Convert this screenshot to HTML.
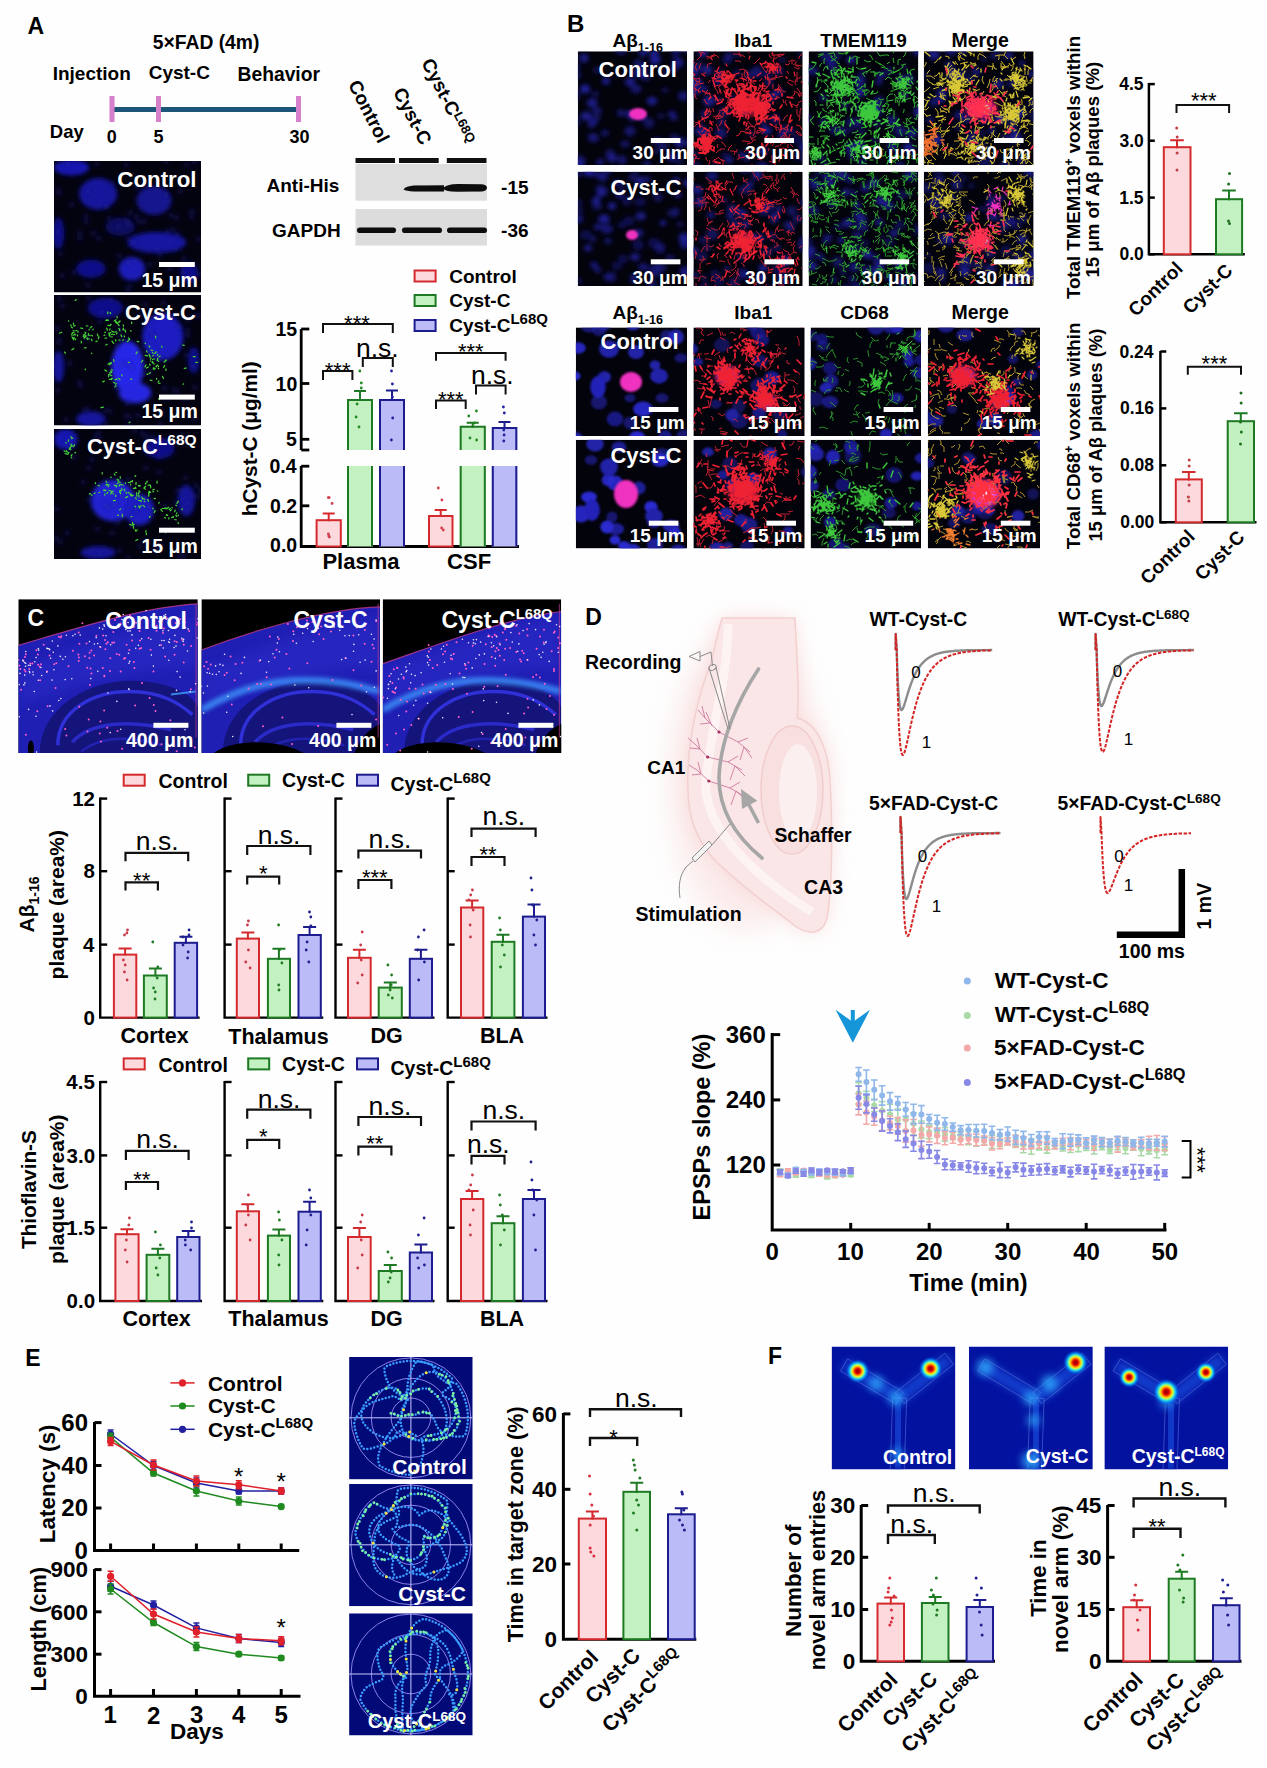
<!DOCTYPE html>
<html><head><meta charset="utf-8"><title>Figure</title>
<style>html,body{margin:0;padding:0;background:#fefefe;}svg{display:block;}text{font-family:"Liberation Sans",sans-serif;}</style>
</head><body>
<svg width="1267" height="1768" viewBox="0 0 1267 1768">
<defs>
<filter id="blurh" x="-20%" y="-50%" width="140%" height="200%"><feGaussianBlur stdDeviation="0.6"/></filter>
<filter id="blur1" x="-20%" y="-50%" width="140%" height="200%"><feGaussianBlur stdDeviation="0.8"/></filter>
<filter id="blur2" x="-50%" y="-50%" width="200%" height="200%"><feGaussianBlur stdDeviation="2"/></filter>
<filter id="blur3" x="-50%" y="-50%" width="200%" height="200%"><feGaussianBlur stdDeviation="4"/></filter>
<filter id="blur6" x="-50%" y="-50%" width="200%" height="200%"><feGaussianBlur stdDeviation="6"/></filter>
<filter id="blur10" x="-50%" y="-50%" width="200%" height="200%"><feGaussianBlur stdDeviation="10"/></filter>
<filter id="blur15" x="-80%" y="-80%" width="260%" height="260%"><feGaussianBlur stdDeviation="15"/></filter>
</defs>
<rect width="1267" height="1768" fill="#fefefe"/>
<text x="27.4" y="33.8" font-size="23" font-weight="bold" fill="#000" >A</text><text x="152.8" y="49.0" font-size="19.3" font-weight="bold" fill="#000" >5×FAD (4m)</text><text x="52.7" y="79.8" font-size="19" font-weight="bold" fill="#000" >Injection</text><text x="148.7" y="79.3" font-size="19" font-weight="bold" fill="#000" >Cyst-C</text><text x="237.5" y="80.5" font-size="19.3" font-weight="bold" fill="#000" >Behavior</text><line x1="110.0" y1="109.5" x2="299.0" y2="109.5" stroke="#1d5679" stroke-width="5" /><line x1="112.0" y1="96.0" x2="112.0" y2="122.0" stroke="#d67fcb" stroke-width="5" /><line x1="158.5" y1="96.0" x2="158.5" y2="122.0" stroke="#d67fcb" stroke-width="5" /><line x1="298.5" y1="96.0" x2="298.5" y2="122.0" stroke="#d67fcb" stroke-width="5" /><text x="49.8" y="137.7" font-size="18.5" font-weight="bold" fill="#000" >Day</text><text x="106.8" y="143.1" font-size="18" font-weight="bold" fill="#000" >0</text><text x="153.4" y="142.9" font-size="18" font-weight="bold" fill="#000" >5</text><text x="289.6" y="143.1" font-size="18" font-weight="bold" fill="#000" >30</text><text x="335.5" y="117.8" font-size="19" font-weight="bold" fill="#000" transform="rotate(63 369.0 111.0)">Control</text><text x="380.2" y="121.7" font-size="19" font-weight="bold" fill="#000" transform="rotate(63 411.0 117.0)">Cyst-C</text><text x="400.0" y="107.1" font-size="19" font-weight="bold" fill="#000" transform="rotate(63 447.0 102.0)">Cyst-C<tspan font-size="13" dy="-5">L68Q</tspan></text><rect x="355.5" y="158.0" width="39.5" height="5.0" fill="#111" /><rect x="399.0" y="158.0" width="39.7" height="5.0" fill="#111" /><rect x="446.8" y="158.0" width="39.7" height="5.0" fill="#111" /><rect x="355.5" y="164.0" width="131.5" height="36.7" fill="#dedede" /><rect x="355.5" y="209.0" width="131.5" height="36.6" fill="#dcdcdc" /><g fill="#0c0c0c" filter="url(#blurh)"><path d="M403.5 189.5 Q406 186 414 185.6 L444 185.2 L444 191.6 L414 191.4 Q406 191 403.5 189.5Z"/><path d="M443 188.5 Q446 184.2 458 184 L482 184.2 Q487 185 487 187.5 Q487 190.8 482 191.5 L458 191.8 Q446 192 443 188.5Z"/><rect x="357" y="227.5" width="39" height="5.6" rx="2.8"/><rect x="402" y="227.5" width="40" height="5.6" rx="2.8"/><rect x="447" y="227.5" width="40" height="5.6" rx="2.8"/></g><text x="266.5" y="192.3" font-size="19" font-weight="bold" fill="#000" >Anti-His</text><text x="272.0" y="237.3" font-size="19" font-weight="bold" fill="#000">GAPDH</text><text x="501.1" y="193.6" font-size="19" font-weight="bold" fill="#000" >-15</text><text x="501.1" y="237.3" font-size="19" font-weight="bold" fill="#000" >-36</text><clipPath id="ca1"><rect x="54" y="161" width="147" height="131.5"/></clipPath><g clip-path="url(#ca1)"><rect x="54.0" y="161.0" width="147.0" height="131.5" fill="#03030f" /><g filter="url(#blur2)"><ellipse cx="98.1" cy="193.9" rx="19.1" ry="15.8" fill="#14149c"/><ellipse cx="154.0" cy="200.4" rx="17.6" ry="14.5" fill="#12128e"/><ellipse cx="156.9" cy="242.5" rx="29.4" ry="10.5" fill="#1414a0"/><ellipse cx="131.9" cy="268.8" rx="13.2" ry="11.8" fill="#1a1ab8"/><ellipse cx="90.8" cy="268.8" rx="14.7" ry="9.2" fill="#10108a"/><ellipse cx="58.4" cy="233.3" rx="5.9" ry="15.8" fill="#10108a"/><ellipse cx="71.6" cy="167.6" rx="17.6" ry="7.9" fill="#1818b0"/><ellipse cx="120.2" cy="226.8" rx="14.7" ry="9.2" fill="#0c0c60"/><ellipse cx="189.2" cy="272.8" rx="8.8" ry="10.5" fill="#10108a"/></g><g filter="url(#blur2)"><path d="M73.8 272.4h0M166.3 194.5h0M126.8 220.1h0M149.8 264.7h0M67.8 164.7h0M176.9 217.9h0M166.1 161.3h0M119.5 255.9h0M87.6 285.3h0M186.5 165.0h0M57.7 232.2h0M192.1 211.1h0M85.8 216.5h0M58.3 190.2h0M118.4 226.2h0M88.3 191.4h0M86.2 221.4h0M96.6 163.8h0M177.1 234.2h0M148.4 185.4h0M199.9 274.1h0M71.8 204.7h0M160.1 254.5h0M191.7 216.5h0M176.0 249.1h0M98.6 238.3h0M183.7 272.3h0M128.3 238.5h0M59.1 192.9h0M171.2 215.5h0M79.4 233.2h0M157.3 249.7h0M109.1 218.7h0M128.7 263.4h0M130.6 212.7h0M126.0 164.9h0M60.4 253.5h0M198.5 239.0h0M111.9 183.4h0M127.8 290.1h0M167.3 232.0h0M180.5 191.5h0M129.5 286.2h0M138.9 221.4h0M93.6 233.1h0M194.7 161.8h0M169.2 268.9h0M184.3 258.4h0M172.9 229.2h0M136.5 217.0h0M62.3 275.4h0M137.8 187.3h0M128.2 224.8h0M106.4 206.5h0M133.2 243.0h0M144.0 221.2h0M58.1 191.2h0M80.1 237.9h0M180.6 266.0h0M171.2 268.4h0" stroke="#1a1a90" stroke-width="6.0" stroke-linecap="round" fill="none" opacity="0.35"/></g></g><clipPath id="ca2"><rect x="54" y="295" width="147" height="130.5"/></clipPath><g clip-path="url(#ca2)"><rect x="54.0" y="295.0" width="147.0" height="130.5" fill="#03030f" /><g filter="url(#blur2)"><ellipse cx="127.5" cy="366.8" rx="16.2" ry="26.1" fill="#2828e8"/><ellipse cx="134.9" cy="392.9" rx="16.2" ry="10.4" fill="#2626e0"/><ellipse cx="162.8" cy="336.8" rx="20.6" ry="23.5" fill="#1a1ac0"/><ellipse cx="105.4" cy="308.1" rx="17.6" ry="10.4" fill="#10108a"/><ellipse cx="90.8" cy="419.0" rx="14.7" ry="7.8" fill="#14149c"/><ellipse cx="58.4" cy="366.8" rx="5.9" ry="15.7" fill="#12129a"/><ellipse cx="193.7" cy="360.2" rx="5.9" ry="13.1" fill="#10108a"/></g><g filter="url(#blur2)"><path d="M194.5 418.7h0M62.3 306.1h0M176.8 391.0h0M152.5 335.2h0M143.1 374.2h0M139.4 315.7h0M117.3 346.4h0M160.3 424.8h0M193.6 366.0h0M119.4 330.0h0M59.3 298.6h0M122.3 336.6h0M109.9 411.4h0M131.3 368.1h0M88.7 298.1h0M101.8 312.8h0M129.0 425.3h0M153.1 318.7h0M185.4 399.0h0M162.0 413.3h0M166.1 398.1h0M106.0 423.0h0M195.4 316.0h0M164.8 388.3h0M121.8 364.2h0M126.0 415.7h0M127.6 403.5h0M106.0 410.2h0M186.3 355.2h0M137.5 415.1h0M160.4 358.5h0M86.6 337.4h0M156.8 316.7h0M187.5 330.0h0M188.0 335.4h0M194.7 387.2h0M128.1 362.6h0M149.8 371.7h0M99.8 322.1h0M129.2 416.9h0M145.6 304.8h0M174.6 389.7h0M187.4 320.0h0M163.5 302.7h0M150.0 330.6h0M87.3 409.3h0M69.6 363.2h0M179.5 327.0h0M84.9 409.9h0M116.2 388.6h0M58.7 342.3h0M79.3 382.8h0M66.2 419.6h0M57.7 390.2h0M57.1 328.4h0M173.6 315.5h0M81.0 385.2h0M110.7 300.6h0M199.5 314.8h0M59.3 339.9h0" stroke="#1a1a90" stroke-width="6.0" stroke-linecap="round" fill="none" opacity="0.35"/></g><path d="M71.4 327.0l0.9 0.8M88.3 335.5l0.2 -2.0M90.5 327.8l1.3 -1.4M75.3 334.9l-0.6 -1.0M86.9 338.4l0.5 -0.5M74.1 330.8l-0.8 -0.1M86.0 332.9l-1.0 -0.8M89.8 335.1l0.4 0.5M84.7 335.0l1.5 1.0M59.4 333.2l2.3 -1.0M81.3 341.2l-0.0 1.7M71.1 325.9l-0.2 -1.0M72.5 337.9l0.6 0.0M77.5 335.9l-0.1 -1.0M84.2 336.6l0.1 0.9M72.3 333.2l-0.7 1.7M84.2 348.0l1.9 -0.4M72.4 337.3l-0.5 -0.3M72.7 338.1l0.3 0.6M82.7 328.3l-2.3 -0.3M75.8 330.7l1.2 -0.1M91.6 335.3l0.9 0.7M86.4 325.9l1.4 0.1M73.3 338.2l0.4 1.6M85.8 336.5l-1.7 1.7M91.4 339.2l0.6 1.5M74.1 338.7l0.0 -1.3M83.2 336.5l1.9 1.1M68.7 321.3l-0.2 -0.5M73.6 324.6l-0.2 -1.5M75.4 339.8l0.3 -1.0M72.2 332.9l2.0 -0.6M93.2 329.0l-0.3 0.9M74.8 334.5l-1.7 0.8M89.0 329.9l0.3 -0.6M64.6 352.1l0.8 1.1M83.3 335.3l2.0 -1.5M78.2 331.4l-0.3 0.9M75.2 325.5l-1.4 0.6M87.4 339.4l1.9 -0.6M124.5 336.9l-0.2 -1.0M123.5 326.2l-0.4 -1.3M131.1 331.1l-0.7 -0.4M113.7 332.2l-1.9 -1.3M120.2 340.0l-1.3 0.1M110.6 313.7l-0.4 -1.4M123.4 329.9l-0.0 -1.8M117.0 316.3l0.3 1.7M105.0 338.2l1.8 -0.2M125.6 332.2l-0.5 -2.2M106.2 319.9l2.4 0.3M114.2 320.9l1.9 -1.2M128.8 340.0l0.1 -0.9M115.3 321.1l0.8 2.0M123.6 339.8l-0.9 0.4M106.7 328.0l0.7 2.3M116.4 331.8l-2.2 0.2M107.7 320.5l-1.8 0.2M112.2 336.9l-0.6 -0.0M128.7 337.8l0.9 1.8M117.7 323.8l-0.9 -1.9M118.9 328.4l0.7 1.1M108.5 333.0l1.6 0.1M124.0 330.0l-1.2 -0.3M99.0 337.1l-0.7 1.7M104.8 332.5l0.6 -0.3M119.1 325.6l-1.3 -1.7M110.7 325.1l0.4 -0.6M109.9 325.7l-2.2 -0.4M119.4 321.0l-0.3 0.9M109.6 333.0l-0.4 2.4M128.2 340.9l-0.9 0.8M114.3 334.4l-0.8 0.2M108.9 333.9l1.9 -1.4M104.0 335.5l1.0 -0.5M121.0 334.9l0.7 1.7M109.9 336.8l0.3 -0.9M120.2 321.2l-1.7 1.2M105.8 345.0l1.4 -0.7M107.8 313.8l-0.1 -2.0M129.8 318.1l0.1 -2.5M112.6 342.1l-0.6 -1.1M111.4 334.5l1.2 -0.3M97.3 334.0l0.9 2.2M117.2 332.9l-0.7 1.0M131.6 323.5l0.1 -1.4M109.5 330.0l0.7 -1.1M113.0 342.4l0.7 0.9M119.3 330.0l0.6 0.7M115.7 339.7l-0.0 1.2M154.1 369.6l-0.9 -0.8M147.0 374.1l0.7 0.3M157.6 355.1l0.1 -0.8M142.7 360.3l-1.1 1.7M149.4 357.0l1.3 0.0M145.9 364.9l-0.9 2.0M147.6 355.9l-2.4 -0.6M165.2 361.6l-1.3 0.4M152.2 362.4l1.9 1.6M163.5 378.4l-1.0 -2.1M158.4 366.5l0.2 -0.5M158.3 368.1l0.4 0.7M152.7 359.3l1.8 -0.3M165.9 368.9l0.1 1.5M151.0 361.1l-0.6 -0.0M158.1 382.3l0.7 -1.4M149.0 345.9l0.9 1.1M155.9 366.2l0.7 0.6M157.8 364.9l-1.3 1.2M162.0 347.5l-0.3 -1.5M157.0 360.1l1.7 1.3M151.1 358.4l-0.8 0.8M148.3 366.9l-1.7 1.2M156.8 352.0l-1.1 0.2M155.6 336.1l0.2 1.9M151.2 350.2l1.6 0.3M155.1 368.6l-1.6 -0.9M147.1 352.2l-0.4 -1.4M163.6 367.5l1.0 -1.9M152.6 361.4l0.2 0.7M149.1 354.2l0.9 2.2M166.4 360.2l-1.1 0.2M156.8 379.3l-0.3 -1.0M160.2 356.0l-1.1 0.7M152.8 353.0l-0.4 -0.6M152.6 355.9l0.8 -0.5M150.3 372.7l-1.2 1.0M157.5 360.0l0.3 -1.9M155.4 353.2l-1.1 0.3M149.5 364.0l0.5 1.4M114.6 382.9l-1.0 -0.5M115.7 384.2l0.6 -0.7M108.0 364.4l1.4 -1.2M111.7 379.1l0.6 -0.9M121.7 374.8l0.4 1.1M111.4 379.7l-0.2 -1.2M108.5 376.8l0.3 -0.5M110.7 371.0l1.0 1.4M111.7 375.7l-2.0 -1.2M109.6 364.9l0.8 -2.2M115.0 379.6l2.3 -0.5M114.8 386.9l1.2 -1.2M111.2 362.7l0.1 0.9M118.8 378.4l1.1 1.3M109.1 379.5l1.3 -0.2M108.5 374.7l0.2 0.9M104.8 369.9l2.0 1.3M112.1 370.6l-0.3 -1.3M110.8 372.9l-1.5 -0.1M114.0 361.5l-0.5 -1.9M129.3 362.3l-0.8 0.1M151.9 380.5l-1.7 -0.4M63.6 279.3l1.3 1.0M183.7 383.9l-0.7 0.3M103.4 407.2l-2.4 0.4M102.8 381.9l1.5 -0.8M187.9 396.4l-1.6 1.8M75.1 300.4l1.2 -0.9M137.3 351.9l-1.2 1.8M193.3 356.7l1.9 0.0M138.9 341.8l-1.7 -0.4M85.2 369.8l0.2 -0.8M184.3 368.4l2.1 -0.4M110.4 324.7l0.5 -0.3M129.1 422.7l1.0 -0.8M145.5 343.5l-0.5 -0.4M130.5 379.0l1.3 0.1M91.7 353.7l-0.3 -0.5M73.8 348.5l-1.9 1.3M160.1 383.2l-1.2 0.3M184.2 345.3l-1.4 -0.2M27.4 390.5l0.6 -1.7M158.5 398.6l0.8 0.9M195.7 362.5l1.8 -0.2M97.2 341.1l-1.3 0.5" stroke="#48d838" stroke-width="1.2" fill="none" stroke-linecap="round"/></g><clipPath id="ca3"><rect x="54" y="429" width="147" height="130"/></clipPath><g clip-path="url(#ca3)"><rect x="54.0" y="429.0" width="147.0" height="130.0" fill="#03030f" /><g filter="url(#blur2)"><ellipse cx="112.8" cy="500.5" rx="22.1" ry="20.8" fill="#2020d0"/><ellipse cx="139.3" cy="509.6" rx="14.7" ry="15.6" fill="#1c1cc0"/><ellipse cx="65.8" cy="439.4" rx="11.8" ry="10.4" fill="#1818b0"/><ellipse cx="186.3" cy="500.5" rx="8.8" ry="15.6" fill="#12129a"/><ellipse cx="98.1" cy="552.5" rx="17.6" ry="6.5" fill="#12129a"/><ellipse cx="159.8" cy="448.5" rx="14.7" ry="10.4" fill="#10108a"/></g><g filter="url(#blur2)"><path d="M89.0 499.7h0M108.4 507.5h0M146.0 437.5h0M55.9 537.9h0M92.1 459.5h0M200.4 490.1h0M177.0 490.9h0M147.9 448.6h0M147.3 541.8h0M130.9 525.4h0M152.7 437.3h0M165.5 505.8h0M98.3 433.0h0M181.2 490.5h0M159.7 543.2h0M159.0 548.7h0M112.1 533.1h0M119.4 550.6h0M183.2 441.7h0M74.0 457.2h0M195.9 485.7h0M146.1 468.1h0M128.6 479.2h0M105.6 505.1h0M139.9 546.5h0M154.3 549.8h0M179.9 557.8h0M152.7 450.2h0M180.5 554.4h0M187.0 503.0h0M158.9 456.4h0M176.2 503.6h0M95.9 437.2h0M179.5 557.7h0M67.0 533.1h0M114.3 448.6h0M97.2 528.9h0M182.3 434.7h0M144.3 434.8h0M159.6 472.0h0M183.5 556.5h0M128.3 558.8h0M99.5 439.0h0M142.2 433.1h0M83.0 482.0h0M143.7 449.3h0M60.2 541.8h0M100.1 553.6h0M185.8 478.1h0M121.7 496.6h0M148.7 506.4h0M136.2 509.6h0M192.3 494.9h0M117.4 522.6h0M88.9 468.1h0M197.7 496.7h0M134.6 430.5h0M115.0 504.4h0M56.9 509.1h0M146.9 436.8h0" stroke="#1a1a90" stroke-width="6.0" stroke-linecap="round" fill="none" opacity="0.35"/></g><path d="M106.6 482.3l-0.5 -1.1M110.6 477.2l0.6 0.1M102.2 472.6l-0.0 1.4M107.1 484.4l-0.7 0.8M105.0 493.9l-0.4 1.2M116.1 486.0l-1.8 -0.8M112.7 491.8l0.3 -0.9M120.6 493.9l-0.2 -0.7M111.1 492.8l0.7 -1.2M120.1 484.4l-0.9 1.5M125.4 482.8l0.1 0.7M108.2 486.7l0.8 -2.0M119.6 492.3l0.7 -1.7M119.5 481.9l0.7 0.8M118.3 482.5l-0.8 1.1M105.2 490.7l0.7 -0.4M143.9 488.0l1.8 -1.7M89.4 493.9l0.9 -0.4M115.1 475.1l-0.8 -1.3M113.1 493.3l0.1 0.6M107.5 484.7l0.2 -0.5M130.6 481.8l2.1 -1.0M128.2 482.5l2.0 0.2M120.4 492.3l-0.8 -1.3M91.9 495.4l-0.9 -0.8M115.4 500.4l-2.0 0.3M111.1 491.0l-2.1 -0.5M125.6 497.6l1.9 -1.0M116.4 486.8l-1.5 -1.6M124.6 489.1l-0.2 1.5M104.0 490.9l0.1 -0.5M121.5 488.6l0.5 0.5M138.5 485.5l1.3 0.8M111.6 492.7l-1.1 1.4M106.2 484.3l0.4 1.1M126.4 493.3l-0.3 -1.2M122.2 489.5l-1.2 1.2M118.1 481.3l0.6 -1.6M105.4 490.1l-1.9 0.0M99.8 492.3l-1.0 0.2M98.1 485.3l1.2 0.6M94.1 493.5l1.2 -0.5M132.4 480.6l-0.1 1.4M131.1 495.8l-1.2 -2.0M120.3 478.2l-0.1 -1.6M128.2 492.7l0.8 0.0M116.3 485.6l0.6 0.4M121.1 484.7l2.2 0.3M132.1 496.1l-1.0 -1.9M130.5 485.0l0.2 -0.5M117.3 479.8l-0.1 -0.7M115.6 472.3l1.1 0.4M95.4 482.7l0.0 0.9M115.7 496.5l0.0 -1.3M107.8 492.3l-0.8 1.1M154.1 498.6l1.3 -0.2M145.1 489.4l-0.7 -1.9M140.2 485.6l-1.8 0.2M149.1 491.3l1.6 1.1M154.4 489.3l-1.8 0.7M147.9 499.7l0.5 1.6M142.6 499.2l-0.8 -2.3M141.2 505.7l-1.9 1.1M139.1 490.9l0.1 0.5M136.5 495.0l0.6 1.1M138.5 506.1l1.5 2.0M133.3 495.3l-2.1 0.4M150.0 485.0l-1.9 0.2M150.7 487.8l-0.2 -2.4M138.9 495.1l0.2 1.9M135.1 476.4l0.6 -0.8M147.7 499.6l0.7 1.8M157.1 481.0l-0.1 2.2M141.5 501.5l-0.1 -0.7M159.1 502.1l-0.3 1.2M133.6 488.3l1.2 0.1M135.8 497.5l0.4 1.6M153.6 491.8l-0.7 -0.2M143.1 505.4l1.7 1.5M148.5 492.1l1.2 -0.4M147.2 481.0l-0.5 1.8M136.1 482.4l-0.2 2.0M157.9 491.2l-0.7 -0.2M136.9 494.3l-0.3 -1.8M140.0 492.0l-1.1 -1.4M153.1 508.8l-0.4 -0.6M149.6 492.2l-1.0 1.7M136.0 488.3l-0.8 -1.1M143.0 498.5l1.8 0.8M145.5 484.2l-0.1 -1.2M144.3 501.6l0.4 -0.4M138.5 493.8l0.2 -1.2M140.7 500.9l-2.0 -0.5M134.8 506.1l0.8 0.7M148.6 496.2l0.4 -1.9M173.5 516.6l-1.7 1.0M176.5 505.6l-0.7 -0.4M167.7 515.5l-1.6 -0.3M173.3 517.3l0.1 -0.5M176.7 503.2l1.2 -0.4M162.4 511.3l-1.6 -1.8M169.2 509.5l1.0 -1.1M162.1 508.5l2.0 0.0M167.1 508.4l-1.4 -0.2M174.7 519.5l1.5 0.3M166.8 509.0l-2.2 -1.0M174.7 511.7l0.5 -1.7M178.2 515.0l0.1 0.7M155.2 510.6l-1.0 2.0M170.3 510.9l1.1 -1.3M182.1 509.8l-0.1 -1.2M177.5 502.2l0.9 -1.0M172.0 507.5l0.5 0.4M175.9 515.1l0.8 1.3M168.7 507.4l-1.6 0.8M168.8 519.0l0.1 -1.3M178.3 523.6l-0.2 -1.2M165.4 518.1l-0.8 -0.5M176.6 513.6l0.2 -0.8M166.9 514.4l0.2 0.8M66.5 451.6l0.7 0.1M71.2 457.7l0.5 0.2M64.4 451.5l-0.2 -0.6M65.1 453.7l2.4 0.4M69.1 452.5l-0.8 0.1M65.8 442.7l0.4 0.4M68.2 441.3l0.4 -1.4M72.1 445.4l-0.0 1.0M71.2 436.7l-0.4 0.6M63.9 426.6l-0.4 -0.3M70.6 449.3l0.3 0.5M74.8 452.9l0.7 -0.5M73.7 446.8l0.8 -2.2M69.8 447.6l-0.6 1.6M70.5 447.2l-0.6 2.1M72.0 454.5l-0.9 1.6M71.2 446.1l-0.1 -2.0M71.6 438.6l1.1 -0.5M66.0 451.9l0.3 -1.4M68.4 454.0l-0.3 -1.7M132.0 516.5l-0.8 0.1M134.2 524.3l-2.0 0.4M132.5 522.3l0.2 2.2M119.7 509.8l1.0 -1.0M150.1 516.3l-0.6 1.1M145.5 531.1l0.7 -0.2M129.7 524.4l1.6 0.9M135.1 529.8l1.0 1.5M133.3 525.7l0.3 2.4M137.7 539.6l-1.8 1.0M118.4 515.3l-0.9 -0.2M136.9 530.3l0.3 -0.6M165.1 530.6l0.7 2.2M146.1 532.5l0.4 2.1M122.2 516.6l0.2 -2.2" stroke="#48d838" stroke-width="1.2" fill="none" stroke-linecap="round"/></g><text x="117.3" y="187.2" font-size="22.3" font-weight="bold" fill="#fff">Control</text><text x="124.9" y="319.8" font-size="22" font-weight="bold" fill="#fff">Cyst-C</text><text x="86.9" y="454.0" font-size="22" font-weight="bold" fill="#fff">Cyst-C<tspan font-size="15.5" dy="-9">L68Q</tspan></text><rect x="159.0" y="262.0" width="35.8" height="5.0" fill="#fff" /><text x="141.5" y="286.9" font-size="19.5" font-weight="bold" fill="#fff">15 μm</text><rect x="159.0" y="394.6" width="35.8" height="5.0" fill="#fff" /><text x="141.5" y="418.4" font-size="19.5" font-weight="bold" fill="#fff">15 μm</text><rect x="159.0" y="527.7" width="35.8" height="5.0" fill="#fff" /><text x="141.5" y="552.9" font-size="19.5" font-weight="bold" fill="#fff">15 μm</text><path d="M301.2 329V450M301.2 466V546.5H519" stroke="#000" stroke-width="2.8" fill="none"/><line x1="301.2" y1="329.0" x2="309.3" y2="329.0" stroke="#000" stroke-width="2.8" /><line x1="301.2" y1="383.5" x2="309.3" y2="383.5" stroke="#000" stroke-width="2.8" /><line x1="301.2" y1="439.3" x2="309.3" y2="439.3" stroke="#000" stroke-width="2.8" /><line x1="301.2" y1="450.0" x2="309.3" y2="450.0" stroke="#000" stroke-width="2.8" /><line x1="301.2" y1="466.2" x2="309.3" y2="466.2" stroke="#000" stroke-width="2.8" /><line x1="301.2" y1="505.8" x2="309.3" y2="505.8" stroke="#000" stroke-width="2.8" /><text x="275.4" y="336.0" font-size="19.5" font-weight="bold" fill="#000">15</text><text x="275.6" y="390.7" font-size="19.5" font-weight="bold" fill="#000">10</text><text x="286.1" y="446.0" font-size="19.5" font-weight="bold" fill="#000">5</text><text x="269.4" y="472.9" font-size="19.5" font-weight="bold" fill="#000">0.4</text><text x="270.1" y="512.7" font-size="19.5" font-weight="bold" fill="#000">0.2</text><text x="270.1" y="552.2" font-size="19.5" font-weight="bold" fill="#000">0.0</text><text x="174.4" y="444.0" font-size="20.8" font-weight="bold" fill="#000" transform="rotate(-90 252.0 438.6)">hCyst-C (μg/ml)</text><rect x="316.6" y="520.2" width="24.2" height="26.3" fill="#fcd9dc" stroke="#d42a2e" stroke-width="2"/><path d="M328.7 521.2V513.5M322.7 513.5H334.7" stroke="#d42a2e" stroke-width="2" fill="none"/><g fill="#d04050"><circle cx="328.3" cy="497.6" r="1.4"/><circle cx="329.2" cy="497.6" r="1.4"/><circle cx="332.1" cy="503.5" r="1.4"/><circle cx="328.4" cy="534.0" r="1.4"/><circle cx="328.8" cy="536.0" r="1.4"/><circle cx="329.4" cy="537.0" r="1.4"/></g><rect x="347.0" y="399.0" width="26.0" height="51.0" fill="#c4f1c2" /><rect x="347.0" y="466.0" width="26.0" height="80.5" fill="#c4f1c2" /><path d="M348 450V400H372V450M348 466V546.5M372 466V546.5" stroke="#1d7a22" stroke-width="2" fill="none"/><path d="M360.0 401.0V391.0M354.0 391.0H366.0" stroke="#1d7a22" stroke-width="2" fill="none"/><g fill="#208a20"><circle cx="359.8" cy="371.0" r="1.4"/><circle cx="361.3" cy="383.0" r="1.4"/><circle cx="361.3" cy="388.0" r="1.4"/><circle cx="357.1" cy="404.0" r="1.4"/><circle cx="356.1" cy="417.0" r="1.4"/><circle cx="359.0" cy="427.0" r="1.4"/></g><rect x="379.0" y="399.0" width="26.0" height="51.0" fill="#bbbbf7" /><rect x="379.0" y="466.0" width="26.0" height="80.5" fill="#bbbbf7" /><path d="M380 450V400H404V450M380 466V546.5M404 466V546.5" stroke="#1c1c8e" stroke-width="2" fill="none"/><path d="M392.0 401.0V390.5M386.0 390.5H398.0" stroke="#1c1c8e" stroke-width="2" fill="none"/><g fill="#2020a0"><circle cx="391.5" cy="371.0" r="1.4"/><circle cx="392.4" cy="384.0" r="1.4"/><circle cx="392.4" cy="397.0" r="1.4"/><circle cx="392.7" cy="418.0" r="1.4"/><circle cx="391.4" cy="440.0" r="1.4"/></g><rect x="429.0" y="516.0" width="23.5" height="30.5" fill="#fcd9dc" stroke="#d42a2e" stroke-width="2"/><path d="M440.7 517.0V510.0M434.7 510.0H446.7" stroke="#d42a2e" stroke-width="2" fill="none"/><g fill="#d04050"><circle cx="438.3" cy="488.0" r="1.4"/><circle cx="441.9" cy="500.0" r="1.4"/><circle cx="441.6" cy="528.0" r="1.4"/><circle cx="443.3" cy="530.0" r="1.4"/></g><rect x="459.7" y="425.8" width="26.1" height="24.2" fill="#c4f1c2" /><rect x="459.7" y="466.0" width="26.1" height="80.5" fill="#c4f1c2" /><path d="M460.7 450V426.8H484.8V450M460.7 466V546.5M484.8 466V546.5" stroke="#1d7a22" stroke-width="2" fill="none"/><path d="M472.7 427.8V422.8M466.7 422.8H478.7" stroke="#1d7a22" stroke-width="2" fill="none"/><g fill="#208a20"><circle cx="476.4" cy="411.0" r="1.4"/><circle cx="468.8" cy="416.0" r="1.4"/><circle cx="474.6" cy="423.0" r="1.4"/><circle cx="470.0" cy="438.0" r="1.4"/><circle cx="476.6" cy="440.0" r="1.4"/></g><rect x="491.8" y="427.0" width="25.5" height="23.0" fill="#bbbbf7" /><rect x="491.8" y="466.0" width="25.5" height="80.5" fill="#bbbbf7" /><path d="M492.8 450V428H516.3V450M492.8 466V546.5M516.3 466V546.5" stroke="#1c1c8e" stroke-width="2" fill="none"/><path d="M504.5 429.0V422.0M498.5 422.0H510.5" stroke="#1c1c8e" stroke-width="2" fill="none"/><g fill="#2020a0"><circle cx="503.4" cy="407.0" r="1.4"/><circle cx="504.3" cy="413.0" r="1.4"/><circle cx="503.8" cy="430.0" r="1.4"/><circle cx="504.1" cy="435.0" r="1.4"/><circle cx="503.8" cy="441.0" r="1.4"/></g><path d="M323.0 333.0V324.0H392.8V333.0" stroke="#111" stroke-width="2" fill="none"/><text x="344.1" y="330.9" font-size="22" font-weight="normal" fill="#000">***</text><path d="M362.8 367.0V358.0H392.8V367.0" stroke="#111" stroke-width="2" fill="none"/><text x="355.9" y="356.6" font-size="26.5" font-weight="normal" fill="#000">n.s.</text><path d="M323.0 380.0V371.0H352.4V380.0" stroke="#111" stroke-width="2" fill="none"/><text x="324.8" y="377.8" font-size="22" font-weight="normal" fill="#000">***</text><path d="M436.0 360.7V353.0H505.6V360.7" stroke="#111" stroke-width="2" fill="none"/><text x="457.9" y="358.9" font-size="22" font-weight="normal" fill="#000">***</text><path d="M476.0 394.6V385.5H505.6V394.6" stroke="#111" stroke-width="2" fill="none"/><text x="470.9" y="384.0" font-size="26.5" font-weight="normal" fill="#000">n.s.</text><path d="M436.0 409.0V400.5H465.7V409.0" stroke="#111" stroke-width="2" fill="none"/><text x="437.9" y="407.2" font-size="22" font-weight="normal" fill="#000">***</text><text x="322.4" y="569.1" font-size="22" font-weight="bold" fill="#000">Plasma</text><text x="447.1" y="568.8" font-size="22" font-weight="bold" fill="#000">CSF</text><rect x="414.6" y="270.5" width="21" height="11" fill="#fcd9dc" stroke="#d42a2e" stroke-width="2"/><rect x="414.6" y="295" width="21" height="11" fill="#c4f1c2" stroke="#1d7a22" stroke-width="2"/><rect x="414.6" y="320" width="21" height="11" fill="#bbbbf7" stroke="#1c1c8e" stroke-width="2"/><text x="449.2" y="283.3" font-size="19" font-weight="bold" fill="#000" >Control</text><text x="449.2" y="307.3" font-size="19" font-weight="bold" fill="#000" >Cyst-C</text><text x="449.2" y="332.3" font-size="19" font-weight="bold" fill="#000">Cyst-C<tspan font-size="15" dy="-8">L68Q</tspan></text><text x="567.1" y="32.3" font-size="24" font-weight="bold" fill="#000" >B</text><text x="612.5" y="46.6" font-size="19" font-weight="bold">Aβ<tspan font-size="12.5" dy="5">1-16</tspan></text><text x="734.3" y="47.3" font-size="19" font-weight="bold" fill="#000" >Iba1</text><text x="820.3" y="46.8" font-size="19" font-weight="bold" fill="#000" >TMEM119</text><text x="951.4" y="46.9" font-size="19.5" font-weight="bold" fill="#000" >Merge</text><text x="612.5" y="318.7" font-size="19" font-weight="bold">Aβ<tspan font-size="12.5" dy="5">1-16</tspan></text><text x="734.3" y="319.4" font-size="19" font-weight="bold" fill="#000" >Iba1</text><text x="840.2" y="318.9" font-size="19" font-weight="bold" fill="#000" >CD68</text><text x="951.4" y="319.0" font-size="19.5" font-weight="bold" fill="#000" >Merge</text><clipPath id="m1"><rect x="577.8" y="51.3" width="109.2" height="113.7"/></clipPath><g clip-path="url(#m1)"><rect x="577.8" y="51.3" width="109.2" height="113.7" fill="#03030c" /><g fill="#1c1c90" filter="url(#blur2)"><ellipse cx="592" cy="103" rx="5.3" ry="4.8" opacity="0.9"/><ellipse cx="625" cy="144" rx="4.6" ry="3.3" opacity="0.7"/><ellipse cx="580" cy="160" rx="5.8" ry="4.7" opacity="0.6"/><ellipse cx="663" cy="73" rx="3.5" ry="2.7" opacity="0.6"/><ellipse cx="647" cy="164" rx="3.6" ry="3.6" opacity="0.8"/><ellipse cx="679" cy="146" rx="3.5" ry="3.1" opacity="0.5"/><ellipse cx="575" cy="96" rx="5.3" ry="4.6" opacity="0.6"/><ellipse cx="672" cy="158" rx="3.7" ry="3.1" opacity="0.8"/><ellipse cx="679" cy="63" rx="4.7" ry="4.6" opacity="0.8"/><ellipse cx="657" cy="141" rx="4.5" ry="3.6" opacity="0.8"/><ellipse cx="636" cy="89" rx="5.6" ry="4.5" opacity="0.7"/><ellipse cx="663" cy="146" rx="5.7" ry="5.1" opacity="0.6"/><ellipse cx="672" cy="157" rx="5.1" ry="4.8" opacity="0.7"/><ellipse cx="632" cy="118" rx="3.4" ry="3.1" opacity="0.9"/><ellipse cx="594" cy="139" rx="5.1" ry="3.8" opacity="0.5"/><ellipse cx="643" cy="75" rx="3.9" ry="3.5" opacity="0.8"/><ellipse cx="661" cy="116" rx="4.0" ry="2.8" opacity="0.5"/><ellipse cx="597" cy="111" rx="5.2" ry="3.9" opacity="0.7"/><ellipse cx="683" cy="96" rx="5.1" ry="4.6" opacity="0.8"/><ellipse cx="630" cy="114" rx="5.1" ry="3.8" opacity="0.9"/><ellipse cx="675" cy="54" rx="3.6" ry="2.8" opacity="0.5"/><ellipse cx="591" cy="125" rx="3.4" ry="2.4" opacity="1.0"/><ellipse cx="621" cy="113" rx="4.4" ry="3.6" opacity="0.7"/><ellipse cx="597" cy="118" rx="3.8" ry="2.8" opacity="0.6"/><ellipse cx="622" cy="160" rx="4.8" ry="4.8" opacity="0.7"/><ellipse cx="605" cy="133" rx="3.6" ry="3.6" opacity="0.7"/><ellipse cx="606" cy="81" rx="3.9" ry="3.8" opacity="1.0"/><ellipse cx="639" cy="76" rx="3.0" ry="2.2" opacity="0.6"/><ellipse cx="649" cy="123" rx="5.6" ry="5.3" opacity="0.6"/><ellipse cx="652" cy="101" rx="5.2" ry="3.9" opacity="1.0"/><ellipse cx="577" cy="122" rx="4.1" ry="3.8" opacity="0.5"/><ellipse cx="677" cy="49" rx="5.2" ry="4.7" opacity="0.7"/><ellipse cx="595" cy="94" rx="4.3" ry="3.3" opacity="0.5"/><ellipse cx="672" cy="114" rx="3.8" ry="3.4" opacity="0.8"/><ellipse cx="590" cy="118" rx="4.8" ry="3.5" opacity="0.6"/><ellipse cx="674" cy="118" rx="3.7" ry="3.0" opacity="0.7"/><ellipse cx="656" cy="151" rx="3.3" ry="2.3" opacity="0.7"/><ellipse cx="577" cy="67" rx="3.3" ry="2.4" opacity="0.8"/><ellipse cx="586" cy="116" rx="5.9" ry="4.4" opacity="0.9"/><ellipse cx="642" cy="69" rx="5.8" ry="5.4" opacity="0.7"/><ellipse cx="677" cy="61" rx="5.5" ry="5.2" opacity="0.5"/><ellipse cx="680" cy="142" rx="5.7" ry="4.5" opacity="0.9"/><ellipse cx="665" cy="90" rx="3.1" ry="2.2" opacity="0.7"/><ellipse cx="638" cy="63" rx="4.9" ry="3.5" opacity="0.7"/><ellipse cx="634" cy="73" rx="3.1" ry="3.1" opacity="0.9"/><ellipse cx="643" cy="52" rx="4.6" ry="4.5" opacity="0.9"/><ellipse cx="654" cy="53" rx="4.7" ry="3.6" opacity="1.0"/><ellipse cx="576" cy="75" rx="5.6" ry="4.2" opacity="0.6"/><ellipse cx="610" cy="154" rx="5.1" ry="5.0" opacity="0.6"/><ellipse cx="585" cy="89" rx="5.3" ry="4.7" opacity="1.0"/><ellipse cx="657" cy="58" rx="3.9" ry="3.0" opacity="0.6"/><ellipse cx="652" cy="101" rx="5.3" ry="3.7" opacity="0.9"/><ellipse cx="593" cy="137" rx="5.5" ry="3.9" opacity="0.7"/><ellipse cx="687" cy="49" rx="4.5" ry="3.7" opacity="0.7"/><ellipse cx="597" cy="70" rx="3.8" ry="2.9" opacity="0.6"/><ellipse cx="679" cy="162" rx="3.8" ry="2.7" opacity="0.6"/><ellipse cx="673" cy="69" rx="5.0" ry="3.6" opacity="0.6"/><ellipse cx="594" cy="122" rx="4.1" ry="3.8" opacity="0.7"/><ellipse cx="621" cy="51" rx="5.5" ry="3.9" opacity="0.7"/><ellipse cx="689" cy="143" rx="4.1" ry="4.0" opacity="0.6"/><ellipse cx="642" cy="117" rx="5.2" ry="4.1" opacity="0.7"/><ellipse cx="612" cy="158" rx="5.2" ry="4.2" opacity="0.9"/><ellipse cx="646" cy="78" rx="4.5" ry="3.3" opacity="0.6"/><ellipse cx="584" cy="58" rx="4.8" ry="4.6" opacity="0.9"/><ellipse cx="600" cy="162" rx="4.0" ry="3.6" opacity="0.8"/><ellipse cx="630" cy="131" rx="5.7" ry="5.2" opacity="0.7"/><ellipse cx="674" cy="138" rx="4.1" ry="4.1" opacity="0.7"/><ellipse cx="579" cy="164" rx="5.8" ry="5.0" opacity="0.9"/><ellipse cx="655" cy="60" rx="5.4" ry="4.8" opacity="1.0"/><ellipse cx="630" cy="82" rx="5.3" ry="4.6" opacity="0.9"/></g><ellipse cx="638" cy="114" rx="9" ry="6" fill="#f030c0" opacity="1" filter="url(#blur1)"/></g><clipPath id="m2"><rect x="693.4" y="51.3" width="109.3" height="113.7"/></clipPath><g clip-path="url(#m2)"><rect x="693.4" y="51.3" width="109.3" height="113.7" fill="#03030c" /><g fill="#1c1c90" filter="url(#blur2)"><ellipse cx="757" cy="72" rx="5.9" ry="5.8" opacity="0.7"/><ellipse cx="767" cy="74" rx="3.7" ry="2.9" opacity="0.8"/><ellipse cx="715" cy="165" rx="3.2" ry="2.4" opacity="0.5"/><ellipse cx="779" cy="92" rx="4.4" ry="3.5" opacity="0.8"/><ellipse cx="737" cy="73" rx="4.3" ry="3.4" opacity="0.5"/><ellipse cx="785" cy="130" rx="5.0" ry="4.8" opacity="0.7"/><ellipse cx="734" cy="99" rx="4.2" ry="3.8" opacity="0.5"/><ellipse cx="744" cy="112" rx="4.0" ry="2.9" opacity="0.8"/><ellipse cx="691" cy="116" rx="3.5" ry="2.5" opacity="0.5"/><ellipse cx="698" cy="66" rx="5.1" ry="4.6" opacity="0.6"/><ellipse cx="766" cy="105" rx="4.5" ry="4.3" opacity="0.6"/><ellipse cx="791" cy="131" rx="5.1" ry="3.5" opacity="0.5"/><ellipse cx="694" cy="90" rx="5.8" ry="5.6" opacity="0.9"/><ellipse cx="704" cy="133" rx="5.3" ry="5.0" opacity="0.9"/><ellipse cx="707" cy="70" rx="5.4" ry="5.0" opacity="0.9"/><ellipse cx="742" cy="155" rx="3.4" ry="3.4" opacity="0.9"/><ellipse cx="729" cy="56" rx="4.6" ry="4.2" opacity="0.6"/><ellipse cx="697" cy="82" rx="5.5" ry="4.0" opacity="1.0"/><ellipse cx="719" cy="73" rx="3.3" ry="3.3" opacity="0.9"/><ellipse cx="727" cy="60" rx="5.0" ry="4.8" opacity="0.5"/><ellipse cx="763" cy="151" rx="4.4" ry="3.8" opacity="0.9"/><ellipse cx="718" cy="81" rx="5.0" ry="4.3" opacity="0.7"/><ellipse cx="729" cy="160" rx="3.9" ry="3.5" opacity="0.9"/><ellipse cx="737" cy="55" rx="3.7" ry="2.6" opacity="0.5"/><ellipse cx="704" cy="89" rx="4.1" ry="3.4" opacity="0.8"/><ellipse cx="768" cy="131" rx="4.1" ry="3.7" opacity="0.8"/><ellipse cx="705" cy="114" rx="4.0" ry="3.6" opacity="0.9"/><ellipse cx="718" cy="100" rx="4.4" ry="3.4" opacity="0.5"/><ellipse cx="696" cy="167" rx="5.2" ry="4.3" opacity="0.8"/><ellipse cx="721" cy="133" rx="5.9" ry="5.5" opacity="0.7"/><ellipse cx="804" cy="159" rx="3.2" ry="2.6" opacity="0.7"/><ellipse cx="722" cy="122" rx="3.4" ry="3.2" opacity="0.9"/><ellipse cx="698" cy="131" rx="3.8" ry="3.4" opacity="0.8"/><ellipse cx="803" cy="144" rx="4.0" ry="3.7" opacity="0.5"/><ellipse cx="773" cy="98" rx="3.8" ry="2.9" opacity="0.6"/><ellipse cx="782" cy="60" rx="3.7" ry="2.8" opacity="0.5"/><ellipse cx="775" cy="119" rx="5.0" ry="4.8" opacity="0.7"/><ellipse cx="695" cy="71" rx="4.5" ry="4.2" opacity="1.0"/><ellipse cx="749" cy="75" rx="4.8" ry="4.7" opacity="0.6"/><ellipse cx="798" cy="156" rx="4.7" ry="4.0" opacity="0.5"/><ellipse cx="703" cy="53" rx="4.8" ry="4.4" opacity="1.0"/><ellipse cx="760" cy="167" rx="4.2" ry="3.1" opacity="0.5"/><ellipse cx="724" cy="112" rx="6.0" ry="4.7" opacity="0.6"/><ellipse cx="774" cy="95" rx="4.7" ry="3.5" opacity="0.9"/><ellipse cx="796" cy="139" rx="5.8" ry="4.6" opacity="0.5"/><ellipse cx="726" cy="156" rx="4.4" ry="3.4" opacity="0.5"/><ellipse cx="709" cy="101" rx="5.8" ry="5.6" opacity="0.9"/><ellipse cx="778" cy="71" rx="5.3" ry="4.1" opacity="0.7"/><ellipse cx="694" cy="155" rx="3.4" ry="3.0" opacity="0.8"/><ellipse cx="765" cy="130" rx="4.1" ry="3.9" opacity="1.0"/><ellipse cx="762" cy="166" rx="5.5" ry="4.0" opacity="0.8"/><ellipse cx="701" cy="127" rx="4.1" ry="3.9" opacity="0.5"/><ellipse cx="800" cy="54" rx="3.2" ry="2.2" opacity="0.5"/><ellipse cx="804" cy="148" rx="5.8" ry="4.3" opacity="0.8"/><ellipse cx="782" cy="135" rx="3.8" ry="3.8" opacity="0.9"/><ellipse cx="769" cy="82" rx="4.2" ry="3.9" opacity="0.7"/><ellipse cx="747" cy="158" rx="4.3" ry="4.1" opacity="0.5"/><ellipse cx="752" cy="134" rx="3.0" ry="2.8" opacity="0.6"/><ellipse cx="763" cy="123" rx="3.4" ry="3.4" opacity="0.6"/><ellipse cx="706" cy="101" rx="3.2" ry="2.3" opacity="0.9"/></g><ellipse cx="748" cy="106" rx="16" ry="10" fill="#ff2244" opacity="0.7" filter="url(#blur2)"/><path d="M704 113l3 -2 4 0M711 60l1 -4 3 -2M749 160l-0 -4 1 -1M774 118l3 0 3 2M755 84l-4 -2 0 -3M773 61l2 3 -0 1M710 108l-1 2 1 2M780 71l1 -2 -1 -4M694 88l2 2 -1 2M772 155l0 5 2 4M757 91l3 -3 1 -3M726 84l5 -2 2 -4M771 53l3 2 -0 4M721 102l2 -1 0 -3M768 151l1 -1 0 -2M759 97l3 -2 4 -1M716 153l3 -3 2 -0M699 93l-1 -3 3 -3M770 106l3 4 3 0M776 124l0 5 1 2M741 131l4 1 4 1M733 116l2 -0 3 1M726 83l1 4 4 3M750 84l1 -4 1 -1M769 54l1 3 2 1M756 136l-3 2 -2 -0M802 54l-3 3 -0 2M712 162l2 -2 1 -1M695 76l-1 -3 -2 -2M702 90l4 3 4 1M730 99l-2 -1 -3 -2M701 74l3 0 2 -2M711 111l-1 4 -4 3M744 152l2 -2 5 1M711 137l-1 -4 0 -2M785 133l2 4 -0 1M697 71l-2 -4 2 -4M716 73l3 2 2 1M783 121l2 -4 3 -2M738 112l-4 1 -3 -2M721 115l-2 1 -1 3M796 131l4 2 2 3M694 87l-2 3 1 3M760 124l-4 0 -2 4M788 148l0 -3 -0 -1M779 149l4 -1 4 1M707 59l4 -3 3 -1M737 149l-0 2 -1 1M772 125l3 2 4 1M778 89l2 2 2 3M797 88l2 3 3 3M766 114l1 -2 2 -1M746 114l-2 -1 -2 -0M724 99l-2 1 -5 0M797 72l0 3 -0 4M758 107l5 -0 2 1M777 55l4 -1 2 2M771 80l2 -1 -0 -2M766 112l1 -4 4 -2M701 63l-1 2 -1 4M713 108l0 2 1 2M769 161l3 1 3 1M710 160l-1 4 0 3M790 122l-3 4 1 5M767 79l5 -0 4 -0M704 83l-5 1 -4 2M757 133l0 -2 3 -1M707 68l1 -4 4 -1M753 99l0 -5 -1 -3M706 56l3 1 4 3M775 161l-0 5 1 2M753 165l-2 0 -3 2M768 69l-1 2 -1 2M728 109l0 -4 1 -2M795 65l2 1 2 1M715 52l1 -2 3 -4M721 118l2 -2 1 0M756 140l-4 0 -2 -4M746 130l3 -3 -1 -2M760 64l3 4 3 4M785 140l-2 1 -0 2M748 121l2 3 4 3M726 147l-3 -4 -2 -1M747 81l-4 -3 -1 -1M699 123l-2 1 -3 3M762 89l5 -1 0 -2M760 90l1 4 -2 2M799 117l-2 -3 -0 -5M748 106l1 -4 1 -1M707 93l3 1 1 -0M709 124l2 -2 3 -0M695 157l3 2 2 -1M732 94l-5 -1 -3 -1M784 103l-1 -3 0 -1M712 131l-0 -3 -3 -1M705 95l2 -4 1 -1M773 55l4 -0 4 2M783 138l2 -1 0 -4M706 143l-4 2 -0 3M772 135l1 2 -2 4M749 53l-1 -4 1 -5M763 144l0 3 -5 2M705 122l-2 -4 -2 -2M794 67l4 2 2 -1M755 128l-0 4 -2 4M745 157l-5 1 -3 2M725 123l0 -2 1 -1M780 68l0 3 2 3M732 145l-3 3 -1 3M758 91l1 -4 1 -3M718 88l3 -3 3 -4M796 132l2 2 3 2M726 104l2 -2 -0 -3M695 93l0 4 2 2M788 128l-2 2 -4 -2M769 80l0 5 -3 3M727 133l2 -4 1 -1M699 83l1 -3 -2 -2M711 98l-1 -3 -1 -3M799 157l-2 -0 -1 -1M694 62l-4 2 -4 2M751 134l-4 -1 -2 0M780 141l1 -4 3 -2M766 130l-2 1 -4 -1M729 100l4 3 3 -1M696 149l-1 -4 -1 -4M792 61l-0 2 -0 1M763 120l-1 -4 -1 -0M742 110l-1 -3 2 -2M747 128l4 -2 2 1M705 54l-3 -2 -3 0M716 119l5 -1 1 -1M720 112l-2 3 -3 4M732 98l-2 3 1 3M750 142l-5 -1 -3 0M732 52l-1 -4 1 -1M787 139l2 -1 1 -4M767 63l5 1 2 2M745 70l-1 5 3 4M778 93l0 -4 1 -3M739 159l0 -3 0 -2M708 83l2 -2 0 -1M801 81l2 4 4 1M772 56l1 -3 -3 -3M795 92l-1 3 -4 3M768 95l-5 1 -2 2M714 163l1 -3 4 -3M727 89l-1 4 -0 4M736 136l3 -1 2 -4M799 97l4 -3 4 2M743 88l0 3 1 1M694 87l3 3 4 2M768 79l-1 -4 3 -3M723 71l-3 1 -2 4M726 110l-3 3 0 2M723 117l-4 -2 -1 -1M775 147l2 -1 2 -0M762 134l2 -3 2 -1M704 99l2 4 2 1M695 86l1 -2 2 -3M796 125l4 1 2 4M780 133l0 -3 -2 -1M745 109l3 -0 4 -1M725 94l2 3 3 1M742 73l-0 4 2 5M799 96l-1 -3 -4 -2M796 79l-1 4 1 2M747 101l-0 3 1 2M779 118l-3 1 -4 -3M789 137l-3 2 -1 5M713 60l-2 -2 -0 -2M774 114l2 3 0 1M708 94l-3 -2 -3 -1M720 85l-5 1 -1 1M719 111l4 -1 2 -0M730 151l3 -0 4 1M773 84l0 3 0 2M697 156l-2 3 -1 5M765 149l1 4 1 2M764 63l2 -1 2 1M709 139l4 2 2 -0M697 60l3 -3 2 -4M724 100l-3 2 -2 2M772 138l-2 2 -1 1M701 56l0 -2 -3 -3M767 101l3 4 1 0M774 78l5 -1 4 -1M710 128l-1 2 -4 3M753 141l-2 2 -4 1M695 75l-2 -3 -2 -1M795 65l2 0 5 1M799 115l1 2 -1 4M762 160l-4 -1 -1 -0M792 104l4 2 2 -1M783 129l4 -2 2 -2M711 142l2 -3 5 -1M764 107l-2 -3 -2 -2M787 82l4 3 2 -0M725 161l-4 -1 -3 -3M695 63l-3 -3 0 -3M734 155l1 -3 1 -1M778 84l2 3 2 3M718 148l-1 -2 1 -2M703 127l-2 -1 -2 0M787 71l1 2 1 1M743 103l1 3 0 4M793 65l3 -2 0 -2M720 149l3 0 2 0M788 62l4 -2 3 1M699 144l-3 2 -2 0M719 88l2 4 0 2M775 138l-2 4 -3 2M782 54l-3 2 -4 3M758 153l-3 2 -2 3M783 133l3 0 1 -2M716 76l2 2 -0 1M780 146l1 -2 5 -2M781 157l-2 4 -0 1M754 64l3 -3 3 -3M794 82l-4 -2 -2 1M798 103l3 -2 4 2M772 146l2 -3 1 -4M793 147l-2 -2 -1 -1M709 133l-0 4 -1 2M801 77l-4 2 -0 3M755 155l2 -1 1 -2M719 58l-3 -3 -4 2M763 130l-4 3 -3 -0M754 153l-2 -1 -4 2M770 105l-3 -1 -3 2M700 78l-3 1 -4 -1M742 110l-4 -2 -2 0M786 92l-4 -1 -4 -2M745 86l-3 0 -5 -1M786 100l-1 2 2 4M745 129l4 -0 2 2M716 136l-2 1 -4 -1M719 131l-1 -3 -2 -4M699 82l-3 -1 -3 -4M738 105l4 -1 3 0M763 99l0 -2 3 -2M797 108l0 -3 2 -1M722 159l1 2 -0 4M770 79l0 4 -1 1M740 55l2 -0 3 2M715 101l1 -3 -3 -3M735 61l4 0 2 1M781 126l-2 -2 1 -4M748 83l1 -4 -2 -3M703 119l-4 3 -4 1M780 98l-2 -1 -2 -1M773 65l4 2 1 0M702 135l3 -1 5 0M705 116l3 -3 1 -3M722 120l-2 5 -1 1M757 123l-1 -3 1 -2M733 54l4 0 3 1M790 63l-2 2 -3 -1M703 129l0 2 -2 1M707 147l-2 3 -4 1M796 157l2 -2 1 -0M718 94l0 -2 -3 -4M698 131l3 4 2 4M713 117l3 -1 5 0M708 161l-2 -2 0 -2M801 108l-1 3 -0 4M800 92l0 3 -1 1M741 57l-2 -4 0 -2M739 70l4 -1 4 2M695 143l-1 2 -4 3M705 153l2 -1 1 -3M762 78l-1 2 -2 1" stroke="#c82030" stroke-width="1" fill="none"/><path d="M738 106l1 1M732 112l-2 2M742 104l1 -3M742 102l1 -1M743 100l-0 2M741 116l2 0M737 105l-3 0M744 103l0 3M746 108l1 2M741 113l2 -0M741 104l0 2M733 113l0 -3M754 93l3 0M749 99l0 2M746 105l3 -1M745 105l-1 3M741 101l1 1M737 112l1 -1M729 96l2 0M742 109l-1 1M741 108l-2 3M737 105l-0 -2M735 89l-3 -0M741 104l-3 -1M734 115l-0 -2M746 97l-2 -0M738 90l-0 2M756 110l-2 -1M739 112l-2 -2M741 100l-2 -1M736 105l1 -1M742 108l-1 -1M738 87l-1 -3M748 106l-1 -2M742 103l1 -1M737 100l-1 2M729 102l1 2M756 90l-0 -3M741 103l-1 2M743 102l-1 -3M739 115l0 -2M753 101l-1 3M739 97l-2 -0M743 100l-3 1M741 101l-1 -1M741 91l1 -1M745 111l3 -1M742 97l-2 3M742 102l2 2M743 93l-3 -2M740 107l-2 2M737 105l-0 -2M742 103l-0 -3M742 102l-1 -2M746 104l3 -2M739 104l-2 3M739 103l1 2M740 98l-0 -2M753 98l3 2M748 109l-0 -2M754 116l2 0M743 102l1 -3M744 101l1 2M743 99l-2 0M742 102l2 -2M744 95l3 0M744 122l-0 2M742 100l2 2M734 100l3 -0M749 96l2 -2M741 109l1 -1M739 107l1 2M741 100l-1 -3M742 102l1 -1M739 108l-0 3M748 101l1 -2M742 108l-1 3M741 102l-2 -1M739 96l-2 0M744 106l-3 -1M745 99l-2 1M747 95l-2 1M739 105l-2 0M738 98l-2 2M738 102l-2 2M731 91l1 -3M748 95l-2 -1M741 92l-2 -3M746 107l-1 2M739 101l2 2M728 91l-0 -2M747 105l-1 -1M743 102l3 1M753 98l-3 0M740 97l1 1M742 101l-1 2M739 113l-3 1M743 103l1 3M754 102l0 -2M743 101l-2 2M745 102l1 -2M741 102l3 0M740 100l2 2M743 103l2 -1M742 93l1 -1M743 102l1 2M738 105l0 3M740 94l-1 3M740 98l-3 2M744 93l2 2M736 97l2 1M741 102l1 -1M740 108l2 -2M745 86l0 2M738 101l0 -2M747 101l2 2M734 106l1 -1M751 109l-1 -2M738 100l2 0M741 98l1 1M743 91l1 1M742 101l-3 -0M745 109l1 -1M737 101l2 0M748 106l-2 -0M742 94l-3 1M743 103l-3 2M742 115l-2 -1M740 102l-1 0M739 116l0 -3M754 99l-1 -3M754 94l-0 2M755 100l0 2M735 102l-3 0M747 109l0 3M740 111l3 -0M736 100l-3 0M750 101l0 -3M731 78l3 -1M743 95l-0 -2M754 110l-2 -2M747 102l-0 -2M748 108l2 1M747 86l-0 -3M741 92l-1 3M757 108l1 -2M743 102l1 -2M742 103l-2 -0M744 101l-1 -3M743 99l-2 -2M744 101l1 3M742 104l-2 1M743 103l-1 -2M741 103l-2 2M741 104l0 -2M741 106l1 1M742 102l-1 2M742 103l1 2M725 109l1 -2M747 94l-2 1M787 97l6 1M710 121l2 4M708 117l-6 2M741 94l1 2M742 102l1 1M740 97l-5 3M743 109l4 2M717 104l5 -2M741 112l1 -2M733 106l3 -6M699 121l1 6M743 103l-3 -3M736 108l-3 4M717 137l1 -1M731 92l-2 4M743 103l-3 -2M751 107l-1 6M755 90l-1 -3M758 97l-3 5M751 102l2 -3M744 104l-1 3M742 85l2 -1M736 109l2 -3M753 78l1 -1M727 91l-1 6M745 110l-4 -0M753 109l4 2M744 98l5 3M755 116l0 -2M750 83l2 3M742 102l2 2M745 105l-2 0M735 108l-2 -5M744 103l4 -1M743 84l-4 -0M722 75l1 5M731 108l-1 -2M748 77l3 4M742 87l5 -2M736 104l-0 -7M766 92l3 -1M742 99l2 2M744 104l-1 2M750 109l-1 -1M737 98l1 3M748 108l-6 2M746 126l1 -3M711 97l-2 2M738 88l2 0M726 90l3 6M763 111l1 1M761 86l4 -0M705 115l2 -6M723 72l1 3M731 113l-4 1M742 99l-3 4M733 104l-5 1M723 109l4 4M743 97l-3 2M748 75l-1 -3M742 95l2 3M728 128l-3 -4M737 117l3 -1M746 108l-1 -3M759 111l2 1M744 98l-4 0M715 87l-2 -7M730 100l1 1M751 96l4 -5M750 96l-6 -4M752 92l-2 -2M750 132l1 1M744 89l0 -2M718 101l-3 -6M736 98l-6 2M743 102l1 6M727 107l0 4M741 96l1 1M739 97l-4 -6M741 103l1 3" stroke="#ee2233" stroke-width="1.6" fill="none" stroke-linecap="round"/><path d="M762 109l-1 -1M769 108l1 -2M761 115l2 2M765 109l-1 -1M757 113l-2 -2M771 99l-1 2M761 110l1 -3M768 109l1 -3M759 106l-1 -2M762 110l3 1M761 116l-0 2M760 106l-1 2M763 106l2 -1M770 101l-2 -1M765 109l1 2M765 115l-0 -2M762 109l-2 1M761 108l3 -0M766 109l-2 1M757 109l-3 -1M758 104l-3 -1M764 113l-0 2M762 114l0 -2M749 117l-1 2M761 114l2 1M756 104l2 -1M761 112l1 -2M761 109l-1 2M762 109l1 -3M764 107l3 -1M765 106l-2 2M762 107l-1 -3M767 101l-3 1M770 105l-1 3M765 96l-1 2M766 107l-1 -2M752 100l-1 -1M755 114l1 2M763 104l-0 2M768 116l-3 2M760 117l1 3M757 106l1 -2M752 97l1 -2M766 107l3 1M758 107l-3 2M750 101l-2 -1M754 104l1 1M762 100l3 -2M768 97l2 -2M753 108l-0 2M758 107l-2 -0M771 98l-1 1M744 102l2 1M764 107l1 -3M761 108l-0 -2M760 107l-2 1M757 124l3 -1M760 110l2 -1M762 108l-2 -0M749 117l-1 -2M756 117l-0 3M756 107l2 -0M754 105l2 -1M759 98l-1 2M760 107l1 -3M762 108l-1 1M746 103l2 0M774 95l-1 -1M760 106l-1 2M758 108l3 -1M758 111l1 -3M761 108l-2 -2M773 109l-3 1M761 107l-2 -2M751 103l-0 3M767 116l-0 2M758 98l-1 3M762 115l2 0M759 108l-2 3M754 100l-1 2M766 105l-1 2M757 105l-2 2M762 117l-2 2M775 99l2 -1M760 108l-3 -0M762 96l2 -1M757 106l3 0M762 108l-1 -2M756 119l2 1M765 122l-1 -3M762 107l3 2M760 108l2 1M764 109l3 -0M772 125l-2 -1M763 105l2 1M764 110l-0 2M758 108l1 -3M760 111l3 -2M758 106l-2 -0M768 103l2 2M761 119l-3 -1M749 108l-1 2M747 102l1 3M765 103l-3 0M751 106l1 -2M759 111l1 3M758 106l1 -3M760 111l-2 0M763 106l-2 2M765 118l2 1M761 108l2 2M767 136l-2 2M758 108l1 -2M754 108l-1 -1M761 104l1 -2M751 111l3 -1M761 110l2 1M761 108l3 0M762 108l-2 2M761 109l2 2M773 111l2 -1M758 105l-1 1M761 108l2 1M757 108l-3 -1M764 91l1 -1M766 112l3 -0M773 102l-0 2M757 115l-0 1M757 107l2 1M759 111l-1 2M764 116l-3 -2M776 118l-1 3M765 110l-2 1M765 109l2 1M755 102l-0 -2M759 104l2 -2M764 109l3 1M760 110l1 -1M753 97l1 1M759 99l-2 1M746 100l4 5M791 115l-2 7M749 104l0 -2M762 108l3 1M756 81l-3 0M762 147l0 -4M770 105l-5 -4M748 90l3 -5M755 114l-0 -3M756 100l1 -2M790 122l2 -2M755 111l1 4M783 155l4 2M781 125l0 5M782 96l0 -2M786 77l1 1M765 104l3 -0M757 119l-0 -7M775 118l4 0M756 87l-4 -1M762 90l1 -7M762 108l-2 1M762 121l0 -6M741 103l-1 -6M779 89l-4 1M762 121l-3 3M777 119l-4 -2M765 130l-3 -1M755 115l2 4M764 130l-5 -2M758 105l-1 -3M761 106l-6 -3M758 112l-1 -2M746 107l1 -1M753 104l0 2M757 107l-1 -2M764 104l4 1M763 112l3 1M746 114l0 4M762 112l3 0M759 110l2 3M759 106l4 4M738 99l-2 3M774 117l-5 2M790 102l2 5M776 115l2 5M765 115l2 -3M769 142l-3 4M748 99l-6 1M751 90l0 -3M772 99l-4 -6M758 93l-4 2M748 108l-4 1M760 105l-2 -6M739 121l2 -6M756 107l1 -1M780 108l2 -3M766 101l1 -7M760 110l-3 6M767 110l-3 -2M763 109l-1 -5M791 131l1 -4M764 109l-5 -0M762 105l2 -2M760 92l-3 6M766 117l-5 4M764 108l-4 6M744 107l3 -4M745 122l-1 2M742 91l6 -3" stroke="#ee2233" stroke-width="1.6" fill="none" stroke-linecap="round"/><path d="M696 146l2 1M711 137l-1 -2M700 146l-1 -1M706 148l-1 -3M706 145l-0 -2M712 141l-3 2M703 147l-1 2M710 146l2 0M706 146l3 0M704 148l-2 -1M702 140l-1 3M707 145l2 1M708 150l-0 2M705 145l-2 -2M708 140l2 -2M705 147l2 -2M698 140l0 3M703 140l-3 -0M704 140l3 -0M700 149l1 -3M706 145l1 -2M707 139l-2 0M705 141l-0 2M708 137l-1 2M706 145l2 1M709 146l-2 1M708 142l3 1M707 150l2 -1M712 146l-2 2M702 138l3 -2M707 145l2 -0M704 148l2 1M706 146l1 -2M708 149l-3 -0M701 141l-1 -3M703 152l1 -2M702 148l-3 -0M706 144l2 2M710 147l1 -1M703 144l-2 -2M707 145l-2 2M707 147l1 -2M707 145l-2 1M703 143l-0 2M710 141l-2 -2M705 145l-1 -1M706 147l-1 2M713 138l-2 2M704 142l-1 2M706 153l1 -2M708 138l1 2M714 138l1 1M710 145l-0 -1M714 149l-0 -2M709 147l2 2M707 144l-1 -2M701 148l3 -0M707 144l1 3M700 148l-0 2M709 140l-1 -1M706 147l1 -5M688 157l7 -2M691 163l1 3M707 147l-6 1M706 144l2 4M707 149l-2 5M710 141l-1 3M711 136l-2 -1M720 163l-5 -1M698 145l-3 -2M710 146l-1 1M704 145l-1 -1M703 139l6 0M708 137l-4 3M714 151l-2 -1M717 136l4 2M699 153l6 0M705 173l3 2M693 145l5 -3M706 145l3 -4M707 145l3 -2M707 145l-3 5M705 141l-0 -6M702 140l1 1M709 131l-5 -3M705 150l4 1M706 144l-4 -4M704 143l1 -1M703 135l0 2M703 140l-5 -1" stroke="#ee2233" stroke-width="1.8" fill="none" stroke-linecap="round"/><path d="M727 77l-1 -2M725 80l2 1M723 80l2 2M721 77l1 2M727 66l-1 -2M726 80l-0 2M728 76l-3 -1M724 80l-2 2M726 79l-1 2M724 76l-2 -2M733 75l2 1M725 79l0 2M725 81l-0 -3M726 76l-1 -1M722 80l-1 3M726 79l-3 -1M725 88l2 -1M736 82l2 -2M724 91l2 3M730 80l3 -1M730 75l-3 1M723 83l0 2M721 82l-2 -1M725 79l-1 3M728 80l2 2M726 80l-3 -1M726 78l-3 1M727 77l-2 3M727 78l3 -1M724 80l-2 1M726 85l-1 2M720 77l-2 -0M737 80l-2 -0M730 76l-1 3M726 81l3 -0M728 78l-2 1M729 79l-1 -1M726 80l-2 0M726 80l1 3M725 84l2 -1M720 92l0 -2M732 88l3 3M724 71l2 4M719 73l-4 -2M705 76l-2 -1M733 75l6 -2M716 79l-4 -1M726 77l0 -2M740 78l6 2M719 67l-2 4M715 74l-1 5M716 81l7 0M723 75l-2 -2M727 79l5 -2M725 78l6 -3M724 81l-1 2M728 71l5 5M728 81l-4 5M727 73l-0 -2M726 75l6 1" stroke="#ee2233" stroke-width="1.3" fill="none" stroke-linecap="round"/><path d="M771 67l1 3M770 68l-1 -2M775 73l-2 0M770 68l2 1M766 79l-1 -3M772 67l3 2M762 65l-2 -2M769 67l1 -2M770 68l-2 -2M771 70l3 -2M770 69l1 -3M765 63l-3 1M772 68l2 -0M767 68l1 -3M772 66l0 -2M769 66l1 -2M777 63l-1 2M768 77l0 3M767 64l3 -1M766 61l-1 3M767 68l-1 -2M779 64l-3 0M775 69l1 2M770 68l1 -1M767 67l-3 0M772 70l1 2M773 72l2 -3M770 68l3 1M766 67l2 1M769 71l1 2M795 76l-1 -4M749 59l1 -3M776 71l-2 -5M775 69l-4 -5M770 69l0 4M770 64l-2 1M784 54l-2 1M774 59l-1 2M775 67l5 0M770 69l6 1M776 75l-0 2M777 68l1 5M757 76l4 -3M773 64l-0 6M775 69l4 -5" stroke="#ee2233" stroke-width="1.2" fill="none" stroke-linecap="round"/></g><clipPath id="m3"><rect x="808.6" y="51.3" width="109.7" height="113.7"/></clipPath><g clip-path="url(#m3)"><rect x="808.6" y="51.3" width="109.7" height="113.7" fill="#03030c" /><g fill="#1c1c90" filter="url(#blur2)"><ellipse cx="823" cy="122" rx="3.5" ry="3.2" opacity="0.8"/><ellipse cx="850" cy="122" rx="4.7" ry="3.4" opacity="0.7"/><ellipse cx="877" cy="110" rx="5.6" ry="5.2" opacity="0.7"/><ellipse cx="832" cy="64" rx="5.4" ry="4.9" opacity="0.8"/><ellipse cx="857" cy="108" rx="3.7" ry="3.1" opacity="0.5"/><ellipse cx="877" cy="124" rx="5.0" ry="3.9" opacity="0.5"/><ellipse cx="844" cy="131" rx="4.5" ry="4.2" opacity="0.7"/><ellipse cx="852" cy="157" rx="3.5" ry="2.7" opacity="0.8"/><ellipse cx="879" cy="100" rx="4.7" ry="3.9" opacity="0.8"/><ellipse cx="908" cy="147" rx="4.9" ry="4.1" opacity="1.0"/><ellipse cx="857" cy="123" rx="5.6" ry="5.1" opacity="0.7"/><ellipse cx="892" cy="120" rx="5.7" ry="5.1" opacity="0.7"/><ellipse cx="918" cy="111" rx="4.2" ry="4.1" opacity="1.0"/><ellipse cx="826" cy="57" rx="5.6" ry="5.4" opacity="0.7"/><ellipse cx="835" cy="130" rx="5.8" ry="4.4" opacity="0.7"/><ellipse cx="882" cy="75" rx="4.2" ry="3.2" opacity="0.7"/><ellipse cx="832" cy="58" rx="4.2" ry="3.1" opacity="0.5"/><ellipse cx="823" cy="98" rx="4.0" ry="3.6" opacity="0.7"/><ellipse cx="834" cy="71" rx="3.9" ry="3.6" opacity="0.6"/><ellipse cx="859" cy="145" rx="5.5" ry="4.6" opacity="0.9"/><ellipse cx="880" cy="75" rx="3.3" ry="2.5" opacity="0.9"/><ellipse cx="851" cy="149" rx="5.9" ry="5.8" opacity="0.7"/><ellipse cx="806" cy="81" rx="3.7" ry="3.3" opacity="0.8"/><ellipse cx="912" cy="133" rx="5.9" ry="5.2" opacity="0.7"/><ellipse cx="902" cy="81" rx="5.3" ry="4.9" opacity="0.9"/><ellipse cx="813" cy="71" rx="5.8" ry="4.3" opacity="0.7"/><ellipse cx="875" cy="106" rx="5.6" ry="5.6" opacity="0.6"/><ellipse cx="821" cy="158" rx="4.4" ry="3.4" opacity="0.5"/><ellipse cx="807" cy="118" rx="3.8" ry="3.3" opacity="1.0"/><ellipse cx="862" cy="162" rx="3.2" ry="3.0" opacity="0.9"/><ellipse cx="917" cy="52" rx="4.5" ry="3.9" opacity="0.8"/><ellipse cx="860" cy="81" rx="5.7" ry="5.5" opacity="0.8"/><ellipse cx="917" cy="115" rx="3.2" ry="2.9" opacity="0.5"/><ellipse cx="892" cy="126" rx="3.6" ry="2.7" opacity="0.5"/><ellipse cx="826" cy="165" rx="3.7" ry="3.6" opacity="0.5"/><ellipse cx="845" cy="105" rx="4.1" ry="4.0" opacity="0.6"/><ellipse cx="862" cy="73" rx="3.3" ry="3.0" opacity="0.6"/><ellipse cx="862" cy="131" rx="3.3" ry="2.3" opacity="0.8"/><ellipse cx="921" cy="51" rx="4.4" ry="4.3" opacity="0.9"/><ellipse cx="920" cy="112" rx="5.9" ry="4.2" opacity="0.7"/><ellipse cx="904" cy="95" rx="4.3" ry="3.6" opacity="0.7"/><ellipse cx="900" cy="165" rx="3.7" ry="2.9" opacity="0.9"/><ellipse cx="892" cy="146" rx="5.0" ry="4.9" opacity="0.9"/><ellipse cx="879" cy="82" rx="3.3" ry="3.1" opacity="0.9"/><ellipse cx="909" cy="80" rx="5.2" ry="5.1" opacity="0.6"/><ellipse cx="808" cy="69" rx="3.7" ry="3.3" opacity="0.9"/><ellipse cx="900" cy="131" rx="5.9" ry="5.9" opacity="0.7"/><ellipse cx="912" cy="134" rx="3.7" ry="3.3" opacity="0.5"/><ellipse cx="852" cy="146" rx="3.0" ry="2.6" opacity="0.7"/><ellipse cx="838" cy="56" rx="4.6" ry="3.7" opacity="0.5"/><ellipse cx="852" cy="130" rx="3.2" ry="3.0" opacity="0.5"/><ellipse cx="860" cy="92" rx="5.6" ry="5.4" opacity="0.9"/><ellipse cx="840" cy="87" rx="5.5" ry="4.7" opacity="0.8"/><ellipse cx="889" cy="71" rx="4.2" ry="4.1" opacity="0.6"/><ellipse cx="904" cy="67" rx="3.0" ry="2.6" opacity="0.6"/><ellipse cx="875" cy="140" rx="3.1" ry="2.6" opacity="0.7"/><ellipse cx="910" cy="149" rx="5.7" ry="5.2" opacity="0.6"/><ellipse cx="877" cy="113" rx="4.1" ry="3.2" opacity="0.8"/><ellipse cx="909" cy="77" rx="4.1" ry="3.0" opacity="0.7"/><ellipse cx="851" cy="60" rx="4.9" ry="4.0" opacity="0.9"/></g><ellipse cx="869" cy="110" rx="8" ry="6" fill="#20e060" opacity="0.6" filter="url(#blur1)"/><path d="M835 135l2 -0 4 -2M853 89l3 4 4 2M870 72l5 -0 3 2M891 159l1 3 -1 3M917 146l-2 -0 -3 -1M872 140l-5 1 -2 -0M899 70l4 -3 0 -2M886 103l-3 3 -1 1M869 151l2 -1 2 1M915 96l2 2 1 1M893 89l-0 -3 -0 -4M831 84l2 -3 1 -3M884 150l-4 -2 -1 -5M909 130l-1 -3 -4 -1M854 90l-4 -1 -1 -1M895 158l5 -1 5 0M873 148l3 -0 2 -3M911 154l-3 1 -2 4M838 65l4 3 4 2M816 106l-0 -4 -2 -2M898 155l3 2 0 3M895 85l-2 0 -3 -2M828 158l1 2 -0 1M881 67l4 1 3 1M886 133l1 3 1 4M879 107l2 -4 -0 -2M809 150l1 4 1 4M912 126l2 3 2 1M890 125l-3 -3 1 -2M886 125l5 1 4 -0M834 99l4 3 1 -0M888 117l-2 4 -2 2M887 158l2 -2 2 -0M851 164l-0 -3 0 -3M886 111l-3 1 -3 -2M835 97l3 -2 3 -1M831 116l-0 -3 -1 -3M874 76l1 -2 3 -1M836 80l-0 2 -2 1M818 126l3 -0 2 -2M844 104l-4 -2 -2 -0M886 116l2 -2 3 -1M875 107l1 2 4 3M864 108l-4 1 -2 2M845 116l-4 0 -1 -2M877 164l-0 -5 1 -1M878 91l-1 2 -5 1M903 101l4 -2 4 -1M894 53l-3 -3 -4 -2M890 62l-2 1 -1 1M809 85l-1 -2 1 -1M900 82l3 -2 3 0M839 152l2 0 2 -2M892 79l-4 -2 -3 3M824 54l-3 0 -3 1M810 120l3 4 1 1M866 98l4 2 4 1M892 145l3 -1 3 -0M876 136l0 -4 1 -3M824 82l3 3 1 2M850 150l2 3 2 2M840 160l-3 -1 -1 1M860 81l-2 -4 -3 -0M843 125l-4 -2 -2 2M888 70l3 1 1 -0M902 136l-2 -4 0 -3M892 157l4 -2 5 2M912 123l-4 2 -1 -1M856 67l3 2 1 -0M872 114l-2 0 -2 2M816 64l-3 4 -4 2M894 63l-1 -4 1 -1M828 66l-3 1 -2 4M911 158l2 1 4 1M892 147l3 3 4 -1M900 87l-2 2 -2 -0M839 95l3 4 -1 3M852 107l2 -1 2 -3M843 108l3 2 -0 4M874 148l2 4 -1 2M810 120l2 -1 2 -3M867 164l-3 -1 -3 0M894 138l-3 1 -2 0M862 91l4 0 1 -2M875 150l-3 -4 -4 1M890 132l2 -1 2 -5M906 64l-4 1 -1 0M832 146l2 2 -0 2M873 71l2 3 -0 3M835 132l-0 -2 1 -3M917 120l-2 -1 -1 -1M827 109l3 -4 3 -0M858 130l-1 2 -5 1M906 124l1 -2 -1 -4M865 77l-2 -3 0 -1M842 110l3 -4 -1 -2M854 157l-2 -2 -1 -2M903 99l-4 -2 -1 -1M847 52l-4 2 -5 -1M825 129l1 -3 1 -1M908 160l1 2 -2 3M917 114l0 3 -1 2M916 140l-4 -2 -1 -2M875 100l2 1 1 -0M904 109l0 2 -1 2M903 122l4 3 0 2M896 123l2 2 3 1M864 116l3 1 2 -2M918 63l3 0 1 -0M903 142l2 -3 2 -3M828 54l5 -1 2 -2M821 145l4 -3 -0 -5M820 137l2 -1 4 0M896 145l-2 -3 -2 -4M891 127l2 -2 1 -2M837 132l5 0 3 -2M890 83l5 1 1 3M834 107l-2 -2 -2 -3M832 91l-2 2 -1 1M845 150l-2 -3 -2 -0M887 105l0 -4 0 -4M864 90l4 -0 1 -0M860 89l3 -3 1 -0M883 74l-4 -2 -4 3M900 99l-3 -1 -3 -4M860 141l2 1 -0 2M889 134l4 2 3 2M887 97l3 -3 3 -0M855 90l2 4 1 5M878 138l-3 -2 -0 -1M877 52l3 4 4 -1M918 131l2 -0 3 1M864 60l4 2 3 -1M824 124l5 2 1 1M915 69l-4 1 -2 3M838 143l5 -1 1 -3M884 55l4 0 1 1M890 143l-1 4 -1 1M887 161l5 -1 4 3M851 85l1 -3 -1 -3M853 157l2 2 -1 2M888 110l2 -1 2 -1M887 159l-2 -5 1 -3M837 57l-2 2 -4 2M866 74l2 -3 3 -2M879 63l3 2 3 2M907 89l-3 3 -0 3M818 138l-0 3 -0 4M878 98l3 2 3 -1M820 128l2 -2 3 1M858 114l1 -4 5 -1M830 153l3 -2 3 -1M847 103l3 -0 1 -4M834 53l1 3 0 1M906 132l5 -1 4 3M845 148l-4 3 1 3M862 149l1 4 3 4M865 96l2 -3 3 -2M871 135l-0 -4 -3 -1M918 132l-2 -1 -2 -1M828 86l-0 2 -1 4M876 157l3 -2 0 -1M873 60l-2 -4 -2 -1M831 163l-3 1 -4 1M856 120l2 2 3 1M862 86l-1 2 -4 2M888 137l-0 3 0 2M815 144l-5 -0 -2 -2M827 81l-4 -0 -2 1M836 90l-2 3 2 4M894 119l0 -4 0 -5M911 156l3 -0 4 -2M848 101l-3 3 -0 1M909 119l2 -1 -0 -1M862 89l3 4 -1 2M899 161l-2 -2 -2 1M814 155l-2 -3 1 -2M827 135l0 3 -4 3M848 93l-3 0 -0 1M857 103l2 -1 0 -1M840 64l-3 -1 -0 -2M859 101l-0 -3 -4 -2M833 127l-1 -3 0 -2M904 80l3 -1 3 -0M840 74l-5 -0 -4 0M907 83l-2 -1 -1 -4M830 154l-0 -4 0 -3M897 97l-2 2 1 4M837 67l-2 1 -2 -0M893 123l3 1 2 3M861 128l5 -1 2 -1M887 113l4 -3 1 0M842 151l2 -1 -1 -5M819 132l2 -3 1 -3M830 56l2 0 0 1M906 84l-2 -3 -1 -0M830 136l-3 1 -2 2M917 107l-0 -2 2 -2M844 151l1 2 -1 4M837 86l-1 -3 -1 -2M906 79l-5 -0 -2 -3M836 61l-3 -2 -2 -2M873 120l3 -3 -1 -4M848 68l3 1 3 1M874 147l2 -2 -1 -4M888 133l-1 3 -3 1M850 117l1 -3 1 -4M881 65l-3 -2 -3 -2M820 131l3 0 2 0M860 58l-5 -2 -4 3M883 136l2 2 3 3M818 57l4 -2 1 0M821 119l2 -2 4 -1M874 118l-4 1 -2 -0M877 151l1 2 -1 4M834 76l2 -1 -0 -2M828 164l3 -1 5 -1M821 87l-3 4 -4 1M901 59l-3 1 0 5M838 70l-2 -0 -3 -0M907 92l3 1 2 3M889 104l-1 3 -2 3M841 133l-5 1 -2 -2M843 115l-3 3 -1 2M817 74l3 1 1 1M914 108l1 -5 3 -2M827 112l-4 -2 -0 -2M857 157l-0 -2 -2 -3M915 123l-5 -1 -3 -4M872 126l-3 -1 -1 -0M894 136l-1 2 -1 2M825 58l-1 2 -0 4M897 148l1 -3 1 -5M856 120l4 1 3 -3M872 111l-3 -1 -1 -0M874 156l-4 2 -3 1M901 98l-2 5 0 3M851 97l-1 4 -4 2M917 163l-0 -3 1 -3M868 71l-3 1 -3 2M851 87l-3 3 1 2M894 71l-3 2 -3 2M860 105l-1 3 1 1M828 52l3 -3 3 -1M809 70l-2 -4 -2 -4M817 111l2 4 1 3M822 63l-2 2 -0 2M905 134l4 -2 0 -2M834 90l1 -3 4 -0M892 139l2 4 -2 2M893 162l3 -2 3 -2M817 77l1 3 4 0M906 52l-1 3 -2 2M844 94l0 -2 -1 -2M886 154l-2 2 -4 0" stroke="#2eae2e" stroke-width="1" fill="none"/><path d="M846 88l-2 -1M848 81l2 -0M842 85l-0 -2M841 85l-2 -1M832 88l1 1M828 92l-2 -2M838 92l-1 3M854 93l-1 3M841 88l0 2M821 94l2 2M843 85l1 2M849 72l-1 2M842 85l-2 1M832 86l2 1M841 86l1 1M843 86l1 2M841 87l-2 2M847 84l1 -0M848 82l3 -0M849 94l1 1M835 78l-2 -0M854 94l-2 -1M842 85l3 0M838 89l-2 -3M841 82l-2 1M839 70l3 1M845 77l-1 3M834 83l1 2M841 86l1 -1M839 84l3 2M844 91l-3 -2M835 84l0 2M845 92l-1 1M841 86l-2 2M841 84l2 0M841 85l-1 -1M836 82l2 2M833 100l0 -3M845 85l0 -2M836 94l1 2M840 86l1 3M844 102l2 2M841 87l2 -3M843 83l3 -2M848 88l-1 3M842 97l-1 1M823 99l1 -1M847 87l2 1M838 77l2 0M838 88l1 -1M833 82l-2 1M842 86l-0 -2M844 79l1 3M836 87l-3 1M855 77l-3 0M865 84l-0 3M836 79l-0 3M841 83l1 3M836 95l-1 -2M836 93l-2 3M840 90l3 -0M843 80l-3 2M846 89l-1 1M846 81l-2 -3M842 94l2 -3M844 90l2 -1M834 72l2 1M838 76l-2 -2M841 86l1 1M834 85l2 -2M834 95l-3 0M827 80l-2 0M846 85l-2 0M841 92l0 -2M850 73l3 -2M855 82l1 2M858 84l-1 2M839 84l-2 -1M832 70l-1 1M844 75l-0 3M831 82l0 3M842 92l-1 3M844 79l-1 3M847 72l-2 -1M837 82l-2 1M843 86l-2 2M841 87l-3 -1M844 74l-3 -2M840 89l3 -1M828 69l-1 -2M834 102l-3 1M840 82l-2 3M849 80l1 -1M845 83l-0 -2M845 84l3 2M841 84l-3 1M848 96l2 -2M854 90l-2 -2M837 88l-2 -1M841 86l1 -3M844 77l2 1M833 83l-1 -2M849 79l-2 1M831 90l-1 -1M832 85l-1 -3M847 88l2 2M846 81l-1 -3M842 87l-0 3M828 78l2 -1M834 85l0 2M839 85l-2 -0M842 84l0 -2M856 110l0 -3M841 84l-1 1M837 97l-1 -3M850 88l3 1M837 95l2 -1M840 91l2 -3M834 90l-3 1M845 86l-1 -1M845 68l-3 4M841 95l5 0M857 58l0 6M866 68l-5 1M838 84l-0 -4M843 93l-4 3M840 88l6 -1M849 62l1 -5M853 72l-0 -5M871 121l-3 2M841 91l2 2M823 74l6 3M831 72l2 6M819 75l-3 -2M843 83l-1 7M841 86l2 2M825 90l1 2M837 100l0 3M851 87l-0 2M853 91l-4 2M838 95l-1 -6M842 93l1 3M843 85l7 1M818 80l-2 7M849 89l5 0M850 81l-5 -0M842 85l-1 -6M839 86l-3 2M841 88l4 2M852 75l-1 2M812 62l4 1M809 104l-4 2M829 96l-2 -1M848 87l-3 5M849 91l-4 -5M819 76l0 -3M851 90l-4 4M840 90l-0 -2M851 72l-4 -1M837 89l2 -2M856 82l-7 1M828 101l5 -1M842 86l4 -1M806 87l2 -3M839 95l-3 0M835 93l-1 3M856 81l1 -2M852 82l1 5M840 66l2 5M838 113l-0 2M848 80l-1 -4M841 72l1 5M849 51l-3 3M843 87l-6 1M839 69l-4 5M817 86l-1 -1M842 88l-1 -2M846 108l-3 2M845 86l3 5M837 87l-5 1" stroke="#3ec83e" stroke-width="1.3" fill="none" stroke-linecap="round"/><path d="M870 116l-0 3M859 112l-1 -1M870 108l2 -2M871 123l-3 -2M870 106l-2 0M866 118l1 2M864 116l-1 1M866 114l-2 -2M863 111l2 2M872 117l3 -2M871 114l-2 -0M878 120l2 1M852 109l-0 3M863 115l-2 -0M874 106l-1 3M865 117l3 -1M872 110l-2 -1M865 110l-1 -1M875 103l-2 0M878 113l-1 1M872 111l-1 2M871 102l-2 -0M877 113l0 -2M866 110l-0 2M874 105l2 -1M868 116l-1 2M869 113l1 2M869 116l1 -2M870 113l-1 -1M875 113l-0 -3M869 114l3 2M871 112l-1 -1M869 113l-2 -2M869 116l2 -0M877 114l-2 1M870 109l-2 -1M873 105l-3 1M867 113l1 -3M870 121l-0 -2M868 114l-1 3M866 105l2 -2M871 117l3 1M870 115l2 1M865 119l-0 -3M871 113l-0 -3M871 114l-2 -2M872 118l-2 2M870 125l-0 2M867 119l2 -3M866 114l2 0M871 115l-1 3M862 102l-1 2M866 112l-2 1M866 107l-1 -1M869 104l0 -2M868 113l1 -1M870 120l2 2M866 114l2 -2M879 121l-2 -0M870 108l-0 2M860 114l3 -1M870 114l-3 -1M869 111l-3 1M858 114l0 2M867 113l0 -2M889 111l3 -1M870 110l-3 0M866 120l1 -1M869 115l3 -1M859 107l2 -2M869 115l0 -2M876 118l-2 1M855 98l-2 2M870 103l-2 -1M869 113l-2 -1M870 111l2 -2M866 112l0 2M869 114l-0 -2M868 118l3 0M870 113l-2 -2M873 116l2 -2M870 113l-0 -3M870 106l3 2M867 107l1 1M869 114l3 1M868 114l2 -2M872 113l-1 2M868 113l-1 1M868 109l3 -1M866 112l-1 2M867 112l-3 0M876 113l-1 -1M864 112l2 -1M871 112l1 2M861 112l1 -2M868 115l1 2M868 114l-2 -2M875 115l2 2M868 117l-0 2M865 105l-1 3M875 115l2 3M876 114l1 -3M868 116l3 1M868 109l2 0M871 114l-0 -2M866 117l-2 -1M878 115l1 -3M866 103l-3 -0M871 124l-1 -2M865 120l0 2M871 94l2 -3M862 108l3 -3M874 112l4 4M875 138l-1 -2M883 73l-3 2M870 115l1 -2M866 133l-5 5M856 107l-3 -5M864 123l2 4M855 97l1 1M899 119l-3 4M875 131l-1 3M867 119l-4 5M839 102l1 5M866 113l-5 -2M883 112l0 -3M865 116l-6 -0M869 112l1 -7M864 120l-3 -1M867 119l-5 -5M868 108l2 -0M865 118l-2 -1M869 114l-4 -4M851 109l1 -1M869 109l-3 -5M880 128l-3 4M887 121l-6 3M853 103l-2 -2M867 112l-3 0M860 108l5 2M883 119l5 2M883 106l2 -0M898 142l-1 -1M844 121l-1 5M867 115l-6 -2M887 134l4 5M854 124l-3 -5M894 123l6 2M872 87l1 -6M868 115l-6 2M875 105l0 3M877 124l-3 1M874 104l4 1M874 109l-1 5M868 114l3 4M850 126l1 -3M870 110l-2 1M867 114l2 -4M867 145l-3 1M878 131l-3 1M870 111l-1 -5M839 103l-3 -6M875 119l-5 1M867 118l-1 2M876 102l-5 -1" stroke="#3ec83e" stroke-width="1.5" fill="none" stroke-linecap="round"/><path d="M901 84l-2 2M908 80l2 -1M904 99l-0 2M906 86l-1 2M896 85l1 2M905 86l2 -3M902 88l2 1M898 80l-2 -2M903 86l-2 0M900 89l0 -2M899 92l-0 3M902 85l3 1M897 89l-3 1M903 81l-2 1M900 88l-1 -1M904 87l-2 -3M912 77l-0 2M901 97l-0 -3M898 82l-2 2M918 81l-1 1M905 82l-1 1M907 88l-0 2M899 95l2 3M905 88l-2 1M902 86l-2 -0M899 82l0 2M913 84l-2 -3M894 69l0 -2M906 93l-1 2M900 75l0 -2M901 85l-2 -1M905 99l0 3M901 86l2 -2M908 84l3 2M901 85l-1 -2M897 84l-0 3M914 93l-2 2M907 80l-1 2M903 87l-2 -1M902 78l1 2M901 92l-1 2M923 76l-0 -3M906 88l3 0M905 84l1 0M905 84l-1 -2M908 92l-2 0M897 100l1 2M896 98l2 0M902 84l-0 -2M900 88l-1 -3M900 88l-1 0M902 86l3 1M901 88l-2 0M903 86l-1 -2M906 84l-1 -2M913 100l1 -1M904 91l-3 -1M902 85l-1 3M902 85l-0 2M903 79l-1 2M893 100l-5 1M905 83l-4 5M905 96l-5 -0M892 81l5 3M904 87l1 1M903 82l1 5M893 73l6 -3M911 91l-2 2M906 84l-4 -5M908 93l3 -0M911 88l-2 0M903 85l1 -7M900 81l-4 3M901 98l3 -2M914 96l0 7M891 91l2 0M906 77l3 5M905 97l-3 5M902 79l2 4M903 84l1 -6M898 78l4 -2M908 77l1 2M894 86l2 1M901 86l-3 -1M907 69l1 5M906 84l3 1M905 85l-1 4M910 72l1 3M919 87l4 -6M918 90l-2 -3" stroke="#3ec83e" stroke-width="1.2" fill="none" stroke-linecap="round"/><path d="M863 140l-1 2M857 148l-1 3M857 148l1 -1M864 152l2 2M859 148l-1 -2M863 146l1 2M858 148l1 -3M864 153l-1 -1M854 151l-1 -3M859 148l-1 2M861 140l-3 1M854 150l-0 -2M858 149l2 -2M856 149l1 -2M855 148l3 2M860 150l0 3M869 147l-2 -2M859 151l-2 2M857 153l0 2M858 148l-0 3M859 148l-1 2M863 148l3 -0M855 150l2 -1M858 142l-2 1M858 149l-2 0M859 147l-0 3M858 150l-2 1M845 146l0 -3M855 143l2 1M860 157l-3 -1M852 143l0 2M851 149l0 -1M859 141l-1 2M858 146l-1 -1M858 160l0 3M847 143l-0 -2M859 147l-2 1M858 155l-1 2M855 149l2 -1M861 144l-0 -3M871 152l2 -1M864 150l1 3M858 148l-1 1M857 148l3 -2M864 150l-1 1M864 147l-2 -0M870 160l3 0M848 146l2 -1M867 147l0 2M860 153l3 1M860 147l-1 1M854 149l-1 -2M855 137l2 1M852 149l2 1M850 147l-2 -1M865 158l1 2M856 142l-2 -2M858 148l-2 -1M863 153l1 -3M853 149l-1 3M856 148l-1 1M851 144l-5 2M871 147l6 -3M861 134l-5 1M856 152l0 -3M857 156l-2 1M879 134l-1 4M860 136l-1 2M852 144l-3 -5M836 144l1 1M867 172l-1 -3M864 142l6 -1M856 152l5 1M859 155l-3 6M887 164l2 -4M857 148l3 4M855 148l2 -0M840 153l5 0M845 136l-3 -5M866 153l-2 -5M873 154l-3 -3M888 131l1 4M885 129l6 -2M849 171l3 2M858 148l-5 2M863 163l-1 -2M851 154l0 2M858 145l-1 2M862 147l-0 2M841 151l0 5" stroke="#3ec83e" stroke-width="1.2" fill="none" stroke-linecap="round"/><path d="M815 148l-2 -2M818 154l-2 -2M818 152l3 1M818 152l0 2M821 155l0 -3M822 146l2 2M811 151l2 2M812 154l-2 -1M820 159l1 -3M819 157l-3 1M814 154l-1 -2M809 147l-0 -2M816 154l-2 -1M820 155l1 2M820 156l-0 -2M821 148l-3 -0M817 148l-2 -0M817 160l-1 -1M815 163l-0 2M818 153l-1 -3M816 153l-2 1M827 151l-2 2M813 155l-1 3M829 147l-2 -2M815 148l-2 1M817 154l2 -1M819 153l2 0M817 150l-1 -2M814 152l-2 -1M816 155l2 2M817 155l-0 -2M827 156l-0 -3M820 152l-0 -2M815 160l-3 -1M815 155l-3 1M814 158l-0 2M813 157l3 1M819 154l-1 -1M823 155l2 -2M817 154l-1 -2M818 158l1 -2M803 162l3 4M821 163l5 -3M814 155l-0 -3M819 153l-3 -4M821 155l-5 1M813 166l-2 -6M801 160l4 -5M814 152l4 -3M785 165l-2 7M815 155l-3 -6M840 148l-3 1M823 141l1 3M815 158l0 -2M813 137l-5 -0M830 153l0 -3M817 151l-2 1M827 158l3 4M816 150l-0 -1M816 147l-3 6" stroke="#3ec83e" stroke-width="1.2" fill="none" stroke-linecap="round"/><path d="M829 118l-1 -2M830 119l-0 -2M836 115l-1 2M823 105l-3 -0M830 120l-1 -1M831 119l-0 2M832 122l1 2M843 122l-3 0M830 113l-2 -0M835 119l-0 2M833 126l2 -3M824 127l1 1M825 117l-2 -0M828 127l2 3M829 125l-2 2M836 122l1 2M831 119l2 -1M822 122l2 -0M840 127l-2 0M834 117l2 2M831 121l2 1M831 122l-2 1M832 110l2 1M837 118l1 2M827 124l-0 -2M837 121l-2 3M833 123l-0 -3M835 122l-1 -2M839 120l-2 2M833 112l-3 -1M831 119l1 2M829 119l1 1M829 116l-3 0M829 119l3 1M830 121l1 -2M825 121l2 2M830 119l3 0M833 119l-1 -3M840 129l-0 3M830 120l-0 3M840 110l6 -0M831 120l-5 -2M830 120l-4 -5M827 99l-0 7M840 112l-1 -5M821 125l4 -4M831 119l1 1M830 121l3 -1M806 121l-0 -3M838 102l-4 -0M831 120l-6 4M841 132l-4 2M860 122l0 -3M831 122l2 -5M836 92l-3 -5M829 140l-3 -2M824 128l-1 -1M821 112l-3 5M835 117l1 -4M836 104l3 0" stroke="#3ec83e" stroke-width="1.1" fill="none" stroke-linecap="round"/></g><clipPath id="m4"><rect x="923.8" y="51.3" width="109.8" height="113.7"/></clipPath><g clip-path="url(#m4)"><rect x="923.8" y="51.3" width="109.8" height="113.7" fill="#03030c" /><g fill="#1c1c90" filter="url(#blur2)"><ellipse cx="1034" cy="103" rx="5.2" ry="4.7" opacity="0.6"/><ellipse cx="930" cy="120" rx="3.4" ry="2.7" opacity="0.9"/><ellipse cx="1022" cy="63" rx="3.2" ry="2.5" opacity="0.9"/><ellipse cx="924" cy="75" rx="3.3" ry="2.5" opacity="0.7"/><ellipse cx="942" cy="97" rx="5.2" ry="4.8" opacity="0.7"/><ellipse cx="1012" cy="117" rx="5.5" ry="4.2" opacity="0.7"/><ellipse cx="988" cy="162" rx="4.9" ry="4.1" opacity="0.6"/><ellipse cx="953" cy="74" rx="6.0" ry="5.8" opacity="0.9"/><ellipse cx="982" cy="133" rx="3.9" ry="3.3" opacity="0.5"/><ellipse cx="969" cy="79" rx="3.3" ry="3.2" opacity="0.5"/><ellipse cx="1015" cy="132" rx="3.3" ry="2.8" opacity="1.0"/><ellipse cx="1035" cy="116" rx="5.3" ry="4.9" opacity="0.6"/><ellipse cx="984" cy="120" rx="4.2" ry="4.0" opacity="0.7"/><ellipse cx="1008" cy="56" rx="4.3" ry="3.1" opacity="0.8"/><ellipse cx="1022" cy="113" rx="4.7" ry="4.2" opacity="0.6"/><ellipse cx="966" cy="118" rx="4.9" ry="4.0" opacity="0.7"/><ellipse cx="959" cy="115" rx="5.0" ry="4.0" opacity="0.8"/><ellipse cx="1019" cy="113" rx="5.9" ry="4.7" opacity="1.0"/><ellipse cx="942" cy="92" rx="5.5" ry="3.9" opacity="0.8"/><ellipse cx="1022" cy="161" rx="5.0" ry="4.1" opacity="0.6"/><ellipse cx="994" cy="56" rx="3.1" ry="3.0" opacity="0.8"/><ellipse cx="940" cy="100" rx="3.9" ry="3.7" opacity="0.6"/><ellipse cx="1005" cy="137" rx="4.0" ry="3.1" opacity="0.7"/><ellipse cx="967" cy="119" rx="4.0" ry="3.7" opacity="0.7"/><ellipse cx="937" cy="141" rx="5.7" ry="5.1" opacity="0.8"/><ellipse cx="1022" cy="160" rx="3.0" ry="2.6" opacity="0.5"/><ellipse cx="959" cy="77" rx="4.4" ry="4.0" opacity="0.9"/><ellipse cx="951" cy="50" rx="6.0" ry="5.6" opacity="0.8"/><ellipse cx="934" cy="55" rx="5.8" ry="5.0" opacity="0.9"/><ellipse cx="1012" cy="138" rx="5.4" ry="4.2" opacity="0.6"/><ellipse cx="971" cy="140" rx="5.4" ry="5.0" opacity="0.8"/><ellipse cx="976" cy="72" rx="5.0" ry="4.5" opacity="0.7"/><ellipse cx="1005" cy="166" rx="5.8" ry="4.3" opacity="0.6"/><ellipse cx="992" cy="131" rx="3.9" ry="3.8" opacity="0.7"/><ellipse cx="1009" cy="55" rx="3.8" ry="2.7" opacity="0.9"/><ellipse cx="981" cy="162" rx="4.8" ry="3.8" opacity="0.6"/><ellipse cx="964" cy="72" rx="3.3" ry="3.0" opacity="0.6"/><ellipse cx="973" cy="133" rx="3.8" ry="3.2" opacity="0.6"/><ellipse cx="958" cy="128" rx="3.3" ry="2.7" opacity="0.5"/><ellipse cx="998" cy="84" rx="5.9" ry="5.0" opacity="0.8"/><ellipse cx="981" cy="146" rx="5.1" ry="4.6" opacity="0.5"/><ellipse cx="937" cy="138" rx="4.2" ry="4.2" opacity="0.8"/><ellipse cx="1016" cy="138" rx="5.9" ry="5.3" opacity="1.0"/><ellipse cx="970" cy="80" rx="3.3" ry="2.6" opacity="0.9"/><ellipse cx="997" cy="53" rx="3.1" ry="2.6" opacity="0.7"/><ellipse cx="963" cy="51" rx="3.8" ry="3.6" opacity="0.8"/><ellipse cx="1016" cy="81" rx="5.0" ry="3.8" opacity="0.6"/><ellipse cx="1032" cy="74" rx="3.9" ry="3.0" opacity="0.9"/><ellipse cx="1000" cy="119" rx="5.6" ry="4.7" opacity="1.0"/><ellipse cx="1011" cy="84" rx="3.7" ry="3.2" opacity="0.7"/><ellipse cx="1012" cy="126" rx="5.2" ry="4.6" opacity="0.6"/><ellipse cx="1007" cy="166" rx="4.9" ry="4.5" opacity="0.6"/><ellipse cx="934" cy="102" rx="4.8" ry="4.4" opacity="0.7"/><ellipse cx="984" cy="59" rx="3.1" ry="2.3" opacity="0.6"/><ellipse cx="949" cy="65" rx="4.0" ry="3.2" opacity="0.9"/></g><ellipse cx="981" cy="108" rx="16" ry="10" fill="#ff2090" opacity="0.8" filter="url(#blur2)"/><ellipse cx="984" cy="108" rx="5" ry="4" fill="#ffffff" opacity="0.9" filter="url(#blur1)"/><path d="M1026 164l-0 -2 -3 -4M1000 149l1 3 3 1M964 105l1 2 4 3M995 116l3 1 4 0M968 142l-1 4 1 1M1011 148l-1 2 -3 0M934 164l-3 -1 -2 -1M987 98l-3 3 -1 4M1006 159l3 4 0 2M1024 108l1 2 -3 3M949 153l4 1 4 2M1024 134l2 -3 3 0M1004 137l-4 3 -2 0M988 107l-2 -1 -1 -2M1005 79l3 0 4 2M983 151l1 2 3 3M1008 59l-2 -2 -1 -1M941 124l-3 4 -1 2M944 111l-3 -0 -1 -3M1009 129l1 -2 3 0M942 119l3 1 1 -1M973 147l0 -5 2 -3M990 160l2 3 1 1M1020 129l-2 4 -2 3M984 149l-2 -0 -2 -1M987 157l-0 -2 3 -4M975 80l-4 1 -1 4M994 97l1 -2 4 -1M976 64l-2 1 -2 0M981 98l-2 3 -2 4M973 117l-0 -2 -0 -2M978 109l4 -3 2 -4M965 80l-2 -2 0 -5M927 163l2 -2 3 -1M941 131l3 0 4 0M968 84l-4 1 -1 1M1016 75l1 2 -1 1M992 116l1 4 1 1M927 126l4 1 1 1M1030 67l-2 4 0 4M1000 138l-2 2 -2 3M926 62l-0 2 -3 4M980 89l-4 2 -3 -0M994 155l-2 -2 0 -1M939 73l-3 3 -2 -0M1020 164l3 -3 2 -2M941 95l0 3 5 2M970 62l2 2 4 -1M957 124l-2 3 -3 0M1024 128l-0 -4 0 -2M999 55l0 4 -1 1M1010 102l1 5 0 2M1025 59l-1 -4 1 -3M957 76l0 -3 -3 -2M1004 141l-4 1 -4 -0M953 76l1 -2 -2 -3M1010 150l2 -0 1 2M939 83l2 1 3 -1M931 138l3 0 1 -1M924 109l2 1 3 -3M941 98l0 -2 -1 -4M993 67l-4 -1 -2 -0M947 154l-2 2 -1 3M1018 126l-2 -2 -4 -0M963 85l-0 -5 1 -1M1007 113l4 2 3 1M931 115l-4 1 -1 -1M1024 96l4 0 3 3M941 135l4 -2 3 -3M936 152l-3 -2 -1 -2M949 59l-0 -2 -4 -1M978 164l2 3 4 1M1029 161l3 3 1 1M972 134l-1 -3 -2 -1M959 91l4 -1 1 0M961 139l1 2 1 1M987 88l2 -4 1 -5M1020 158l5 -1 2 2M1032 82l-1 -2 2 -3M929 161l-2 -2 -3 -4M1025 66l0 3 1 1M988 125l1 -4 3 -4M926 162l-4 2 -4 1M997 69l-2 -0 -2 -4M957 88l-1 2 -2 3M962 100l3 -3 -0 -2M1023 124l2 3 3 2M1018 142l-1 3 1 2M995 127l-4 -0 -1 1M942 132l-2 -3 1 -2M1025 154l2 4 0 2M952 65l-3 3 -2 4M964 129l-2 3 -2 2M955 61l2 3 1 1M1001 61l3 4 2 2M995 107l-2 4 -2 2M972 117l1 -3 -0 -1M1022 164l1 -4 2 -3M930 87l-2 2 -4 3M1008 91l-4 2 -2 0M992 70l1 -3 0 -4M941 106l2 2 4 2M1007 75l2 2 3 2M1024 107l1 2 1 3M1015 68l2 1 4 2M962 78l2 3 3 1M975 124l2 3 2 3M954 68l1 4 -2 3M983 109l3 -1 0 -2M956 74l-2 3 -1 -0M940 78l-0 -3 -1 -3M944 109l3 0 2 3M994 83l3 4 1 2M988 140l-0 -3 2 -2M960 64l3 -1 5 -1M932 84l3 1 4 -3M980 145l3 -4 1 -3M995 158l-1 4 -3 2M931 142l3 1 3 -1M1021 160l4 -3 -1 -3M983 127l-4 2 -0 4M1021 105l-2 -1 -2 -4M935 108l3 4 0 4M982 142l1 3 -0 4M962 53l-3 0 -1 1M1019 100l-1 3 -2 2M996 140l2 -3 2 -4M1006 67l-3 -0 -2 -1M993 114l-3 -3 -2 -1M933 126l2 -2 1 -1M1019 129l3 -1 2 -2M960 93l0 -4 -2 -2M1013 120l3 -3 -1 -2M1000 94l-4 1 -1 1M946 96l-2 -1 -3 2M1006 120l-1 -3 1 -1M1011 132l0 -5 -1 -2M976 75l-3 1 -3 3M948 132l-1 -3 3 -3M933 84l-4 -2 -2 -3M1002 109l2 -1 3 -1M980 54l4 2 2 2M983 52l-5 -1 -4 -3M924 155l-4 0 -1 -1M995 140l3 -1 1 -1M926 76l5 0 4 3M996 78l1 4 -1 1M999 90l2 2 1 1M1020 145l-2 -1 -2 -3M1007 158l1 -4 3 -3M944 119l-2 1 -4 1M1001 63l-0 5 2 2M950 71l1 -2 2 -1M993 82l-0 -3 2 -3M1021 99l1 2 0 4M989 52l-1 -5 -1 -2M929 161l-1 2 -0 2M1028 146l2 -2 -0 -2M998 78l-3 3 -1 1M956 79l-2 -0 -1 1M951 92l2 2 2 2M1018 156l-1 3 -1 2M934 152l2 0 2 3M1002 106l-4 -2 -4 -2M1014 82l3 -2 2 -3M1032 135l-3 1 -3 3M960 145l-3 4 -2 0M957 101l-4 1 -4 0M971 65l-0 -2 -0 -1M1029 122l-2 3 0 1M938 59l-2 3 -2 1M1026 76l1 4 -0 2M945 149l1 3 -1 5M984 126l-2 2 -4 -1M980 162l-3 -1 -2 1M1009 158l2 2 -0 1M990 161l2 1 1 2M969 147l-2 0 -2 -3M924 160l0 3 -3 2M1029 124l2 -0 3 1M979 146l2 -1 2 -1M950 101l0 5 -3 4M951 105l-2 4 -0 4M992 98l4 -2 3 2M1020 76l3 -0 2 1M990 93l3 -4 -0 -5M1028 159l0 3 -2 2M991 143l-0 4 -1 3M933 124l3 -1 1 1M973 158l-3 0 -4 0M975 160l-1 2 -5 -0M976 70l2 -2 1 0M954 152l2 2 5 0M979 134l-1 4 -2 1M990 152l-4 -0 -2 3M1012 79l2 -2 -0 -2M928 143l-4 -1 -1 -1M970 84l-3 1 -0 2M942 145l2 2 2 2M933 89l3 -1 3 -1M965 60l-4 -2 -1 -2M978 77l-4 -1 -1 -1M960 54l-2 2 1 4M984 91l-1 2 -2 3M968 80l-3 -1 -1 -1M1025 154l2 -0 2 0M963 122l3 -3 4 -0M961 55l-2 3 1 3M981 109l4 3 1 -1M1019 156l2 -4 -3 -4M1021 123l1 -3 1 -3M989 99l3 -1 2 -2M1009 67l-5 -0 -3 2M1029 142l-3 -2 -1 1M1033 101l-0 3 -2 1M1004 56l1 -3 2 -3M936 126l-3 2 -3 3M924 99l3 2 3 -1M1027 149l2 3 2 -0M1008 113l1 3 -1 1M980 107l5 0 1 -1M941 133l-2 -2 -3 1M945 131l2 0 3 -1M1021 151l-3 -1 -1 -0M996 106l-3 2 -1 -0M999 117l1 -2 2 -4M969 109l4 -1 1 -5M1030 113l0 -2 3 -3M1009 65l-4 3 -3 0M975 114l-2 4 -0 4M974 139l-2 2 0 4M940 112l4 -1 3 2M939 97l2 -1 2 -3M979 132l-4 -2 1 -5M949 82l2 3 -1 4M1012 66l-2 -1 -1 -2M1006 97l-3 -2 -3 -4M962 121l-2 1 -3 2M955 101l1 2 1 -0M969 159l-0 4 0 1M950 151l1 -3 0 -1M962 157l-5 1 -0 1M995 56l4 -1 5 0M994 130l-1 4 3 3M944 146l-3 3 -1 2M984 84l-2 -4 1 -4M941 83l0 2 2 2M985 137l-2 3 -3 0M998 142l-4 -2 -2 1M992 132l0 5 -2 1M958 133l1 4 -1 2M961 138l-2 3 -5 -0M939 165l4 2 0 2M947 148l-2 2 -2 4M930 152l-2 -1 -4 -0M1013 64l0 4 -2 3M1006 149l5 0 2 -3M972 98l-0 -3 -1 -4M980 161l3 -2 3 0M1022 86l2 4 0 1M948 143l-1 4 -1 0M956 89l1 2 5 0M935 124l-1 4 1 2M978 121l3 0 1 -1M971 52l-1 2 1 2M1004 112l-2 -3 1 -4M1016 57l-3 2 -1 1M947 81l-2 2 -4 0M936 160l-2 -2 -2 -2M1030 102l-0 3 -2 1M955 90l1 -4 -0 -1M945 133l-2 4 -2 -0M930 70l-2 2 -1 2M946 117l-4 2 -0 4M924 113l2 2 1 2M1017 135l-2 4 -1 0M978 60l-0 -4 2 -3M961 122l0 -4 -1 -5M1022 150l-3 0 -2 -0M1002 162l4 -1 0 -2M1005 122l2 -3 0 -3M1025 160l2 -1 3 -3M1033 76l2 -3 3 -0M1024 68l1 3 -0 4M959 127l1 -4 4 -2M936 150l2 -2 -0 -4M937 149l0 4 -1 1M987 109l-4 -2 1 -5M949 156l-0 -2 0 -5" stroke="#c8b030" stroke-width="1" fill="none"/><path d="M955 75l-0 2M958 89l-1 2M967 90l1 2M947 76l0 -2M963 74l0 2M942 81l-2 -1M939 85l-2 -0M958 90l-2 -1M953 89l-1 -2M936 96l-2 1M943 79l2 -0M976 90l-3 -1M954 89l0 -3M962 90l2 3M956 88l2 1M960 86l-2 1M954 87l-1 -2M960 94l-1 -2M957 85l-2 1M956 85l1 -1M968 81l-1 -2M952 76l2 -3M952 79l3 -2M952 87l-3 -0M955 64l-2 -2M959 91l-0 -2M965 83l1 -2M957 88l-1 2M962 89l-0 3M959 89l-2 -1M960 83l-1 3M954 103l2 -2M952 86l-1 3M959 83l-0 3M941 57l-2 2M957 87l3 -0M958 90l-2 -2M959 88l-2 1M953 84l-0 2M958 89l0 -2M948 74l1 -3M946 78l-1 1M957 86l2 1M956 85l-3 -2M959 94l-1 1M959 81l-2 0M957 85l1 3M956 86l-3 1M940 82l-0 3M958 88l-2 -0M952 82l-2 0M944 99l-1 -2M952 79l3 1M959 87l-1 3M947 80l1 3M958 86l-3 -2M957 90l-0 3M964 63l1 3M963 90l-3 -0M954 72l1 -1M960 80l3 0M958 85l2 -2M957 74l3 -1M957 85l1 3M958 85l2 -2M954 73l-3 1M953 87l1 -2M954 74l-2 -1M956 94l-3 -2M981 72l0 -3M957 84l2 1M964 90l-0 2M959 85l2 1M956 91l2 3M952 84l-1 -3M957 85l1 3M949 82l-1 -2M959 96l-2 -0M953 83l1 3M955 85l-2 0M956 75l-1 -1M959 100l-1 1M954 86l-0 -2M959 88l-1 0M958 82l-3 -1M962 99l-2 1M950 77l0 -3M969 82l1 2M955 82l3 0M958 89l-2 1M964 78l-3 -1M959 69l-1 3M954 71l1 -1M956 76l-2 3M949 89l1 -2M960 83l1 3M956 87l-3 1M960 93l2 -0M943 80l-2 -3M952 90l1 -1M958 89l2 -1M949 85l-2 -0M963 77l1 3M960 98l1 3M957 86l-3 1M954 87l-2 2M953 97l2 3M958 81l3 1M930 94l3 2M964 73l1 -2M957 86l2 -6M960 76l-2 1M958 87l-1 3M928 101l-3 6M974 56l0 -2M953 85l2 5M952 91l6 -1M925 52l5 4M958 76l-2 3M962 70l4 -5M966 56l-3 -2M928 97l2 1M949 63l-3 6M942 73l-0 3M957 84l1 -0M943 90l3 0M943 85l-6 -2M936 117l7 -1M957 84l5 -4M948 70l-3 -4M951 77l2 3M967 51l5 3M952 82l2 -3M962 80l-1 -4M947 88l-5 3M974 66l2 -1M950 83l5 0M960 100l-3 -4M959 87l-2 2M979 80l-3 5M954 81l1 -2M974 120l3 -1M951 92l2 -0M935 124l-1 2M954 93l3 -5M949 90l1 6M949 84l3 6M960 86l-3 -1M958 98l-2 1M955 91l4 4M967 86l-3 1M956 97l1 -2M955 70l5 5M957 82l-2 -3M958 85l-0 7M963 87l-3 -4M953 86l-2 -0M964 83l-1 2M957 85l-3 4M969 65l-3 3M970 88l-1 6M959 85l4 1M989 108l-4 6M957 84l-1 -5M952 105l-3 -4" stroke="#d8c838" stroke-width="1.3" fill="none" stroke-linecap="round"/><path d="M1005 110l2 0M1005 111l2 2M995 113l3 -1M1015 120l-2 1M1013 115l1 1M1012 114l-1 1M1019 108l-0 -2M1016 130l-2 1M1006 116l-2 1M1015 107l-2 2M1017 106l-2 -1M1010 114l-2 -2M1014 109l3 -2M1024 127l1 -1M1019 113l-2 -1M1014 113l2 1M1012 114l-1 2M1017 115l-2 2M1015 110l2 -0M1008 110l-0 2M1023 113l3 -1M1013 120l-2 -1M1013 115l-2 2M1008 103l1 1M1037 107l-0 -3M1018 116l-3 -2M1011 123l2 2M1011 112l1 -2M1005 106l-1 -2M1012 114l-2 2M1007 106l2 -0M1016 114l3 1M1025 107l-1 -1M1011 114l2 2M1008 126l-1 2M1015 117l-1 -3M1019 118l-0 3M1009 118l-0 -2M1014 114l-1 2M1013 114l1 2M1017 111l2 -0M1004 113l-0 2M1011 115l-1 -3M1009 119l-2 -1M1013 110l1 3M1010 119l-2 1M1012 114l1 -3M1005 110l1 -2M1012 98l2 -1M1012 114l-2 -3M1019 109l-1 -3M1011 113l1 -3M1015 110l-2 1M1012 107l-2 -2M1011 114l3 2M1018 115l1 3M1006 119l-3 -1M1010 118l-2 -2M1016 106l-1 -2M998 121l0 2M1017 111l-3 -0M1009 113l2 2M1020 110l-2 -1M1011 117l-2 -2M1010 110l-2 -2M1027 114l-2 1M1008 111l0 -2M999 124l-1 -3M998 122l-2 1M1014 118l-1 -3M1011 115l2 1M1016 106l-1 -2M1003 121l2 -1M1023 114l1 3M1012 112l-2 -2M1008 109l-2 1M1011 114l2 -0M1008 104l2 2M1013 111l2 1M1015 116l-2 -2M1002 123l-2 -2M1010 117l-2 1M1013 105l-1 2M1012 117l-2 2M1008 108l2 0M1005 110l3 0M1012 114l-0 -3M1006 101l1 -3M1013 118l1 3M1021 127l1 -1M1010 109l1 6M1011 114l4 2M1012 113l-1 4M1017 113l-3 1M1012 114l-1 6M1015 122l4 -4M1014 118l-2 -1M992 120l-4 4M1023 98l6 -1M1012 114l2 1M1011 111l-1 -2M997 98l-5 -2M1014 111l4 -1M1016 118l-3 -1M1024 110l0 -2M1013 113l2 -1M992 115l-7 -2M1015 112l-5 1M1005 110l0 -7M1023 86l-6 3M998 121l7 -2M1012 113l2 3M1005 134l4 -4M1012 116l-0 -5M1012 112l-5 1M1001 113l-1 -2M1030 121l-5 0M1012 117l1 3M1006 93l-2 -1M1028 120l-6 1M1005 111l3 0M1007 118l-2 -6M1019 121l-2 2M1011 114l3 1M1006 132l-3 -1M1017 120l0 -4M1015 109l1 3M988 100l1 3M1005 123l0 5M1011 126l-2 6M1013 109l4 -4M1014 120l-3 -3M1005 128l1 -7M1013 109l-0 -3M1004 115l-4 0" stroke="#d8c838" stroke-width="1.3" fill="none" stroke-linecap="round"/><path d="M1017 80l-1 -1M1014 95l-2 2M1017 79l-0 2M1014 79l2 -3M1019 77l-2 0M1018 79l-2 -1M1017 75l1 -1M1015 73l2 2M1016 74l-1 -1M1012 79l2 -1M1025 80l0 3M1018 79l1 1M1017 79l-1 -1M1016 77l3 -1M1019 82l0 3M1023 80l2 2M1016 80l-2 0M1024 84l-1 3M1016 79l-1 -3M1009 95l3 -0M1021 80l-2 0M1016 85l-3 1M1016 77l-2 -2M1018 82l1 3M1019 90l-2 -3M1014 79l1 3M1014 72l-2 1M1002 81l-2 -2M1023 89l-2 1M1017 80l-0 -3M1011 80l-1 -3M1021 84l-1 -2M1030 81l2 -1M1003 86l0 3M1016 83l-0 -2M1012 78l2 2M1024 65l2 1M1017 76l-3 -1M1023 86l-3 -0M1014 89l3 -1M1016 76l-3 1M1016 82l-1 2M1017 80l1 -3M1020 81l2 -2M1016 80l2 1M1017 79l-1 -2M1020 85l3 -1M1016 83l-2 -2M1017 80l1 2M1017 80l2 -0M1007 80l-3 0M1020 80l-2 -1M1004 67l-2 3M1022 81l1 -2M1022 79l2 -2M1012 75l1 -1M1020 80l2 -2M1021 79l-2 1M1018 77l-2 3M1017 80l-1 2M1015 74l-3 2M1015 86l4 -1M1012 84l5 5M1013 95l1 -2M1015 78l-6 -2M1023 109l-5 4M1005 104l-4 -5M1016 72l-0 4M1011 98l-1 -4M1022 71l-2 -3M1018 97l-2 -6M1017 80l3 -5M1018 75l-2 1M1023 83l2 0M1027 66l4 3M1014 64l-3 -6M1016 79l-4 -1M1032 98l-3 3M1037 78l-1 3M1021 81l6 4M1017 67l-1 4M1002 74l-1 -1M1015 48l4 3M1017 75l1 2M1017 83l-3 2M1026 86l-3 0M1019 77l-6 -2M1031 83l-3 -0M1015 84l0 3M1018 74l2 -4" stroke="#d8c838" stroke-width="1.2" fill="none" stroke-linecap="round"/><path d="M962 145l-0 2M973 148l1 -2M968 146l-2 0M972 148l-3 1M972 145l-0 -2M973 148l3 -1M975 133l0 -2M967 153l1 -2M986 143l2 -0M980 139l2 -0M974 146l-1 -3M975 146l-3 0M975 149l-2 -2M972 151l-2 1M975 151l-1 -2M974 149l2 2M966 139l1 -2M979 145l2 0M964 151l-2 2M974 148l-3 0M973 148l2 -2M981 150l-0 2M974 150l-3 -1M969 146l-1 -3M984 137l3 1M973 149l2 1M974 157l-2 -0M974 144l1 -2M971 161l1 -1M984 140l2 -2M962 151l-1 2M975 147l-1 -3M976 146l1 3M971 147l-2 1M961 128l2 2M968 143l3 -2M962 144l-2 -0M978 150l2 -1M968 149l-3 -1M965 149l1 3M972 141l-2 -1M960 131l2 1M974 150l0 -3M972 147l-1 -1M964 154l1 -1M974 148l2 2M977 149l-3 1M974 149l-1 -1M972 149l-1 2M970 146l2 2M973 148l1 2M963 146l0 -2M976 156l2 0M962 143l2 -2M978 141l2 -3M975 147l3 -1M974 152l-2 -1M962 133l3 0M970 153l1 1M984 152l-3 -1M966 139l2 -4M989 156l3 2M982 156l1 -2M974 136l-2 1M976 138l3 -4M987 147l-1 2M959 154l-1 -2M972 119l3 -1M965 139l-5 -0M974 148l-2 -5M975 146l-6 -0M968 151l2 -3M972 148l4 3M972 151l-4 3M976 137l2 4M951 148l2 1M971 156l-3 -2M963 159l-2 -2M976 171l2 2M963 143l-3 -4M973 149l-3 -4M969 154l5 -3M968 162l1 -1M978 143l-3 -2M965 160l1 -2M972 146l4 1M988 156l-1 -4M977 146l2 0M965 139l-5 -2M972 146l-1 -2" stroke="#d8c838" stroke-width="1.2" fill="none" stroke-linecap="round"/><path d="M934 132l1 -1M933 144l2 1M930 142l1 -2M930 150l2 0M936 144l-2 -2M925 149l1 2M927 144l-2 2M934 145l-1 -0M928 143l-2 0M929 142l-3 1M929 142l-2 -1M926 142l1 1M942 142l2 3M934 152l2 -2M927 139l1 3M927 145l-2 1M931 146l1 2M927 143l-2 -2M923 143l1 -1M923 147l0 -2M926 149l-2 -1M918 139l2 3M935 146l2 0M937 137l-2 -3M924 141l0 3M932 146l-0 -3M930 142l2 1M926 144l0 -2M944 140l-3 0M930 141l2 1M928 139l-2 3M926 142l1 2M928 143l0 -3M929 142l-1 2M925 154l-2 -1M927 145l-2 2M929 142l2 3M930 147l1 3M934 137l2 0M928 142l1 -1M928 142l-2 1M929 139l3 -1M928 142l-2 -0M929 147l-0 2M931 136l-1 3M926 143l-2 0M935 151l-3 1M930 143l-2 -1M924 132l-1 3M930 153l2 2M928 145l1 5M959 138l3 3M945 171l2 -0M923 137l-0 -4M924 152l6 2M931 134l5 -1M927 147l2 1M929 142l-1 -1M926 143l-1 -6M934 142l2 3M911 138l1 1M949 152l3 -2M933 131l5 -3M926 144l3 -4M925 135l6 -1M933 125l-3 -4M936 128l-7 3M916 137l2 1M928 154l-5 2M916 130l3 -1M927 146l0 5M932 137l4 -4M914 152l-1 -1M914 168l3 -1M934 140l-2 -2" stroke="#f07030" stroke-width="1.5" fill="none" stroke-linecap="round"/><path d="M979 112l-3 -1M968 112l1 2M975 101l-3 0M979 108l1 3M985 109l1 2M979 108l-2 0M978 112l-0 -2M977 109l2 -2M979 105l-1 -1M980 110l3 0M976 87l-2 -0M978 105l2 -0M981 105l3 1M988 104l2 -1M978 104l-3 -1M980 110l-3 -2M974 114l-2 -1M979 108l-3 -1M978 108l-2 3M968 93l-3 -1M976 108l-0 -2M972 108l-3 -1M980 113l2 0M991 103l-0 3M976 110l3 1M962 113l-1 -1M973 93l2 -1M982 98l1 2M996 113l-3 -0M978 109l-3 1M978 111l2 1M982 122l0 -2M970 112l-1 -2M970 114l-0 -2M983 108l2 -0M974 111l2 -1M985 104l3 -1M978 101l1 -1M979 106l3 -2M979 108l2 -0M969 115l1 -3M978 109l0 3M972 104l3 2M992 112l-2 0M980 102l-0 -2M976 93l0 2M995 110l-2 0M978 110l-3 -0M983 123l-1 -2M979 111l-2 3M983 109l-2 -2M991 126l-0 2M979 108l3 -1M980 109l-0 3M978 102l2 1M978 108l0 -3M980 109l-1 -3M978 109l-1 -2M974 106l0 -3M994 110l2 -1M978 106l1 2M982 110l1 3M974 112l-2 -2M975 112l1 2M991 122l-2 -1M975 101l1 1M994 87l2 -1M981 108l-0 2M982 101l-1 3M987 95l2 1M975 107l2 -1M965 127l-3 -2M978 106l-1 3M977 119l-3 2M986 119l1 -2M972 114l-2 -1M979 102l-3 1M982 111l-2 -1M994 99l2 -0M973 116l-1 -1M984 104l-2 -1M984 114l3 -2M978 108l-1 -1M978 101l2 1M998 97l3 1M962 101l-0 3M971 106l2 2M983 121l-1 1M963 111l-0 -2M997 93l1 -2M968 104l2 -1M983 110l2 -2M990 102l2 -2M988 110l-3 -0M971 104l-1 2M967 107l1 -3M979 117l-1 -1M981 108l3 0M979 108l1 2M978 100l-0 -3M981 114l-1 1M981 106l3 0M972 111l-1 -2M972 98l-1 2M1000 123l-0 -2M975 107l1 1M976 108l-1 -2M980 106l3 1M990 103l-2 0M993 108l2 1M962 104l-0 3M995 114l3 -1M971 109l1 1M984 100l-1 3M973 95l-3 -1M986 96l-1 2M978 110l0 -3M983 112l1 -2M979 117l-1 -3M977 111l-2 0M986 113l2 -1M979 110l-0 2M980 100l-3 -0M974 112l-1 -2M979 107l-2 -2M980 108l-0 2M979 100l0 3M981 96l2 2M975 118l-0 2M987 118l-2 -1M982 104l-2 3M977 110l-1 2M974 116l2 0M973 106l1 1M981 111l0 -2M979 107l2 -1M962 109l-1 2M971 128l0 -2M978 108l2 -1M979 108l-0 -2M985 111l-2 -2M969 106l1 3M966 116l-1 1M978 110l-1 2M981 109l-0 -2M985 105l1 -1M972 120l-2 3M989 117l0 2M981 117l-3 -2M984 114l-1 1M985 114l2 1M983 104l-1 -0M983 110l-1 1M979 108l2 2M976 124l2 -1M978 110l-2 1M994 108l1 -2M978 108l-2 -2M981 103l-1 -1M952 103l-0 3M979 99l-6 -0M985 102l-1 -5M1014 129l-4 -2M981 100l-0 3M996 157l2 -6M974 115l-3 -0M986 120l-1 3M976 110l1 -5M990 106l-5 2M978 100l-6 0M985 108l-2 3M985 72l1 -4M997 96l-3 -3M972 95l-6 3M969 99l-2 1M989 117l3 5M977 109l-4 3M969 131l-3 2M979 108l3 -0M992 98l-2 -1M969 91l1 -2M975 107l-3 -5M1020 102l-3 4M971 93l3 -0M986 111l4 -0M939 101l-0 3M978 108l-0 -4M976 105l-2 4M949 124l4 -6M973 68l-2 -2M981 104l2 -0M986 109l-5 -5M988 109l-2 2M977 157l-5 -5M979 108l-3 -3M980 94l2 -1M976 105l1 -2M959 95l-1 6M978 130l-1 4M975 119l0 6M972 84l0 -3M991 87l0 -3M962 92l-4 1M978 98l-3 3M982 117l-2 -5M985 122l-4 -1M995 112l4 3M1008 129l2 3M1031 149l2 -3M999 114l-6 -1M975 133l2 -2M994 123l6 -3M975 121l-2 -2M991 96l-2 0M988 100l4 -3M983 102l2 -2M976 107l2 -4M979 108l-3 2M977 143l-6 -1M977 109l1 -3M1003 96l3 -4M946 90l-0 -2M953 95l7 2M967 102l-3 4M944 106l2 -0M1005 131l4 2M977 116l3 -4M980 110l5 -0M971 96l3 1M971 116l4 -2M946 68l1 5M968 102l-3 4M947 147l-4 3M977 117l5 -4M953 104l4 -1M986 114l3 1M965 142l2 3M969 102l2 -4M990 92l1 -6M1003 101l-5 -5" stroke="#ff3050" stroke-width="1.6" fill="none" stroke-linecap="round"/></g><clipPath id="m5"><rect x="577.8" y="171.7" width="109.2" height="114.3"/></clipPath><g clip-path="url(#m5)"><rect x="577.8" y="171.7" width="109.2" height="114.3" fill="#03030c" /><g fill="#1c1c90" filter="url(#blur2)"><ellipse cx="685" cy="274" rx="5.2" ry="4.0" opacity="0.6"/><ellipse cx="657" cy="266" rx="3.1" ry="2.3" opacity="0.9"/><ellipse cx="588" cy="248" rx="4.0" ry="3.6" opacity="0.9"/><ellipse cx="642" cy="216" rx="4.0" ry="3.5" opacity="0.8"/><ellipse cx="622" cy="225" rx="4.6" ry="3.6" opacity="0.5"/><ellipse cx="640" cy="181" rx="4.8" ry="4.5" opacity="0.9"/><ellipse cx="604" cy="219" rx="5.8" ry="4.6" opacity="1.0"/><ellipse cx="598" cy="270" rx="3.1" ry="2.8" opacity="0.9"/><ellipse cx="638" cy="245" rx="5.7" ry="5.7" opacity="0.5"/><ellipse cx="635" cy="173" rx="4.1" ry="3.1" opacity="0.5"/><ellipse cx="647" cy="179" rx="3.5" ry="2.4" opacity="0.9"/><ellipse cx="603" cy="177" rx="4.9" ry="4.5" opacity="0.8"/><ellipse cx="638" cy="233" rx="5.2" ry="4.1" opacity="0.9"/><ellipse cx="655" cy="272" rx="5.7" ry="5.4" opacity="0.7"/><ellipse cx="635" cy="257" rx="4.7" ry="3.4" opacity="1.0"/><ellipse cx="598" cy="227" rx="4.4" ry="3.2" opacity="0.8"/><ellipse cx="643" cy="267" rx="4.8" ry="3.8" opacity="0.8"/><ellipse cx="685" cy="245" rx="5.5" ry="3.9" opacity="0.8"/><ellipse cx="599" cy="188" rx="4.0" ry="3.0" opacity="0.5"/><ellipse cx="599" cy="196" rx="3.7" ry="3.5" opacity="0.5"/><ellipse cx="598" cy="175" rx="4.5" ry="3.5" opacity="0.7"/><ellipse cx="602" cy="192" rx="4.5" ry="3.2" opacity="0.9"/><ellipse cx="640" cy="216" rx="4.6" ry="4.6" opacity="0.7"/><ellipse cx="620" cy="195" rx="4.1" ry="3.9" opacity="0.8"/><ellipse cx="607" cy="277" rx="3.4" ry="2.7" opacity="0.9"/><ellipse cx="680" cy="224" rx="3.0" ry="2.6" opacity="0.7"/><ellipse cx="578" cy="211" rx="5.6" ry="4.0" opacity="0.5"/><ellipse cx="594" cy="265" rx="3.9" ry="3.6" opacity="0.8"/><ellipse cx="576" cy="221" rx="3.4" ry="3.2" opacity="0.7"/><ellipse cx="617" cy="266" rx="5.5" ry="3.9" opacity="0.5"/><ellipse cx="612" cy="206" rx="4.3" ry="3.6" opacity="1.0"/><ellipse cx="652" cy="284" rx="4.9" ry="3.7" opacity="0.8"/><ellipse cx="593" cy="239" rx="3.4" ry="3.4" opacity="0.6"/><ellipse cx="678" cy="195" rx="3.6" ry="2.8" opacity="0.9"/><ellipse cx="670" cy="258" rx="4.7" ry="3.5" opacity="0.6"/><ellipse cx="579" cy="281" rx="3.4" ry="3.1" opacity="0.5"/><ellipse cx="608" cy="241" rx="3.5" ry="2.6" opacity="0.9"/><ellipse cx="608" cy="169" rx="5.1" ry="5.1" opacity="0.7"/><ellipse cx="579" cy="219" rx="4.8" ry="3.7" opacity="0.7"/><ellipse cx="660" cy="248" rx="5.5" ry="5.4" opacity="0.7"/><ellipse cx="688" cy="183" rx="4.6" ry="4.1" opacity="1.0"/><ellipse cx="629" cy="221" rx="5.7" ry="4.8" opacity="0.5"/><ellipse cx="627" cy="201" rx="5.0" ry="4.7" opacity="0.5"/><ellipse cx="611" cy="277" rx="5.4" ry="5.1" opacity="0.7"/><ellipse cx="685" cy="271" rx="5.5" ry="4.7" opacity="0.8"/><ellipse cx="590" cy="173" rx="3.0" ry="2.2" opacity="0.7"/><ellipse cx="684" cy="238" rx="5.4" ry="5.0" opacity="1.0"/><ellipse cx="607" cy="229" rx="5.8" ry="4.6" opacity="0.8"/><ellipse cx="622" cy="187" rx="3.6" ry="2.9" opacity="0.5"/><ellipse cx="676" cy="211" rx="3.7" ry="3.5" opacity="0.5"/><ellipse cx="663" cy="223" rx="3.3" ry="2.7" opacity="1.0"/><ellipse cx="579" cy="203" rx="3.5" ry="3.1" opacity="0.6"/><ellipse cx="673" cy="213" rx="5.9" ry="4.3" opacity="0.6"/><ellipse cx="578" cy="174" rx="3.6" ry="3.1" opacity="0.8"/><ellipse cx="658" cy="197" rx="4.8" ry="4.8" opacity="0.6"/><ellipse cx="602" cy="191" rx="5.9" ry="5.3" opacity="0.7"/><ellipse cx="632" cy="178" rx="3.7" ry="3.3" opacity="0.6"/><ellipse cx="634" cy="277" rx="3.5" ry="3.0" opacity="0.9"/><ellipse cx="661" cy="268" rx="5.7" ry="5.0" opacity="0.6"/><ellipse cx="633" cy="280" rx="3.6" ry="2.8" opacity="0.6"/><ellipse cx="676" cy="180" rx="3.5" ry="3.0" opacity="0.9"/><ellipse cx="623" cy="259" rx="5.1" ry="4.2" opacity="0.5"/><ellipse cx="654" cy="243" rx="5.9" ry="5.4" opacity="0.5"/><ellipse cx="597" cy="206" rx="5.2" ry="4.1" opacity="0.6"/><ellipse cx="596" cy="201" rx="4.5" ry="4.1" opacity="0.9"/><ellipse cx="586" cy="235" rx="5.9" ry="4.8" opacity="0.5"/><ellipse cx="650" cy="268" rx="3.1" ry="2.3" opacity="0.6"/><ellipse cx="617" cy="183" rx="3.3" ry="2.7" opacity="1.0"/><ellipse cx="640" cy="202" rx="5.9" ry="4.6" opacity="0.5"/><ellipse cx="589" cy="172" rx="5.7" ry="4.9" opacity="1.0"/></g><ellipse cx="632" cy="235" rx="6" ry="5" fill="#f030c0" opacity="1" filter="url(#blur1)"/></g><clipPath id="m6"><rect x="693.4" y="171.7" width="109.3" height="114.3"/></clipPath><g clip-path="url(#m6)"><rect x="693.4" y="171.7" width="109.3" height="114.3" fill="#03030c" /><g fill="#1c1c90" filter="url(#blur2)"><ellipse cx="792" cy="211" rx="5.4" ry="5.3" opacity="0.6"/><ellipse cx="779" cy="209" rx="3.5" ry="2.8" opacity="0.9"/><ellipse cx="707" cy="248" rx="4.1" ry="3.0" opacity="0.7"/><ellipse cx="735" cy="224" rx="5.6" ry="5.5" opacity="0.6"/><ellipse cx="804" cy="242" rx="5.9" ry="5.6" opacity="0.7"/><ellipse cx="719" cy="281" rx="6.0" ry="5.3" opacity="0.5"/><ellipse cx="785" cy="261" rx="5.6" ry="5.6" opacity="1.0"/><ellipse cx="775" cy="216" rx="4.6" ry="3.9" opacity="0.9"/><ellipse cx="763" cy="268" rx="4.5" ry="4.0" opacity="1.0"/><ellipse cx="782" cy="281" rx="5.1" ry="3.8" opacity="0.7"/><ellipse cx="724" cy="200" rx="3.4" ry="2.5" opacity="0.7"/><ellipse cx="781" cy="273" rx="5.9" ry="5.2" opacity="0.5"/><ellipse cx="712" cy="176" rx="5.6" ry="4.5" opacity="0.8"/><ellipse cx="742" cy="239" rx="5.6" ry="5.0" opacity="0.5"/><ellipse cx="764" cy="211" rx="5.9" ry="4.6" opacity="0.6"/><ellipse cx="797" cy="219" rx="3.2" ry="3.0" opacity="1.0"/><ellipse cx="747" cy="189" rx="5.6" ry="4.5" opacity="0.6"/><ellipse cx="695" cy="275" rx="3.7" ry="2.7" opacity="0.7"/><ellipse cx="771" cy="289" rx="3.6" ry="3.2" opacity="0.6"/><ellipse cx="790" cy="227" rx="5.1" ry="4.8" opacity="0.7"/><ellipse cx="745" cy="170" rx="3.5" ry="3.2" opacity="0.9"/><ellipse cx="757" cy="175" rx="5.2" ry="5.0" opacity="0.9"/><ellipse cx="777" cy="248" rx="4.0" ry="3.3" opacity="0.6"/><ellipse cx="765" cy="209" rx="5.4" ry="4.2" opacity="0.6"/><ellipse cx="700" cy="202" rx="5.3" ry="5.1" opacity="1.0"/><ellipse cx="694" cy="251" rx="4.7" ry="3.8" opacity="1.0"/><ellipse cx="769" cy="206" rx="5.5" ry="4.6" opacity="0.7"/><ellipse cx="745" cy="226" rx="3.1" ry="2.9" opacity="0.6"/><ellipse cx="742" cy="190" rx="4.7" ry="3.4" opacity="0.5"/><ellipse cx="715" cy="274" rx="5.0" ry="4.6" opacity="0.5"/><ellipse cx="742" cy="257" rx="5.2" ry="4.4" opacity="0.5"/><ellipse cx="734" cy="283" rx="5.7" ry="5.0" opacity="0.6"/><ellipse cx="760" cy="238" rx="4.4" ry="4.2" opacity="0.8"/><ellipse cx="702" cy="257" rx="5.1" ry="3.7" opacity="0.7"/><ellipse cx="803" cy="247" rx="5.0" ry="4.2" opacity="0.7"/><ellipse cx="804" cy="202" rx="4.4" ry="3.2" opacity="0.7"/><ellipse cx="767" cy="252" rx="5.9" ry="4.6" opacity="0.6"/><ellipse cx="732" cy="209" rx="5.7" ry="4.4" opacity="0.7"/><ellipse cx="806" cy="218" rx="4.4" ry="3.6" opacity="0.6"/><ellipse cx="727" cy="269" rx="3.0" ry="2.2" opacity="0.9"/><ellipse cx="774" cy="220" rx="4.4" ry="3.7" opacity="0.6"/><ellipse cx="740" cy="212" rx="4.8" ry="3.8" opacity="0.8"/><ellipse cx="695" cy="288" rx="3.0" ry="2.6" opacity="0.7"/><ellipse cx="705" cy="286" rx="4.3" ry="3.3" opacity="0.6"/><ellipse cx="712" cy="234" rx="6.0" ry="5.9" opacity="0.6"/><ellipse cx="772" cy="236" rx="5.3" ry="4.0" opacity="0.5"/><ellipse cx="704" cy="278" rx="3.2" ry="2.3" opacity="0.7"/><ellipse cx="697" cy="190" rx="5.9" ry="4.4" opacity="0.9"/><ellipse cx="788" cy="224" rx="4.3" ry="3.3" opacity="0.6"/><ellipse cx="752" cy="237" rx="4.6" ry="3.7" opacity="0.9"/><ellipse cx="743" cy="214" rx="4.4" ry="4.2" opacity="0.8"/><ellipse cx="776" cy="268" rx="4.1" ry="3.7" opacity="0.5"/><ellipse cx="746" cy="224" rx="4.2" ry="3.1" opacity="0.9"/><ellipse cx="730" cy="216" rx="3.4" ry="3.2" opacity="0.9"/><ellipse cx="711" cy="215" rx="3.9" ry="2.9" opacity="0.9"/><ellipse cx="761" cy="278" rx="5.1" ry="4.1" opacity="0.9"/><ellipse cx="703" cy="240" rx="4.5" ry="3.3" opacity="0.6"/><ellipse cx="750" cy="184" rx="3.2" ry="2.9" opacity="1.0"/><ellipse cx="758" cy="289" rx="4.5" ry="3.3" opacity="0.5"/><ellipse cx="743" cy="274" rx="5.4" ry="5.4" opacity="0.8"/></g><ellipse cx="743" cy="240" rx="12" ry="8" fill="#ff2244" opacity="0.6" filter="url(#blur2)"/><path d="M776 235l2 3 4 2M783 197l2 2 2 -1M798 277l-4 2 -2 5M756 242l-0 2 -1 3M770 260l2 -1 1 -0M786 232l3 0 3 3M794 230l-2 -4 -2 -4M711 198l-3 -3 0 -1M802 207l-3 3 -2 -1M736 275l2 -3 0 -4M715 214l3 0 3 -0M777 242l0 3 1 1M711 281l1 -4 2 -1M775 233l1 -4 1 -1M788 252l-3 -1 -2 -2M718 259l-1 -4 2 -2M759 181l-2 -4 -1 -1M771 216l2 4 2 2M759 223l-1 -3 -3 -1M782 209l1 3 1 1M745 238l2 -0 1 -1M735 270l2 3 3 3M754 286l3 -4 1 -0M705 283l1 2 0 3M712 221l-3 2 -1 1M765 210l3 -4 -2 -4M774 205l-3 -1 -1 -2M764 201l2 -2 2 0M738 252l-3 3 -1 5M750 273l2 3 2 4M802 217l-2 2 0 2M777 184l2 -3 -1 -2M707 244l-0 4 0 3M703 256l1 3 -3 4M753 225l-4 -1 -1 -2M694 236l-2 3 -1 1M731 273l-4 -2 -2 -1M706 235l2 3 -1 1M786 240l3 -0 2 -1M776 180l1 2 -2 4M762 244l-1 4 -2 0M709 196l-3 2 -2 3M795 245l-2 3 1 4M697 236l1 -4 -3 -2M741 263l3 2 -0 2M790 230l-2 1 -1 1M706 177l2 3 4 2M716 201l-0 -4 -3 -2M721 279l-2 -3 -4 -2M779 245l-4 2 -1 1M734 210l-2 -2 -0 -2M751 212l4 -0 2 -1M727 243l-2 4 -2 1M695 179l-3 1 -2 2M793 194l4 -0 2 2M744 229l2 -3 -1 -2M800 172l-4 -3 -3 -1M748 179l-4 2 -1 1M788 264l-3 -2 -3 -0M774 182l-2 2 -1 3M701 187l-3 0 -2 -0M730 271l-2 1 -3 -3M767 255l-1 -4 -1 -0M698 271l2 1 0 2M763 184l3 1 1 1M785 239l-3 -1 -3 1M777 215l-2 3 0 1M742 240l-2 -1 -4 -1M706 278l-4 -2 -2 1M719 230l1 -3 3 -4M763 224l2 4 -1 1M725 276l-2 2 -3 3M704 237l4 2 3 -1M739 231l1 -1 2 -0M763 202l-0 3 -0 1M770 255l-0 -2 1 -4M777 189l-3 -1 -1 -5M719 200l-1 4 -3 4M712 188l1 3 1 3M789 231l-1 3 1 2M705 199l-2 1 -4 2M762 174l4 3 5 -1M738 217l4 1 1 -0M703 200l-1 4 -1 0M742 258l4 0 1 2M737 185l-1 2 -1 3M740 285l-5 -2 -1 -3M727 220l2 4 -2 3M754 218l-3 3 -1 3M709 246l2 1 3 -2M754 246l-0 5 0 1M767 284l-2 3 -2 3M779 226l-2 1 1 4M784 230l-4 0 -2 2M719 203l3 -2 3 1M748 196l2 -2 2 0M788 280l0 3 1 1M790 192l4 0 1 2M707 243l-0 -2 0 -3M764 251l-1 4 -3 3M768 207l2 -1 4 1M758 255l1 2 1 2M725 236l-1 -4 1 -4M777 282l2 3 5 -0M782 199l-4 2 -4 -1M742 253l2 4 2 1M763 204l3 -2 1 -3M770 238l-3 -2 0 -5M716 278l2 0 2 -2M734 179l-1 -3 -1 -3M790 245l3 -0 2 -4M772 284l3 3 1 1M755 177l-1 -3 -3 -4M770 202l-3 -1 -1 -0M730 231l-4 3 1 4M758 198l-0 5 -1 1M749 184l-3 3 -3 3M735 268l-2 2 -2 0M710 257l3 -1 0 -2M695 259l1 -4 -1 -3M727 182l5 0 1 1M753 234l-0 2 -2 1M788 255l1 -2 -1 -1M776 234l-3 1 -1 -0M721 234l1 -2 1 -2M740 238l-2 1 -1 -0M711 228l5 2 2 0M789 254l2 4 1 3M711 263l-4 1 -1 0M752 215l-4 2 -4 -1M755 191l-5 0 -3 1M699 260l2 0 5 -1M719 243l1 3 2 0M740 227l2 -2 -1 -3M797 198l1 4 2 2M723 281l-0 -3 -1 -2M724 213l-4 -0 -1 0M764 192l2 -3 2 -2M702 198l3 -1 1 -5M782 258l2 3 0 1M732 249l-3 0 -1 3M754 200l3 3 4 3M704 210l2 -4 -0 -4M707 226l2 -3 4 -2M726 283l4 2 2 -1M747 242l-1 2 0 2M725 262l-3 -1 -3 -0M728 183l-3 3 1 3M740 211l-2 -2 -2 0M779 200l-3 3 -3 -1M743 177l1 4 4 2M756 193l-1 3 1 3M763 172l4 -1 2 -4M792 243l-2 -1 -3 1M727 258l-1 -2 -2 -1M733 192l2 -4 1 -2M699 203l-4 0 -2 -0M782 251l1 4 -1 2M738 229l-3 -1 -2 2M790 275l-0 2 -1 1M709 203l-2 -1 -4 1M772 189l-2 -2 1 -2M799 248l4 -3 1 -3M720 203l-4 1 -3 2M745 224l-3 1 -3 -2M707 218l1 4 3 1M785 276l-3 2 -1 3M733 215l2 -2 1 -1M735 272l-3 3 -3 2M698 198l2 3 1 2M753 220l-4 1 -2 -2M791 174l-1 -4 -1 -0M780 187l-3 3 1 2M701 252l1 -2 3 -4M702 271l-3 -1 -2 1M770 240l2 0 1 2M772 176l-0 4 0 1M698 211l3 -1 1 -4M700 269l-0 -2 -0 -4M765 266l-3 -4 -1 -2M706 228l4 2 1 1M736 263l0 4 -1 1M801 268l4 2 1 1M766 177l-3 -0 -3 2M768 262l-2 3 -1 2M756 231l3 3 1 2M798 221l-1 -3 2 -3M714 285l3 2 4 3M791 187l2 4 1 -0M768 267l1 4 0 2M750 246l4 3 1 0M699 278l-4 0 -3 -2M775 181l2 -3 0 -4M724 210l-4 1 -1 1M752 217l-4 -1 -3 -1M785 213l-1 -5 -1 -2M755 249l-1 -2 -3 0M744 190l-3 4 2 4M753 283l2 1 2 1M795 234l-2 -2 -2 1M776 204l3 0 3 -1M771 176l-2 3 -4 -1M735 201l-2 1 -1 -0M781 179l2 -4 2 -1M741 216l-4 2 -2 1M771 240l3 0 1 3M709 207l1 4 -0 1M797 253l-3 -1 -4 3M792 193l2 2 -1 3M739 236l-3 2 -2 2M697 255l-1 -3 -1 -2M800 260l-2 -1 -1 -2M785 180l-1 -3 -0 -1M735 281l2 -4 2 -4M785 268l0 3 1 2M700 277l-1 4 -1 0M752 250l-1 4 -1 3M696 283l-0 4 1 1M770 264l2 -4 3 -1M716 282l-2 -2 -3 1M730 265l-2 -4 0 -2" stroke="#b82030" stroke-width="1" fill="none"/><path d="M744 249l-2 0M725 247l-1 2M744 250l2 1M742 241l-2 2M745 241l-2 -2M743 253l-2 1M744 246l-3 -1M738 244l-2 -1M751 238l-3 -0M743 243l3 0M733 251l-1 3M743 246l2 -2M740 242l2 0M730 235l-1 -3M752 237l1 -2M746 256l-1 3M745 242l-2 1M747 236l2 -1M734 237l0 -2M742 246l0 2M745 244l-2 2M754 252l-0 -2M743 242l-2 -0M742 244l-2 -3M747 246l-1 2M768 237l3 -1M741 233l2 2M749 243l3 -2M744 246l1 -3M744 243l-2 -2M746 245l2 -1M743 239l2 3M748 250l1 2M752 235l-1 2M743 242l0 3M741 236l-1 1M742 238l-2 1M745 246l0 2M741 243l1 -3M749 221l2 -0M743 244l0 -2M752 234l-1 -1M739 232l-1 3M754 242l-1 3M744 241l0 -2M748 248l2 2M732 230l-3 0M730 250l2 -0M745 237l-2 2M746 251l-1 2M742 237l-2 -1M747 247l-1 2M741 242l-3 1M746 240l3 0M734 247l0 3M746 243l-0 3M739 253l1 -0M752 233l-1 -2M749 244l-0 -2M729 245l1 1M746 241l2 -2M752 240l3 1M743 240l1 -1M742 242l3 -1M742 241l1 -3M757 247l2 0M743 243l-1 -1M750 243l-3 -2M734 238l3 -0M733 243l-2 -3M735 238l0 -2M743 242l-0 3M746 247l3 1M734 237l2 -3M744 242l-2 -3M740 242l1 2M741 242l-1 -2M744 242l-2 -1M726 248l1 -2M740 240l-1 1M738 246l1 1M743 242l0 2M747 245l-2 0M735 247l-1 1M741 240l-1 3M749 241l-1 -1M734 245l-1 2M746 244l-2 -0M740 240l-2 -2M748 245l1 2M749 242l-3 -0M738 247l-2 -0M741 245l2 0M728 248l0 -2M728 242l2 2M746 238l-0 2M750 240l2 -1M743 241l-2 0M752 244l1 -1M742 244l-1 -2M748 241l2 -0M745 240l1 -2M745 255l2 0M743 243l1 1M741 244l-1 -3M749 234l1 -3M736 240l1 2M730 256l1 2M742 242l-1 -2M737 230l1 -1M744 242l1 2M743 243l1 -2M744 246l-0 2M752 246l-1 3M749 248l2 -1M743 244l0 3M751 255l-2 3M738 223l2 1M764 230l-1 2M749 254l1 -3M738 242l2 -2M741 255l-1 3M740 235l0 3M743 243l1 1M736 236l2 0M743 233l1 -2M740 240l0 2M736 239l-1 -3M745 240l1 1M743 240l2 -1M735 238l3 -1M754 256l-1 3M744 252l-2 1M741 234l1 -2M743 251l1 -3M746 241l-1 -2M747 241l3 1M741 241l3 0M743 243l0 3M764 226l-0 -3M743 241l2 1M743 242l2 1M745 250l3 1M740 253l1 2M731 238l2 -0M747 244l0 -2M737 241l2 1M730 236l1 2M747 246l2 -0M743 243l-0 3M736 253l1 1M737 247l-4 -3M760 250l1 5M774 202l-5 1M727 271l-2 6M749 232l1 5M763 239l-5 3M739 241l-1 1M750 248l-3 1M732 212l-2 -3M738 245l2 0M756 240l-4 1M735 241l1 7M763 255l1 3M734 210l5 -5M746 233l-5 2M740 247l3 1M735 227l-2 -4M696 238l-0 2M736 244l5 -2M718 238l5 -5M765 231l1 -3M749 245l-1 4M747 243l-3 2M754 238l5 0M743 243l3 5M744 243l2 1M768 231l1 6M735 243l3 0M712 257l2 -3M734 224l-4 3M739 245l6 0M745 240l1 6M767 234l-1 -1M742 243l5 1M751 246l-4 1M750 255l-2 4M761 236l-5 3M734 244l-7 1M750 240l1 2M749 281l1 -3M764 259l-0 -5M751 255l4 -4M739 226l-2 1M717 247l3 2M742 238l1 2M766 246l1 2M760 246l-2 -3M734 230l-1 -2M745 238l-0 2M738 242l4 -0M749 243l3 -0M745 244l0 3M739 244l2 -2M745 244l-3 -0M742 242l-1 3M764 246l3 6M757 251l-4 3M732 240l-2 5M744 219l1 -1M742 237l2 -5M728 252l-2 2M745 238l-2 -0M747 259l-3 3M724 228l-1 2M743 231l-3 0M734 248l-3 -1M739 259l-5 4M745 241l2 2M743 244l-1 3M727 242l-2 2M743 253l-1 -2M737 244l-2 -3M747 249l-4 3M761 248l-0 -7" stroke="#ee2233" stroke-width="1.6" fill="none" stroke-linecap="round"/><path d="M759 212l-2 0M758 207l3 -0M759 206l-3 -0M759 206l-0 3M759 207l-2 1M757 201l-2 -1M759 206l-3 0M751 201l-2 -0M757 208l1 1M753 205l-2 1M758 208l-2 2M759 205l-1 -1M757 204l3 -2M757 203l0 2M759 206l1 -1M757 207l-1 -2M757 213l-3 -1M756 206l2 -1M757 202l-2 -2M758 205l-2 2M758 203l1 2M759 210l1 -2M756 202l-1 1M764 207l-3 1M759 206l1 2M760 211l3 0M767 208l2 0M760 206l-2 -1M759 204l-1 2M754 194l2 -1M769 204l-1 -3M762 208l-0 3M759 206l2 -1M760 203l-1 -2M760 206l2 1M759 208l2 -1M763 200l2 -0M759 207l-0 2M759 205l2 2M757 200l3 0M760 205l-1 -2M762 202l-1 3M759 209l-2 -0M763 208l1 -1M760 205l2 2M759 206l2 -1M759 199l-2 -1M757 205l3 1M758 205l2 -1M758 209l1 -2M775 217l0 2M751 205l-2 -6M765 197l-4 3M759 198l-1 1M754 213l0 -2M762 198l1 -5M753 212l-1 -1M755 201l5 -1M735 211l4 3M755 203l1 -4M759 206l2 -1M769 216l0 2M765 205l-3 -3M744 205l4 -3M761 212l-1 -1M759 206l4 -4M766 210l2 -1M752 205l6 -0M767 212l-4 -2M751 209l-2 -1M767 204l2 -1M778 212l2 6M766 193l3 -4M748 215l-6 -1M762 206l-1 -2" stroke="#ee2233" stroke-width="1.3" fill="none" stroke-linecap="round"/><path d="M774 263l3 0M784 264l-0 2M781 263l-1 -1M780 273l-0 -3M782 257l3 -1M781 253l-3 0M781 265l-2 -2M780 264l-2 1M780 263l-1 -2M772 263l2 0M781 261l-2 -0M779 274l1 2M781 264l-0 3M781 263l1 -2M778 259l-1 -3M782 262l-1 1M784 256l0 3M777 262l-1 1M781 265l0 -2M789 260l2 -0M784 261l1 2M783 259l-3 2M777 266l1 2M782 267l-0 -2M786 269l3 -1M781 262l-3 -1M782 260l-2 2M780 264l2 -1M773 269l-3 1M787 260l2 -3M783 260l2 0M783 261l1 1M782 271l2 -2M785 272l-0 -3M784 260l-1 3M776 262l-1 -2M798 259l-0 -2M781 271l2 0M781 264l1 2M782 260l2 1M779 268l-0 2M776 261l4 -0M781 267l-5 0M779 258l1 2M796 259l2 6M782 256l1 5M792 268l-4 4M772 272l-4 1M774 263l-1 -1M783 263l-3 1M796 266l-2 -4M794 275l1 -6M778 258l-3 1M777 252l4 1M793 269l-3 0M781 263l1 -1M782 258l-1 4M784 272l-3 0M771 260l-2 -4M790 258l-1 5" stroke="#ee2233" stroke-width="1.2" fill="none" stroke-linecap="round"/><path d="M716 191l1 3M715 189l3 0M712 190l0 -2M719 190l3 0M709 199l-2 -2M716 189l-1 -2M708 189l-2 -0M716 188l-2 2M718 189l3 1M716 195l-2 -1M717 188l-2 2M712 185l2 1M711 183l-2 -0M715 189l-2 -3M722 190l1 -1M717 189l2 1M716 197l-2 -1M719 194l-0 3M715 190l1 -2M713 192l-1 -1M718 187l1 -2M716 186l2 0M703 189l-2 0M710 186l2 1M716 184l1 3M715 189l-2 3M709 190l-0 -2M717 188l-1 1M718 188l2 -3M721 196l-1 2M730 189l3 6M726 190l-5 -3M728 167l1 3M727 181l-2 3M709 188l2 -3M710 198l4 4M717 199l-2 4M719 184l-3 -3M720 184l2 -1M716 183l2 -2M715 189l5 -0M719 194l-4 1M727 170l-3 -5M717 187l1 2M722 201l1 -5" stroke="#ee2233" stroke-width="1.2" fill="none" stroke-linecap="round"/></g><clipPath id="m7"><rect x="808.6" y="171.7" width="109.7" height="114.3"/></clipPath><g clip-path="url(#m7)"><rect x="808.6" y="171.7" width="109.7" height="114.3" fill="#03030c" /><g fill="#1c1c90" filter="url(#blur2)"><ellipse cx="888" cy="277" rx="3.1" ry="3.0" opacity="0.9"/><ellipse cx="812" cy="266" rx="5.4" ry="4.1" opacity="1.0"/><ellipse cx="848" cy="223" rx="5.0" ry="4.5" opacity="0.9"/><ellipse cx="838" cy="227" rx="3.4" ry="2.7" opacity="0.7"/><ellipse cx="814" cy="211" rx="5.4" ry="4.1" opacity="0.7"/><ellipse cx="810" cy="257" rx="3.3" ry="2.5" opacity="0.9"/><ellipse cx="857" cy="235" rx="4.8" ry="4.1" opacity="0.7"/><ellipse cx="823" cy="186" rx="3.6" ry="2.8" opacity="0.6"/><ellipse cx="909" cy="194" rx="3.4" ry="2.6" opacity="0.5"/><ellipse cx="902" cy="283" rx="5.3" ry="5.2" opacity="0.8"/><ellipse cx="858" cy="215" rx="5.0" ry="3.8" opacity="0.7"/><ellipse cx="851" cy="249" rx="5.6" ry="5.0" opacity="0.5"/><ellipse cx="874" cy="257" rx="4.6" ry="3.3" opacity="0.5"/><ellipse cx="868" cy="255" rx="4.5" ry="4.1" opacity="0.8"/><ellipse cx="901" cy="195" rx="5.5" ry="5.1" opacity="0.5"/><ellipse cx="832" cy="204" rx="5.4" ry="4.8" opacity="0.5"/><ellipse cx="891" cy="206" rx="5.6" ry="4.4" opacity="0.5"/><ellipse cx="844" cy="224" rx="4.3" ry="3.7" opacity="0.5"/><ellipse cx="837" cy="174" rx="6.0" ry="5.0" opacity="0.6"/><ellipse cx="825" cy="241" rx="3.0" ry="2.3" opacity="0.8"/><ellipse cx="867" cy="254" rx="5.5" ry="4.4" opacity="0.9"/><ellipse cx="899" cy="268" rx="4.6" ry="4.3" opacity="0.5"/><ellipse cx="828" cy="238" rx="4.7" ry="4.1" opacity="0.7"/><ellipse cx="811" cy="207" rx="3.6" ry="3.2" opacity="0.6"/><ellipse cx="894" cy="233" rx="4.2" ry="3.7" opacity="0.9"/><ellipse cx="844" cy="176" rx="5.6" ry="4.4" opacity="0.9"/><ellipse cx="861" cy="218" rx="5.5" ry="4.1" opacity="0.9"/><ellipse cx="838" cy="262" rx="5.9" ry="5.6" opacity="0.6"/><ellipse cx="918" cy="232" rx="3.9" ry="3.2" opacity="0.5"/><ellipse cx="879" cy="222" rx="4.7" ry="4.5" opacity="0.7"/><ellipse cx="809" cy="241" rx="3.3" ry="2.9" opacity="0.7"/><ellipse cx="857" cy="248" rx="3.3" ry="2.6" opacity="0.6"/><ellipse cx="831" cy="183" rx="3.7" ry="3.5" opacity="1.0"/><ellipse cx="877" cy="262" rx="3.0" ry="2.4" opacity="0.8"/><ellipse cx="911" cy="175" rx="6.0" ry="5.9" opacity="0.5"/><ellipse cx="852" cy="279" rx="4.0" ry="3.0" opacity="0.8"/><ellipse cx="878" cy="261" rx="3.7" ry="3.1" opacity="0.6"/><ellipse cx="914" cy="278" rx="5.9" ry="4.3" opacity="0.5"/><ellipse cx="900" cy="225" rx="5.5" ry="5.0" opacity="0.5"/><ellipse cx="819" cy="256" rx="3.8" ry="3.1" opacity="0.8"/><ellipse cx="812" cy="181" rx="4.5" ry="3.2" opacity="0.6"/><ellipse cx="851" cy="181" rx="3.3" ry="3.0" opacity="0.8"/><ellipse cx="862" cy="223" rx="5.7" ry="4.8" opacity="0.5"/><ellipse cx="864" cy="228" rx="4.7" ry="3.7" opacity="0.7"/><ellipse cx="810" cy="250" rx="5.7" ry="5.2" opacity="0.9"/><ellipse cx="919" cy="228" rx="4.3" ry="3.9" opacity="0.6"/><ellipse cx="841" cy="240" rx="3.1" ry="3.1" opacity="1.0"/><ellipse cx="865" cy="243" rx="4.0" ry="3.4" opacity="0.5"/><ellipse cx="846" cy="192" rx="4.2" ry="3.8" opacity="0.9"/><ellipse cx="815" cy="185" rx="4.9" ry="4.8" opacity="0.8"/><ellipse cx="866" cy="272" rx="3.6" ry="2.5" opacity="0.7"/><ellipse cx="874" cy="183" rx="5.1" ry="4.5" opacity="0.9"/><ellipse cx="844" cy="177" rx="3.7" ry="2.8" opacity="0.6"/><ellipse cx="881" cy="201" rx="6.0" ry="4.5" opacity="0.9"/><ellipse cx="834" cy="280" rx="3.7" ry="3.2" opacity="0.6"/><ellipse cx="889" cy="242" rx="5.2" ry="4.3" opacity="0.5"/><ellipse cx="843" cy="272" rx="4.5" ry="3.4" opacity="0.5"/><ellipse cx="866" cy="269" rx="5.0" ry="4.7" opacity="0.5"/><ellipse cx="857" cy="205" rx="3.7" ry="3.6" opacity="0.9"/><ellipse cx="846" cy="288" rx="3.6" ry="3.4" opacity="0.7"/><ellipse cx="856" cy="288" rx="5.4" ry="4.9" opacity="0.8"/><ellipse cx="880" cy="267" rx="5.1" ry="4.1" opacity="0.8"/><ellipse cx="854" cy="193" rx="3.3" ry="3.2" opacity="0.7"/><ellipse cx="865" cy="188" rx="4.6" ry="4.5" opacity="0.8"/><ellipse cx="882" cy="237" rx="3.0" ry="2.1" opacity="0.5"/><ellipse cx="876" cy="270" rx="5.9" ry="5.4" opacity="0.8"/><ellipse cx="827" cy="177" rx="5.3" ry="4.1" opacity="0.8"/><ellipse cx="909" cy="176" rx="5.4" ry="4.3" opacity="0.8"/><ellipse cx="854" cy="267" rx="5.1" ry="4.9" opacity="0.8"/><ellipse cx="899" cy="264" rx="4.5" ry="3.9" opacity="0.7"/><ellipse cx="818" cy="173" rx="3.9" ry="3.2" opacity="0.5"/><ellipse cx="887" cy="205" rx="4.5" ry="4.3" opacity="0.9"/><ellipse cx="857" cy="226" rx="3.1" ry="2.2" opacity="0.8"/><ellipse cx="811" cy="252" rx="3.4" ry="2.6" opacity="0.9"/><ellipse cx="823" cy="259" rx="3.0" ry="2.6" opacity="0.7"/></g><path d="M836 209l1 -2 -0 -3M853 221l-4 -1 -3 1M870 265l-0 2 1 4M858 212l-2 -1 -5 1M862 247l2 1 -0 1M891 185l-3 -2 -3 0M918 239l-0 -2 2 -2M872 220l1 3 -2 5M891 285l-3 -1 -1 -1M813 180l-5 -1 -3 -1M873 179l-2 -4 -5 0M873 229l4 1 3 3M832 202l5 -1 3 -2M830 261l3 -0 4 -2M830 262l-4 -2 -4 -2M898 246l0 5 -3 1M817 215l-3 -3 1 -3M855 248l2 -3 2 -1M896 205l-1 2 -1 1M904 210l1 -3 -3 -4M875 242l3 -3 2 -2M878 190l2 2 -0 5M909 282l-1 -2 -2 -3M857 227l-4 -1 -2 2M813 262l-3 3 0 3M811 260l-2 2 -3 1M833 204l2 -1 3 2M905 268l1 -3 2 -0M902 270l-2 -2 -1 -2M857 254l-2 -3 1 -1M892 241l-2 1 -1 2M810 276l-1 -4 -1 -2M828 248l-4 1 -1 1M834 245l2 1 3 1M918 249l-3 -3 -1 -1M905 272l2 2 0 3M914 232l-0 -2 -1 -1M874 189l-0 -4 0 -3M896 181l2 3 -2 3M888 183l3 2 -0 4M822 262l3 1 1 3M863 214l3 -1 1 -1M821 244l1 3 3 4M822 279l4 -2 1 -3M867 222l-3 0 -3 -2M876 213l-1 4 2 2M846 201l-3 -1 -2 -1M893 267l-3 3 -5 1M904 186l1 -2 -2 -2M833 177l-4 -3 -4 -1M851 207l1 -5 -0 -1M883 269l-5 0 -1 -1M848 250l2 3 -1 1M816 282l2 -2 -0 -2M857 237l3 1 2 -2M844 232l-2 2 -3 -0M907 282l3 3 -1 4M906 211l1 -3 2 -2M851 199l-0 3 1 5M891 172l3 -0 4 1M885 233l3 -2 -0 -3M845 197l-3 -1 -3 -2M827 240l-3 3 -1 4M900 178l4 2 0 1M829 182l-3 -1 -1 0M875 284l-4 2 -0 5M857 208l-2 -2 -2 -3M881 224l-2 4 -2 -0M891 247l-3 1 -4 3M883 252l4 -3 2 -0M839 221l-3 -1 -2 1M819 274l1 3 0 1M848 177l3 3 4 1M810 202l-4 2 -3 -0M813 222l4 1 1 -1M844 244l-1 3 -0 1M916 253l3 2 1 2M907 212l-3 -3 0 -3M854 184l-0 -3 1 -1M884 285l4 3 1 3M838 282l1 2 -1 1M832 213l5 -1 2 -3M893 223l2 -1 2 1M895 252l2 -1 3 -2M820 228l1 2 -1 3M899 254l2 3 -0 3M829 247l4 -0 4 2M862 253l2 -4 4 -2M863 179l-4 1 -2 2M886 175l1 3 -3 3M912 281l-1 3 1 4M869 206l4 -0 2 -0M855 247l-3 -0 -1 -2M863 283l1 2 1 0M868 278l4 -3 1 -1M822 275l2 4 3 1M886 257l-1 -5 2 -4M812 182l3 -3 3 -2M828 283l-1 3 -1 1M887 228l-1 -3 -0 -1M887 266l3 -2 2 -0M911 172l3 3 3 2M810 214l0 3 1 1M820 284l3 -1 0 -2M820 205l2 -4 4 -1M850 251l0 5 -1 4M856 281l2 -4 -3 -4M899 240l-3 -1 -2 -1M818 222l-4 -1 -3 -0M902 203l-0 -5 -4 -2M875 219l-1 2 -1 1M880 239l-1 2 -1 3M884 227l-0 3 0 2M913 246l-2 -2 1 -4M858 237l-4 -0 -2 -1M843 271l1 -3 -1 -2M865 208l-1 -3 -2 -2M821 230l-0 3 -1 4M878 181l4 -3 3 -3M891 219l1 3 1 1M910 264l3 -1 4 2M863 279l-3 4 -1 2M812 284l4 1 1 0M864 242l-3 2 0 5M851 237l4 0 3 -0M866 180l-4 -2 -5 1M855 268l5 -0 3 -3M889 179l-3 1 -2 -2M829 208l3 1 2 -2M842 203l2 -1 1 -4M902 176l3 -0 4 -0M811 216l2 2 -2 4M893 179l2 4 1 3M834 177l-2 1 -1 2M900 221l-1 -5 -4 -1M917 174l-2 -1 -2 0M830 249l2 -3 3 -1M886 236l4 -0 2 4M902 204l-0 5 -0 2M902 209l1 -2 2 -4M915 179l1 2 0 1M918 242l0 3 1 4M884 190l-3 -2 -3 -1M913 179l-2 -4 2 -3M907 235l2 3 -0 1M824 216l-4 -1 -2 -2M857 264l-1 3 -1 1M892 256l-3 -0 -2 0M841 280l-1 4 1 5M841 277l2 -1 3 2M862 210l2 3 3 2M815 268l2 1 4 -3M883 247l1 2 1 1M852 217l1 -2 0 -2M845 239l0 4 2 1M841 244l2 2 4 2M918 179l-4 -0 -3 4M872 180l2 -3 -1 -5M829 211l1 2 2 4M914 272l-2 2 -4 0M885 193l-2 -1 -1 -4M857 253l2 -0 1 -1M831 284l1 -2 1 -4M905 180l2 -1 3 -3M915 205l-0 4 -2 1M853 176l1 5 -2 2M899 235l-1 -3 2 -4M887 268l5 1 2 0M910 206l3 -2 2 -4M814 172l-2 -4 -5 0M838 176l-1 2 1 4M866 274l-3 0 -2 2M873 189l3 3 1 3M820 256l-2 -1 -3 -1M882 268l-2 -2 -2 0M826 177l-1 3 0 4M865 197l-3 -1 -1 0M894 173l1 -2 2 -2M917 192l2 4 2 0M855 206l3 3 4 0M873 194l-2 2 0 2M903 244l-0 5 -0 2M865 188l-1 -3 0 -4M813 211l2 2 -0 2M874 221l-3 2 -3 3M881 229l-4 1 -2 1M858 191l-2 1 -1 1M910 199l0 -3 -0 -4M908 231l1 -2 4 0M842 232l-4 -1 -1 1M829 228l-2 -1 -2 0M850 204l3 -0 1 -2M907 180l-1 -2 -4 -2M823 193l0 -4 -2 -2M816 220l-1 -4 -1 -2M814 183l3 -1 4 -0M832 200l4 -0 3 -3M832 204l-4 0 -1 -1M879 269l4 1 2 0M895 272l4 1 4 2M810 172l-2 4 -3 2M893 206l-2 1 -4 -2M855 242l-5 0 -4 3M902 204l1 -3 1 -1M845 208l1 -4 0 -2M811 273l2 1 4 -2M877 198l-4 -2 -2 -1M906 178l3 -1 3 -1M837 206l-1 3 -1 1M912 204l-1 3 -2 2M834 224l3 1 2 1M868 254l1 -4 2 -2M856 195l1 3 1 2M880 233l-1 -3 -0 -3M914 203l-3 0 -2 0M854 261l-3 1 -1 1M813 214l-2 1 -4 1M915 269l-2 -3 -0 -3M844 178l1 -3 2 -4M887 278l0 -5 -1 -2M874 243l-1 -2 1 -1M900 234l2 -1 3 1M888 278l0 -5 2 -1M845 263l-2 -0 -1 1M906 286l-3 -1 -2 -1M884 260l3 2 3 -2M847 240l2 1 5 1M878 249l-2 1 -1 -1M860 222l2 1 4 2M900 252l2 3 4 -0M915 187l-1 2 -1 0M875 275l-3 -1 -3 -4M828 200l0 3 -1 3M836 252l5 0 2 3M815 198l0 -4 -2 -2M856 204l-0 -3 -1 -2M888 211l0 5 -1 4M884 188l-3 -1 -3 -2M842 205l0 -5 -1 -1M889 250l-1 -3 1 -3M843 199l-4 3 -4 -1M888 226l3 -0 2 3M876 248l4 1 3 -3M876 215l-1 -2 -2 -2M835 205l-4 -1 -2 0M848 178l4 1 5 1M856 222l-3 -1 0 -3M903 182l4 -2 1 -1M862 274l-0 -3 -3 -1M846 265l-1 -3 -1 -1M894 172l4 -1 4 -0M875 270l4 0 4 0M827 184l-4 -0 -3 1M825 283l0 -2 2 -2M843 179l-4 -2 -2 0M872 186l-2 2 -2 1M811 267l-3 -0 -1 2M877 214l2 4 0 1M907 281l2 -3 3 -1M844 206l-4 -1 -2 -3M892 277l-1 2 -1 2M836 176l-2 -2 -0 -5M912 195l-1 -3 2 -2M864 256l0 -4 2 -2M905 222l3 3 1 4M814 211l0 -5 -2 -3M816 204l-3 2 -4 2M856 215l4 -3 4 -2M864 188l-1 -4 0 -3M818 236l-4 -0 -2 2M905 218l1 2 -2 5M877 259l1 -3 2 -2M809 202l5 -0 2 2M882 270l-2 2 2 4M881 205l1 2 4 -0M849 226l3 2 2 1M910 188l-1 5 -1 2M908 221l4 2 -0 2M852 240l-2 3 -4 0M847 264l-4 2 -4 -2M837 232l-1 -3 -1 -1M908 237l-4 -0 -1 -1M813 232l0 -3 1 -1M872 204l4 2 3 2M837 194l-2 1 -1 3M853 246l3 2 1 4M883 240l2 4 2 2M861 235l-1 3 -3 1M886 285l1 3 1 4M835 196l3 -0 1 -0M868 230l-3 2 -1 4M826 222l2 -1 1 -5M820 190l-2 -2 -1 -2M906 190l0 2 -0 2M859 262l1 3 5 0M882 189l-0 3 1 2M911 237l-5 0 -3 -3M845 180l-4 -1 -1 -2M865 279l-2 -3 -3 -4M859 209l3 1 1 4M843 271l2 0 1 1M853 275l1 2 -2 4M824 201l2 -1 2 -1M811 270l1 3 -1 2M912 221l2 -4 2 -3M915 209l3 2 4 1M849 238l2 -1 1 -1M829 177l-0 -3 -3 -4M916 206l-2 -0 -3 2M866 269l3 1 3 3M849 218l1 3 4 1M907 258l1 -5 2 -4M878 278l3 -2 -0 -2M820 214l-2 3 -1 3M883 245l0 -3 -1 -3M905 181l-1 3 -1 2M914 276l-2 3 -1 3M819 173l4 -1 2 2M914 208l-1 2 -2 3M835 272l-3 4 -2 -0M825 219l-3 1 -3 -2M878 210l-1 4 -1 2M869 173l4 1 0 3M826 229l3 3 1 1M897 201l0 5 3 3M826 217l2 3 1 3M829 188l-3 0 -1 4M873 256l3 1 3 -2M876 273l2 -0 1 -0M840 173l-1 -3 -1 -1M887 252l2 0 2 -0M884 271l-1 2 -1 1M877 285l-3 4 0 2M904 187l3 4 1 3M861 268l1 4 1 1M874 205l-1 -5 -1 -1M881 233l-2 3 -4 1M858 230l3 -4 -1 -3M874 282l-5 1 -3 1M916 216l-1 -3 -2 -2" stroke="#2ea02e" stroke-width="0.9" fill="none"/><path d="M828 199l2 -2M832 197l3 -2M840 202l-2 -1M831 194l2 -2M825 202l2 -3M827 194l-1 1M831 195l2 -2M822 203l-1 -3M830 194l2 -3M834 188l-1 -3M835 195l-2 -0M826 188l1 -2M831 195l-2 -2M829 195l-3 -1M826 196l2 -0M823 195l0 -2M832 185l-0 3M831 194l-3 -0M828 198l2 -1M830 196l2 -2M832 187l2 -1M827 193l-3 1M834 197l1 -1M829 196l1 -2M837 189l1 -1M827 183l-2 3M832 197l-1 1M832 194l-1 1M837 195l2 1M832 194l2 -2M831 198l-3 -1M830 194l1 -1M835 198l-0 2M830 197l0 -3M826 201l-3 1M818 190l-2 -0M828 189l-1 -2M835 193l-2 1M832 193l-2 -3M829 202l1 -2M827 191l3 -0M828 199l-1 2M825 202l1 -2M835 193l1 -2M828 196l3 -1M831 195l-2 2M822 184l3 -1M831 200l2 0M833 193l1 -3M830 193l1 1M817 184l5 -0M843 200l2 1M847 201l1 4M837 190l3 1M811 207l-7 1M826 193l1 -5M827 198l-2 3M830 195l-2 2M831 194l2 -1M825 198l-1 -5M832 203l5 1M821 187l-0 2M821 193l-2 -2M833 176l3 2M820 203l7 -1M834 186l2 -6M818 197l-2 2M856 197l-5 -3M828 193l5 1M835 205l6 -0M834 176l-6 0M828 197l-4 -1M833 196l-5 3M842 194l3 -2M833 188l-2 -3" stroke="#3ec83e" stroke-width="1.1" fill="none" stroke-linecap="round"/><path d="M883 194l-1 2M898 193l2 1M886 195l-2 -0M886 197l-3 2M884 196l2 -2M890 195l1 2M880 193l-3 1M894 192l-3 0M892 189l-3 -0M884 194l-2 -1M884 192l3 1M870 204l1 -2M878 207l-2 -1M895 190l2 3M881 195l-0 -2M894 191l-0 2M886 193l-2 -1M876 180l-1 2M884 195l1 3M885 191l2 -2M884 195l2 -0M891 199l-1 2M884 193l-2 3M885 195l-1 -2M887 193l0 -3M877 193l1 -2M885 193l2 -0M891 199l-0 -3M882 191l1 -3M892 188l2 2M873 181l-2 -0M895 181l-2 2M883 195l1 -1M871 197l-1 1M886 201l-2 -3M877 196l1 -2M890 195l-2 -1M885 196l2 -3M882 193l1 2M886 187l-2 2M897 193l-0 -2M886 194l-1 -2M889 201l-1 -3M877 194l-1 3M883 189l-2 2M886 194l0 2M887 188l-2 -0M886 194l2 -1M886 200l0 -2M882 195l1 -1M886 179l-1 2M882 192l-2 -2M884 194l2 -2M894 184l-2 1M886 196l2 -2M885 200l1 -1M888 192l-0 3M886 197l1 -2M898 190l-0 3M885 195l1 -2M890 212l1 -3M883 209l3 0M885 194l5 -1M879 192l-5 -1M884 191l-1 -2M897 170l3 -1M893 181l5 -1M885 153l-1 -4M890 195l2 -2M855 203l2 1M889 193l2 -1M867 194l-3 5M886 192l-6 2M886 191l-5 -2M888 194l4 3M909 219l-2 -1M884 195l4 -3M871 174l3 -4M882 189l-3 -4M873 200l3 1M854 228l2 -2M889 200l-0 5M878 181l-1 6M889 185l-2 6M888 165l2 -6M885 194l1 -4M901 209l2 -1M870 187l1 -5M868 200l-3 3M871 193l-5 2" stroke="#3ec83e" stroke-width="1.1" fill="none" stroke-linecap="round"/><path d="M903 263l3 0M902 257l0 -2M900 255l2 2M896 267l2 2M900 256l2 2M908 261l-3 1M892 250l2 1M903 256l2 0M900 256l-1 0M896 254l-2 -2M910 254l-2 -3M895 256l0 -3M905 258l-0 -3M905 255l2 1M890 248l3 0M905 248l-2 -0M907 265l-2 -0M901 255l2 -2M905 257l-3 0M902 258l3 -2M905 257l1 -2M900 258l1 -2M898 262l1 2M903 264l-3 1M900 256l2 1M890 264l2 -2M893 252l1 -3M900 260l2 -2M899 259l3 0M894 259l-3 2M905 257l3 -0M902 270l1 -3M899 260l1 2M905 252l-2 -2M884 251l-1 -3M900 254l2 -1M901 266l1 3M905 264l2 1M903 257l-1 -2M902 258l-0 -2M904 253l-3 -0M907 262l-3 -0M902 258l-1 -3M896 254l-1 -1M895 253l1 -3M902 257l-1 3M903 258l1 -2M901 257l-2 -2M903 256l-3 -1M903 256l2 1M904 252l2 0M907 273l-1 -7M923 227l-1 6M910 279l1 -1M897 248l-2 -2M882 222l-2 2M891 263l-2 -0M903 259l-3 3M908 259l5 -4M903 257l-5 -4M902 258l-2 -3M898 268l4 -4M910 254l4 -3M926 260l-0 -4M898 267l-3 1M896 254l5 3M899 256l-2 4M914 245l-4 -4M905 255l-2 0M908 252l-5 -4M900 260l6 -1M904 259l-3 -6M914 259l0 2M901 268l-4 1M902 234l0 2" stroke="#3ec83e" stroke-width="1.1" fill="none" stroke-linecap="round"/><path d="M852 253l-0 -2M848 256l2 1M844 246l-0 -2M852 255l-2 0M854 261l2 -2M848 255l2 1M846 267l3 -2M851 253l-1 2M848 251l-1 1M854 255l-3 1M847 247l-1 3M850 253l-2 0M850 251l-3 -0M862 255l-2 1M858 241l3 -1M842 257l-0 -2M852 259l-0 2M853 251l-2 2M853 251l-0 3M853 251l2 1M865 249l2 2M849 254l-3 -1M846 252l-2 0M852 258l-1 3M860 260l1 -2M856 257l-0 -3M852 252l-1 1M860 250l-1 1M856 253l-1 2M852 251l-0 2M858 254l-2 0M848 252l-2 -1M856 255l-1 1M848 242l-3 2M859 258l1 -3M853 252l1 -1M853 249l-1 3M850 251l-1 -2M855 252l-0 -2M855 252l2 -1M853 252l4 2M827 253l-1 -7M849 251l-0 -4M855 246l1 -2M850 245l3 3M849 253l1 -2M852 252l1 1M843 248l-1 3M869 253l-2 0M849 240l-1 2M856 265l2 -2M842 238l5 -1M858 252l2 -1M860 248l6 4M848 254l-3 -6M834 268l-1 5M861 257l2 -1M850 245l-0 6M852 252l-0 2M848 246l-6 0" stroke="#3ec83e" stroke-width="1.1" fill="none" stroke-linecap="round"/></g><clipPath id="m8"><rect x="923.8" y="171.7" width="109.8" height="114.3"/></clipPath><g clip-path="url(#m8)"><rect x="923.8" y="171.7" width="109.8" height="114.3" fill="#03030c" /><g fill="#1c1c90" filter="url(#blur2)"><ellipse cx="949" cy="239" rx="5.9" ry="5.3" opacity="0.7"/><ellipse cx="957" cy="185" rx="6.0" ry="5.6" opacity="0.6"/><ellipse cx="990" cy="254" rx="5.7" ry="4.5" opacity="0.6"/><ellipse cx="942" cy="240" rx="5.8" ry="5.3" opacity="0.5"/><ellipse cx="964" cy="178" rx="3.5" ry="3.0" opacity="0.5"/><ellipse cx="952" cy="198" rx="4.3" ry="4.1" opacity="0.6"/><ellipse cx="992" cy="217" rx="3.9" ry="3.1" opacity="0.9"/><ellipse cx="1018" cy="257" rx="5.7" ry="5.2" opacity="0.6"/><ellipse cx="948" cy="237" rx="4.8" ry="4.5" opacity="0.9"/><ellipse cx="1013" cy="286" rx="5.0" ry="4.5" opacity="0.9"/><ellipse cx="978" cy="265" rx="5.6" ry="4.8" opacity="0.6"/><ellipse cx="965" cy="242" rx="4.7" ry="4.0" opacity="0.7"/><ellipse cx="1006" cy="251" rx="5.8" ry="5.7" opacity="0.5"/><ellipse cx="967" cy="258" rx="4.6" ry="4.1" opacity="0.6"/><ellipse cx="965" cy="272" rx="5.0" ry="4.8" opacity="1.0"/><ellipse cx="1027" cy="273" rx="5.7" ry="5.6" opacity="1.0"/><ellipse cx="969" cy="218" rx="4.3" ry="4.0" opacity="1.0"/><ellipse cx="999" cy="220" rx="3.2" ry="2.4" opacity="0.5"/><ellipse cx="938" cy="169" rx="4.2" ry="3.3" opacity="1.0"/><ellipse cx="939" cy="180" rx="5.7" ry="5.6" opacity="0.7"/><ellipse cx="983" cy="209" rx="4.2" ry="3.3" opacity="0.5"/><ellipse cx="1034" cy="273" rx="5.6" ry="4.2" opacity="0.8"/><ellipse cx="928" cy="255" rx="3.2" ry="2.8" opacity="0.5"/><ellipse cx="1034" cy="278" rx="4.3" ry="4.2" opacity="0.9"/><ellipse cx="941" cy="272" rx="5.6" ry="4.4" opacity="0.8"/><ellipse cx="956" cy="172" rx="4.4" ry="3.2" opacity="0.9"/><ellipse cx="1002" cy="198" rx="4.2" ry="3.0" opacity="0.6"/><ellipse cx="990" cy="269" rx="5.9" ry="5.2" opacity="0.7"/><ellipse cx="1022" cy="239" rx="5.4" ry="4.4" opacity="0.9"/><ellipse cx="943" cy="216" rx="3.7" ry="3.0" opacity="0.8"/><ellipse cx="1029" cy="173" rx="4.7" ry="3.6" opacity="0.9"/><ellipse cx="1007" cy="285" rx="5.9" ry="5.3" opacity="0.6"/><ellipse cx="1004" cy="224" rx="3.8" ry="2.8" opacity="0.9"/><ellipse cx="971" cy="186" rx="3.7" ry="2.7" opacity="0.5"/><ellipse cx="1007" cy="225" rx="3.9" ry="3.1" opacity="0.6"/><ellipse cx="980" cy="237" rx="3.2" ry="2.7" opacity="0.9"/><ellipse cx="1003" cy="230" rx="4.2" ry="3.3" opacity="0.5"/><ellipse cx="956" cy="183" rx="3.1" ry="2.3" opacity="1.0"/><ellipse cx="1032" cy="174" rx="4.1" ry="3.0" opacity="0.6"/><ellipse cx="991" cy="198" rx="4.3" ry="3.3" opacity="0.7"/><ellipse cx="938" cy="207" rx="4.2" ry="3.3" opacity="0.7"/><ellipse cx="1011" cy="221" rx="5.5" ry="4.2" opacity="0.8"/><ellipse cx="1017" cy="283" rx="5.1" ry="4.0" opacity="0.8"/><ellipse cx="994" cy="217" rx="4.8" ry="3.4" opacity="0.5"/><ellipse cx="942" cy="279" rx="3.1" ry="2.4" opacity="0.9"/><ellipse cx="1023" cy="219" rx="4.5" ry="4.4" opacity="0.6"/><ellipse cx="933" cy="202" rx="5.2" ry="4.1" opacity="0.8"/><ellipse cx="929" cy="268" rx="5.9" ry="5.7" opacity="0.5"/><ellipse cx="1032" cy="275" rx="3.7" ry="3.0" opacity="0.5"/><ellipse cx="963" cy="261" rx="3.3" ry="2.9" opacity="0.9"/><ellipse cx="927" cy="188" rx="5.3" ry="5.1" opacity="0.6"/><ellipse cx="1023" cy="246" rx="3.0" ry="2.8" opacity="0.5"/><ellipse cx="960" cy="267" rx="3.0" ry="2.9" opacity="0.6"/><ellipse cx="991" cy="204" rx="4.7" ry="3.6" opacity="0.8"/><ellipse cx="972" cy="243" rx="3.0" ry="2.8" opacity="0.6"/><ellipse cx="1016" cy="226" rx="5.0" ry="4.2" opacity="0.5"/><ellipse cx="1034" cy="255" rx="5.9" ry="5.3" opacity="0.7"/><ellipse cx="967" cy="264" rx="5.5" ry="5.1" opacity="0.6"/><ellipse cx="951" cy="215" rx="3.1" ry="2.4" opacity="0.7"/><ellipse cx="939" cy="196" rx="4.7" ry="4.2" opacity="0.6"/></g><ellipse cx="981" cy="243" rx="10" ry="7" fill="#ff2090" opacity="0.7" filter="url(#blur2)"/><ellipse cx="984" cy="240" rx="4" ry="3" fill="#ffffff" opacity="0.9" filter="url(#blur1)"/><path d="M1017 174l2 1 1 2M1005 207l1 -3 -2 -4M1034 276l-4 1 -3 3M966 236l-4 -3 -2 -1M1025 186l3 1 3 -3M978 267l3 1 0 1M1009 281l1 -2 2 -3M977 267l-1 2 -3 0M997 234l-2 -1 -2 0M973 179l1 -2 4 -0M944 203l-3 -4 -2 -1M945 263l1 2 1 4M945 229l3 0 1 -3M969 234l3 -2 0 -1M983 243l1 -3 -0 -3M1004 206l-1 4 1 1M973 232l-1 4 2 3M1032 194l4 1 1 1M934 183l-2 -0 -1 -1M993 260l0 2 2 1M1017 230l-2 3 -2 1M1016 271l-2 -1 -1 -2M988 253l-0 2 0 1M1025 261l-3 -1 -4 0M1017 272l2 2 1 4M942 248l3 -2 1 1M1000 277l-0 -5 1 -3M1005 222l3 2 3 2M1019 259l-1 -3 1 -1M958 180l-2 2 -4 -2M954 211l-4 2 -2 1M966 245l3 -1 2 1M1003 215l-4 -2 -1 1M942 244l-2 -4 -2 -4M1025 178l-4 0 -2 -1M1017 218l2 1 1 0M1003 273l4 0 1 2M948 221l2 -0 0 -2M937 215l-2 -5 1 -3M1021 181l-0 -3 -3 -2M1000 220l4 -0 1 -0M944 232l-3 1 -3 1M964 243l-4 0 -2 -1M951 218l4 -3 1 -2M960 206l-0 -4 0 -3M1033 286l0 -4 -1 -3M985 251l4 -0 4 2M1011 278l-0 2 -2 2M1030 225l-2 -2 -1 -4M1031 178l0 5 0 2M1009 183l-1 5 -2 1M1024 270l-3 -0 -2 -3M958 188l-1 -3 1 -2M1004 282l2 1 3 -2M1021 176l3 1 4 -2M953 247l4 1 3 -0M1009 235l4 2 2 1M1008 239l-4 3 -3 -0M926 258l-3 0 -1 -1M999 260l-4 1 -3 -2M933 233l-2 2 -1 1M1021 247l-3 1 -2 -1M929 224l-4 1 -1 1M956 250l4 1 2 0M971 253l-4 1 -1 4M1028 223l1 -4 2 -4M957 237l-4 0 -2 -4M931 206l-0 -3 1 -1M1008 271l1 -3 -1 -5M966 253l3 -1 3 -0M1021 196l-2 -4 -5 0M932 221l-3 3 -2 -0M965 257l-4 -2 -3 -1M1010 258l-4 1 -2 0M997 249l-3 -4 -3 -3M928 177l2 -3 1 -2M1025 204l-3 0 -0 1M1018 195l-4 2 -0 3M928 201l-1 -3 -3 -4M953 271l-2 2 -0 3M1020 194l-1 -2 -3 -3M964 285l-2 -1 -3 3M998 250l-1 -2 -2 -3M971 278l2 -1 2 -2M931 214l0 -2 1 -1M942 188l1 3 -1 1M968 192l-4 -0 -5 -0M972 250l2 -1 0 -5M928 239l4 -1 3 -1M925 281l-2 2 -2 -0M944 220l0 -4 -1 -1M932 263l0 -4 0 -3M972 249l-2 3 -3 4M934 268l-0 5 1 1M950 279l3 -1 4 -2M944 245l1 3 -3 2M1015 230l-1 4 -4 1M974 246l2 1 1 -0M1033 181l3 2 4 2M959 251l-1 -3 -4 -3M1027 231l-4 2 -3 2M936 251l3 -0 1 -0M1000 199l-0 -4 -1 -3M970 245l-3 -0 -3 -2M1006 275l-2 -3 1 -4M1029 188l3 -3 2 0M998 278l3 -3 1 -1M1024 188l-1 -2 -5 -1M968 263l-4 -2 -2 1M1017 270l3 4 2 4M1012 249l3 -1 2 0M967 196l-3 -2 -1 -1M936 186l2 -4 0 -2M1021 174l-0 4 -1 5M933 178l-4 1 -4 1M947 184l-1 4 -1 1M946 192l-2 -2 -1 -1M943 219l2 2 2 3M982 259l-0 -2 -3 -3M944 260l-3 -1 -2 2M1012 255l5 0 1 -1M974 249l2 -2 2 -3M936 202l-2 3 -3 3M951 271l1 -2 2 -3M1024 217l1 -3 0 -1M969 251l-3 -2 0 -1M939 181l4 2 2 -1M934 209l-2 -2 -2 -2M938 196l1 -3 1 -1M979 211l-0 3 -0 1M973 276l-2 -1 -3 -0M990 237l-1 -4 1 -1M999 214l4 2 4 -1M928 277l-1 -3 -5 -1M992 272l-3 -2 -4 1M968 273l-2 0 -2 2M966 279l2 -0 1 1M976 280l-2 -3 -2 -1M947 178l5 2 3 3M1034 241l3 0 3 -1M995 261l-4 3 -0 2M965 257l-3 4 -3 1M974 215l3 4 2 -0M1022 237l3 -1 1 -0M927 255l1 -2 -1 -1M949 183l-3 3 -1 3M993 208l-1 5 -1 2M944 232l5 1 1 1M938 259l3 -2 4 -1M978 243l3 0 2 -0M954 236l4 -4 0 -4M1019 213l3 -0 2 4M970 242l-1 -4 -2 -4M1020 217l2 2 2 2M1003 238l0 3 0 1M1012 245l2 -3 3 -2M946 179l-2 4 0 3M1018 223l-0 3 2 2M939 212l-3 1 -3 -1M1018 208l-1 -3 -0 -1M983 248l3 -1 3 -1M1027 228l-1 4 -2 4M943 236l3 -2 3 -2M940 242l-4 3 -3 1M932 176l-2 -2 -2 -2M935 231l3 2 1 3M1019 231l4 -1 3 1M939 183l3 1 3 1M960 215l2 0 4 1M952 207l-4 -1 -4 -1M1008 252l2 -3 3 -0M1021 172l-1 -3 2 -4M962 217l3 3 -2 4M948 196l1 -2 1 -2M987 191l-2 -0 -1 2M1023 244l3 1 2 1M989 237l3 -4 1 -1M939 282l1 3 1 3M943 239l3 -3 2 -3M960 271l1 4 -1 1M934 261l-1 5 1 3M934 219l1 -3 -1 -3M932 230l-4 -1 -4 2M962 206l-3 3 0 4M1006 220l-2 1 -3 -1M1016 203l2 0 2 -0M1014 217l-3 0 -1 -1M1004 226l0 4 2 2M939 281l4 -3 -0 -4M1009 220l0 -2 -1 -3M991 208l-1 3 2 2M982 267l-1 -2 -1 -2M995 234l-1 -2 1 -3M941 275l-3 2 -3 4M1023 259l2 2 1 -0M969 200l4 2 2 2M987 184l2 2 -1 5M988 213l-0 -3 1 -2M967 249l3 -3 4 1M958 212l4 3 0 4M1016 280l-1 -3 -4 -1M950 200l0 4 0 2M977 281l-3 -1 -1 -1M963 226l-3 -2 -3 1M949 273l3 -3 -0 -1M925 239l-3 -3 1 -3M1003 257l1 -4 1 -3M933 198l1 -2 -1 -4M1009 232l1 2 0 4M1032 190l-1 -3 2 -2M954 207l4 -2 1 -2M1000 176l-3 2 -3 0M956 283l5 0 1 0M930 182l-1 5 -1 2M954 180l1 -3 4 -3M949 212l2 2 2 2M926 199l-1 3 -1 1M975 264l2 -1 1 1M1027 278l-1 5 -2 0M946 243l1 -5 1 -2M935 278l-4 -2 -4 2M962 240l5 -1 4 0M1006 253l2 -1 1 -1M988 174l-0 -3 2 -2M942 208l-2 -1 -4 2M1034 211l-3 1 -3 1M942 267l-1 -3 -1 -3M934 211l-3 -4 0 -2M956 263l3 -1 5 1M974 255l-3 4 -1 5M989 221l-3 2 -2 3M1001 173l-2 -1 -2 2M999 223l-4 2 -1 1M1027 264l-0 2 -1 1M938 185l2 -2 -1 -4M988 222l1 -3 -2 -4M987 200l0 -2 1 -2M933 196l-0 4 -1 2M963 214l1 -3 -2 -2M936 276l-0 -2 -1 -3M996 237l3 3 2 0M964 277l3 2 0 1M1033 245l-0 -3 0 -2M1029 229l1 2 2 4M1020 241l-1 -2 -3 -3M950 283l-2 3 -2 1M1031 229l-4 2 -1 -0M1027 207l-2 -1 -2 0M1010 235l-3 1 -3 -1M995 192l4 -2 5 2M992 231l4 1 1 -0M954 193l2 -1 1 -0M961 241l3 1 0 3M980 263l2 -3 0 -2M960 218l4 3 1 3M931 205l-0 3 0 2M1009 256l-3 3 -2 4M1033 183l-3 -3 -0 -3M954 232l5 2 1 1M995 257l-2 2 -2 2M1001 181l2 -1 4 -2M959 192l2 3 4 1M985 281l2 1 3 1M1016 246l2 -0 2 -1M1001 213l2 1 1 -0M963 285l0 3 -0 5M995 229l3 1 2 2M1033 259l4 -2 2 -2M964 234l-4 -0 -2 -1M938 234l1 2 -1 3M1015 280l1 2 1 2M928 245l0 -2 -1 -2M984 244l-2 3 -4 -1M1024 279l-4 2 -3 2M1020 260l5 -1 1 0M973 255l-1 3 -1 4M1033 247l3 1 3 0M955 281l-0 -4 1 -3M960 182l1 -2 -3 -4M988 244l-2 2 -1 4M973 224l-2 1 -2 4M935 184l-0 -5 1 -1M998 230l-3 2 -1 0M956 218l-4 -0 -3 -3M984 189l4 2 1 2M931 220l2 -1 0 -4M1019 244l2 2 -1 3M993 236l3 3 1 0M977 261l2 2 3 0" stroke="#b8a030" stroke-width="0.9" fill="none"/><path d="M976 241l3 1M976 232l3 -2M980 238l-1 2M974 237l-1 -2M979 237l-2 -0M977 236l-1 3M979 235l-0 3M979 242l2 2M977 262l-2 -1M985 235l2 -1M972 232l-2 -3M966 225l-2 1M975 257l3 0M972 241l3 -1M986 231l1 -3M988 231l-1 -3M976 247l2 -2M982 238l3 -1M986 231l-1 -2M981 237l-2 -1M973 239l1 -1M983 243l2 0M972 240l-3 1M983 231l-1 1M978 240l0 3M983 249l-2 -2M975 239l0 -2M960 240l3 1M991 240l-1 -1M972 248l-1 2M965 254l-2 3M982 236l-0 -2M977 240l-1 -1M983 257l0 -2M979 240l2 -1M982 244l0 2M982 239l-2 -1M977 228l-1 -1M978 237l2 -0M988 238l-1 1M985 247l-3 1M980 241l2 3M974 231l-1 3M980 241l2 -0M976 236l3 -1M978 244l-1 -2M980 228l1 3M977 235l-0 3M977 243l1 3M979 240l-2 -1M977 241l-1 3M980 244l3 2M978 238l-1 -2M983 237l2 -0M980 238l-3 1M983 240l-1 0M972 237l1 1M981 235l-0 -2M973 235l-1 -2M979 252l-3 -2M979 241l-2 -3M980 240l-2 1M979 241l0 -3M976 236l-1 2M966 244l-1 3M971 242l-0 2M967 252l2 0M968 252l2 1M980 240l2 -2M979 241l2 1M977 225l-3 -2M977 239l-2 0M980 241l0 -2M988 244l1 2M982 246l1 3M985 239l2 -1M980 244l-2 -2M976 247l-1 -2M962 229l-2 1M979 245l2 1M991 246l2 2M979 239l3 2M974 243l-2 -0M979 236l-2 -0M971 243l-2 2M979 231l1 -2M983 248l-1 -1M973 233l2 1M981 233l-2 2M977 241l-2 0M993 237l-0 2M973 243l-2 -2M986 236l2 3M980 242l-1 2M989 246l2 3M990 233l-1 -2M977 245l1 3M981 238l0 -2M980 242l2 1M969 235l-3 -0M973 240l2 -2M977 236l1 2M979 241l2 2M980 241l3 -1M971 242l2 1M970 238l1 -3M988 242l0 2M979 239l1 -1M971 240l0 3M980 235l1 3M966 233l2 0M976 249l0 -2M974 242l-2 -1M977 238l3 -2M978 239l2 -1M973 245l-0 -2M975 242l-0 -3M973 219l1 2M979 243l2 2M979 239l-2 0M971 241l1 -3M977 238l2 1M961 239l-1 2M985 245l2 1M979 240l2 -1M978 245l1 -1M988 238l2 0M983 239l-1 -3M968 246l2 1M972 241l1 3M974 241l2 -0M978 251l-2 -2M980 251l0 -2M971 249l-1 -1M999 223l-2 0M973 243l3 1M977 240l-2 -0M974 246l-2 2M962 233l0 2M988 244l1 -3M978 238l1 -2M981 239l-2 -2M979 241l-3 0M977 229l2 3M977 246l-2 2M986 241l-1 -2M980 258l3 0M984 243l-2 -3M981 250l-2 -1M977 240l2 1M979 240l-1 -2M998 263l-6 2M995 253l-4 -1M965 225l-0 2M981 237l4 3M975 240l2 -5M973 221l-1 -6M993 229l1 -4M981 237l1 -3M981 245l6 1M1005 251l4 0M959 264l-5 0M990 227l1 -5M972 241l-4 2M987 214l5 -1M977 242l-2 -2M980 241l-3 4M1000 227l-4 -1M974 280l-3 3M974 247l-6 2M992 227l2 5M985 262l0 -2M953 234l-5 -0M981 236l-4 -3M970 238l-4 4M962 240l4 2M936 217l-3 -5M980 243l-1 -1M980 241l1 6M1000 234l-2 -0M982 235l-1 1M978 243l5 2M992 248l-3 1M992 243l2 -1M958 226l-3 1M995 232l6 -1M978 223l-1 1M977 242l-1 -1M983 235l1 3M952 239l1 3M988 251l-0 -7M978 238l-2 -4M979 249l1 4M973 270l2 1M983 239l2 3M963 227l4 -3M1006 191l4 -0M958 221l-4 0M983 229l1 2M976 216l-4 -4M986 247l4 -1M979 240l4 4M983 240l1 -7M976 235l5 -0M951 235l-5 0M956 256l6 1M979 224l2 5M984 239l4 -1M987 232l-1 1M943 210l-2 2M957 261l-3 6M986 233l-5 -2M976 234l1 -2M981 238l-2 2M983 236l2 -3M957 253l5 3M963 255l-3 -1M979 234l3 -5M976 229l-0 4M1003 221l1 5M980 254l-1 -1M974 249l-0 5M992 236l-4 -1M975 237l0 5M976 253l-2 -3" stroke="#ff3050" stroke-width="1.6" fill="none" stroke-linecap="round"/><path d="M1019 190l-0 -3M1015 193l-2 2M1019 193l3 2M1013 184l-1 3M1015 193l2 -2M1018 196l2 -2M1018 196l-1 3M1010 192l2 1M1020 202l-2 2M1014 195l0 2M1013 194l3 1M1016 193l1 -0M1022 195l3 1M1019 196l2 1M1019 194l-1 -2M1012 195l1 2M1018 195l-2 -1M1016 193l0 -2M1020 193l2 2M1026 210l1 -1M1016 201l2 -3M1025 202l-2 -1M1020 201l-2 -1M1024 192l-1 -1M1018 189l3 1M1021 200l3 2M1018 197l0 2M1019 182l-3 1M1008 188l1 -1M1018 195l-2 1M1011 193l-0 -3M1017 194l-0 2M1018 195l0 2M1015 199l-1 1M1017 195l1 -2M1014 196l-3 2M1023 194l-1 -1M1018 194l-3 1M1017 190l-2 -2M1015 194l-1 1M1019 197l-0 2M1017 197l2 -0M1009 195l-1 -2M1021 199l2 -3M1023 194l0 -2M1016 195l3 -1M1015 206l-1 -2M1019 195l1 -3M1016 193l-1 -2M1012 200l2 1M1022 200l0 3M1017 189l-1 3M1016 189l0 2M1022 188l-2 2M1018 191l0 3M1021 195l3 0M1018 198l-2 -1M1017 194l3 -1M1018 194l-2 3M1016 191l1 3M988 190l-4 2M1022 199l2 6M1019 195l4 -2M1018 191l3 6M1020 216l3 1M1015 189l1 -3M1012 182l-3 -5M1027 180l-1 5M1014 189l-3 -1M1014 192l2 3M1009 190l-1 6M1019 189l-1 2M1017 196l-1 2M1014 189l-4 -3M1004 212l0 7M1007 183l0 -4M1012 194l-4 -2M1011 192l1 1M1012 208l1 3M1025 186l-3 1M1018 194l6 -2M999 190l-2 -2M1008 197l2 2M1008 208l-2 7M1011 188l-2 -2M1021 197l3 1M1012 200l2 3M1015 183l-1 1M1017 196l-2 2M1017 179l1 -1" stroke="#d8c838" stroke-width="1.2" fill="none" stroke-linecap="round"/><path d="M947 204l-1 -3M940 202l2 0M944 197l3 0M941 204l1 -2M957 197l1 -2M947 189l-1 2M946 201l-1 1M943 192l-2 -3M953 203l-2 3M948 203l2 -3M947 196l-1 2M944 205l1 -2M947 201l-2 -2M950 190l1 2M940 200l-0 2M947 202l-3 -0M945 201l-1 1M948 196l3 0M942 201l1 3M953 199l2 1M950 196l1 -2M943 205l-1 -2M947 202l-3 0M951 197l1 -3M959 206l-2 -1M932 196l1 -2M949 199l3 -0M942 190l2 1M945 198l2 2M939 193l2 2M949 196l-3 1M958 202l-2 -0M946 201l-1 -2M945 203l-2 3M947 199l2 -0M944 198l-0 -1M932 193l2 0M949 192l2 0M948 200l-2 0M945 200l-2 -0M939 199l-3 1M948 199l3 1M946 200l1 -2M946 200l-1 -1M941 206l-0 2M948 198l0 3M940 203l-0 -3M950 202l0 2M950 197l-3 1M945 206l2 1M952 198l-1 -2M946 211l2 0M935 188l-2 0M937 189l-5 -2M950 191l4 2M933 197l-5 3M948 196l-2 -4M940 199l3 -5M952 209l4 2M938 190l-0 3M943 204l3 3M961 197l-5 3M933 207l2 1M947 208l2 -1M934 189l1 -3M953 219l-3 6M947 198l3 3M951 194l-1 4M939 203l7 -0M946 205l2 4M947 199l-1 5M940 201l-5 -4M946 200l3 4M944 185l-5 -3M946 200l2 -2" stroke="#d8c838" stroke-width="1.1" fill="none" stroke-linecap="round"/><path d="M1020 265l-3 -1M1022 263l-3 1M1024 260l3 2M1019 265l-3 -2M1027 271l1 -2M1024 272l-1 1M1025 267l-2 1M1025 262l2 1M1022 261l3 1M1022 263l-3 -0M1022 262l2 -1M1011 267l3 -1M1023 263l-3 2M1021 267l-3 -0M1014 265l-1 -2M1021 261l-2 2M1030 262l1 3M1022 266l1 -1M1024 259l3 1M1020 264l-1 -1M1019 263l-2 -2M1022 263l3 1M1017 263l-2 1M1020 263l-0 2M1024 257l-2 1M1023 264l-1 -3M1019 266l-2 2M1023 261l-2 -2M1020 268l-3 2M1019 249l-3 1M1024 262l0 -2M1018 260l2 -2M1022 261l0 -2M1031 257l-2 -2M1031 266l-2 -1M1031 266l-2 1M1027 259l2 -1M1022 263l-2 -2M1025 256l2 0M1026 265l-1 -3M1029 254l-3 -1M1024 271l1 3M1022 263l-2 -2M1025 275l2 -1M1028 263l-3 -1M1027 267l3 -0M1017 264l-2 2M1032 260l2 1M1023 262l1 -2M1022 261l-0 3M1027 262l-2 0M1025 252l1 2M1015 271l6 4M1020 267l0 -5M1023 278l1 -3M1026 259l-0 4M1017 254l-3 -1M1021 270l-3 4M1020 271l3 3M1023 264l-6 -4M1022 250l4 -5M1011 263l-1 -3M1030 265l-6 1M1014 265l-3 1M1026 262l1 -4M1033 247l-5 -5M1022 263l-1 4M1036 268l5 3M1023 269l2 -2M1037 251l-3 -5M1019 274l-4 1M1002 267l-4 -4M1016 269l4 5M1026 242l1 -2M1026 272l-6 -0" stroke="#d8c838" stroke-width="1.2" fill="none" stroke-linecap="round"/><path d="M995 206l1 3M997 203l2 -0M998 205l-3 2M995 209l2 -1M1000 197l-0 2M996 206l3 2M996 206l-3 2M995 206l-2 -1M995 206l-0 2M993 206l3 -0M1000 204l-0 2M998 204l0 2M995 204l0 2M992 210l-1 2M995 215l1 -2M1000 212l2 2M995 205l2 -1M995 206l-1 -1M996 206l-2 1M988 208l3 0M995 208l-1 -2M998 208l3 1M995 207l-2 1M993 206l0 -3M998 203l-0 2M998 205l-2 2M1000 203l-3 -0M991 206l2 1M990 196l-1 -2M993 207l-1 -2M989 204l-2 1M996 211l-2 -0M1000 201l-1 -1M1000 216l3 -0M993 208l2 -1M996 207l1 1M1008 205l3 -1M1001 209l1 2M994 200l1 2M995 206l-3 0M993 206l-1 -4M1000 199l-5 -2M1002 210l-1 1M995 205l6 2M992 209l-4 3M1010 201l-1 3M1004 192l3 3M988 219l-0 -5M994 226l-6 -1M991 193l-3 -4M987 213l2 -1M996 206l-2 5M998 207l1 3M998 187l-4 2M996 208l-2 -0M1003 187l-1 4M997 200l-1 -6M995 216l-4 -3M972 207l6 2M977 208l-4 6" stroke="#f030c0" stroke-width="1.2" fill="none" stroke-linecap="round"/></g><clipPath id="m9"><rect x="575.8" y="327.4" width="111.2" height="108.6"/></clipPath><g clip-path="url(#m9)"><rect x="575.8" y="327.4" width="111.2" height="108.6" fill="#03030c" /><g fill="#2a2ad0" filter="url(#blur1)"><ellipse cx="578" cy="348" rx="7.8" ry="5.8" opacity="0.9"/><ellipse cx="604" cy="326" rx="6.8" ry="5.1" opacity="0.5"/><ellipse cx="605" cy="377" rx="5.8" ry="5.5" opacity="0.6"/><ellipse cx="655" cy="365" rx="5.4" ry="4.5" opacity="0.8"/><ellipse cx="630" cy="398" rx="5.5" ry="4.1" opacity="0.5"/><ellipse cx="630" cy="423" rx="6.5" ry="6.2" opacity="0.5"/><ellipse cx="599" cy="402" rx="8.1" ry="7.6" opacity="0.5"/><ellipse cx="636" cy="352" rx="8.0" ry="7.0" opacity="0.8"/><ellipse cx="665" cy="437" rx="6.9" ry="6.9" opacity="0.6"/><ellipse cx="676" cy="337" rx="7.9" ry="7.6" opacity="0.8"/><ellipse cx="615" cy="419" rx="8.3" ry="7.6" opacity="0.6"/><ellipse cx="633" cy="325" rx="7.1" ry="5.6" opacity="0.8"/><ellipse cx="575" cy="376" rx="5.5" ry="4.4" opacity="1.0"/><ellipse cx="662" cy="398" rx="6.5" ry="4.7" opacity="0.5"/><ellipse cx="637" cy="437" rx="7.9" ry="6.1" opacity="1.0"/><ellipse cx="599" cy="330" rx="7.0" ry="5.9" opacity="0.5"/><ellipse cx="681" cy="358" rx="6.6" ry="4.7" opacity="0.5"/><ellipse cx="684" cy="435" rx="7.5" ry="5.4" opacity="0.5"/><ellipse cx="589" cy="326" rx="8.2" ry="6.8" opacity="0.5"/><ellipse cx="604" cy="377" rx="7.1" ry="6.1" opacity="0.5"/><ellipse cx="667" cy="336" rx="6.8" ry="6.2" opacity="0.5"/><ellipse cx="575" cy="438" rx="7.8" ry="5.9" opacity="0.8"/><ellipse cx="609" cy="349" rx="10.0" ry="8.7" fill="#2020a8"/><ellipse cx="598" cy="387" rx="7.8" ry="10.9" fill="#2424b8"/><ellipse cx="659" cy="376" rx="8.9" ry="7.6" fill="#2020a8"/><ellipse cx="643" cy="409" rx="10.0" ry="7.6" fill="#2828c0"/></g><ellipse cx="631" cy="382" rx="11" ry="10" fill="#f030c0" opacity="1" filter="url(#blur1)"/></g><clipPath id="m10"><rect x="693.4" y="327.4" width="111.3" height="108.6"/></clipPath><g clip-path="url(#m10)"><rect x="693.4" y="327.4" width="111.3" height="108.6" fill="#03030c" /><g fill="#2020a0" filter="url(#blur1)"><ellipse cx="698" cy="362" rx="5.0" ry="3.9" opacity="0.9"/><ellipse cx="772" cy="378" rx="8.0" ry="6.7" opacity="0.9"/><ellipse cx="762" cy="340" rx="7.3" ry="6.1" opacity="0.7"/><ellipse cx="716" cy="404" rx="5.8" ry="4.5" opacity="0.6"/><ellipse cx="722" cy="345" rx="8.0" ry="7.2" opacity="0.5"/><ellipse cx="758" cy="333" rx="7.6" ry="6.2" opacity="0.7"/><ellipse cx="780" cy="414" rx="7.7" ry="6.1" opacity="0.5"/><ellipse cx="759" cy="386" rx="8.6" ry="8.3" opacity="0.6"/><ellipse cx="739" cy="406" rx="6.7" ry="6.6" opacity="0.5"/><ellipse cx="739" cy="421" rx="8.8" ry="7.5" opacity="0.6"/><ellipse cx="760" cy="361" rx="7.8" ry="6.3" opacity="0.6"/><ellipse cx="759" cy="413" rx="7.0" ry="6.1" opacity="0.8"/><ellipse cx="752" cy="325" rx="6.5" ry="6.2" opacity="0.7"/><ellipse cx="782" cy="434" rx="5.1" ry="4.7" opacity="0.7"/><ellipse cx="691" cy="349" rx="7.0" ry="5.8" opacity="0.9"/><ellipse cx="732" cy="415" rx="6.6" ry="6.5" opacity="1.0"/></g><ellipse cx="727" cy="376" rx="12" ry="10" fill="#ff30a0" opacity="0.8" filter="url(#blur2)"/><ellipse cx="766" cy="401" rx="10" ry="8" fill="#ff30a0" opacity="0.8" filter="url(#blur2)"/><path d="M711 416l2 2 -0 3M696 328l5 -0 1 2M727 402l4 1 2 -1M778 353l4 -0 4 1M720 431l5 1 3 1M754 370l2 3 0 2M782 403l2 0 2 3M708 385l-4 -1 -5 -1M695 424l-1 -3 -1 -1M772 400l-2 -0 -2 2M705 359l3 0 4 1M695 360l-1 2 -0 1M714 356l2 -2 4 -2M771 374l-1 3 -0 2M735 334l-3 -2 -2 1M701 382l-5 -2 -3 2M781 354l-4 1 -1 3M794 426l2 -1 4 -1M728 353l-1 -3 1 -2M790 403l-3 3 -4 -1M725 340l-4 -2 -1 -1M766 404l-3 3 -5 1M695 431l-0 -2 -2 -1M762 391l-4 2 -3 2M771 418l1 2 3 3M793 386l2 3 -1 4M713 333l-3 1 -3 2M779 389l4 -2 1 -3M727 434l-3 1 -4 -2M734 359l-1 2 -1 1M804 416l-3 2 -1 -0M769 420l-5 -0 -1 0M719 436l-2 3 1 2M721 381l2 0 3 -4M780 351l-1 3 -1 3M774 395l4 1 2 -2M700 367l2 3 3 3M702 354l-3 0 -2 3M755 419l4 -1 3 -2M746 331l-2 -2 -4 -0M719 429l2 -1 1 1M764 425l-2 4 -1 2M784 382l1 -5 -0 -5M776 405l-4 -1 -1 1M784 424l-2 -4 2 -4M795 371l3 1 2 3M709 353l-2 1 -3 0M798 410l-2 1 -5 1M778 347l2 2 1 1M794 381l-4 -1 -3 -0M699 429l5 -0 1 -0M705 387l-3 2 -5 -1M769 409l-3 -2 -2 -1M801 410l-1 -2 0 -2M734 372l0 -3 0 -1M777 352l1 -3 0 -1M722 332l1 3 3 0M707 365l3 1 3 0M757 340l2 -2 -1 -4M785 375l4 -0 1 -1M773 404l2 -1 3 3M747 366l1 4 1 4M713 387l-2 -0 -2 3M793 380l3 3 2 1M722 361l-2 -3 -1 -3M771 359l1 -2 0 -3M795 415l2 -0 4 -2M756 394l4 -0 1 -1M753 419l-2 4 0 1M721 336l-1 -4 -2 -4M772 330l-2 1 -1 2M726 403l3 -0 3 0M746 378l-2 3 -2 0M695 356l-1 -2 -1 -2M710 406l1 -5 1 -3M751 435l-2 3 -2 3M700 359l-1 -4 -1 -2M738 422l-2 -2 -3 -1M743 331l2 -1 2 -0M732 367l2 0 2 -0M703 329l-2 4 3 3M779 345l-3 -0 -0 -1M746 341l1 -2 -1 -1M802 328l-2 -3 -4 -2M758 387l3 1 2 -1M701 434l1 -3 0 -2M707 374l-2 2 -4 0M801 403l-2 -2 -1 -3M765 424l-3 3 -1 2M774 357l-3 -4 -4 -1M771 423l-4 -2 -2 -4M797 336l2 5 -0 5M718 413l4 3 3 -2M699 412l-1 -2 -3 0M765 371l4 -3 2 -3M768 361l4 -0 3 -4M722 433l3 1 1 -1M723 385l-2 4 -1 2M704 340l-3 -0 -2 4M767 337l0 -3 0 -2M702 414l-2 -2 0 -4M765 362l-4 3 -0 5M752 365l-3 -3 -3 -4M787 360l0 3 3 1M710 408l-1 -3 -1 -5M768 395l-4 1 -1 3M772 410l-4 -2 -3 1" stroke="#c02030" stroke-width="1" fill="none"/><path d="M727 376l2 1M723 372l1 -2M727 387l1 -3M726 378l2 -0M728 365l-3 1M725 378l-2 3M713 385l1 -1M727 376l-2 1M735 373l2 1M744 392l-3 1M729 386l2 -1M730 375l-1 3M727 377l-2 -1M728 377l-1 1M704 384l2 0M727 364l0 2M721 378l-1 -2M727 373l-2 0M717 369l-2 -2M718 371l-2 2M722 379l-2 -3M718 373l3 0M712 380l-0 3M722 373l3 1M726 376l-0 2M719 381l-2 0M723 376l2 0M730 371l-0 3M724 385l-2 -1M733 380l-0 3M729 380l1 -1M725 376l1 -2M724 362l1 -1M734 379l3 2M724 375l2 2M734 376l-3 -0M728 382l-1 2M728 377l-1 -2M727 379l0 2M729 377l-3 -2M727 377l-0 -2M729 374l-3 1M705 390l-2 -3M727 376l-2 0M731 371l-1 -2M738 386l-0 -2M733 388l3 0M727 389l-2 1M724 376l-3 -2M739 381l2 2M730 382l-2 2M726 376l1 -3M726 368l-2 -1M729 374l-0 2M714 371l0 2M728 380l2 -1M720 367l-3 0M720 387l2 2M723 361l-2 1M727 377l-1 -1M731 369l-0 2M733 380l-2 1M721 376l2 -1M730 387l-2 3M727 376l2 -0M721 367l1 2M729 370l-2 2M728 377l-2 0M730 383l3 1M720 376l2 -1M728 380l0 3M726 373l1 2M727 382l-3 1M735 382l2 -1M722 384l-2 0M740 365l-1 2M725 376l-2 2M723 359l1 1M738 370l-2 1M722 374l2 1M715 391l-1 1M730 376l2 0M723 384l-1 1M727 376l2 -1M722 371l-3 1M732 377l0 2M730 375l1 1M716 367l2 2M724 372l0 3M730 378l-1 -2M728 378l-2 1M736 391l2 2M728 377l-1 -3M727 383l2 2M727 374l2 1M737 376l1 2M726 388l-3 2M732 386l-1 1M724 386l-1 -1M719 379l-0 -2M725 370l-2 2M728 382l-1 -1M731 377l-1 -2M728 376l-2 -0M716 369l-1 -3M725 372l2 -2M724 386l3 2M732 347l-2 1M730 381l1 2M711 380l-0 2M728 380l-1 2M720 372l1 3M731 372l1 -2M726 377l2 1M726 379l-0 -2M731 372l3 0M728 373l-3 2M742 378l2 -2M724 380l-1 -3M734 383l-1 2M719 375l0 -3M726 377l1 1M731 384l-2 0M740 391l2 1M722 372l3 1M727 384l1 3M742 377l-2 -1M727 376l-1 -3M727 378l-1 1M706 374l-1 3M724 379l0 2M729 381l1 1M725 377l-3 -1M721 380l2 -2M727 376l-2 0M732 374l-2 -1M724 376l3 -1M728 379l-2 -1M729 386l-2 -2M731 394l-2 -0M734 377l-3 -1M734 379l-3 -0M728 374l2 1M718 372l-0 3M735 376l2 0M727 376l-1 1M733 379l-1 -2M726 386l-0 2M712 387l-1 -3M730 371l0 3M732 371l-4 5M742 397l-2 0M734 370l1 2M684 381l-3 -6M733 382l4 -5M703 424l-1 -1M729 373l-2 4M755 402l-5 -2M762 399l-2 -6M735 367l1 5M726 385l2 1M725 378l-3 -6M758 406l1 -2M708 367l1 -1M709 382l3 0M728 377l1 1M716 372l6 0M719 367l-1 -4M731 382l1 -6M728 380l-1 2M723 389l1 2M757 385l6 3M721 394l3 -1M720 398l0 2M711 389l3 4M731 376l1 -4M726 376l-5 -1M727 375l-6 2M671 385l2 3M708 407l-5 1M727 376l-3 0M673 360l-5 1M745 381l2 -0M771 352l0 5M720 381l-0 -2M722 376l1 2M763 396l-2 2M757 395l-0 -2M737 369l2 3M724 372l-1 -5M726 376l2 -4M711 398l-5 -2M712 354l2 -4M730 381l4 4M722 365l-4 -4M727 367l-5 -4M721 371l-4 1M727 380l-5 -2M726 367l-1 4M725 371l0 -2M702 369l-2 -3M724 382l0 2M768 332l-1 -1M735 374l-1 2M687 377l-7 -0M701 398l3 -6M730 364l0 2M713 392l-6 -4M699 410l-1 -2M712 397l-5 0M747 392l-4 -3M707 370l4 4M696 371l-1 -5M731 390l0 -3M707 379l3 -2M739 377l3 -2M718 373l-4 1M731 383l1 5M735 353l0 5M727 392l4 -6M723 374l1 1M729 368l-2 5M696 413l-2 3M765 387l-4 -4M754 409l-4 -5" stroke="#ee2233" stroke-width="1.7" fill="none" stroke-linecap="round"/><path d="M761 404l2 1M762 399l-1 2M766 398l1 -1M765 399l0 -2M771 401l-1 -1M780 410l-1 2M768 398l2 -0M766 396l2 -0M748 394l-2 -1M772 382l1 -3M765 389l-3 1M766 397l-2 -0M762 407l3 -2M756 409l-2 0M772 401l-3 -0M768 404l-3 0M766 398l-0 3M765 397l1 2M766 398l0 2M766 398l1 -2M774 400l2 -0M765 408l-1 1M766 398l-1 3M774 388l-1 -3M761 403l-2 -1M762 399l-1 -2M769 402l2 -0M766 394l-1 3M767 396l2 -0M772 405l-2 1M778 391l2 -0M767 375l0 2M761 400l3 1M761 391l2 2M758 390l2 -0M766 396l-2 -1M764 388l2 -2M769 399l-2 -2M764 405l-2 2M763 405l2 2M757 400l3 2M766 397l1 1M769 403l-1 -3M770 396l-2 -1M769 398l-1 -3M756 398l-2 -0M765 403l1 -3M778 409l2 2M760 389l-1 -2M774 389l0 -2M764 364l-1 -2M760 388l1 -2M754 398l-1 -2M765 391l-3 1M773 401l-3 -0M773 402l-1 2M772 402l1 2M744 403l2 -1M766 401l3 -1M763 405l-2 0M766 398l2 -2M761 388l3 2M781 412l-1 3M763 402l2 1M766 398l-3 2M775 388l0 -3M768 398l1 -2M764 399l-0 -2M768 403l2 0M764 398l2 1M767 390l-2 1M766 398l-2 3M766 398l2 2M758 392l1 -3M767 402l1 3M766 395l1 2M766 398l-1 -1M777 393l-0 -2M767 400l-3 -1M766 388l3 0M770 402l-2 -2M764 398l1 -3M766 404l-3 -1M774 400l2 -2M768 396l1 -1M752 397l-2 1M763 396l-1 3M766 395l1 -2M766 399l1 1M768 400l3 -0M749 395l2 -0M771 397l1 -2M777 381l3 1M761 396l-2 1M774 403l-1 -3M744 415l2 -0M787 383l-2 -2M772 389l1 3M763 387l1 3M770 413l-1 2M764 399l-2 2M763 392l-2 -1M761 402l2 -2M771 401l-1 3M766 396l1 -3M777 401l-3 -1M757 393l-2 -1M770 413l1 2M768 396l1 -2M771 388l-1 -1M766 398l-2 -0M769 397l-2 1M765 398l-2 -3M771 398l-3 -1M790 396l2 1M767 404l1 -2M773 390l3 1M780 391l2 -1M770 398l-1 3M773 391l0 2M771 396l-1 -3M744 416l2 2M769 397l1 -2M767 398l-2 1M767 398l3 -1M767 399l-2 3M771 383l-2 0M767 395l-3 1M766 399l-3 1M759 392l0 2M763 397l-2 0M768 398l0 -3M764 399l-2 2M775 382l-2 -2M766 398l1 -2M762 379l2 3M758 384l0 -3M765 392l-3 2M769 411l-3 -0M772 402l-2 0M757 356l2 5M764 392l-0 -4M773 410l4 -1M782 397l-6 1M737 372l3 -1M782 427l-3 3M774 393l0 -2M778 405l-1 -2M740 397l2 -1M772 400l-1 -2M787 418l-1 -4M772 397l-4 1M760 399l-4 -2M767 398l-1 1M762 407l-5 -1M771 412l-1 3M750 421l-1 -4M764 401l4 0M775 406l-3 6M766 392l3 -5M785 385l-5 4M749 417l-3 1M786 411l4 -4M735 431l3 3M768 399l-1 3M767 396l-2 -3M778 368l0 -2M763 394l-5 -0M774 377l-2 1M751 368l2 1M766 394l-2 -2M773 381l2 -2M765 389l-2 5M767 418l2 0M762 398l3 -5M753 391l3 2M769 383l0 4M762 397l-2 2M801 364l-4 -4M780 376l-3 1M764 399l-2 -6M739 397l3 -1M751 420l2 -2M773 407l2 5M795 402l1 4M766 402l3 1M793 414l-4 4M806 392l-2 6M766 368l-4 -4M778 407l-2 3M758 397l-4 2M760 384l-2 -0M796 395l-6 2M738 399l-2 4M756 405l-1 1M759 402l-1 -5M768 380l-5 3M783 452l-4 -3M796 372l-2 -2M762 350l3 2M781 383l-2 -5M753 416l-2 3M781 398l6 3M750 398l4 -5M779 407l-5 -4M749 377l1 1M797 397l4 -2M758 394l2 3M762 392l-1 -5M761 397l-5 2" stroke="#ee2233" stroke-width="1.7" fill="none" stroke-linecap="round"/><path d="M749 348l-3 1M748 350l-1 -2M748 350l-2 -0M751 340l2 1M750 341l-2 -1M754 352l-0 2M736 351l-2 -1M756 362l-2 -1M750 350l-2 -3M749 349l-1 -3M754 358l-2 3M738 345l-1 2M753 347l1 -0M750 353l-1 3M747 341l-1 -2M747 348l1 1M751 348l-3 2M758 353l2 1M752 359l0 1M752 355l-1 -3M751 355l2 -2M758 346l-0 2M747 343l2 1M735 350l-1 1M750 351l1 -2M750 347l0 3M745 342l-3 -1M751 348l1 2M750 349l-2 -2M758 342l-2 2M748 350l-1 3M745 339l-2 1M752 347l3 0M749 347l2 3M742 349l2 1M755 341l1 1M755 355l1 -3M754 351l-2 -1M749 349l1 -1M749 355l2 2M747 349l1 -1M749 339l2 3M748 347l1 3M747 343l-2 1M755 352l0 2M745 353l2 2M751 350l-0 -3M754 352l1 -2M757 348l-1 1M750 347l1 -3M758 343l-0 -2M741 346l-2 -3M745 350l1 -1M751 346l-1 -3M749 349l-3 1M752 346l2 3M750 352l-1 -3M749 346l-2 -3M748 349l3 -0M761 343l2 1M785 349l1 -1M770 354l7 -0M742 355l2 -4M724 357l1 4M767 325l-6 -0M741 334l-2 4M746 361l1 -6M754 343l-1 -3M747 343l-1 2M752 346l2 7M748 346l0 6M758 360l-5 5M748 349l2 0M750 369l-5 -0M753 352l-0 -2M748 349l5 -1M752 349l-3 -3M770 364l3 -3M741 351l4 -1M748 321l4 -1M749 348l-5 -1M747 353l4 -5M742 394l2 0M753 357l-3 -2M739 349l-4 -4M764 345l-2 1M765 361l2 -3M758 356l3 -4M734 340l2 -1M748 349l1 -3" stroke="#ee2233" stroke-width="1.4" fill="none" stroke-linecap="round"/></g><clipPath id="m11"><rect x="810.6" y="327.4" width="110.4" height="108.6"/></clipPath><g clip-path="url(#m11)"><rect x="810.6" y="327.4" width="110.4" height="108.6" fill="#03030c" /><g fill="#2222b0" filter="url(#blur1)"><ellipse cx="897" cy="398" rx="6.6" ry="5.0" opacity="0.8"/><ellipse cx="920" cy="373" rx="8.4" ry="6.0" opacity="0.7"/><ellipse cx="831" cy="381" rx="7.4" ry="7.1" opacity="0.7"/><ellipse cx="909" cy="362" rx="5.5" ry="4.6" opacity="0.8"/><ellipse cx="890" cy="329" rx="6.0" ry="4.7" opacity="0.7"/><ellipse cx="908" cy="355" rx="5.2" ry="5.0" opacity="0.9"/><ellipse cx="897" cy="329" rx="6.0" ry="4.6" opacity="1.0"/><ellipse cx="822" cy="339" rx="5.9" ry="5.5" opacity="0.6"/><ellipse cx="922" cy="360" rx="7.6" ry="5.8" opacity="0.6"/><ellipse cx="908" cy="439" rx="6.0" ry="4.8" opacity="0.5"/><ellipse cx="830" cy="368" rx="7.1" ry="6.2" opacity="0.6"/><ellipse cx="826" cy="388" rx="6.4" ry="5.1" opacity="1.0"/><ellipse cx="876" cy="326" rx="8.8" ry="8.7" opacity="0.7"/><ellipse cx="922" cy="336" rx="8.7" ry="6.5" opacity="0.9"/><ellipse cx="886" cy="434" rx="6.2" ry="5.6" opacity="1.0"/><ellipse cx="823" cy="346" rx="7.2" ry="5.3" opacity="0.5"/><ellipse cx="809" cy="364" rx="7.6" ry="6.4" opacity="0.8"/><ellipse cx="811" cy="336" rx="7.3" ry="5.4" opacity="0.5"/><ellipse cx="815" cy="399" rx="8.8" ry="7.5" opacity="0.5"/><ellipse cx="830" cy="402" rx="8.2" ry="6.2" opacity="0.7"/></g><path d="M815 386l0 -4 1 -2M884 379l-2 -1 -4 -2M836 388l4 0 2 4M866 422l-1 -4 -3 -4M873 380l-2 2 -0 4M870 412l-3 1 -2 0M917 396l-1 4 -5 2M888 423l1 -3 1 -3M816 392l-5 -2 -6 0M892 390l1 6 -1 4M832 349l2 5 2 4M887 416l-1 3 -2 0M921 370l3 0 2 2M826 336l4 1 4 -0M824 358l-3 -1 -2 -2M893 399l-4 3 -3 4M892 358l3 -4 5 -0M912 386l-3 4 -4 -0M890 393l-1 2 -1 1M860 412l-3 3 -4 -1M870 348l-0 -3 3 -5M902 351l4 -2 0 -1M838 391l-2 0 -1 -1M903 381l2 -5 2 -2M868 350l-0 2 1 5M890 334l-2 3 -2 3M903 349l-3 -4 -2 0M824 394l3 -4 4 -0M879 399l-1 4 1 2M851 431l1 4 1 0M868 392l-6 -1 -4 -0M907 341l0 -3 4 -2M897 421l2 1 1 0M911 347l1 5 5 3M849 386l1 -2 -0 -3M889 359l-2 1 -3 1M882 328l-5 -2 -2 1M896 343l-4 -0 -2 2M899 396l0 4 -2 1M891 342l-0 2 -1 4M889 392l-2 -2 -2 -0M919 337l2 -3 3 -0M915 408l0 -2 1 -1M878 370l2 3 3 2M879 340l-4 1 -4 -4M841 367l-3 1 -4 -4M830 418l3 -5 0 -1M887 348l-0 -2 -0 -1M876 353l5 2 2 4M849 371l-3 -1 -1 -1M828 360l-4 -0 -3 -2M858 422l-4 -1 -4 2M816 415l-3 -5 1 -3M887 370l-2 5 -0 5M811 338l2 -4 4 -2M828 381l-4 -0 -1 -3M888 399l5 3 5 2M907 360l-4 -3 -1 -2M832 350l-4 4 -2 4M920 345l-5 4 -3 4M897 434l3 2 0 3M831 411l1 4 -2 4M889 359l-4 -2 -5 0M909 428l-5 -0 -1 -4M857 361l5 2 -0 4M899 425l3 1 4 2M828 377l-1 2 -4 2M916 400l1 -4 -1 -2M832 383l1 -4 -1 -1M885 394l-3 -2 -4 1M838 375l-0 -2 1 -2M905 413l-1 -6 4 -3M831 416l2 2 0 3M896 352l2 1 -0 5M916 382l0 -4 -1 -2M872 384l4 1 1 0M816 367l5 -0 3 -2M917 380l5 2 4 4M901 432l0 -3 -2 -1M858 358l-3 1 -2 -0M862 338l-5 -3 -1 -3M905 418l-5 2 -1 2M905 363l2 4 1 1M849 363l-2 -2 1 -4M841 376l2 -1 1 -2M876 432l-4 -1 -3 4M823 349l-3 -3 -2 0M819 428l4 -1 5 2M914 329l2 5 -1 2M817 363l-5 -2 -2 2M830 343l-3 4 -0 2M915 330l-1 6 -0 2M886 366l-2 -2 -4 -2M891 396l-1 -3 -1 -1M844 389l2 2 3 1M856 411l2 5 1 2M918 371l-5 0 -3 3M813 364l-3 2 -0 5M830 402l4 3 2 2M858 387l4 0 2 -2M915 334l-1 2 -3 1M854 410l3 -5 2 -0M865 385l-1 -3 -3 -2M906 434l-1 -2 0 -3M900 427l-5 -1 -4 -5M917 367l-4 4 -3 -1M915 388l5 2 2 4" stroke="#2e9e2e" stroke-width="0.9" fill="none"/><path d="M879 385l-1 2M876 383l1 3M873 382l1 0M879 386l2 -3M879 374l3 -1M880 378l-1 1M879 382l-3 1M877 382l-2 0M875 383l1 2M875 390l3 -2M876 375l-1 3M877 383l2 3M876 385l-1 1M875 378l0 2M876 386l2 -2M874 382l1 2M875 381l-0 2M875 381l-2 1M880 383l-1 3M876 385l-2 2M868 384l-0 3M877 382l-0 2M879 381l-1 -2M877 382l2 0M874 384l1 -2M875 381l0 -2M881 383l-2 -1M874 379l-2 -0M880 387l-1 2M877 381l-3 2M875 382l-2 -1M873 383l-2 2M874 387l2 -1M871 375l1 2M861 379l3 1M870 374l1 1M877 382l-0 2M877 382l2 -1M884 377l2 -1M877 382l3 0M879 383l1 5M877 381l4 -3M892 383l-3 1M873 376l1 -7M886 375l1 -5M879 380l1 -3M865 395l-4 -2M878 383l4 -2M879 405l1 3M877 382l4 -3M890 373l1 3M879 383l0 -2M867 381l-3 -2M870 376l4 3M886 388l3 -6M874 386l0 -5M876 381l3 0M871 392l4 -3M875 385l-3 3M875 383l-1 -4" stroke="#3ec83e" stroke-width="1.4" fill="none" stroke-linecap="round"/><path d="M901 348l3 1M911 347l-1 2M904 350l-0 -2M904 346l-1 1M897 350l2 -1M902 350l-0 -2M902 341l-1 2M903 342l0 2M906 343l-2 0M905 348l1 -2M906 352l-2 0M900 345l2 2M902 347l-2 -0M904 352l2 1M897 353l0 2M904 347l1 1M901 356l-1 1M900 350l-1 -2M906 351l2 1M916 351l-2 -0M902 348l-3 -1M911 348l-1 -2M908 350l-3 -0M905 348l-2 -1M902 348l-2 2M902 346l-3 -1M905 347l3 -0M906 351l1 -1M899 333l-2 1M904 351l2 -0M899 359l2 -2M914 376l2 -5M908 348l-3 -1M933 363l-0 -7M907 346l5 -5M906 352l-1 4M906 348l-0 2M905 349l3 -5M904 349l-3 3M890 354l3 -0M904 350l-2 3M896 358l0 3M915 344l-3 0M906 348l-0 2M906 351l4 4" stroke="#3ec83e" stroke-width="1" fill="none" stroke-linecap="round"/></g><clipPath id="m12"><rect x="927.8" y="327.4" width="112.2" height="108.6"/></clipPath><g clip-path="url(#m12)"><rect x="927.8" y="327.4" width="112.2" height="108.6" fill="#03030c" /><g fill="#2020a0" filter="url(#blur1)"><ellipse cx="936" cy="421" rx="7.4" ry="5.7" opacity="0.9"/><ellipse cx="995" cy="419" rx="7.4" ry="6.8" opacity="0.9"/><ellipse cx="965" cy="335" rx="8.6" ry="6.3" opacity="0.8"/><ellipse cx="1042" cy="365" rx="6.0" ry="4.9" opacity="0.6"/><ellipse cx="1013" cy="359" rx="5.3" ry="4.7" opacity="0.6"/><ellipse cx="946" cy="326" rx="8.4" ry="6.8" opacity="0.8"/><ellipse cx="982" cy="424" rx="5.3" ry="4.7" opacity="0.9"/><ellipse cx="958" cy="374" rx="6.3" ry="5.1" opacity="1.0"/><ellipse cx="952" cy="409" rx="5.2" ry="4.8" opacity="0.5"/><ellipse cx="1018" cy="332" rx="5.9" ry="4.6" opacity="0.6"/><ellipse cx="1017" cy="382" rx="5.2" ry="3.9" opacity="0.7"/><ellipse cx="1009" cy="398" rx="6.9" ry="6.5" opacity="1.0"/><ellipse cx="1037" cy="438" rx="8.7" ry="8.6" opacity="0.8"/><ellipse cx="1007" cy="391" rx="6.6" ry="6.2" opacity="0.7"/><ellipse cx="1032" cy="375" rx="5.1" ry="4.9" opacity="0.7"/><ellipse cx="925" cy="418" rx="8.2" ry="7.9" opacity="0.7"/></g><ellipse cx="964" cy="376" rx="12" ry="10" fill="#ff30a0" opacity="0.8" filter="url(#blur2)"/><ellipse cx="1001" cy="401" rx="10" ry="8" fill="#ff30a0" opacity="0.8" filter="url(#blur2)"/><path d="M947 351l-4 -1 -2 -1M944 433l5 -0 1 0M953 387l3 -3 -1 -5M1000 374l0 -3 0 -1M936 428l-4 2 -2 2M940 425l-0 4 2 2M938 403l3 -2 2 -0M1035 340l-0 4 -1 2M994 340l3 1 4 2M980 429l1 -5 2 -2M999 402l-0 3 1 3M933 366l3 4 2 2M943 376l4 -1 1 1M1024 415l-2 2 -2 -0M957 397l-3 -0 -4 1M1009 376l3 -1 2 -2M928 382l-3 0 -3 1M993 387l-2 3 -1 0M1028 342l2 3 -1 1M933 410l-2 -0 -2 -3M1004 340l-2 -1 -3 -0M1039 429l2 4 -1 1M934 350l3 -0 4 0M975 364l-4 -2 -1 0M978 431l1 -2 4 -2M1021 331l3 0 2 4M961 431l1 -3 -1 -1M967 336l-4 -0 -1 -1M938 393l1 2 1 4M1014 367l1 2 0 4M937 390l3 1 2 4M993 421l-5 0 -1 1M982 435l-3 -3 -0 -4M1011 365l-2 4 0 3M954 398l-5 1 -1 1M929 330l-0 4 -1 1M1031 337l1 -3 -1 -2M1032 408l-3 -2 -0 -3M1025 417l-2 -3 0 -1M957 407l-2 -2 -4 1M940 412l-1 -2 -4 -2M978 404l-2 -2 -2 -3M1020 420l-1 2 -1 1M1019 382l2 3 3 0M958 388l2 -4 1 -2M984 409l4 -1 2 1M934 397l-2 2 -1 2M944 369l-3 -2 -3 -0M974 337l-2 -1 -0 -4M938 394l-4 1 -4 2M977 413l1 -2 -1 -1M944 409l-2 -1 -3 -1M1018 413l0 3 4 2M971 387l3 1 4 2M949 400l-2 -1 -3 -0M1033 428l2 -3 5 -2M993 414l2 0 4 -1M942 434l1 -2 -1 -1M1029 403l1 3 2 1M1008 408l-0 5 -1 1M991 360l2 -2 3 -1M1010 408l-3 -4 -2 -3M1030 386l2 2 1 2M1016 388l5 0 1 1M1029 405l2 -4 4 -2M1012 359l0 -3 1 -1M939 344l1 3 0 1M982 390l3 -1 2 1M948 353l3 4 -1 3M928 435l4 -3 4 -2M930 377l0 3 4 3M1019 420l1 -2 -1 -4M997 433l2 0 1 1M1031 426l-3 3 -1 4M952 372l-0 -5 -1 -1M931 380l0 3 -2 2M1036 421l-1 4 0 3M946 416l-4 -0 -1 -2M947 372l5 -2 3 -3M1021 373l-3 3 0 4M1014 433l-2 -2 0 -5M952 397l-1 2 2 4M934 339l-0 4 -0 2M1023 373l2 4 3 2M970 418l-2 4 -4 2M949 366l2 1 4 -1M969 349l-1 3 -1 1M989 381l-4 -3 -0 -2M982 385l-3 -2 -3 -3M1001 376l3 -2 0 -3M1026 406l0 3 0 2M934 375l-0 -4 1 -2M1015 340l1 -4 -2 -3M974 399l-3 -3 -2 -3M1037 330l-1 2 -4 1M1024 390l2 3 4 2M968 393l4 0 2 -1M1014 346l1 -4 3 -1M1032 370l1 3 1 1M998 409l-3 -3 -1 -4M985 378l3 -3 1 -1M935 353l1 4 2 3M931 348l-3 2 -2 -1M1038 335l3 2 3 2M960 335l-1 3 2 2M997 374l2 -2 2 0M1014 417l2 2 2 0M982 418l-3 -3 0 -1M983 376l1 -3 3 -1M1010 351l1 -3 2 -2M991 374l-3 -1 -2 -1M935 363l-2 1 -5 -0M939 368l2 -1 2 -2M952 394l-4 1 -1 3M1000 345l-2 3 -4 3M939 419l-3 -1 -3 -2M963 413l3 1 3 1M991 352l1 -3 3 -1M1009 337l-0 -4 -2 -3M932 410l-1 4 3 3M948 342l4 3 1 -0M936 424l-4 0 -4 2" stroke="#c0a030" stroke-width="0.9" fill="none"/><path d="M965 379l-2 0M963 380l3 -1M963 384l2 -2M962 376l1 -2M960 379l1 -2M954 368l-1 1M962 379l-2 -2M947 356l0 2M958 379l-1 -3M952 376l-0 -3M978 363l-1 -2M950 371l-0 -3M966 383l2 -1M961 377l-1 3M961 377l-3 1M962 375l2 2M963 380l2 1M957 378l-2 3M959 387l-0 -2M949 357l2 2M961 375l-2 -1M968 366l2 1M949 402l1 2M959 382l-1 -2M959 371l1 2M947 386l3 -2M962 384l-3 -1M960 378l-2 0M959 374l1 3M963 362l2 -3M964 381l-2 -0M963 377l1 1M959 376l-2 -1M962 402l0 -2M954 380l3 2M961 380l3 0M970 357l-2 -2M962 376l2 2M965 373l-2 2M967 385l-3 -1M968 375l-0 3M961 373l2 -0M964 374l-3 -1M957 383l1 2M961 359l-2 -1M956 376l-0 3M955 383l1 -2M960 383l2 -0M961 376l-2 1M954 371l-1 3M961 376l1 -2M951 396l0 -3M961 374l2 -0M962 378l-2 3M966 379l-1 -2M963 376l3 1M961 377l-0 2M964 378l-1 -1M968 373l-1 2M954 375l0 -3M954 366l2 -3M972 384l-3 -1M956 376l-0 3M973 376l2 -1M965 381l-2 3M958 359l1 2M962 377l1 2M972 372l-1 -1M957 374l-2 2M967 379l2 2M972 360l1 -1M954 382l3 -2M971 379l-1 2M959 372l0 2M937 375l-2 -1M949 372l1 3M953 385l-1 2M964 368l-2 0M958 379l-1 3M955 372l1 -3M965 375l-1 2M955 375l-3 0M957 378l0 3M964 371l2 0M960 375l-2 -2M957 383l-3 -0M964 377l-2 -1M960 373l0 -3M964 377l1 -1M967 386l-1 -2M964 381l2 0M965 367l3 -1M954 377l3 1M959 383l1 -1M965 371l-3 0M959 375l0 -2M964 373l0 2M963 371l0 2M962 376l1 3M973 368l1 1M972 378l3 2M961 370l-2 -0M960 382l1 3M955 380l-2 1M966 377l0 2M950 377l3 0M958 375l-1 -1M960 383l3 -1M962 383l-0 2M961 376l-1 -1M961 376l1 1M960 372l0 3M962 371l2 1M958 387l-1 -2M965 381l3 -2M961 385l2 -1M961 359l-3 1M954 367l-3 1M948 372l-0 -3M960 375l-2 1M975 387l-2 1M959 375l-3 1M957 371l2 0M950 357l3 1M944 367l-1 -3M960 378l-2 1M954 376l-2 -2M960 364l1 -2M973 368l-1 -1M962 382l2 -0M961 375l2 2M946 380l-2 -0M961 365l-2 -1M961 378l-2 2M965 368l1 -3M969 377l1 2M958 374l1 -3M960 379l-1 3M952 369l-2 -1M956 365l-1 1M963 378l2 -2M966 380l2 2M960 377l1 -3M960 376l2 -0M949 370l2 -1M961 375l-2 -0M963 370l-2 -2M964 381l2 -1M960 367l-1 -3M947 378l-2 -0M961 362l-2 1M958 374l-3 3M980 331l-4 -2M956 373l3 -6M977 390l-1 2M958 373l3 -3M940 414l-4 -2M958 386l-3 4M936 365l-5 -3M996 337l2 3M959 372l-2 -0M978 369l2 -6M964 353l-6 2M970 375l0 -3M993 364l-5 0M960 357l3 3M961 388l0 3M960 374l2 3M929 326l-0 -6M984 375l-6 2M952 373l-2 -1M983 396l-3 4M965 387l-2 1M964 361l3 -3M953 403l-5 2M961 376l-1 6M978 374l-2 1M981 370l-3 -0M972 361l4 -5M940 367l-1 3M954 383l-6 3M964 383l3 1M963 377l-2 4M963 385l1 1M961 376l-3 2M975 370l4 -4M962 373l3 2M947 381l4 -1M956 389l-6 1M974 359l2 -1M968 369l-1 6M954 351l3 -1M935 384l-3 2M939 384l0 -7M953 380l1 -6M1000 355l-2 -2M929 371l5 -4M977 392l-4 2M959 386l4 2M968 384l1 -7M931 367l-6 -1M961 376l3 3M999 384l7 -1M960 373l-4 -3M937 382l0 4M974 360l2 6M925 356l3 -4M931 401l-3 3M1023 322l-4 -3M968 378l-4 -2M984 380l-6 1M943 370l1 -2M987 382l0 2M967 353l-1 4M955 395l0 5M961 377l-3 5M977 382l-5 -4M931 394l-1 -2M971 370l-0 2M967 381l7 -1M953 389l2 1M984 360l-1 -1M929 383l-5 4M951 382l1 0M966 360l2 -2" stroke="#ee2233" stroke-width="1.7" fill="none" stroke-linecap="round"/><path d="M1006 397l-0 -2M996 399l-1 1M1014 385l1 -1M1012 403l1 -2M998 404l-3 1M995 388l3 -1M993 395l2 -2M1022 397l-2 1M996 402l1 2M999 400l-1 -2M1004 398l2 1M990 397l-0 -3M1001 393l-2 -0M1002 385l2 3M997 409l-1 2M1002 391l-2 -2M1004 413l1 -1M994 399l-1 3M999 398l-3 -0M1002 395l2 1M1001 398l-1 -3M989 386l0 -2M987 392l2 2M999 405l-2 1M992 396l-0 3M992 407l-0 2M1013 382l-1 1M1006 393l0 -2M998 397l3 -0M997 400l3 -1M1009 404l-2 0M1006 407l3 1M1001 394l-2 -1M987 400l-3 -0M1002 407l-2 -0M1013 396l-2 2M1004 382l-3 0M1005 402l-0 3M993 394l-0 2M1001 388l-2 -1M1001 385l1 2M1006 395l1 -2M997 399l-1 2M1000 399l2 -1M1001 399l0 2M999 400l-1 2M997 393l3 -1M998 402l-2 -1M1002 399l1 2M1001 398l-1 2M998 399l1 -3M996 401l-3 -1M999 398l1 2M996 390l-0 3M994 390l-2 -2M994 391l1 2M1002 395l2 -0M1001 398l-1 2M1008 405l-0 -2M990 405l-1 2M1005 403l1 3M1004 395l2 0M1000 398l2 0M1008 397l-3 1M997 393l1 -1M998 397l1 1M1003 394l1 2M1000 397l3 -0M1000 386l3 -2M1006 387l0 -2M999 405l-1 2M1005 409l-1 -1M1007 396l2 -3M1003 400l-2 -0M1002 404l-2 1M1003 398l-1 2M1004 382l3 1M1015 389l-0 3M1003 395l-3 -2M1000 399l2 -1M997 397l2 -3M993 408l-3 2M1000 391l-2 -0M1014 400l1 -3M996 404l-2 -1M1011 387l0 -2M993 379l0 -2M1001 398l-1 -2M994 398l1 -1M1005 395l0 -2M1001 398l2 1M993 402l-2 -1M999 397l2 -0M1003 407l-2 -2M1001 398l3 2M1004 411l1 -2M1002 391l3 0M997 397l2 -1M1000 398l2 -1M1002 399l2 -2M1010 398l-2 1M1002 420l1 2M1019 405l1 3M981 401l-3 -1M1004 401l-1 2M992 392l-0 2M1003 400l2 -1M1012 393l3 -1M1009 404l-2 -2M1002 399l-2 3M999 392l3 -2M1002 398l1 2M1019 411l2 -0M1001 399l1 3M988 402l3 1M1021 400l-0 2M1001 399l1 2M1015 395l1 2M1004 389l-1 -3M1008 411l2 -0M1007 380l2 0M988 406l-1 1M1013 404l3 -1M1001 399l0 2M1002 394l3 -1M1002 398l-2 2M1005 399l-2 -0M1011 400l2 1M998 395l-2 2M1000 396l-2 -0M1008 398l-2 2M1006 420l-1 1M995 405l-0 2M989 416l-1 1M995 413l3 0M1003 388l-3 1M1000 399l0 3M991 391l-0 2M980 393l1 -2M1002 395l-3 -1M995 400l-4 0M1005 391l3 2M1014 397l1 2M993 400l2 -5M1020 413l-2 0M975 386l-3 -6M1011 368l-5 3M996 391l2 0M1018 393l3 2M1042 395l-3 1M1002 401l5 2M997 389l3 -0M1021 410l-1 5M996 404l4 -1M1003 397l-1 -2M1014 414l4 -4M979 388l2 -4M1032 373l-1 -1M1001 401l5 4M999 384l-3 -3M981 434l-4 3M990 412l2 5M1025 435l6 -0M987 403l-0 -2M990 401l1 3M1014 407l-0 -6M999 395l-3 -3M1018 402l-1 4M1006 378l-0 -5M999 388l-0 -6M1006 403l1 2M987 410l-3 5M985 393l0 -3M982 414l1 -5M986 406l3 -2M1031 397l-2 -1M989 457l5 5M1022 395l2 -0M1001 398l1 -1M1003 378l-6 -3M1001 398l-2 2M985 391l4 1M1022 378l3 -6M1052 419l-2 -5M1004 403l-1 -2M990 383l4 0M994 385l1 3M1040 397l1 4M1000 407l6 0M997 399l-6 -2M997 407l2 1M999 399l-1 2M1000 399l-1 2M1006 405l-5 -3M988 389l-6 -3M994 392l-2 -3M1006 398l-3 5M994 410l-3 3M1001 397l3 -2M982 380l5 -5M1014 407l-1 -3M981 415l1 7M998 386l-5 -0M1001 393l2 -6M1039 367l5 -2M999 399l2 -2M1008 397l1 2M998 427l6 -1M1008 389l-2 3M1003 391l-5 2" stroke="#ee2233" stroke-width="1.7" fill="none" stroke-linecap="round"/><path d="M1015 354l0 2M1024 350l2 0M1029 348l1 -1M1037 347l-1 1M1029 346l-1 -1M1027 351l-1 1M1027 345l-3 -0M1035 352l-2 2M1023 352l-3 2M1030 352l2 -1M1022 357l2 2M1029 353l0 3M1028 349l-2 -1M1030 351l3 1M1032 345l2 0M1027 351l-0 -2M1029 360l3 0M1029 347l3 -0M1018 338l2 0M1022 349l2 0M1028 349l-1 -2M1032 352l1 2M1028 357l-1 -2M1033 350l0 -1M1029 349l-3 -0M1028 352l2 -0M1028 349l-1 -3M1030 354l2 -1M1031 353l3 1M1033 349l2 2M1033 345l2 -2M1026 353l2 0M1030 348l-1 2M1030 346l1 -3M1024 354l-3 -1M1028 348l2 2M1023 351l-2 -2M1027 355l0 2M1026 346l-3 -1M1029 354l1 3M1016 354l2 -1M1027 352l-1 -2M1023 341l2 4M1022 350l0 2M1031 375l-0 5M1010 334l4 1M1029 351l-4 -1M1024 351l2 -5M1033 347l2 4M1035 362l-3 1M1027 341l-2 3M1029 349l-2 -3M1026 338l-0 5M1042 343l-1 -1M1027 350l-1 3M1020 348l-4 4M1019 351l-2 -1M1036 357l-6 4M1025 339l6 1M1030 342l-1 -2" stroke="#d8c838" stroke-width="1.1" fill="none" stroke-linecap="round"/><path d="M996 381l-3 -1M990 382l3 0M995 387l2 0M993 387l-2 1M994 380l0 2M1004 379l1 2M999 384l1 2M995 382l-1 3M992 381l3 1M998 384l3 -1M996 386l1 1M1000 384l-2 2M993 376l-2 1M997 384l2 2M994 382l3 -1M996 383l3 1M994 386l-2 -1M998 379l-3 1M996 378l1 2M988 377l-3 -0M992 385l-1 -2M996 381l1 1M997 380l-2 2M992 382l-1 1M999 377l1 3M996 379l2 -1M995 380l-2 -1M986 385l2 2M994 381l1 -3M995 387l-2 -2M998 383l1 -2M985 390l2 0M992 379l-3 1M994 382l1 -2M994 387l-1 3M995 382l-3 -1M992 377l3 0M994 383l-3 -1M995 387l-2 2M995 380l-0 2M1002 385l4 5M994 389l5 -3M989 387l-3 1M1010 375l-2 3M992 384l2 -4M983 413l-3 -2M1004 383l1 5M990 389l1 4M1017 373l3 1M1006 383l-2 -1M1002 389l-3 -2M990 378l-2 -2M983 374l-1 -2M996 382l-1 5M992 383l-1 3M996 383l3 1M995 384l2 -6M987 395l7 -2M1000 386l-5 4M999 371l-2 4" stroke="#d8c838" stroke-width="1.3" fill="none" stroke-linecap="round"/></g><clipPath id="m13"><rect x="575.8" y="439.8" width="111.2" height="108.6"/></clipPath><g clip-path="url(#m13)"><rect x="575.8" y="439.8" width="111.2" height="108.6" fill="#03030c" /><g fill="#2a2ad0" filter="url(#blur1)"><ellipse cx="619" cy="447" rx="7.3" ry="5.4" opacity="0.7"/><ellipse cx="612" cy="517" rx="5.6" ry="5.6" opacity="0.5"/><ellipse cx="581" cy="514" rx="8.9" ry="8.6" opacity="0.9"/><ellipse cx="591" cy="460" rx="6.2" ry="4.8" opacity="0.5"/><ellipse cx="608" cy="480" rx="6.3" ry="5.9" opacity="0.9"/><ellipse cx="589" cy="497" rx="7.9" ry="5.6" opacity="1.0"/><ellipse cx="639" cy="488" rx="6.6" ry="6.4" opacity="0.7"/><ellipse cx="624" cy="546" rx="5.7" ry="4.8" opacity="1.0"/><ellipse cx="671" cy="526" rx="8.4" ry="6.3" opacity="0.8"/><ellipse cx="632" cy="551" rx="8.9" ry="7.3" opacity="0.9"/><ellipse cx="615" cy="483" rx="7.9" ry="7.6" opacity="0.9"/><ellipse cx="595" cy="444" rx="8.8" ry="7.6" opacity="0.8"/><ellipse cx="655" cy="545" rx="7.9" ry="7.0" opacity="0.7"/><ellipse cx="654" cy="521" rx="7.3" ry="7.2" opacity="0.7"/><ellipse cx="678" cy="551" rx="8.0" ry="6.5" opacity="0.7"/><ellipse cx="616" cy="529" rx="8.1" ry="6.1" opacity="0.7"/><ellipse cx="662" cy="455" rx="8.0" ry="6.9" opacity="0.5"/><ellipse cx="615" cy="540" rx="5.4" ry="4.6" opacity="1.0"/><ellipse cx="607" cy="527" rx="6.6" ry="6.5" opacity="1.0"/><ellipse cx="660" cy="460" rx="8.7" ry="7.0" opacity="0.9"/><ellipse cx="651" cy="507" rx="6.6" ry="6.1" opacity="1.0"/><ellipse cx="675" cy="532" rx="6.0" ry="4.7" opacity="0.9"/><ellipse cx="609" cy="467" rx="8.9" ry="8.7" fill="#2020a8"/><ellipse cx="592" cy="510" rx="7.8" ry="10.9" fill="#2424b8"/><ellipse cx="654" cy="516" rx="8.9" ry="7.6" fill="#2020a8"/></g><ellipse cx="626" cy="494" rx="12" ry="14" fill="#f030c0" opacity="1" filter="url(#blur1)"/></g><clipPath id="m14"><rect x="693.4" y="439.8" width="111.3" height="108.6"/></clipPath><g clip-path="url(#m14)"><rect x="693.4" y="439.8" width="111.3" height="108.6" fill="#03030c" /><g fill="#2020a0" filter="url(#blur1)"><ellipse cx="741" cy="520" rx="7.1" ry="6.1" opacity="0.9"/><ellipse cx="717" cy="549" rx="7.1" ry="5.2" opacity="0.9"/><ellipse cx="717" cy="548" rx="7.7" ry="5.9" opacity="1.0"/><ellipse cx="728" cy="546" rx="5.0" ry="4.0" opacity="0.8"/><ellipse cx="723" cy="475" rx="5.4" ry="4.8" opacity="0.9"/><ellipse cx="726" cy="514" rx="7.1" ry="6.5" opacity="1.0"/><ellipse cx="753" cy="479" rx="6.9" ry="6.3" opacity="1.0"/><ellipse cx="806" cy="472" rx="5.4" ry="5.3" opacity="0.6"/><ellipse cx="770" cy="454" rx="7.0" ry="6.4" opacity="1.0"/><ellipse cx="733" cy="485" rx="8.2" ry="7.0" opacity="0.5"/><ellipse cx="730" cy="464" rx="8.0" ry="7.2" opacity="0.5"/><ellipse cx="749" cy="525" rx="8.4" ry="7.7" opacity="0.8"/><ellipse cx="747" cy="546" rx="6.9" ry="5.3" opacity="0.6"/><ellipse cx="734" cy="483" rx="6.1" ry="5.0" opacity="0.9"/><ellipse cx="708" cy="452" rx="5.9" ry="4.4" opacity="1.0"/><ellipse cx="788" cy="531" rx="5.0" ry="4.5" opacity="0.9"/></g><ellipse cx="743" cy="492" rx="15" ry="12" fill="#ff2244" opacity="0.8" filter="url(#blur2)"/><path d="M715 469l-4 -0 -4 1M781 523l4 -4 0 -4M720 499l-4 4 -2 3M726 495l-2 -1 0 -4M719 530l5 1 6 0M701 537l-3 -4 -2 -2M760 471l3 -2 5 0M716 492l2 1 5 -3M745 482l-1 -3 -1 -1M709 471l0 4 3 5M752 534l-4 -2 0 -1M799 535l2 1 2 0M766 476l-1 -4 -1 -2M766 460l-3 0 -4 -1M746 524l-0 -2 0 -3M759 491l3 -4 1 -0M737 464l4 -1 1 -4M695 485l1 2 0 6M722 466l6 -0 4 3M715 446l2 4 4 -1M698 547l-0 -5 -1 -5M793 511l-4 1 -1 -1M765 453l-2 -0 -2 -3M759 509l-3 1 -2 -1M747 492l1 6 -3 4M724 518l3 -3 2 1M784 476l-1 -3 -4 -1M779 468l-0 -3 2 -1M760 465l-2 -2 0 -2M763 506l4 -4 5 1M707 453l-1 3 1 1M714 483l-3 5 -4 0M731 546l-6 2 -2 2M776 485l-5 -3 -0 -3M764 523l1 5 -1 3M798 450l1 -2 1 -2M732 473l4 4 3 3M696 528l1 2 -1 1M721 527l-1 -3 1 -1M705 498l-4 -3 -6 2M797 441l6 1 4 -0M732 516l-3 1 -3 4M718 542l5 -2 2 -4M780 493l2 1 1 0M802 484l5 -3 1 -2M726 456l2 -5 4 -4M748 539l5 -1 3 -3M697 464l3 -1 2 -4M772 525l1 5 -2 4M743 533l4 -2 5 2M710 475l4 -1 5 0M702 467l-0 -3 -4 -2M753 453l0 4 -1 1M699 488l2 -1 1 1M779 531l3 0 5 2M791 497l-5 2 -3 -1M745 479l-2 2 -5 2M710 531l3 1 1 0M737 516l-4 -3 -3 -4M797 477l2 -2 -1 -6M797 547l1 3 2 4M717 487l2 3 6 -1M719 451l-3 0 -1 -2M751 528l6 -0 4 -1M769 501l1 -3 2 -2M761 442l5 3 2 1M789 445l3 -0 2 -4M757 498l4 -4 1 -3M769 536l0 4 -1 4M714 538l-1 2 -1 4M709 547l5 3 0 2M780 514l6 0 4 0M702 481l-4 2 -0 1M714 538l-5 -3 -3 2M758 541l-4 -3 -6 -1M727 538l-2 -1 -3 -4M767 541l3 2 3 -1M778 503l-2 -3 -2 1M706 476l2 -5 -1 -5M763 517l3 3 -0 2M708 460l-0 4 0 4M797 478l2 3 -0 4M707 470l2 -0 5 1M721 447l3 -1 5 -1M704 539l-3 5 -5 -0M723 530l2 -2 -1 -2M769 477l-2 5 1 2M754 494l3 1 6 2M782 447l2 -4 -0 -5M747 532l2 -3 5 -1M701 547l-2 -5 1 -3M786 496l-0 2 -4 4M727 500l3 3 1 1M747 447l-4 -0 -3 -4M775 453l-2 -1 -6 -1M760 451l0 3 4 2M777 451l-2 -1 -0 -3M764 548l-2 1 -4 4M761 466l-3 -1 -2 -0M721 527l-3 -1 -2 2M760 455l-3 2 -3 -1M804 463l-3 -4 -5 -1M774 464l-2 3 -3 1M736 456l2 -1 5 -3M720 520l-3 4 -1 4M765 529l-1 2 1 4M722 548l0 3 4 2" stroke="#c02030" stroke-width="1" fill="none"/><path d="M747 486l-2 -3M741 487l-1 -2M754 489l1 3M714 483l1 3M748 480l1 1M743 490l2 -0M754 478l2 1M740 473l1 -2M761 485l0 3M741 487l-1 1M764 507l-2 3M733 503l2 -1M743 489l-1 3M774 486l1 3M741 488l-3 -2M741 487l-1 1M728 473l-0 2M742 489l-0 3M734 476l3 1M735 488l3 -1M739 487l2 -0M748 503l-1 -2M747 499l-2 -1M738 494l-1 2M750 485l-3 -2M730 490l2 -2M731 500l-1 -1M741 489l-1 -1M742 492l1 2M755 488l-2 -1M726 490l-3 -1M751 484l-3 2M744 483l-1 1M732 477l3 -0M733 473l-0 1M741 502l-2 1M757 496l-2 1M744 488l-1 3M750 498l-3 -0M743 490l1 2M756 512l2 -1M749 485l0 -2M759 489l2 1M744 487l-1 1M744 491l2 -0M751 496l2 0M742 490l-3 -1M748 492l-1 2M751 505l2 -2M738 487l2 -0M754 488l1 -2M742 491l-3 1M743 484l-2 2M756 498l-1 2M749 489l3 0M740 492l-1 2M743 490l0 -3M741 488l0 -2M740 483l3 -1M739 491l-2 2M736 504l-3 -0M742 476l-2 -2M740 489l2 3M746 487l-1 2M746 481l-3 2M732 495l-2 -0M739 502l3 2M742 489l1 -2M748 487l0 -3M745 483l-3 0M749 481l2 2M767 489l-3 2M740 482l-1 3M737 501l2 1M743 479l-2 -2M774 471l-2 -2M741 486l1 -2M743 473l2 -3M742 490l-1 2M742 502l-1 2M758 485l-0 2M750 496l1 3M751 485l-1 3M727 472l-1 -2M752 466l2 -1M740 464l2 -0M766 496l1 2M719 477l-2 -1M758 497l2 -1M739 493l-2 -2M751 483l2 -2M738 481l2 1M745 484l-2 1M776 492l-1 -2M742 502l1 2M747 476l-2 2M752 487l-1 -2M721 480l-1 2M732 488l-3 -0M736 488l2 2M753 488l-3 -0M737 491l-1 -2M724 485l-0 2M741 501l3 1M737 474l-2 1M754 493l-3 0M744 490l1 -2M729 483l0 -2M721 514l-2 -2M744 486l0 2M751 474l3 -1M732 487l-3 -1M745 489l2 0M754 478l3 -2M739 488l-1 -2M745 497l-2 -1M747 492l1 2M747 504l2 0M734 470l-0 1M736 476l0 -2M737 484l2 -1M739 483l-2 1M737 486l2 -2M744 489l-3 -1M742 487l-1 2M737 483l-2 1M745 469l-2 -2M727 492l-2 1M735 453l3 -1M744 489l1 -1M752 482l-1 2M744 489l-3 1M740 497l-2 -0M743 489l1 -3M743 493l1 3M740 499l-2 1M751 514l1 1M757 500l-3 0M739 485l2 -1M746 486l-1 2M742 497l-1 -2M748 486l1 2M752 488l-0 2M738 488l-1 2M745 487l1 -2M739 489l-3 2M742 485l1 -2M749 487l-3 -2M736 494l3 -1M729 495l3 -0M749 495l-3 -2M744 487l-1 2M754 496l-3 0M775 475l-1 -2M745 485l3 -0M744 479l-2 0M723 491l-3 -1M757 482l-2 1M758 485l1 -3M744 490l3 -2M746 484l-1 1M743 488l-1 2M730 488l-2 -1M732 474l1 -3M756 491l-3 -0M753 505l-1 2M740 485l1 -2M740 489l2 -1M743 488l-1 -1M741 506l1 2M744 488l-1 1M736 484l2 2M759 488l-3 -0M741 490l-1 -2M744 495l-3 1M739 508l-2 -1M749 492l0 -2M744 487l-3 2M749 478l-0 3M738 507l3 -1M731 486l1 -1M764 491l-2 0M732 499l-1 2M741 503l3 -2M757 484l-1 -3M742 494l-1 1M754 491l2 -2M741 490l1 2M739 510l2 -1M743 491l-1 2M742 488l-1 -2M749 489l-2 -0M729 475l-2 -0M731 487l-0 -2M743 497l0 -2M741 496l-1 -2M752 490l-3 1M746 491l-3 -0M731 491l-2 -0M732 499l2 1M724 499l2 -0M740 492l-2 -2M745 485l2 2M745 505l1 -1M739 488l3 -1M755 479l-2 -1M744 494l-1 -1M741 478l-0 -3M743 491l2 -3M748 485l1 -3M736 482l3 -2M752 488l3 0M743 502l-0 -2M745 488l3 -0M745 498l-1 3M752 499l-1 -2M767 527l-2 -0M735 486l3 0M759 475l-0 2M736 493l2 -1M771 488l1 2M756 497l-2 1M747 469l-1 -3M737 493l-1 -2M739 494l-1 -3M740 492l-3 -0M732 479l-0 2M728 483l3 2M732 494l-0 3M758 506l-3 0M758 486l-3 -1M738 490l2 -3M741 495l-1 2M738 487l-3 -0M747 498l2 1M744 470l-3 -2M723 488l0 -2M735 494l2 -0M730 501l-0 3M743 482l3 1M744 487l-3 -1M745 496l1 -3M750 477l-3 -0M738 493l2 3M758 479l2 2M766 481l2 -2M744 489l1 -2M749 494l2 -1M769 494l3 0M738 491l2 -1M749 484l-0 2M755 499l1 -0M741 491l-1 3M745 492l2 1M739 491l2 1M735 494l-0 2M742 469l2 1M738 493l-3 -1M739 467l-1 2M742 490l-1 -2M751 506l-0 -6M738 501l-5 -1M699 464l-2 3M785 449l-3 -6M777 514l4 2M692 525l4 2M744 488l1 1M744 486l6 -0M782 539l-2 4M748 457l-2 -0M740 486l2 4M769 400l5 1M681 482l-2 2M726 483l-1 -2M719 503l5 4M764 505l3 6M745 540l-2 2M710 435l-3 -1M739 495l1 -4M742 495l-3 -3M746 488l-2 1M760 488l-2 4M759 499l-1 2M738 470l-6 -2M742 492l-3 2M721 483l-3 -1M746 493l0 2M755 491l-6 -4M714 500l-2 -0M719 467l-6 -2M748 491l-4 2M740 495l2 -6M744 453l4 -0M748 494l3 2M760 479l1 -5M705 509l-2 1M765 456l3 5M727 457l-0 -6M776 503l-1 -2M748 501l4 3M720 531l4 -1M759 476l-4 -1M717 507l2 1M747 490l4 -0M745 477l-6 1M731 465l1 -5M794 499l2 -3M703 483l4 5M742 435l2 1M751 504l3 4M744 489l-4 2M732 474l3 -2M736 495l-0 1M732 441l-5 -3M735 506l-5 1M753 484l-1 4M733 481l3 -6M736 476l-1 6M754 518l-2 -7M750 493l3 -3M812 458l3 -2M772 466l0 3M741 467l-7 1M771 471l-2 6M785 500l6 -0M736 478l-2 6M741 487l2 4M723 538l2 -0M731 495l2 4M771 503l2 3M740 400l-2 0M773 478l-1 2M735 456l1 1M742 468l-3 2M744 488l5 3M722 444l1 -5M733 474l-6 -1M740 465l-3 2M735 499l2 1M747 482l-4 6M731 489l4 -6M764 477l-1 4M758 499l0 -3M757 562l-1 -3M815 485l4 2M739 494l1 1M718 489l-0 4M727 471l-2 -5M731 490l-2 -1M747 477l-0 5M679 521l4 1M742 477l3 -1M817 492l-6 2M745 483l-1 -1M739 503l-2 0M743 479l4 -6M788 471l-3 -2M741 490l2 1M719 499l-4 -2M744 483l1 -1M718 506l-3 3M755 490l4 0M750 507l4 0M767 469l5 -0M722 489l-1 2M755 441l-5 -2M733 475l-1 3M744 488l-7 1M739 491l-1 -5M743 478l2 3M736 486l5 1M745 473l-6 2M745 522l-3 4M742 507l-1 -1M743 492l6 4M740 490l-0 6M753 496l-2 2M758 499l-6 0M704 464l3 -0M753 533l-5 -2M758 456l2 -2M752 487l-4 1M763 483l-1 -3M715 499l-5 -0M776 496l5 1M707 533l-3 2M701 538l2 -2M747 485l0 -3M705 432l5 1M750 499l2 -0" stroke="#ee2233" stroke-width="1.7" fill="none" stroke-linecap="round"/><path d="M714 521l-2 1M705 518l-3 -0M715 518l1 2M704 530l-2 0M708 516l0 2M711 520l-1 3M708 526l2 -0M707 521l1 -3M716 529l-0 2M708 521l0 3M711 521l-3 -0M692 523l2 1M710 521l2 2M712 519l1 -0M712 522l1 2M712 520l-0 3M709 515l-3 -0M709 521l1 -1M702 519l-0 -2M717 523l-3 -1M712 523l1 -3M712 518l0 -2M717 517l-3 0M713 517l2 -1M712 502l3 -1M711 520l2 3M708 524l-2 -1M714 520l3 -1M710 521l1 2M708 521l-2 -1M709 522l2 2M710 521l-1 -1M712 521l-2 -2M704 517l-2 -1M711 521l-3 -2M711 520l2 0M713 519l-0 2M710 522l-2 2M718 521l2 2M699 516l2 -2M710 521l-1 2M711 528l-2 -3M711 523l3 1M710 521l-1 -1M706 526l1 1M713 522l-1 -2M711 522l2 1M711 518l0 2M711 515l2 2M709 517l-2 1M710 521l0 -2M709 526l-2 -0M710 520l1 2M710 523l1 1M722 517l2 2M710 521l3 -1M711 518l-2 1M705 521l-1 3M704 527l-2 3M708 514l2 0M712 534l-1 -5M696 517l1 4M711 513l-2 2M712 527l6 3M702 520l-6 0M710 520l1 1M720 547l4 -0M696 530l-0 3M705 523l-6 2M705 518l5 -3M733 522l-5 -2M734 509l-2 -5M712 516l-2 2M719 521l0 3M704 520l-1 2M714 538l3 2M717 529l2 -2M701 526l1 -3M706 524l-1 4M706 520l2 3M701 536l-3 -2M724 534l1 -1M711 532l3 -4M705 546l0 5M713 515l2 -3M719 559l6 2M716 513l-2 2M716 533l-3 2M693 517l-2 -2M706 507l-3 2" stroke="#ee2233" stroke-width="1.6" fill="none" stroke-linecap="round"/><path d="M770 460l2 -2M771 459l1 2M771 464l2 -1M767 455l1 1M785 462l1 3M770 463l-1 -3M772 463l0 3M774 466l2 0M773 460l-2 -2M772 456l1 -1M775 463l0 -2M773 462l2 -2M768 464l-1 3M766 469l2 2M771 461l-0 2M772 464l2 -1M770 465l1 1M772 462l1 2M775 466l2 2M766 464l-1 2M768 459l1 -3M774 466l2 -2M772 462l2 1M771 463l1 2M771 462l3 1M771 457l2 -1M776 459l-1 3M776 465l-2 -3M779 458l-3 -1M773 452l2 -1M767 464l3 1M764 457l2 0M775 474l1 -1M771 461l3 2M767 462l2 1M767 463l-2 1M775 464l-3 -0M772 462l2 -2M774 461l-3 1M771 462l-1 2M767 455l5 -3M775 469l6 -0M747 446l1 -6M767 459l-3 5M770 464l6 3M767 456l-2 1M779 461l2 -2M763 459l-3 -2M766 471l3 -4M788 473l-3 -1M775 465l2 -5M787 454l-6 1M769 481l2 -4M763 458l-1 -4M755 454l-1 2M749 462l5 -0M771 459l7 -0M776 459l-1 -2M771 461l2 4M771 459l3 2" stroke="#ee2233" stroke-width="1.3" fill="none" stroke-linecap="round"/></g><clipPath id="m15"><rect x="810.6" y="439.8" width="110.4" height="108.6"/></clipPath><g clip-path="url(#m15)"><rect x="810.6" y="439.8" width="110.4" height="108.6" fill="#03030c" /><g fill="#2222b0" filter="url(#blur1)"><ellipse cx="809" cy="472" rx="7.9" ry="7.6" opacity="0.9"/><ellipse cx="921" cy="458" rx="6.0" ry="5.2" opacity="0.8"/><ellipse cx="830" cy="522" rx="6.1" ry="5.5" opacity="0.8"/><ellipse cx="843" cy="485" rx="7.7" ry="6.7" opacity="0.6"/><ellipse cx="917" cy="476" rx="6.3" ry="4.6" opacity="1.0"/><ellipse cx="889" cy="513" rx="7.0" ry="5.3" opacity="0.5"/><ellipse cx="873" cy="530" rx="9.0" ry="6.5" opacity="0.5"/><ellipse cx="816" cy="454" rx="8.0" ry="7.2" opacity="0.9"/><ellipse cx="853" cy="456" rx="8.5" ry="8.5" opacity="0.5"/><ellipse cx="814" cy="449" rx="6.3" ry="5.6" opacity="0.8"/><ellipse cx="833" cy="457" rx="7.1" ry="7.1" opacity="1.0"/><ellipse cx="814" cy="450" rx="5.1" ry="4.4" opacity="0.7"/><ellipse cx="894" cy="475" rx="8.4" ry="7.8" opacity="0.6"/><ellipse cx="917" cy="506" rx="5.0" ry="4.6" opacity="0.8"/><ellipse cx="891" cy="503" rx="6.6" ry="6.1" opacity="0.8"/><ellipse cx="812" cy="486" rx="6.8" ry="5.4" opacity="0.8"/><ellipse cx="836" cy="544" rx="7.6" ry="5.7" opacity="0.6"/><ellipse cx="829" cy="494" rx="6.6" ry="5.1" opacity="0.6"/><ellipse cx="845" cy="549" rx="5.6" ry="5.5" opacity="0.6"/><ellipse cx="851" cy="447" rx="7.2" ry="7.0" opacity="0.8"/></g><ellipse cx="866" cy="500" rx="10" ry="8" fill="#30c030" opacity="0.5" filter="url(#blur2)"/><path d="M811 495l2 2 4 -0M834 529l-3 0 -2 5M867 531l1 5 -2 3M921 511l-3 4 -3 3M911 540l-4 0 -3 -4M837 545l0 -4 -3 -4M884 506l-5 -0 -5 -1M849 445l1 2 -0 2M818 536l-2 -2 -4 1M917 523l-1 -4 -4 -4M918 508l5 2 4 2M845 442l2 -1 3 2M885 519l1 -2 -2 -3M830 506l3 -4 -0 -5M910 487l-0 4 1 3M858 451l-1 -4 1 -3M857 528l1 4 4 1M840 510l-3 2 -1 0M892 547l1 -5 3 -1M888 454l-5 1 -3 -2M837 530l-1 -5 -6 -1M907 446l1 -2 2 -2M908 488l5 -0 2 1M815 442l4 -4 1 -1M848 480l-4 -1 -4 -4M868 507l3 -1 1 -2M854 441l1 -6 -1 -1M873 508l3 1 1 -1M849 467l2 4 1 5M858 466l-3 1 -1 1M860 525l1 -2 -1 -6M856 542l-3 1 -2 2M905 506l-0 4 1 3M824 500l-1 -6 0 -1M846 541l4 -2 2 1M851 467l-5 2 -1 6M875 527l-6 -0 -5 2M817 532l6 1 4 3M917 536l-4 -0 -5 2M886 511l-2 -2 -3 -2M833 444l4 2 0 2M824 515l-4 4 1 2M859 457l-4 1 -5 2M816 522l0 -3 2 -2M897 458l2 4 4 -0M849 461l3 -4 2 -1M837 446l-1 -2 -1 -1M884 490l4 -1 5 3M836 471l5 2 4 3M914 519l2 -4 1 -2M822 546l0 -3 2 -5M845 464l-3 -3 -0 -1M826 531l1 -3 -1 -1M896 456l-0 5 -1 2M879 508l2 -1 2 -2M920 523l-3 -4 -1 -1M855 507l4 -2 1 1M831 460l-1 3 -1 3M837 521l5 -0 3 4M816 472l-2 3 -1 0M859 445l-1 2 -1 3M844 546l4 1 2 1M889 500l1 3 3 4M814 449l-2 -1 -3 -5M877 478l3 -1 3 0M842 515l1 -6 2 -3M898 472l3 4 -0 2M869 452l1 -6 0 -5M901 515l-3 2 -1 6M856 455l-3 -2 -2 1M849 461l6 0 3 -2M866 494l3 -2 2 1M915 524l3 -3 4 -2M821 501l-2 -1 -4 1M880 537l-0 -6 -4 -3M834 461l4 -1 1 -0M821 472l-1 2 -1 1M818 506l0 5 2 4M894 497l-2 -3 -2 -5M872 467l5 2 4 0M819 523l-3 -2 -3 -2M891 521l-2 4 3 4M837 445l-1 3 -1 2M907 503l-3 4 -1 0M898 524l3 1 3 2M905 540l0 -3 -4 -2M852 531l3 -3 3 -2M817 483l-1 -3 -1 -2M870 502l3 2 3 0M837 452l4 -1 2 -1M880 481l-1 2 -3 1" stroke="#2e9e2e" stroke-width="0.9" fill="none"/><path d="M868 503l0 2M871 494l1 2M868 503l-1 -3M867 502l2 0M864 495l1 3M866 493l2 -2M864 495l-3 0M867 502l-2 1M874 497l1 2M864 509l-2 2M879 512l-0 -2M863 498l-1 1M857 492l-2 0M866 488l-3 -1M853 492l3 0M877 495l-2 -2M863 497l-0 2M861 488l-1 -2M853 492l-2 -1M867 502l1 -2M866 499l3 -1M870 500l3 -0M879 496l-2 3M857 508l-0 2M866 500l-3 -1M863 507l0 2M867 498l3 -0M876 514l1 -2M867 500l1 2M880 497l3 2M863 502l-2 -0M867 498l-2 2M865 502l-1 -2M875 495l1 1M869 491l0 -3M869 498l-0 -2M864 494l1 -2M866 500l1 -1M880 496l2 3M866 491l-3 -1M865 497l-1 2M866 499l-2 -1M862 493l-3 -1M866 500l-2 0M868 494l-0 3M866 504l-1 -2M866 493l-0 2M870 506l-3 -1M864 497l-0 3M858 505l-3 1M865 500l2 2M858 489l-0 2M869 485l2 2M869 500l1 -3M866 500l-1 -3M875 502l1 -3M862 509l-3 -0M854 502l-1 2M861 494l-0 -3M862 500l0 2M859 491l2 -1M865 493l-1 -2M868 513l-1 1M865 505l2 -2M867 499l2 3M865 501l2 0M866 500l0 2M866 500l-0 -3M863 503l-3 1M862 502l-2 -1M869 497l-2 -2M865 498l3 2M865 498l-2 1M876 505l-1 -1M873 510l-3 -1M872 497l2 -1M874 490l2 -1M869 505l-1 3M867 495l-1 -2M872 509l3 2M864 501l2 -3M861 505l-2 -0M870 497l-2 -2M873 502l3 -0M866 501l3 -0M864 498l-3 -0M862 494l0 -3M864 500l2 1M866 497l1 2M869 493l-3 -0M863 498l-0 -3M868 505l-3 1M866 499l-2 -2M862 493l-1 2M871 497l-0 -3M852 497l-3 -1M860 494l2 -2M862 497l2 -2M867 500l2 1M863 498l1 2M866 496l-3 6M866 500l-6 1M864 504l-3 -4M856 486l-5 3M842 497l-3 -5M868 490l2 5M876 486l-4 0M853 539l5 3M868 504l-5 -4M853 482l1 2M827 521l1 3M858 532l4 0M855 496l1 6M869 518l4 3M861 503l-4 -4M895 500l5 4M883 468l4 -5M862 520l-1 2M893 471l-2 6M879 517l2 1M822 501l-4 0M882 520l1 2M889 502l1 -2M910 507l3 -4M866 504l1 -2M885 491l1 2M867 468l-0 -5M850 483l-1 5M882 485l-2 1M864 496l-2 0M867 501l-3 -1M858 489l-4 -2M868 497l-2 -1M861 495l5 -4M865 501l-1 -4M851 504l1 -1M872 505l4 6M872 498l-1 4M835 536l0 2M866 493l4 3M834 510l-4 1M870 499l-5 3M882 479l1 -3M848 511l-5 -3M874 500l2 5M863 490l-3 0M838 524l-2 -4M872 494l-0 5M869 504l-5 3M888 524l6 -2" stroke="#3ec83e" stroke-width="1.4" fill="none" stroke-linecap="round"/><path d="M823 504l-2 -0M821 503l-1 1M832 506l1 -1M824 506l-3 0M811 512l-2 1M815 509l-3 -2M826 495l1 3M820 510l-2 1M839 493l-3 1M821 505l-0 -3M821 503l0 2M828 506l1 -1M821 512l-1 -1M827 509l-0 2M826 505l0 -2M821 503l-2 -0M836 499l-2 -1M823 509l1 1M829 510l2 0M827 502l3 -0M823 505l2 -1M839 508l0 -3M813 509l1 2M824 505l1 -1M815 507l-1 -3M823 504l-2 -2M819 513l-2 0M827 502l3 -1M815 506l-1 2M833 504l3 -1M821 511l2 -2M825 509l2 1M827 511l2 -0M824 503l1 -2M822 505l2 -1M819 503l0 3M827 504l0 -3M813 507l2 2M825 500l-2 -2M820 494l1 -1M824 510l-1 -2M825 510l2 2M823 506l2 1M818 505l2 -0M828 505l2 -2M824 505l3 1M832 504l-3 -2M829 514l-3 -1M825 507l-3 1M830 509l2 2M833 510l2 -3M822 507l3 -0M837 507l1 2M822 497l3 1M825 507l-0 3M833 512l-1 2M834 508l0 -2M823 503l2 -0M824 511l-3 -1M824 504l2 0M825 510l1 1M822 504l-1 -3M824 505l0 -3M823 506l-0 3M821 505l-1 -1M818 512l-0 -3M808 500l2 2M824 507l1 2M818 507l-1 -1M821 511l2 -0M820 497l2 4M802 507l6 2M815 483l0 -2M819 492l-3 -1M829 507l2 -2M811 508l-1 -3M858 517l-1 2M814 491l1 6M801 504l-0 2M824 503l5 1M817 500l-2 4M844 494l2 -0M833 492l-5 4M824 509l1 -3M848 499l-1 5M822 504l4 -4M825 495l-4 2M840 498l3 -3M826 504l2 1M826 504l2 -0M814 510l4 -5M830 508l-2 0M828 503l2 -2M803 524l5 -0M804 505l6 -3M844 541l1 -6M819 495l-5 2M829 504l-4 -6M830 506l5 3M831 496l-2 -3M824 504l4 3M829 517l-1 1M828 493l-1 -7M817 507l-2 0M817 498l2 -1" stroke="#3ec83e" stroke-width="1.3" fill="none" stroke-linecap="round"/><path d="M833 532l0 3M830 530l2 1M833 532l-1 -2M832 534l2 1M837 538l3 -0M830 529l-1 1M837 542l2 0M829 535l-2 -0M832 531l-2 2M835 518l-1 -1M834 537l-3 1M833 535l1 -2M833 534l-1 -3M832 534l-1 -1M834 530l-2 3M830 529l-1 -3M831 534l0 2M830 528l-1 -1M832 532l-2 3M830 528l1 -0M833 532l-2 1M832 526l-2 2M834 535l2 1M833 527l-1 -2M830 531l-1 2M827 536l-2 -0M831 532l-1 -3M830 531l-2 1M833 532l0 3M834 532l2 -1M833 532l2 -1M833 537l2 1M834 529l-2 -1M840 534l-1 2M837 536l0 -2M828 547l0 -3M830 536l2 -2M830 526l3 -1M829 536l3 0M838 523l-2 -0M810 517l5 1M834 540l3 3M830 534l-2 0M836 538l-3 -6M827 542l-3 2M842 523l1 1M836 543l3 -3M830 522l1 2M849 516l-1 1M805 532l1 4M829 535l1 -6M816 522l4 1M833 535l-3 -1M825 534l-6 4M834 547l6 -4M832 534l-5 0M829 532l-3 -6M833 533l3 -3M838 533l4 -3M828 535l-1 3" stroke="#3ec83e" stroke-width="1.2" fill="none" stroke-linecap="round"/></g><clipPath id="m16"><rect x="927.8" y="439.8" width="112.2" height="108.6"/></clipPath><g clip-path="url(#m16)"><rect x="927.8" y="439.8" width="112.2" height="108.6" fill="#03030c" /><g fill="#2020a0" filter="url(#blur1)"><ellipse cx="985" cy="513" rx="8.4" ry="6.4" opacity="0.5"/><ellipse cx="1004" cy="477" rx="7.8" ry="7.4" opacity="0.5"/><ellipse cx="968" cy="458" rx="6.3" ry="6.2" opacity="0.6"/><ellipse cx="971" cy="459" rx="5.6" ry="4.1" opacity="0.5"/><ellipse cx="1018" cy="516" rx="6.4" ry="5.9" opacity="1.0"/><ellipse cx="955" cy="512" rx="5.5" ry="4.3" opacity="0.7"/><ellipse cx="979" cy="509" rx="6.5" ry="5.2" opacity="0.9"/><ellipse cx="968" cy="516" rx="8.0" ry="7.8" opacity="0.6"/><ellipse cx="954" cy="523" rx="6.1" ry="5.2" opacity="0.6"/><ellipse cx="1033" cy="494" rx="5.8" ry="5.6" opacity="0.5"/><ellipse cx="958" cy="511" rx="6.4" ry="6.0" opacity="1.0"/><ellipse cx="989" cy="493" rx="8.8" ry="7.9" opacity="0.8"/><ellipse cx="990" cy="529" rx="8.5" ry="6.1" opacity="0.6"/><ellipse cx="928" cy="463" rx="6.2" ry="5.0" opacity="0.7"/><ellipse cx="990" cy="511" rx="5.0" ry="3.8" opacity="0.9"/><ellipse cx="1043" cy="445" rx="6.2" ry="5.4" opacity="0.7"/></g><ellipse cx="984" cy="494" rx="16" ry="14" fill="#ff40c0" opacity="0.9" filter="url(#blur2)"/><ellipse cx="986" cy="494" rx="6" ry="5" fill="#ffffff" opacity="0.8" filter="url(#blur2)"/><path d="M945 534l-3 -2 -1 -0M953 546l3 -1 1 -0M1029 459l-2 -4 -2 -4M951 447l2 0 2 -2M940 444l4 3 -0 5M1028 532l-3 3 -2 1M1039 518l-2 0 -4 -2M991 488l3 -0 2 2M933 471l2 -1 0 -3M965 479l0 2 1 1M940 440l1 2 0 3M930 503l-3 -3 -2 0M957 517l-4 -3 -1 -0M1005 483l-1 -4 -2 -4M1033 510l-4 2 -4 -0M1002 461l-3 -1 -1 -3M963 472l3 3 0 3M1002 440l-3 3 -2 2M957 489l-2 0 -3 0M1031 472l-0 -5 -4 -2M929 441l-3 1 -5 0M1012 543l-3 3 -2 3M937 473l4 -0 1 0M995 489l-0 -5 -3 -1M985 527l3 4 3 3M934 444l-2 4 -1 3M962 465l-1 2 -3 1M1038 463l0 4 -2 4M939 473l0 4 0 2M934 491l4 -2 4 0M936 544l2 -2 -1 -3M1016 440l-1 -4 -1 -1M960 459l-2 4 -4 2M928 508l1 -3 -0 -3M960 545l4 2 3 1M1005 510l0 2 -0 1M967 478l-0 2 -1 1M954 516l3 -3 4 0M987 472l-2 2 -2 2M952 467l1 4 3 3M995 503l2 -1 2 0M1004 483l-1 -4 -0 -4M965 520l-0 -2 -4 -2M979 447l4 -1 2 3M1016 491l1 -4 -3 -3M938 466l0 4 2 2M1020 492l3 2 2 3M929 448l-1 4 1 2M944 509l-0 -2 -3 -2M1016 464l2 2 3 2M971 473l-4 -1 -2 -1M1011 516l-3 1 -1 1M936 479l-1 4 -2 2M975 484l-3 -2 -4 2M993 477l0 -2 -1 -2M974 477l2 2 0 3M972 529l3 1 3 -1M1016 529l-2 -1 -0 -2M947 489l-2 2 1 2M948 531l-4 -2 -1 -0M1034 444l1 -2 3 -0M971 543l-3 -2 -2 1M1012 544l-2 1 -5 -1M1008 480l-3 -1 -2 -4M1009 444l-3 -3 -1 -4M997 539l-2 1 -3 -2M932 460l2 -2 2 -3M1023 457l-0 2 -2 2M986 472l-2 1 -4 1M1018 531l-3 -1 -1 0M1000 525l-1 3 2 2M931 488l3 1 2 4M1039 517l-5 -0 -2 -1M999 449l2 0 1 2M958 513l1 -4 1 -1M929 528l-3 -2 -3 -3M953 490l-4 1 -4 1M942 498l-2 -2 -4 1M938 507l3 -3 1 -5M944 489l2 -1 1 -1M1039 488l-1 -2 -1 -1M1000 453l3 -0 1 1M1017 537l-4 -1 -3 -0M974 445l-2 3 -2 1M950 502l4 2 3 4M948 485l2 -2 3 -2M953 490l-4 -3 -2 -3M1023 548l-2 -1 -4 -0M1007 517l2 0 4 -1M937 479l-1 -2 -5 -1M1021 522l-1 3 -2 1M989 505l1 -2 -2 -4M1005 541l-2 -1 -2 -1M941 537l-3 3 -3 2M1000 545l-3 3 -3 4M1018 529l-3 1 -2 -2M951 495l-1 -4 2 -2M1009 532l-3 -2 -1 -2M983 510l3 -3 1 -0M1038 523l2 -1 3 1M1015 461l-0 3 -4 3M940 466l3 0 1 0M1017 495l2 1 3 2M959 494l3 -1 1 -1M1011 483l2 -1 2 2M1025 453l2 -3 4 -2M959 444l1 2 -2 4M932 450l-1 4 -3 2M937 525l-0 -5 -1 -2M997 454l-4 -0 -3 -1M980 490l-1 4 -2 4M1020 537l2 -0 0 -1M954 493l5 1 5 -0M943 526l-3 1 -4 -1" stroke="#c0a030" stroke-width="0.9" fill="none"/><path d="M980 487l3 1M988 483l3 -1M999 487l2 -2M983 488l-2 -2M982 484l-2 -2M985 488l-1 3M1005 476l-2 -1M996 487l-3 -1M1005 471l-3 1M973 496l2 0M982 489l-2 2M994 488l-1 0M980 485l1 -3M1004 476l3 -1M986 472l-0 -3M978 478l1 3M992 482l-3 1M980 501l-0 -2M967 484l2 1M983 489l-2 -0M980 487l-3 -1M979 488l2 -0M983 490l-2 1M976 475l-2 -2M972 490l3 -1M985 498l2 -1M979 490l-2 -2M985 486l-2 2M981 494l1 2M960 508l-1 -3M981 488l-1 3M980 488l-1 -2M995 493l2 -1M978 489l-2 -0M980 494l-3 -2M985 490l-1 -1M974 489l-2 -0M993 502l2 2M998 479l0 2M988 485l-1 2M986 487l-1 -2M977 483l2 -2M983 492l1 2M981 491l2 -1M957 473l1 1M991 493l3 -0M977 496l0 -2M999 481l1 -2M965 482l3 1M999 464l0 -2M985 486l3 0M980 486l-1 3M983 491l1 -1M985 463l3 -2M996 470l2 1M981 487l1 1M981 491l-3 0M985 475l1 -2M990 475l0 -2M979 485l2 3M981 485l2 -2M972 490l-1 3M982 485l2 1M969 470l-3 -1M991 499l3 1M989 492l1 -2M963 498l0 -2M979 492l-2 -3M986 496l3 0M982 504l-1 1M961 475l2 -2M986 500l1 -1M977 467l1 -1M956 488l1 3M971 495l3 0M981 491l3 -0M983 476l-2 1M986 470l2 3M972 480l-1 -2M982 482l1 2M987 483l2 1M975 468l-3 -1M1002 514l-1 -1M983 483l-1 -2M984 490l-0 -2M981 491l2 1M1000 488l2 2M988 490l-1 -1M989 499l2 1M988 497l-2 -1M988 493l-0 -3M980 499l-1 2M979 490l-2 -0M980 475l1 3M991 484l-2 -0M970 510l2 -2M983 488l-2 -1M972 486l-1 -1M997 478l-3 -2M996 478l-2 1M989 488l-3 -0M995 481l-0 1M975 520l-3 -0M998 481l1 2M991 500l-3 1M975 488l-1 3M969 481l2 -0M985 495l-1 -2M983 482l0 2M969 498l-0 -2M968 487l1 -2M979 483l0 -3M977 493l-3 -2M983 493l1 1M982 505l1 3M980 491l2 -3M995 490l-3 1M981 486l2 -2M983 492l2 3M977 495l1 -2M980 486l3 0M981 489l3 -2M968 490l2 -2M981 489l-3 -2M963 486l-3 -0M991 486l2 -1M978 490l1 2M974 459l-2 2M994 485l1 3M975 476l-1 -3M984 491l2 -1M981 490l-2 -1M982 489l-1 1M999 483l0 3M957 504l-0 2M970 505l-0 2M986 522l-1 1M981 487l3 1M1005 494l2 -2M981 486l-1 -1M983 500l1 -1M996 478l-2 0M972 478l2 -2M980 478l1 2M993 501l2 -1M1009 492l-1 2M986 522l0 2M969 486l-1 2M974 489l0 2M979 495l1 -2M965 468l-2 -2M983 487l-3 1M966 516l3 -2M982 502l3 -1M966 496l2 -0M980 487l-1 -1M982 492l3 0M979 493l-1 2M983 488l-2 2M980 486l2 2M983 474l1 -3M968 491l3 -1M995 499l1 -2M990 511l-2 1M983 487l-0 3M985 497l0 -2M981 480l-2 2M973 502l-2 -1M983 483l-2 -2M973 466l3 1M987 491l3 1M984 484l1 -3M975 478l3 -2M981 467l3 -1M982 488l2 1M998 489l2 -1M975 501l-2 -0M977 479l1 -2M976 481l0 2M989 495l1 -2M953 496l-3 -1M980 487l2 -3M969 471l3 -1M963 493l3 0M982 489l-0 -3M980 489l1 1M985 497l1 2M970 494l2 2M990 498l-0 -3M982 511l-1 -1M956 494l-1 -2M1006 495l2 -2M969 492l-3 1M1004 471l-0 3M990 495l-2 -1M971 475l1 2M967 502l3 -1M964 503l2 -0M968 460l1 1M977 495l1 -3M982 489l-3 1M982 490l2 1M973 480l-2 -0M972 496l-0 -2M998 479l-1 1M1013 480l1 -3M981 489l1 2M983 487l2 1M983 500l1 2M978 492l2 -1M981 474l2 2M968 497l-2 2M1000 503l1 2M980 468l-2 2M984 491l1 -2M977 500l-0 -3M987 474l-2 -1M982 489l0 2M982 489l-3 0M995 481l2 1M984 477l-1 -2M987 483l-2 -1M984 491l2 -2M985 488l0 2M959 471l0 2M978 493l-1 -2M986 502l1 -2M982 488l-1 1M988 488l0 3M987 499l2 -2M977 480l-1 3M973 489l-0 2M972 502l-1 2M984 489l-0 2M958 494l-2 0M976 491l2 -0M982 489l1 -2M975 496l1 -1M981 492l-2 1M980 495l3 -2M964 491l-6 -1M980 489l3 2M983 500l1 5M992 481l-1 5M967 467l2 -3M972 484l2 -2M981 496l-6 2M945 459l0 3M1001 516l-4 3M1002 491l3 6M969 488l-2 3M966 485l6 0M992 496l1 2M998 479l-5 3M1026 548l1 -3M955 457l2 -1M982 505l-5 2M1006 503l-2 1M974 487l2 -6M935 458l-2 -2M1006 497l2 4M973 491l3 -5M975 467l-4 1M985 491l-3 -2M992 457l-3 -0M978 489l-2 1M985 489l2 -0M970 485l-2 4M988 497l4 -1M960 551l1 -5M982 489l-1 2M973 441l-2 5M996 491l4 3M938 494l-3 6M1005 487l3 2M978 481l-2 2M950 494l3 2M981 533l-5 2M987 505l-2 -0M1006 508l1 -4M976 485l-0 -6M966 467l0 5M950 473l-1 -5M1018 526l2 3M1010 478l5 3M996 480l3 -5M968 496l4 -2M1000 434l-5 5M991 488l2 -2M988 490l-1 -3M1007 441l6 0M971 480l1 -2M991 495l-2 3M952 516l4 1M988 501l3 -4M995 483l3 -1M981 489l-2 2M950 485l5 0M968 494l0 3M965 492l1 2M973 515l0 2M978 489l-2 3M964 489l-1 1M946 482l1 2M971 495l4 1M965 468l-4 -2M1009 521l2 -1M1002 495l-4 6M971 485l-0 -5M916 483l-3 3M965 503l-3 -1M994 474l5 -4M1003 441l2 -3M1015 472l5 0M971 501l0 -4M982 489l2 2M1033 514l-1 -2M914 472l-5 -2M1022 478l-4 3M983 486l-4 2M984 523l1 3M996 528l6 -2M984 497l6 -3M989 509l-3 3M988 513l6 -3M971 486l5 -2M985 488l-2 -2M977 499l1 -1M983 490l-3 0M953 509l2 4M973 490l-4 -1M985 458l-1 -3M928 490l-3 3M1015 496l2 -4M975 490l5 4M975 501l2 5M1000 482l-4 -6M1002 494l0 -3M982 496l-1 -6M982 484l-1 2M981 499l1 -2M1005 535l4 4M984 485l6 -2M990 480l-2 0M1005 513l1 2M967 465l5 -3M997 531l-1 -5M1002 546l1 -1M996 434l6 -2M991 490l-2 1M998 489l2 -1M1006 459l-1 2M996 489l2 2M995 497l6 -2M965 457l3 2M989 487l-3 2M1016 479l3 -4M970 468l1 -4M1049 478l3 -2M918 524l4 1" stroke="#ff3040" stroke-width="1.7" fill="none" stroke-linecap="round"/><path d="M943 507l-2 2M939 505l2 -3M947 508l1 2M941 512l-1 2M942 504l-1 -2M945 516l-0 -2M934 503l1 1M940 511l1 -2M943 496l0 3M941 511l2 -2M948 513l1 -2M946 515l-3 0M945 506l-2 -2M942 511l2 2M934 505l-3 -1M939 512l0 -3M942 514l-2 2M940 515l1 -1M937 506l-3 -0M943 509l2 1M938 511l2 -2M930 508l1 -2M950 512l-2 -1M939 512l1 -1M941 515l-3 -1M941 511l-2 0M930 515l-1 2M957 498l-1 -2M941 510l-1 2M943 513l1 -3M941 510l2 1M945 509l-2 1M940 509l1 -2M942 517l2 -1M938 509l-1 -3M950 505l-2 0M946 517l-1 1M938 507l-1 2M941 508l2 -2M934 507l-1 -1M943 514l2 -1M929 521l-2 -2M944 516l1 -2M940 510l-0 -3M939 507l-3 2M950 500l3 2M937 505l2 -2M939 512l1 3M939 510l-2 2M938 512l2 -0M938 507l2 1M940 517l3 -1M941 513l3 0M947 503l3 0M939 516l-3 1M953 514l-1 1M944 513l2 1M941 511l-2 -1M937 529l-1 -2M942 511l-1 -2M940 511l-2 2M944 508l-1 -3M940 507l1 2M940 513l-1 -1M928 506l-0 -2M940 502l0 3M942 512l0 3M941 510l3 -2M933 505l-2 -2M944 509l-1 -2M934 515l1 -2M941 507l3 -1M933 511l-1 2M941 511l-2 -1M943 508l-1 -2M941 510l-1 2M946 515l-1 2M946 516l3 -0M937 512l2 1M945 508l-2 1M942 512l5 -3M948 500l-5 -4M936 525l-2 -2M935 519l-5 -0M949 502l-2 -2M926 511l-6 -3M936 510l6 -3M945 513l1 5M938 514l-3 2M942 504l-0 4M943 497l1 -2M921 504l1 2M929 498l4 -4M942 504l4 -4M941 508l-1 2M911 502l-4 3M920 498l-4 -4M916 529l-3 -6M941 511l2 0M946 510l-2 0M941 510l-2 -3M928 502l2 -6M935 523l4 5M946 514l3 -4M948 510l4 -3M950 504l-1 -5M939 514l-2 1M951 503l3 3M944 510l-1 5M921 530l-5 -4M950 500l4 3M937 514l-1 -3M936 523l2 2M940 509l-2 -1M950 500l6 -1M932 526l-6 2M944 507l1 5M957 503l1 -2M930 524l-6 1M942 511l-6 1" stroke="#d8c838" stroke-width="1.4" fill="none" stroke-linecap="round"/><path d="M953 534l-2 1M948 534l2 2M952 533l2 3M952 540l2 -1M959 542l-3 1M953 532l-0 3M946 535l-2 2M953 518l-0 -2M940 532l-1 -3M952 535l2 2M950 533l3 2M954 537l-1 3M956 531l-2 -1M956 539l2 0M966 535l2 2M952 535l1 -2M950 532l-3 -0M954 530l-2 2M952 534l2 1M953 534l3 1M950 537l-3 1M950 532l-1 -2M950 534l3 0M950 532l0 -3M950 532l-2 -2M954 540l-1 2M954 536l-2 -2M949 532l2 2M952 533l-2 2M950 533l1 -1M947 538l0 -3M951 531l1 -1M952 541l-3 -2M950 532l1 -3M951 538l-1 1M946 539l2 0M954 544l1 1M947 532l1 -2M953 531l-2 -2M949 531l-3 -2M954 536l1 -1M955 523l4 -5M940 518l-3 -5M942 537l3 -1M957 524l-3 3M954 521l2 -2M958 544l4 -1M957 549l-1 1M952 534l-0 5M968 518l-3 1M934 529l-2 1M964 534l1 -6M966 544l4 1M957 524l2 1M952 556l7 -2M959 533l-4 2M946 529l4 -0M964 532l-1 -2M950 532l-3 6M970 530l2 -1" stroke="#f08030" stroke-width="1.3" fill="none" stroke-linecap="round"/><path d="M1030 466l-1 2M1029 461l-3 0M1028 463l2 -1M1028 462l-2 -2M1029 460l2 -1M1029 462l1 -1M1028 466l-2 3M1026 459l0 2M1024 458l-2 1M1028 461l-2 1M1028 462l2 0M1029 463l-1 -3M1030 460l2 -1M1035 463l0 2M1026 458l-1 1M1029 461l-1 3M1027 462l2 0M1029 462l-2 0M1028 463l3 -2M1028 462l-3 -2M1029 463l-1 -2M1032 466l-0 2M1024 458l2 -1M1032 458l-2 -0M1038 461l-3 2M1034 467l0 3M1029 463l2 2M1032 465l1 -0M1030 461l1 2M1029 462l-3 1M1029 458l2 1M1027 461l0 2M1027 464l-3 0M1028 460l-1 2M1028 465l-3 1M1028 461l-0 3M1026 461l1 -2M1033 455l2 3M1024 462l-2 -2M1028 467l1 2M1035 480l-3 1M1027 473l5 2M1027 457l-3 -6M1029 462l-3 1M1028 461l-1 2M1049 447l3 4M1021 459l5 -3M1028 477l5 -3M1030 466l5 2M1023 453l-3 -1M1033 454l-2 -0M1053 476l4 -4M1018 460l-3 -2M1032 461l-3 0M1032 461l-3 5M1030 461l-5 -0M1029 462l-3 3M1038 456l-6 1M1034 461l-3 6M1031 478l-3 -1" stroke="#d8c838" stroke-width="1.1" fill="none" stroke-linecap="round"/></g><text x="598.6" y="76.9" font-size="22" font-weight="bold" fill="#fff" >Control</text><text x="610.4" y="195.0" font-size="22" font-weight="bold" fill="#fff" >Cyst-C</text><text x="600.5" y="349.2" font-size="22" font-weight="bold" fill="#fff" >Control</text><text x="610.4" y="463.1" font-size="22" font-weight="bold" fill="#fff" >Cyst-C</text><rect x="650.8" y="138.0" width="29.6" height="5.0" fill="#fff" /><text x="632.6" y="159.3" font-size="19" font-weight="bold" fill="#fff" >30 μm</text><rect x="764.4" y="138.0" width="29.6" height="5.0" fill="#fff" /><text x="745.1" y="159.3" font-size="19" font-weight="bold" fill="#fff" >30 μm</text><rect x="879.6" y="138.0" width="29.6" height="5.0" fill="#fff" /><text x="861.6" y="159.3" font-size="19" font-weight="bold" fill="#fff" >30 μm</text><rect x="994.0" y="138.0" width="29.6" height="5.0" fill="#fff" /><text x="975.9" y="159.3" font-size="19" font-weight="bold" fill="#fff" >30 μm</text><rect x="650.8" y="259.3" width="29.6" height="5.0" fill="#fff" /><text x="632.6" y="283.6" font-size="19" font-weight="bold" fill="#fff" >30 μm</text><rect x="764.4" y="259.3" width="29.6" height="5.0" fill="#fff" /><text x="745.1" y="283.6" font-size="19" font-weight="bold" fill="#fff" >30 μm</text><rect x="879.6" y="259.3" width="29.6" height="5.0" fill="#fff" /><text x="861.6" y="283.6" font-size="19" font-weight="bold" fill="#fff" >30 μm</text><rect x="994.0" y="259.3" width="29.6" height="5.0" fill="#fff" /><text x="975.9" y="283.6" font-size="19" font-weight="bold" fill="#fff" >30 μm</text><rect x="648.8" y="407.0" width="29.6" height="5.0" fill="#fff" /><text x="629.8" y="429.1" font-size="19" font-weight="bold" fill="#fff" >15 μm</text><rect x="766.4" y="407.0" width="29.6" height="5.0" fill="#fff" /><text x="747.4" y="429.1" font-size="19" font-weight="bold" fill="#fff" >15 μm</text><rect x="883.6" y="407.0" width="29.6" height="5.0" fill="#fff" /><text x="864.6" y="429.1" font-size="19" font-weight="bold" fill="#fff" >15 μm</text><rect x="1000.8" y="407.0" width="29.6" height="5.0" fill="#fff" /><text x="981.8" y="429.1" font-size="19" font-weight="bold" fill="#fff" >15 μm</text><rect x="648.8" y="520.7" width="29.6" height="5.0" fill="#fff" /><text x="629.8" y="541.7" font-size="19" font-weight="bold" fill="#fff" >15 μm</text><rect x="766.4" y="520.7" width="29.6" height="5.0" fill="#fff" /><text x="747.4" y="541.7" font-size="19" font-weight="bold" fill="#fff" >15 μm</text><rect x="883.6" y="520.7" width="29.6" height="5.0" fill="#fff" /><text x="864.6" y="541.7" font-size="19" font-weight="bold" fill="#fff" >15 μm</text><rect x="1000.8" y="520.7" width="29.6" height="5.0" fill="#fff" /><text x="981.8" y="541.7" font-size="19" font-weight="bold" fill="#fff" >15 μm</text><path d="M1148.9 83V254.3H1244.8" stroke="#000" stroke-width="2.5" fill="none"/><line x1="1148.9" y1="84.1" x2="1154.8" y2="84.1" stroke="#000" stroke-width="2.5" /><text x="1119.2" y="90.0" font-size="17.5" font-weight="bold" fill="#000">4.5</text><line x1="1148.9" y1="140.7" x2="1154.8" y2="140.7" stroke="#000" stroke-width="2.5" /><text x="1119.5" y="146.7" font-size="17.5" font-weight="bold" fill="#000">3.0</text><line x1="1148.9" y1="197.6" x2="1154.8" y2="197.6" stroke="#000" stroke-width="2.5" /><text x="1119.2" y="203.5" font-size="17.5" font-weight="bold" fill="#000">1.5</text><line x1="1148.9" y1="254.3" x2="1154.8" y2="254.3" stroke="#000" stroke-width="2.5" /><text x="1119.5" y="260.3" font-size="17.5" font-weight="bold" fill="#000">0.0</text><rect x="1163.8" y="147.2" width="26.7" height="107.1" fill="#fcd9dc" stroke="#d42a2e" stroke-width="2"/><path d="M1177.0 148.2V140.2M1170.2 140.2H1183.8" stroke="#d42a2e" stroke-width="2" fill="none"/><g fill="#c04048"><circle cx="1176.7" cy="128.0" r="1.5"/><circle cx="1177.2" cy="137.0" r="1.5"/><circle cx="1177.1" cy="153.0" r="1.5"/><circle cx="1177.0" cy="170.0" r="1.5"/></g><rect x="1216.0" y="199.2" width="26.1" height="55.1" fill="#c4f1c2" stroke="#1d7a22" stroke-width="2"/><path d="M1229.0 200.2V190.4M1222.2 190.4H1235.8" stroke="#1d7a22" stroke-width="2" fill="none"/><g fill="#207020"><circle cx="1229.5" cy="173.6" r="1.5"/><circle cx="1228.6" cy="184.0" r="1.5"/><circle cx="1228.5" cy="221.0" r="1.5"/><circle cx="1229.5" cy="223.5" r="1.5"/></g><path d="M1176.5 113.1V105.1H1229.1V113.1" stroke="#111" stroke-width="2" fill="none"/><text x="1191.0" y="108.2" font-size="22" font-weight="normal" fill="#000">***</text><text x="1073" y="174.2" font-size="18.7" font-weight="bold" text-anchor="middle" transform="rotate(-90 1073 167.5)">Total TMEM119<tspan font-size="12" dy="-7">+</tspan><tspan dy="7"> voxels within</tspan></text><text x="986.5" y="174.3" font-size="18.65" font-weight="bold" fill="#000" transform="rotate(-90 1094.6 169.5)">15 μm of Aβ plaques (%)</text><text x="1121.5" y="295.8" font-size="19" font-weight="bold" fill="#000" transform="rotate(-45 1155.0 289.0)">Control</text><text x="1178.2" y="294.7" font-size="19" font-weight="bold" fill="#000" transform="rotate(-45 1209.0 290.0)">Cyst-C</text><path d="M1160.4 351V522.3H1256.5" stroke="#000" stroke-width="2.5" fill="none"/><line x1="1160.4" y1="351.5" x2="1166.3" y2="351.5" stroke="#000" stroke-width="2.5" /><text x="1119.5" y="357.5" font-size="17.5" font-weight="bold" fill="#000">0.24</text><line x1="1160.4" y1="408.4" x2="1166.3" y2="408.4" stroke="#000" stroke-width="2.5" /><text x="1120.0" y="414.4" font-size="17.5" font-weight="bold" fill="#000">0.16</text><line x1="1160.4" y1="465.3" x2="1166.3" y2="465.3" stroke="#000" stroke-width="2.5" /><text x="1120.0" y="471.3" font-size="17.5" font-weight="bold" fill="#000">0.08</text><line x1="1160.4" y1="522.3" x2="1166.3" y2="522.3" stroke="#000" stroke-width="2.5" /><text x="1120.2" y="528.3" font-size="17.5" font-weight="bold" fill="#000">0.00</text><rect x="1175.8" y="479.4" width="26.0" height="42.9" fill="#fcd9dc" stroke="#d42a2e" stroke-width="2"/><path d="M1188.8 480.4V471.9M1182.0 471.9H1195.6" stroke="#d42a2e" stroke-width="2" fill="none"/><g fill="#c04048"><circle cx="1189.2" cy="460.0" r="1.5"/><circle cx="1189.2" cy="466.0" r="1.5"/><circle cx="1189.2" cy="485.0" r="1.5"/><circle cx="1188.4" cy="497.0" r="1.5"/><circle cx="1188.9" cy="501.0" r="1.5"/></g><rect x="1227.7" y="421.2" width="26.3" height="101.1" fill="#c4f1c2" stroke="#1d7a22" stroke-width="2"/><path d="M1240.8 422.2V413.2M1234.0 413.2H1247.6" stroke="#1d7a22" stroke-width="2" fill="none"/><g fill="#207020"><circle cx="1241.0" cy="393.0" r="1.5"/><circle cx="1241.1" cy="403.0" r="1.5"/><circle cx="1240.5" cy="422.0" r="1.5"/><circle cx="1241.3" cy="432.0" r="1.5"/><circle cx="1240.5" cy="444.0" r="1.5"/></g><path d="M1187.8 374.8V366.8H1241.0V374.8" stroke="#111" stroke-width="2" fill="none"/><text x="1201.6" y="371.2" font-size="22" font-weight="normal" fill="#000">***</text><text x="1073.6" y="442.6" font-size="18.75" font-weight="bold" text-anchor="middle" transform="rotate(-90 1073.6 435.9)">Total CD68<tspan font-size="12" dy="-7">+</tspan><tspan dy="7"> voxels within</tspan></text><text x="990.4" y="439.8" font-size="18.4" font-weight="bold" fill="#000" transform="rotate(-90 1097.0 435.0)">15 μm of Aβ plaques (%)</text><text x="1133.5" y="563.8" font-size="19" font-weight="bold" fill="#000" transform="rotate(-45 1167.0 557.0)">Control</text><text x="1190.2" y="561.2" font-size="19" font-weight="bold" fill="#000" transform="rotate(-45 1221.0 556.5)">Cyst-C</text><clipPath id="m17"><rect x="18.3" y="599.2" width="179.5" height="153.8"/></clipPath><g clip-path="url(#m17)"><rect x="18.3" y="599.2" width="179.5" height="153.8" fill="#000" /><path d="M18.3 645.3 C81.1 626.9 143.9 606.9 197.8 603.8 V753.0 H18.3Z" fill="#1f1fb4"/><path d="M18.3 668.4 C81.1 645.3 143.9 622.3 197.8 617.7 L197.8 668.4 C143.9 668.4 81.1 683.8 18.3 706.9Z" fill="#2a2ac8" opacity="0.55" filter="url(#blur3)"/><path d="M39.8 753.0 C39.8 706.9 90.1 679.2 135.0 680.7 C170.9 682.3 192.4 694.6 197.8 706.9 V753.0Z" fill="#14147a"/><path d="M57.8 745.3 C57.8 709.9 93.7 691.5 129.6 691.5 C161.9 691.5 179.9 703.8 192.4 714.6" stroke="#3030d8" stroke-width="3.5" fill="none"/><path d="M72.2 742.2 C90.1 722.2 129.6 719.2 170.9 729.9" stroke="#2a2ac8" stroke-width="3.5" fill="none"/><path d="M81.1 751.5 C99.1 737.6 126.0 734.5 161.9 745.3" stroke="#2222b0" stroke-width="2.5" fill="none"/><ellipse cx="30.9" cy="748.4" rx="3" ry="8" fill="#000"/><path d="M170.9 694.6 L196.0 691.5" stroke="#40a0ff" stroke-width="2" opacity="0.8"/><path d="M18.3 645.3 C81.1 626.9 143.9 606.9 197.8 603.8" stroke="#c03c90" stroke-width="1.2" fill="none" opacity="0.8"/><path d="M196.0 603.8 V737.6200000000001" stroke="#c03c90" stroke-width="1.2" opacity="0.6"/><path d="M89.9 685.1h0M60.7 637.6h0M190.9 689.2h0M117.5 731.0h0M100.4 721.5h0M47.6 706.2h0M163.9 628.6h0M87.2 667.8h0M68.5 666.2h0M122.1 748.7h0M61.3 636.2h0M125.2 657.9h0M47.1 671.4h0M135.1 705.6h0M163.0 633.1h0M114.1 642.4h0M100.5 647.2h0M23.4 660.6h0M104.3 676.3h0M115.0 619.9h0M126.6 644.7h0M124.0 658.8h0M110.3 658.2h0M191.1 646.0h0M176.7 751.2h0M174.6 641.2h0M107.8 642.2h0M90.6 668.4h0M180.1 619.2h0M86.5 643.6h0M58.8 636.7h0M78.7 661.1h0M183.7 662.6h0M120.7 671.6h0M24.5 669.8h0M176.8 641.9h0M113.3 632.1h0M25.5 671.6h0M99.8 733.6h0M130.1 615.6h0M112.2 642.8h0M91.4 673.4h0M18.4 660.1h0M149.6 698.1h0M134.4 668.0h0M100.9 741.4h0M21.1 689.8h0M148.6 638.0h0M156.5 630.7h0M55.6 688.1h0M150.6 649.7h0M175.8 623.1h0M32.4 663.5h0M88.7 719.4h0M156.8 625.8h0M78.4 654.6h0M183.8 644.7h0M103.2 635.5h0M82.4 623.2h0M132.1 640.6h0M66.4 735.5h0M194.9 747.4h0M161.1 645.0h0M165.2 656.4h0M41.0 664.3h0M159.0 621.4h0M161.5 744.3h0M20.4 669.1h0M25.0 657.0h0M54.2 664.2h0M25.8 654.3h0M104.1 710.6h0M65.2 728.9h0M116.7 617.2h0M43.7 644.7h0M19.3 665.4h0M25.8 734.8h0M38.2 664.7h0M174.6 654.8h0M79.4 643.7h0M40.1 680.3h0M136.1 622.7h0M105.1 640.0h0M140.0 640.6h0M78.9 657.4h0M87.5 731.6h0M37.3 711.3h0M120.5 623.4h0M104.4 675.8h0M183.4 618.5h0M167.3 618.5h0M170.3 622.6h0M109.9 670.9h0M153.8 704.9h0M133.9 661.9h0M96.3 635.7h0M197.2 624.6h0M78.7 632.4h0M102.8 667.9h0M155.5 711.1h0M106.4 643.7h0M132.5 618.4h0M139.5 631.0h0M91.3 650.5h0M142.0 682.9h0M29.3 669.0h0M79.3 706.7h0M49.6 655.4h0M89.4 658.0h0M182.3 639.7h0M84.9 656.2h0M189.2 630.9h0M36.4 650.2h0M118.3 626.5h0M141.2 647.9h0M72.9 650.8h0M119.3 654.8h0M56.3 663.3h0M105.4 649.3h0M30.3 663.5h0M170.3 720.2h0M37.9 654.6h0M134.0 627.0h0M89.6 652.7h0M129.3 649.9h0M153.5 671.6h0M39.8 666.7h0M107.2 727.8h0M176.9 620.6h0M116.8 654.0h0M94.1 655.6h0M139.6 648.8h0M197.6 622.6h0" stroke="#ff5cc8" stroke-width="2.0" stroke-linecap="round" fill="none" /><path d="M132.0 634.9h0M164.1 640.6h0M187.5 651.0h0M99.4 627.9h0M190.2 691.6h0M125.8 629.4h0M129.7 661.4h0M47.8 648.5h0M168.7 641.7h0M89.5 641.6h0M104.5 626.2h0M110.6 644.7h0M60.3 656.4h0M52.0 680.1h0M75.1 634.2h0M66.4 635.3h0M104.0 624.9h0M58.8 700.5h0M183.2 641.4h0M38.3 648.5h0M72.9 635.8h0M185.0 729.8h0M197.7 618.8h0M49.7 649.7h0M168.5 630.5h0M46.7 672.0h0M29.4 671.5h0M28.5 665.3h0M188.1 628.9h0M126.2 626.6h0M34.3 691.5h0M174.9 635.4h0M23.9 684.9h0M33.2 674.7h0M146.1 610.5h0M164.0 615.5h0M180.1 677.1h0M177.1 671.6h0M166.2 619.2h0M41.7 675.5h0M141.7 638.8h0M128.7 688.9h0M176.5 690.4h0M25.8 651.5h0M96.2 637.6h0M116.9 701.4h0M183.6 639.4h0M174.1 647.6h0M65.2 679.6h0M100.1 646.8h0M127.9 631.1h0M46.9 648.4h0M24.7 675.1h0M161.8 640.5h0M151.4 655.1h0M176.0 646.1h0M19.3 716.8h0M129.1 689.5h0M34.8 661.8h0M141.3 617.6h0M184.1 623.2h0M128.5 653.2h0M50.0 705.9h0M123.2 614.5h0M138.4 645.3h0M185.5 627.5h0M97.7 643.5h0M50.6 658.2h0M120.7 729.2h0M24.5 662.6h0M130.1 630.9h0M25.7 663.2h0M49.0 648.8h0M19.2 684.5h0M159.5 645.2h0M184.8 622.4h0M57.9 645.9h0M62.8 659.2h0M32.9 672.0h0M181.8 638.3h0M90.8 678.6h0M129.0 663.3h0M169.4 642.5h0M40.9 667.5h0M53.3 652.3h0M168.8 660.3h0M36.0 716.2h0M30.3 665.4h0M97.8 671.2h0M24.9 682.9h0M135.7 648.2h0M23.3 661.0h0M128.1 622.5h0M52.3 641.0h0M22.7 660.3h0M157.3 618.2h0M60.9 698.6h0M53.9 669.8h0M153.4 666.1h0M20.0 673.4h0M165.6 614.6h0M25.6 666.2h0M162.9 630.7h0M107.9 693.0h0M65.4 656.8h0M163.3 648.0h0M197.2 638.0h0M36.6 752.1h0M195.6 683.8h0M28.6 709.4h0M106.0 635.8h0M38.3 680.2h0M38.7 650.1h0M143.4 617.5h0M80.2 635.1h0M94.4 644.0h0M102.7 629.1h0M122.1 619.6h0M36.1 657.6h0M150.9 639.2h0M169.6 639.3h0M168.5 622.7h0M29.8 672.7h0M52.6 710.9h0M71.8 678.8h0M110.2 732.6h0M113.8 626.6h0" stroke="#f0e8ff" stroke-width="1.6" stroke-linecap="round" fill="none" /></g><clipPath id="m18"><rect x="201.4" y="599.2" width="178.6" height="153.8"/></clipPath><g clip-path="url(#m18)"><rect x="201.4" y="599.2" width="178.6" height="153.8" fill="#000" /><path d="M201.4 650.0 C255.0 630.0 326.4 608.4 380.0 606.9 V753.0 H201.4Z" fill="#1f1fb4"/><path d="M201.4 668.4 C263.9 645.3 326.4 622.3 380.0 617.7 L380.0 668.4 C326.4 668.4 263.9 683.8 201.4 706.9Z" fill="#2a2ac8" opacity="0.55" filter="url(#blur3)"/><path d="M222.8 753.0 C222.8 706.9 272.8 679.2 317.5 680.7 C353.2 682.3 374.6 694.6 380.0 706.9 V753.0Z" fill="#14147a"/><path d="M201.4 709.9 C246.1 683.8 299.6 668.4 380.0 691.5" stroke="#3c90f8" stroke-width="7" fill="none" opacity="0.85" filter="url(#blur2)"/><path d="M240.7 745.3 C240.7 709.9 276.4 691.5 312.1 691.5 C344.3 691.5 362.1 703.8 374.6 714.6" stroke="#3030d8" stroke-width="3.5" fill="none"/><path d="M255.0 742.2 C272.8 722.2 312.1 719.2 353.2 729.9" stroke="#2a2ac8" stroke-width="3.5" fill="none"/><path d="M263.9 751.5 C281.8 737.6 308.6 734.5 344.3 745.3" stroke="#2222b0" stroke-width="2.5" fill="none"/><path d="M210.3 756.1 C228.2 737.6 281.8 737.6 308.6 756.1Z" fill="#000"/><path d="M353.2 756.1 C362.1 729.9 380.0 722.2 388.9 722.2 V760.69Z" fill="#000"/><path d="M201.4 650.0 C255.0 630.0 326.4 608.4 380.0 606.9" stroke="#c03c90" stroke-width="1.2" fill="none" opacity="0.8"/><path d="M378.2 603.8 V737.6200000000001" stroke="#c03c90" stroke-width="1.2" opacity="0.6"/><path d="M373.8 648.3h0M208.1 668.8h0M206.5 661.9h0M331.7 618.3h0M278.8 639.0h0M230.6 656.4h0M371.5 661.7h0M235.6 664.0h0M287.9 624.1h0M274.7 657.6h0M286.4 654.0h0M257.2 684.0h0M331.0 631.4h0M364.7 643.7h0M318.2 725.9h0M293.0 641.0h0M289.4 668.5h0M312.5 622.0h0M332.5 679.9h0M231.8 704.4h0M376.1 719.5h0M269.8 636.6h0M282.4 717.6h0M319.1 634.2h0M266.7 677.2h0M297.0 627.2h0M276.5 649.8h0M356.8 627.5h0M338.9 623.0h0M263.0 726.3h0M321.2 626.4h0M234.7 680.3h0M307.4 663.2h0M361.3 685.5h0M271.0 684.6h0M261.0 683.8h0M323.6 639.1h0M242.4 662.7h0M292.1 743.9h0M376.2 621.3h0M316.0 742.3h0M248.6 688.5h0M210.7 664.4h0M353.5 670.3h0M259.5 660.7h0M345.4 658.0h0M364.9 630.1h0M372.5 644.8h0M293.3 631.2h0M204.2 666.2h0M307.0 620.5h0M226.8 672.8h0M224.6 674.9h0M353.4 635.6h0" stroke="#ff5cc8" stroke-width="2.0" stroke-linecap="round" fill="none" /><path d="M339.8 630.2h0M376.1 670.9h0M268.8 661.6h0M349.3 635.5h0M244.5 657.4h0M203.5 693.0h0M366.5 691.8h0M266.5 672.3h0M325.4 624.6h0M212.5 674.2h0M319.1 619.5h0M376.1 620.1h0M358.7 634.8h0M201.5 686.3h0M203.6 713.0h0M352.0 714.6h0M360.1 662.2h0M215.6 665.9h0M277.8 637.1h0M313.2 641.5h0M307.5 628.6h0M341.6 659.6h0M224.6 654.3h0M353.5 651.3h0M207.1 672.8h0M345.9 658.2h0M302.7 633.3h0M293.8 634.2h0M318.4 628.2h0M334.2 627.0h0M365.1 660.1h0M227.8 696.3h0M273.0 653.8h0M339.6 621.8h0M209.6 673.3h0M351.1 750.2h0M296.4 643.2h0M374.4 687.3h0M345.0 635.7h0M277.3 643.1h0M216.3 674.5h0M260.5 660.0h0M241.0 673.4h0M279.4 651.7h0M371.5 634.3h0M207.4 686.0h0M342.9 627.2h0M353.9 644.4h0M226.7 712.3h0M220.0 664.4h0M308.7 687.8h0M222.9 665.4h0M294.9 685.0h0M219.0 671.7h0M232.7 736.5h0M374.1 639.0h0" stroke="#f0e8ff" stroke-width="1.6" stroke-linecap="round" fill="none" /></g><clipPath id="m19"><rect x="382.7" y="599.2" width="178.5" height="153.8"/></clipPath><g clip-path="url(#m19)"><rect x="382.7" y="599.2" width="178.5" height="153.8" fill="#000" /><path d="M382.7 663.8 C436.2 645.3 507.6 617.7 561.2 611.5 V753.0 H382.7Z" fill="#1f1fb4"/><path d="M382.7 668.4 C445.2 645.3 507.6 622.3 561.2 617.7 L561.2 668.4 C507.6 668.4 445.2 683.8 382.7 706.9Z" fill="#2a2ac8" opacity="0.55" filter="url(#blur3)"/><path d="M404.1 753.0 C404.1 706.9 454.1 679.2 498.7 680.7 C534.4 682.3 555.8 694.6 561.2 706.9 V753.0Z" fill="#14147a"/><path d="M382.7 709.9 C427.3 683.8 480.9 668.4 561.2 691.5" stroke="#3c90f8" stroke-width="7" fill="none" opacity="0.85" filter="url(#blur2)"/><path d="M422.0 745.3 C422.0 709.9 457.7 691.5 493.4 691.5 C525.5 691.5 543.4 703.8 555.8 714.6" stroke="#3030d8" stroke-width="3.5" fill="none"/><path d="M436.2 742.2 C454.1 722.2 493.4 719.2 534.4 729.9" stroke="#2a2ac8" stroke-width="3.5" fill="none"/><path d="M445.2 751.5 C463.0 737.6 489.8 734.5 525.5 745.3" stroke="#2222b0" stroke-width="2.5" fill="none"/><path d="M391.6 756.1 C409.5 737.6 463.0 737.6 489.8 756.1Z" fill="#000"/><path d="M534.4 756.1 C543.4 729.9 561.2 722.2 570.1 722.2 V760.69Z" fill="#000"/><path d="M382.7 663.8 C436.2 645.3 507.6 617.7 561.2 611.5" stroke="#c03c90" stroke-width="1.2" fill="none" opacity="0.8"/><path d="M559.4 603.8 V737.6200000000001" stroke="#c03c90" stroke-width="1.2" opacity="0.6"/><path d="M551.7 651.3h0M523.7 653.3h0M505.2 627.7h0M432.7 667.9h0M527.6 660.0h0M497.6 686.2h0M544.7 683.8h0M496.8 648.1h0M459.6 673.5h0M428.8 651.4h0M472.6 712.0h0M553.9 632.7h0M485.8 644.2h0M445.1 651.5h0M468.4 662.4h0M453.6 654.1h0M472.7 645.8h0M409.3 688.6h0M397.4 667.9h0M543.8 642.6h0M411.3 725.1h0M554.0 714.7h0M407.0 701.5h0M516.3 652.1h0M484.3 686.8h0M396.1 687.6h0M395.0 692.8h0M496.3 636.0h0M492.2 637.0h0M549.9 696.0h0M453.8 654.0h0M540.1 636.4h0M505.1 648.8h0M524.1 713.6h0M502.8 632.5h0M490.9 743.0h0M445.4 683.9h0M393.4 692.3h0M482.6 734.0h0M389.3 676.1h0M404.1 729.6h0M396.9 667.8h0M489.3 628.0h0M491.7 656.9h0M452.9 689.0h0M520.0 659.5h0M428.6 645.1h0M505.8 674.8h0M494.7 634.8h0M383.0 697.5h0M392.4 682.9h0M435.7 684.8h0M554.7 631.4h0M418.8 718.7h0M498.5 650.0h0M446.8 644.7h0M415.6 688.7h0M527.1 629.3h0M422.5 684.6h0M423.7 693.5h0M504.2 660.0h0M559.9 643.3h0M489.4 635.9h0M403.5 677.2h0M527.5 635.4h0M554.0 669.0h0M500.2 623.3h0M505.7 728.9h0M544.0 629.8h0M465.4 664.9h0M499.9 655.7h0M396.1 733.4h0M437.3 665.0h0M450.8 658.6h0M458.7 716.9h0M491.7 647.1h0M558.2 648.1h0M521.1 661.4h0M400.2 750.4h0M527.5 698.7h0M484.6 664.1h0M406.3 711.6h0M429.9 659.9h0M519.3 633.4h0M505.1 629.3h0M533.1 676.9h0M393.8 669.2h0M471.7 748.8h0M558.3 637.4h0M452.2 659.2h0M392.5 691.6h0M400.5 699.8h0M510.1 648.1h0M499.5 643.5h0M443.0 654.2h0M522.2 650.8h0M536.6 648.7h0M387.2 744.8h0M539.9 677.4h0M465.2 665.3h0M546.6 709.1h0M516.2 626.0h0M456.5 642.3h0M429.6 691.7h0M506.3 639.7h0M528.1 707.6h0M488.6 635.5h0M495.2 665.8h0M467.0 693.8h0M536.3 674.8h0M554.0 671.1h0M525.4 737.4h0M403.7 678.4h0M466.1 668.7h0M495.4 651.3h0" stroke="#ff5cc8" stroke-width="2.0" stroke-linecap="round" fill="none" /><path d="M388.4 684.6h0M452.5 684.0h0M410.7 682.8h0M508.0 713.4h0M427.6 752.0h0M560.7 736.6h0M481.5 732.5h0M549.2 661.4h0M427.6 703.3h0M495.3 658.4h0M442.7 717.7h0M559.6 626.5h0M428.4 657.3h0M473.5 642.9h0M387.4 698.2h0M556.5 624.7h0M535.6 629.6h0M545.9 642.8h0M441.4 649.0h0M480.6 642.1h0M406.8 670.6h0M475.8 658.5h0M518.9 643.9h0M427.3 655.9h0M488.2 636.6h0M421.1 672.8h0M483.7 700.6h0M415.9 700.6h0M539.4 704.9h0M444.5 662.2h0M468.5 642.7h0M464.8 677.5h0M544.1 644.2h0M463.0 677.4h0M493.7 645.7h0M398.7 715.5h0M484.4 653.9h0M500.1 644.7h0M430.7 692.4h0M395.4 688.8h0M409.5 663.7h0M398.5 679.0h0M483.3 688.9h0M401.4 674.3h0M473.4 639.7h0M476.4 639.6h0M512.3 642.0h0M496.7 636.8h0M478.8 746.3h0M418.4 718.5h0M450.2 673.8h0M443.5 646.3h0M527.4 659.8h0M415.1 675.6h0M542.8 652.2h0M464.8 663.7h0M428.6 665.1h0M405.9 667.1h0M491.4 642.8h0M388.4 688.6h0M558.3 652.2h0M517.7 651.3h0M546.1 641.7h0M539.2 654.6h0M496.5 702.3h0M411.5 674.3h0M529.1 623.6h0M517.0 624.7h0M413.6 705.3h0M462.4 639.3h0M479.3 654.9h0M472.2 667.9h0M510.9 632.6h0M533.2 699.9h0M388.7 684.2h0M427.6 662.6h0M532.2 751.0h0M523.1 630.6h0M430.9 649.0h0M541.1 657.2h0M390.3 681.6h0M406.0 671.7h0M451.1 655.3h0M391.1 673.8h0M475.3 643.7h0" stroke="#f0e8ff" stroke-width="1.6" stroke-linecap="round" fill="none" /></g><text x="27.5" y="625.9" font-size="23" font-weight="bold" fill="#fff" >C</text><text x="105.2" y="628.7" font-size="23" font-weight="bold" fill="#fff">Control</text><text x="293.5" y="628.1" font-size="23" font-weight="bold" fill="#fff">Cyst-C</text><text x="441.5" y="628.1" font-size="23" font-weight="bold" fill="#fff">Cyst-C<tspan font-size="14.8" dy="-9">L68Q</tspan></text><rect x="153.4" y="722.8" width="35.0" height="5.0" fill="#fff" /><text x="126.0" y="747.0" font-size="19.5" font-weight="bold" fill="#fff">400 μm</text><rect x="336.4" y="722.8" width="35.0" height="5.0" fill="#fff" /><text x="309.1" y="747.0" font-size="19.5" font-weight="bold" fill="#fff">400 μm</text><rect x="518.4" y="722.8" width="35.0" height="5.0" fill="#fff" /><text x="491.1" y="747.0" font-size="19.5" font-weight="bold" fill="#fff">400 μm</text><rect x="123.7" y="774.7" width="21" height="11" fill="#fcd9dc" stroke="#d42a2e" stroke-width="2"/><rect x="248.2" y="774.7" width="21" height="11" fill="#c4f1c2" stroke="#1d7a22" stroke-width="2"/><rect x="357" y="774.7" width="21" height="11" fill="#bbbbf7" stroke="#1c1c8e" stroke-width="2"/><text x="158.5" y="787.8" font-size="19.5" font-weight="bold" fill="#000" >Control</text><text x="282.1" y="787.3" font-size="19.5" font-weight="bold" fill="#000" >Cyst-C</text><text x="390.5" y="791.3" font-size="19.5" font-weight="bold" fill="#000">Cyst-C<tspan font-size="15" dy="-8">L68Q</tspan></text><rect x="123.7" y="1058.4" width="21" height="11" fill="#fcd9dc" stroke="#d42a2e" stroke-width="2"/><rect x="248.2" y="1058.4" width="21" height="11" fill="#c4f1c2" stroke="#1d7a22" stroke-width="2"/><rect x="357" y="1058.4" width="21" height="11" fill="#bbbbf7" stroke="#1c1c8e" stroke-width="2"/><text x="158.5" y="1071.5" font-size="19.5" font-weight="bold" fill="#000" >Control</text><text x="282.1" y="1071.0" font-size="19.5" font-weight="bold" fill="#000" >Cyst-C</text><text x="390.5" y="1075.0" font-size="19.5" font-weight="bold" fill="#000">Cyst-C<tspan font-size="15" dy="-8">L68Q</tspan></text><path d="M100.2 797.6V1017.6H199.6" stroke="#000" stroke-width="2.4" fill="none"/><line x1="100.2" y1="798.6" x2="107.2" y2="798.6" stroke="#000" stroke-width="2.4" /><line x1="100.2" y1="871.2" x2="107.2" y2="871.2" stroke="#000" stroke-width="2.4" /><line x1="100.2" y1="944.6" x2="107.2" y2="944.6" stroke="#000" stroke-width="2.4" /><path d="M224.6 797.6V1017.6H323.3" stroke="#000" stroke-width="2.4" fill="none"/><line x1="224.6" y1="798.6" x2="231.6" y2="798.6" stroke="#000" stroke-width="2.4" /><line x1="224.6" y1="871.2" x2="231.6" y2="871.2" stroke="#000" stroke-width="2.4" /><line x1="224.6" y1="944.6" x2="231.6" y2="944.6" stroke="#000" stroke-width="2.4" /><path d="M335.5 797.6V1017.6H434.5" stroke="#000" stroke-width="2.4" fill="none"/><line x1="335.5" y1="798.6" x2="342.5" y2="798.6" stroke="#000" stroke-width="2.4" /><line x1="335.5" y1="871.2" x2="342.5" y2="871.2" stroke="#000" stroke-width="2.4" /><line x1="335.5" y1="944.6" x2="342.5" y2="944.6" stroke="#000" stroke-width="2.4" /><path d="M447.7 797.6V1017.6H547.5" stroke="#000" stroke-width="2.4" fill="none"/><line x1="447.7" y1="798.6" x2="454.7" y2="798.6" stroke="#000" stroke-width="2.4" /><line x1="447.7" y1="871.2" x2="454.7" y2="871.2" stroke="#000" stroke-width="2.4" /><line x1="447.7" y1="944.6" x2="454.7" y2="944.6" stroke="#000" stroke-width="2.4" /><text x="72.2" y="805.8" font-size="20.5" font-weight="bold" fill="#000">12</text><text x="83.4" y="878.2" font-size="20.5" font-weight="bold" fill="#000">8</text><text x="82.9" y="951.7" font-size="20.5" font-weight="bold" fill="#000">4</text><text x="83.5" y="1024.7" font-size="20.5" font-weight="bold" fill="#000">0</text><rect x="113.9" y="954.6" width="22.4" height="63.0" fill="#fcd9dc" stroke="#d42a2e" stroke-width="2"/><path d="M125.1 955.6V948.6M118.6 948.6H131.6" stroke="#d42a2e" stroke-width="2" fill="none"/><g fill="#c83a48"><circle cx="127.5" cy="930.0" r="1.4"/><circle cx="126.9" cy="933.0" r="1.4"/><circle cx="124.5" cy="935.0" r="1.4"/><circle cx="123.4" cy="960.0" r="1.4"/><circle cx="125.2" cy="965.0" r="1.4"/><circle cx="124.4" cy="972.0" r="1.4"/><circle cx="127.1" cy="980.0" r="1.4"/></g><rect x="143.9" y="975.5" width="22.9" height="42.1" fill="#c4f1c2" stroke="#1d7a22" stroke-width="2"/><path d="M155.4 976.5V968.5M148.9 968.5H161.9" stroke="#1d7a22" stroke-width="2" fill="none"/><g fill="#1f7a22"><circle cx="152.8" cy="942.0" r="1.4"/><circle cx="157.8" cy="967.0" r="1.4"/><circle cx="157.2" cy="978.0" r="1.4"/><circle cx="153.6" cy="988.0" r="1.4"/><circle cx="155.3" cy="992.0" r="1.4"/><circle cx="155.0" cy="999.0" r="1.4"/></g><rect x="174.7" y="942.8" width="22.4" height="74.8" fill="#bbbbf7" stroke="#1c1c8e" stroke-width="2"/><path d="M185.9 943.8V936.8M179.4 936.8H192.4" stroke="#1c1c8e" stroke-width="2" fill="none"/><g fill="#1f1f90"><circle cx="189.1" cy="930.0" r="1.4"/><circle cx="189.0" cy="935.0" r="1.4"/><circle cx="182.8" cy="937.0" r="1.4"/><circle cx="183.0" cy="945.0" r="1.4"/><circle cx="188.2" cy="952.0" r="1.4"/><circle cx="187.6" cy="958.0" r="1.4"/></g><rect x="236.8" y="938.6" width="22.2" height="79.0" fill="#fcd9dc" stroke="#d42a2e" stroke-width="2"/><path d="M247.9 939.6V932.6M241.4 932.6H254.4" stroke="#d42a2e" stroke-width="2" fill="none"/><g fill="#c83a48"><circle cx="248.4" cy="921.0" r="1.4"/><circle cx="247.4" cy="925.0" r="1.4"/><circle cx="248.4" cy="950.0" r="1.4"/><circle cx="245.8" cy="962.0" r="1.4"/><circle cx="250.1" cy="968.0" r="1.4"/></g><rect x="267.9" y="958.8" width="22.1" height="58.8" fill="#c4f1c2" stroke="#1d7a22" stroke-width="2"/><path d="M278.9 959.8V948.8M272.4 948.8H285.4" stroke="#1d7a22" stroke-width="2" fill="none"/><g fill="#1f7a22"><circle cx="278.6" cy="925.0" r="1.4"/><circle cx="279.4" cy="950.0" r="1.4"/><circle cx="281.9" cy="963.0" r="1.4"/><circle cx="278.7" cy="985.0" r="1.4"/><circle cx="279.0" cy="990.0" r="1.4"/></g><rect x="298.5" y="935.0" width="22.3" height="82.6" fill="#bbbbf7" stroke="#1c1c8e" stroke-width="2"/><path d="M309.6 936.0V927.0M303.1 927.0H316.1" stroke="#1c1c8e" stroke-width="2" fill="none"/><g fill="#1f1f90"><circle cx="309.5" cy="912.0" r="1.4"/><circle cx="310.8" cy="917.0" r="1.4"/><circle cx="310.8" cy="926.0" r="1.4"/><circle cx="307.1" cy="942.0" r="1.4"/><circle cx="306.2" cy="950.0" r="1.4"/><circle cx="308.8" cy="962.0" r="1.4"/></g><rect x="348.0" y="957.8" width="22.7" height="59.8" fill="#fcd9dc" stroke="#d42a2e" stroke-width="2"/><path d="M359.4 958.8V949.8M352.9 949.8H365.9" stroke="#d42a2e" stroke-width="2" fill="none"/><g fill="#c83a48"><circle cx="362.2" cy="932.0" r="1.4"/><circle cx="360.7" cy="945.0" r="1.4"/><circle cx="361.2" cy="960.0" r="1.4"/><circle cx="362.2" cy="975.0" r="1.4"/><circle cx="357.7" cy="983.0" r="1.4"/></g><rect x="378.7" y="987.6" width="23.1" height="30.0" fill="#c4f1c2" stroke="#1d7a22" stroke-width="2"/><path d="M390.2 988.6V982.6M383.8 982.6H396.8" stroke="#1d7a22" stroke-width="2" fill="none"/><g fill="#1f7a22"><circle cx="387.9" cy="965.0" r="1.4"/><circle cx="391.6" cy="975.0" r="1.4"/><circle cx="391.2" cy="985.0" r="1.4"/><circle cx="390.1" cy="990.0" r="1.4"/><circle cx="388.3" cy="995.0" r="1.4"/><circle cx="392.3" cy="998.0" r="1.4"/></g><rect x="409.8" y="958.8" width="22.2" height="58.8" fill="#bbbbf7" stroke="#1c1c8e" stroke-width="2"/><path d="M420.9 959.8V949.8M414.4 949.8H427.4" stroke="#1c1c8e" stroke-width="2" fill="none"/><g fill="#1f1f90"><circle cx="424.1" cy="930.0" r="1.4"/><circle cx="418.4" cy="937.0" r="1.4"/><circle cx="417.6" cy="950.0" r="1.4"/><circle cx="424.4" cy="962.0" r="1.4"/><circle cx="418.7" cy="980.0" r="1.4"/></g><rect x="461.0" y="907.5" width="22.3" height="110.1" fill="#fcd9dc" stroke="#d42a2e" stroke-width="2"/><path d="M472.1 908.5V900.5M465.6 900.5H478.6" stroke="#d42a2e" stroke-width="2" fill="none"/><g fill="#c83a48"><circle cx="472.4" cy="890.0" r="1.4"/><circle cx="470.7" cy="895.0" r="1.4"/><circle cx="468.9" cy="900.0" r="1.4"/><circle cx="473.2" cy="910.0" r="1.4"/><circle cx="470.1" cy="925.0" r="1.4"/><circle cx="470.5" cy="937.0" r="1.4"/></g><rect x="491.7" y="941.8" width="22.7" height="75.8" fill="#c4f1c2" stroke="#1d7a22" stroke-width="2"/><path d="M503.0 942.8V934.8M496.5 934.8H509.5" stroke="#1d7a22" stroke-width="2" fill="none"/><g fill="#1f7a22"><circle cx="499.6" cy="918.0" r="1.4"/><circle cx="500.3" cy="930.0" r="1.4"/><circle cx="502.3" cy="945.0" r="1.4"/><circle cx="504.3" cy="955.0" r="1.4"/><circle cx="500.5" cy="967.0" r="1.4"/></g><rect x="522.9" y="916.6" width="22.1" height="101.0" fill="#bbbbf7" stroke="#1c1c8e" stroke-width="2"/><path d="M534.0 917.6V904.6M527.5 904.6H540.5" stroke="#1c1c8e" stroke-width="2" fill="none"/><g fill="#1f1f90"><circle cx="531.0" cy="878.0" r="1.4"/><circle cx="531.9" cy="890.0" r="1.4"/><circle cx="532.6" cy="905.0" r="1.4"/><circle cx="536.8" cy="920.0" r="1.4"/><circle cx="533.9" cy="935.0" r="1.4"/><circle cx="535.5" cy="945.0" r="1.4"/></g><text x="120.5" y="1043.2" font-size="21.5" font-weight="bold" fill="#000">Cortex</text><text x="228.3" y="1043.5" font-size="21.5" font-weight="bold" fill="#000">Thalamus</text><text x="370.6" y="1043.2" font-size="21.5" font-weight="bold" fill="#000">DG</text><text x="479.9" y="1043.2" font-size="21.5" font-weight="bold" fill="#000">BLA</text><path d="M125.5 861.3V852.9H188.2V861.3" stroke="#111" stroke-width="2.2" fill="none"/><text x="135.8" y="849.8" font-size="26.5" font-weight="normal" fill="#000">n.s.</text><path d="M125.5 890.5V882.3H157.9V890.5" stroke="#111" stroke-width="2.2" fill="none"/><text x="133.1" y="887.8" font-size="22" font-weight="normal" fill="#000">**</text><path d="M247.2 855.0V846.0H310.4V855.0" stroke="#111" stroke-width="2.2" fill="none"/><text x="257.7" y="843.7" font-size="26.5" font-weight="normal" fill="#000">n.s.</text><path d="M247.2 884.5V876.7H279.2V884.5" stroke="#111" stroke-width="2.2" fill="none"/><text x="258.9" y="881.2" font-size="22" font-weight="normal" fill="#000">*</text><path d="M358.4 858.4V850.6H421.0V858.4" stroke="#111" stroke-width="2.2" fill="none"/><text x="368.6" y="847.5" font-size="26.5" font-weight="normal" fill="#000">n.s.</text><path d="M358.4 889.0V880.0H391.4V889.0" stroke="#111" stroke-width="2.2" fill="none"/><text x="362.0" y="884.8" font-size="22" font-weight="normal" fill="#000">***</text><path d="M471.5 837.0V828.7H535.6V837.0" stroke="#111" stroke-width="2.2" fill="none"/><text x="482.4" y="825.0" font-size="26.5" font-weight="normal" fill="#000">n.s.</text><path d="M471.5 866.0V857.0H504.5V866.0" stroke="#111" stroke-width="2.2" fill="none"/><text x="479.4" y="862.2" font-size="22" font-weight="normal" fill="#000">**</text><text x="0" y="0" font-size="21" font-weight="bold" transform="translate(34 904.5) rotate(-90)" text-anchor="middle">Aβ<tspan font-size="14" dy="5">1-16</tspan></text><text x="-15.9" y="909.9" font-size="21" font-weight="bold" fill="#000" transform="rotate(-90 59.0 904.5)">plaque (area%)</text><path d="M100.2 1081V1301H202.0" stroke="#000" stroke-width="2.4" fill="none"/><line x1="100.2" y1="1082.0" x2="107.2" y2="1082.0" stroke="#000" stroke-width="2.4" /><line x1="100.2" y1="1155.4" x2="107.2" y2="1155.4" stroke="#000" stroke-width="2.4" /><line x1="100.2" y1="1227.7" x2="107.2" y2="1227.7" stroke="#000" stroke-width="2.4" /><path d="M224.6 1081V1301H323.3" stroke="#000" stroke-width="2.4" fill="none"/><line x1="224.6" y1="1082.0" x2="231.6" y2="1082.0" stroke="#000" stroke-width="2.4" /><line x1="224.6" y1="1155.4" x2="231.6" y2="1155.4" stroke="#000" stroke-width="2.4" /><line x1="224.6" y1="1227.7" x2="231.6" y2="1227.7" stroke="#000" stroke-width="2.4" /><path d="M335.5 1081V1301H434.5" stroke="#000" stroke-width="2.4" fill="none"/><line x1="335.5" y1="1082.0" x2="342.5" y2="1082.0" stroke="#000" stroke-width="2.4" /><line x1="335.5" y1="1155.4" x2="342.5" y2="1155.4" stroke="#000" stroke-width="2.4" /><line x1="335.5" y1="1227.7" x2="342.5" y2="1227.7" stroke="#000" stroke-width="2.4" /><path d="M447.7 1081V1301H547.5" stroke="#000" stroke-width="2.4" fill="none"/><line x1="447.7" y1="1082.0" x2="454.7" y2="1082.0" stroke="#000" stroke-width="2.4" /><line x1="447.7" y1="1155.4" x2="454.7" y2="1155.4" stroke="#000" stroke-width="2.4" /><line x1="447.7" y1="1227.7" x2="454.7" y2="1227.7" stroke="#000" stroke-width="2.4" /><text x="66.3" y="1088.9" font-size="20.5" font-weight="bold" fill="#000">4.5</text><text x="66.6" y="1162.5" font-size="20.5" font-weight="bold" fill="#000">3.0</text><text x="66.3" y="1234.6" font-size="20.5" font-weight="bold" fill="#000">1.5</text><text x="66.6" y="1308.0" font-size="20.5" font-weight="bold" fill="#000">0.0</text><rect x="115.4" y="1234.2" width="23.2" height="66.8" fill="#fcd9dc" stroke="#d42a2e" stroke-width="2"/><path d="M127.0 1235.2V1229.2M120.5 1229.2H133.5" stroke="#d42a2e" stroke-width="2" fill="none"/><g fill="#c83a48"><circle cx="129.4" cy="1218.0" r="1.4"/><circle cx="128.8" cy="1225.0" r="1.4"/><circle cx="126.4" cy="1240.0" r="1.4"/><circle cx="125.3" cy="1250.0" r="1.4"/><circle cx="127.1" cy="1262.0" r="1.4"/></g><rect x="146.6" y="1254.8" width="22.7" height="46.2" fill="#c4f1c2" stroke="#1d7a22" stroke-width="2"/><path d="M157.9 1255.8V1248.8M151.4 1248.8H164.4" stroke="#1d7a22" stroke-width="2" fill="none"/><g fill="#1f7a22"><circle cx="155.4" cy="1232.0" r="1.4"/><circle cx="160.4" cy="1245.0" r="1.4"/><circle cx="159.8" cy="1258.0" r="1.4"/><circle cx="156.2" cy="1268.0" r="1.4"/><circle cx="157.9" cy="1275.0" r="1.4"/></g><rect x="177.2" y="1237.0" width="22.3" height="64.0" fill="#bbbbf7" stroke="#1c1c8e" stroke-width="2"/><path d="M188.3 1238.0V1231.0M181.8 1231.0H194.8" stroke="#1c1c8e" stroke-width="2" fill="none"/><g fill="#1f1f90"><circle cx="191.5" cy="1222.0" r="1.4"/><circle cx="191.5" cy="1228.0" r="1.4"/><circle cx="185.2" cy="1240.0" r="1.4"/><circle cx="185.4" cy="1245.0" r="1.4"/><circle cx="190.7" cy="1250.0" r="1.4"/></g><rect x="236.8" y="1211.3" width="22.2" height="89.7" fill="#fcd9dc" stroke="#d42a2e" stroke-width="2"/><path d="M247.9 1212.3V1204.3M241.4 1204.3H254.4" stroke="#d42a2e" stroke-width="2" fill="none"/><g fill="#c83a48"><circle cx="248.4" cy="1195.0" r="1.4"/><circle cx="247.4" cy="1205.0" r="1.4"/><circle cx="248.4" cy="1215.0" r="1.4"/><circle cx="245.8" cy="1225.0" r="1.4"/><circle cx="250.1" cy="1240.0" r="1.4"/></g><rect x="267.9" y="1235.6" width="22.1" height="65.4" fill="#c4f1c2" stroke="#1d7a22" stroke-width="2"/><path d="M278.9 1236.6V1229.6M272.4 1229.6H285.4" stroke="#1d7a22" stroke-width="2" fill="none"/><g fill="#1f7a22"><circle cx="278.6" cy="1212.0" r="1.4"/><circle cx="279.4" cy="1220.0" r="1.4"/><circle cx="281.9" cy="1240.0" r="1.4"/><circle cx="278.7" cy="1255.0" r="1.4"/><circle cx="279.0" cy="1265.0" r="1.4"/></g><rect x="298.5" y="1211.7" width="22.3" height="89.3" fill="#bbbbf7" stroke="#1c1c8e" stroke-width="2"/><path d="M309.6 1212.7V1201.7M303.1 1201.7H316.1" stroke="#1c1c8e" stroke-width="2" fill="none"/><g fill="#1f1f90"><circle cx="309.5" cy="1190.0" r="1.4"/><circle cx="310.8" cy="1198.0" r="1.4"/><circle cx="310.8" cy="1215.0" r="1.4"/><circle cx="307.1" cy="1230.0" r="1.4"/><circle cx="306.2" cy="1245.0" r="1.4"/></g><rect x="348.0" y="1237.0" width="22.7" height="64.0" fill="#fcd9dc" stroke="#d42a2e" stroke-width="2"/><path d="M359.4 1238.0V1228.0M352.9 1228.0H365.9" stroke="#d42a2e" stroke-width="2" fill="none"/><g fill="#c83a48"><circle cx="362.2" cy="1215.0" r="1.4"/><circle cx="360.7" cy="1222.0" r="1.4"/><circle cx="361.2" cy="1240.0" r="1.4"/><circle cx="362.2" cy="1255.0" r="1.4"/><circle cx="357.7" cy="1268.0" r="1.4"/></g><rect x="378.7" y="1271.0" width="23.1" height="30.0" fill="#c4f1c2" stroke="#1d7a22" stroke-width="2"/><path d="M390.2 1272.0V1265.0M383.8 1265.0H396.8" stroke="#1d7a22" stroke-width="2" fill="none"/><g fill="#1f7a22"><circle cx="387.9" cy="1252.0" r="1.4"/><circle cx="391.6" cy="1258.0" r="1.4"/><circle cx="391.2" cy="1272.0" r="1.4"/><circle cx="390.1" cy="1278.0" r="1.4"/><circle cx="388.3" cy="1282.0" r="1.4"/></g><rect x="409.8" y="1252.5" width="22.2" height="48.5" fill="#bbbbf7" stroke="#1c1c8e" stroke-width="2"/><path d="M420.9 1253.5V1244.5M414.4 1244.5H427.4" stroke="#1c1c8e" stroke-width="2" fill="none"/><g fill="#1f1f90"><circle cx="424.1" cy="1218.0" r="1.4"/><circle cx="418.4" cy="1235.0" r="1.4"/><circle cx="417.6" cy="1258.0" r="1.4"/><circle cx="424.4" cy="1265.0" r="1.4"/><circle cx="418.7" cy="1268.0" r="1.4"/></g><rect x="461.0" y="1199.0" width="22.3" height="102.0" fill="#fcd9dc" stroke="#d42a2e" stroke-width="2"/><path d="M472.1 1200.0V1191.0M465.6 1191.0H478.6" stroke="#d42a2e" stroke-width="2" fill="none"/><g fill="#c83a48"><circle cx="472.4" cy="1175.0" r="1.4"/><circle cx="470.7" cy="1185.0" r="1.4"/><circle cx="468.9" cy="1190.0" r="1.4"/><circle cx="473.2" cy="1210.0" r="1.4"/><circle cx="470.1" cy="1225.0" r="1.4"/><circle cx="470.5" cy="1235.0" r="1.4"/></g><rect x="491.7" y="1223.2" width="22.7" height="77.8" fill="#c4f1c2" stroke="#1d7a22" stroke-width="2"/><path d="M503.0 1224.2V1216.2M496.5 1216.2H509.5" stroke="#1d7a22" stroke-width="2" fill="none"/><g fill="#1f7a22"><circle cx="499.6" cy="1195.0" r="1.4"/><circle cx="500.3" cy="1205.0" r="1.4"/><circle cx="502.3" cy="1215.0" r="1.4"/><circle cx="504.3" cy="1230.0" r="1.4"/><circle cx="500.5" cy="1245.0" r="1.4"/></g><rect x="522.9" y="1199.0" width="22.1" height="102.0" fill="#bbbbf7" stroke="#1c1c8e" stroke-width="2"/><path d="M534.0 1200.0V1190.0M527.5 1190.0H540.5" stroke="#1c1c8e" stroke-width="2" fill="none"/><g fill="#1f1f90"><circle cx="531.0" cy="1162.0" r="1.4"/><circle cx="531.9" cy="1180.0" r="1.4"/><circle cx="532.6" cy="1190.0" r="1.4"/><circle cx="536.8" cy="1200.0" r="1.4"/><circle cx="533.9" cy="1215.0" r="1.4"/><circle cx="535.5" cy="1250.0" r="1.4"/></g><text x="122.5" y="1325.9" font-size="21.5" font-weight="bold" fill="#000">Cortex</text><text x="228.3" y="1326.2" font-size="21.5" font-weight="bold" fill="#000">Thalamus</text><text x="370.6" y="1325.9" font-size="21.5" font-weight="bold" fill="#000">DG</text><text x="479.9" y="1325.9" font-size="21.5" font-weight="bold" fill="#000">BLA</text><path d="M125.9 1160.0V1150.8H188.6V1160.0" stroke="#111" stroke-width="2.2" fill="none"/><text x="136.2" y="1148.0" font-size="26.5" font-weight="normal" fill="#000">n.s.</text><path d="M125.9 1190.0V1182.0H158.0V1190.0" stroke="#111" stroke-width="2.2" fill="none"/><text x="133.3" y="1187.2" font-size="22" font-weight="normal" fill="#000">**</text><path d="M247.2 1118.7V1109.6H310.4V1118.7" stroke="#111" stroke-width="2.2" fill="none"/><text x="257.7" y="1107.5" font-size="26.5" font-weight="normal" fill="#000">n.s.</text><path d="M247.2 1149.0V1139.8H279.2V1149.0" stroke="#111" stroke-width="2.2" fill="none"/><text x="258.9" y="1144.2" font-size="22" font-weight="normal" fill="#000">*</text><path d="M358.4 1126.0V1117.0H421.0V1126.0" stroke="#111" stroke-width="2.2" fill="none"/><text x="368.6" y="1114.5" font-size="26.5" font-weight="normal" fill="#000">n.s.</text><path d="M358.4 1155.4V1146.7H391.4V1155.4" stroke="#111" stroke-width="2.2" fill="none"/><text x="366.3" y="1151.2" font-size="22" font-weight="normal" fill="#000">**</text><path d="M471.5 1130.6V1121.5H535.6V1130.6" stroke="#111" stroke-width="2.2" fill="none"/><text x="482.4" y="1119.0" font-size="26.5" font-weight="normal" fill="#000">n.s.</text><path d="M471.5 1164.5V1155.8H504.5V1164.5" stroke="#111" stroke-width="2.2" fill="none"/><text x="466.9" y="1153.0" font-size="26.5" font-weight="normal" fill="#000">n.s.</text><text x="-30.8" y="1197.2" font-size="20.8" font-weight="bold" fill="#000" transform="rotate(-90 28.5 1189.8)">Thioflavin-S</text><text x="-15.9" y="1194.4" font-size="21" font-weight="bold" fill="#000" transform="rotate(-90 59.0 1189.0)">plaque (area%)</text><text x="585.3" y="624.8" font-size="23" font-weight="bold" fill="#000" >D</text><ellipse cx="745" cy="780" rx="75" ry="150" fill="#f8d4d4" opacity="0.45" filter="url(#blur15)"/><path d="M722 618 L795 618 C797 660 800 700 797 718 C815 722 828 745 830 780 C833 830 832 890 827 918 C823 934 810 936 795 926 C770 906 735 882 712 857 C695 837 688 815 688 790 C686 740 700 690 712 660 C716 640 720 625 722 618Z" fill="#f6c4c4" opacity="0.5" filter="url(#blur10)"/><path d="M722 618 L795 618 C797 660 800 700 797 718 C815 722 828 745 830 780 C833 830 832 890 827 918 C823 934 810 936 795 926 C770 906 735 882 712 857 C695 837 688 815 688 790 C686 740 700 690 712 660 C716 640 720 625 722 618Z" fill="#fae6e6" stroke="#f3d0d0" stroke-width="1.5"/><path d="M728 624 C728 680 712 720 706 780 C702 830 760 880 812 912" stroke="#fdf4f4" stroke-width="9" fill="none" opacity="0.9"/><ellipse cx="792" cy="790" rx="31" ry="64" fill="#f8e0e0" stroke="#f2cccc" stroke-width="1.5"/><ellipse cx="798" cy="792" rx="19" ry="48" fill="#fcefef"/><g stroke="#c0578a" stroke-width="0.8" fill="none" opacity="0.85"><path d="M719 732 L705 718 M710 723 L700 724 M712 726 L706 712 M705 718 L698 710 M705 718 L702 706 M719 732 L738 742 L750 752 M738 742 L748 738 M744 747 L752 758 M744 747 L740 760"/><path d="M707.6 757 L696 745 M700 749 L690 748 M700 749 L697 738 M696 745 L688 738 M707.6 757 L728 762 L742 770 M728 762 L738 756 M735 766 L745 776 M735 766 L730 780"/><path d="M708.8 781 L697 770 M701 774 L692 775 M701 774 L698 762 M697 770 L689 765 M708.8 781 L730 788 L742 795 M730 788 L740 782 M736 791 L746 800 M736 791 L731 805"/></g><g fill="#a03060"><circle cx="719" cy="732" r="1.6"/><circle cx="707.6" cy="757" r="1.6"/><circle cx="708.8" cy="781" r="1.6"/></g><path d="M758.5 669 C738 700 720 740 719 778 C719 815 740 840 762 858" stroke="#a6a6a6" stroke-width="3.6" fill="none" stroke-linecap="round"/><path d="M758.5 823 L748 803" stroke="#a6a6a6" stroke-width="3.6"/><path d="M741 789 L742 809 L757.3 800.7Z" fill="#a6a6a6"/><g stroke="#8a8a8a" stroke-width="1" fill="none"><path d="M700 651.5 L689 656.5 L700 661 Z"/><path d="M700 656.5 L711 652 L712.5 666"/><ellipse cx="712.5" cy="667.5" rx="3.8" ry="2.6" transform="rotate(-25 712.5 667.5)"/><path d="M709 668 L728 729 M716 667 L730 729"/></g><g stroke="#8a8a8a" stroke-width="1" fill="none"><path d="M730 824 L712 845"/><path d="M712 845 L695 862 L692 858 L709 841Z" fill="#f4f4f4"/><path d="M693 861 L686 867 C680 875 678 885 680 898"/></g><text x="585.0" y="669.1" font-size="19.5" font-weight="bold" fill="#000" >Recording</text><text x="647.2" y="773.8" font-size="19" font-weight="bold" fill="#000" >CA1</text><text x="774.4" y="842.0" font-size="19.3" font-weight="bold" fill="#000" >Schaffer</text><text x="804.1" y="893.6" font-size="19.5" font-weight="bold" fill="#000" >CA3</text><text x="635.4" y="921.4" font-size="19.5" font-weight="bold" fill="#000" >Stimulation</text><text x="869.6" y="626.3" font-size="19.3" font-weight="bold" fill="#000" >WT-Cyst-C</text><text x="1058.2" y="626.3" font-size="19.3" font-weight="bold" fill="#000">WT-Cyst-C<tspan font-size="13.6" dy="-7.5">L68Q</tspan></text><text x="869.0" y="810.0" font-size="19.3" font-weight="bold" fill="#000" >5×FAD-Cyst-C</text><text x="1057.6" y="810.0" font-size="19.3" font-weight="bold" fill="#000">5×FAD-Cyst-C<tspan font-size="13.6" dy="-7.5">L68Q</tspan></text><path d="M895.7 650.0 L895.7 634.0 L896.7 650.0 L897.2 666.5 L897.7 679.3 L898.2 689.0 L898.7 696.2 L899.2 701.5 L899.7 705.2 L900.2 707.7 L900.7 709.2 L901.2 709.9 L901.7 710.0 L902.2 709.6 L902.7 708.8 L903.2 707.8 L903.7 706.5 L904.2 705.1 L904.7 703.6 L905.2 702.0 L905.7 700.4 L906.2 698.7 L906.7 697.0 L907.2 695.4 L907.7 693.7 L908.2 692.1 L908.7 690.5 L909.2 689.0 L909.7 687.5 L910.2 686.0 L910.7 684.6 L911.2 683.2 L911.7 681.9 L912.2 680.7 L912.7 679.4 L913.2 678.3 L913.7 677.1 L914.2 676.0 L914.7 675.0 L915.2 674.0 L915.7 673.0 L916.2 672.1 L916.7 671.2 L917.2 670.3 L917.7 669.5 L918.2 668.7 L918.7 667.9 L919.2 667.2 L919.7 666.5 L920.2 665.8 L920.7 665.2 L921.2 664.6 L921.7 664.0 L922.2 663.4 L922.7 662.9 L923.2 662.3 L923.7 661.8 L924.2 661.3 L924.7 660.9 L925.2 660.4 L925.7 660.0 L926.2 659.6 L926.7 659.2 L927.2 658.8 L927.7 658.5 L928.2 658.1 L928.7 657.8 L929.2 657.5 L929.7 657.2 L930.2 656.9 L930.7 656.6 L931.2 656.3 L931.7 656.1 L932.2 655.8 L932.7 655.6 L933.2 655.4 L933.7 655.1 L934.2 654.9 L934.7 654.7 L935.2 654.5 L935.7 654.4 L936.2 654.2 L936.7 654.0 L937.2 653.8 L937.7 653.7 L938.2 653.5 L938.7 653.4 L939.2 653.3 L939.7 653.1 L940.2 653.0 L940.7 652.9 L941.2 652.8 L941.7 652.6 L942.2 652.5 L942.7 652.4 L943.2 652.3 L943.7 652.2 L944.2 652.1 L944.7 652.1 L945.2 652.0 L945.7 651.9 L946.2 651.8 L946.7 651.7 L947.2 651.7 L947.7 651.6 L948.2 651.5 L948.7 651.5 L949.2 651.4 L949.7 651.4 L950.2 651.3 L950.7 651.2 L951.2 651.2 L951.7 651.1 L952.2 651.1 L952.7 651.1 L953.2 651.0 L953.7 651.0 L954.2 650.9 L954.7 650.9 L955.2 650.9 L955.7 650.8 L956.2 650.8 L956.7 650.8 L957.2 650.7 L957.7 650.7 L958.2 650.7 L958.7 650.6 L959.2 650.6 L959.7 650.6 L960.2 650.6 L960.7 650.5 L961.2 650.5 L961.7 650.5 L962.2 650.5 L962.7 650.5 L963.2 650.4 L963.7 650.4 L964.2 650.4 L964.7 650.4 L965.2 650.4 L965.7 650.4 L966.2 650.3 L966.7 650.3 L967.2 650.3 L967.7 650.3 L968.2 650.3 L968.7 650.3 L969.2 650.3 L969.7 650.3 L970.2 650.2 L970.7 650.2 L971.2 650.2 L971.7 650.2 L972.2 650.2 L972.7 650.2 L973.2 650.2 L973.7 650.2 L974.2 650.2 L974.7 650.2 L975.2 650.2 L975.7 650.2 L976.2 650.1 L976.7 650.1 L977.2 650.1 L977.7 650.1 L978.2 650.1 L978.7 650.1 L979.2 650.1 L979.7 650.1 L980.2 650.1 L980.7 650.1 L981.2 650.1 L981.7 650.1 L982.2 650.1 L982.7 650.1 L983.2 650.1 L983.7 650.1 L984.2 650.1 L984.7 650.1 L985.2 650.1 L985.7 650.1 L986.2 650.1 L986.7 650.1 L987.2 650.1 L987.7 650.1 L988.2 650.1 L988.7 650.1 L989.2 650.1 L989.7 650.0 L990.2 650.0 L990.7 650.0 L991.2 650.0 L991.7 650.0 L992.2 650.0" stroke="#8c8c8c" stroke-width="2.4" fill="none" stroke-linejoin="round"/><path d="M895.7 650.0 L895.7 634.0 L896.7 650.0 L897.2 673.5 L897.7 692.7 L898.2 708.2 L898.7 720.7 L899.2 730.5 L899.7 738.2 L900.2 744.1 L900.7 748.4 L901.2 751.5 L901.7 753.5 L902.2 754.6 L902.7 755.0 L903.2 754.8 L903.7 754.1 L904.2 753.1 L904.7 751.7 L905.2 750.0 L905.7 748.2 L906.2 746.1 L906.7 744.0 L907.2 741.8 L907.7 739.5 L908.2 737.2 L908.7 734.9 L909.2 732.6 L909.7 730.2 L910.2 727.9 L910.7 725.6 L911.2 723.4 L911.7 721.2 L912.2 719.0 L912.7 716.9 L913.2 714.8 L913.7 712.8 L914.2 710.8 L914.7 708.9 L915.2 707.0 L915.7 705.2 L916.2 703.5 L916.7 701.7 L917.2 700.1 L917.7 698.5 L918.2 696.9 L918.7 695.4 L919.2 693.9 L919.7 692.5 L920.2 691.1 L920.7 689.8 L921.2 688.5 L921.7 687.2 L922.2 686.0 L922.7 684.8 L923.2 683.7 L923.7 682.6 L924.2 681.5 L924.7 680.5 L925.2 679.5 L925.7 678.5 L926.2 677.6 L926.7 676.7 L927.2 675.8 L927.7 675.0 L928.2 674.2 L928.7 673.4 L929.2 672.6 L929.7 671.9 L930.2 671.1 L930.7 670.5 L931.2 669.8 L931.7 669.1 L932.2 668.5 L932.7 667.9 L933.2 667.3 L933.7 666.7 L934.2 666.2 L934.7 665.7 L935.2 665.2 L935.7 664.7 L936.2 664.2 L936.7 663.7 L937.2 663.3 L937.7 662.8 L938.2 662.4 L938.7 662.0 L939.2 661.6 L939.7 661.2 L940.2 660.9 L940.7 660.5 L941.2 660.2 L941.7 659.8 L942.2 659.5 L942.7 659.2 L943.2 658.9 L943.7 658.6 L944.2 658.3 L944.7 658.0 L945.2 657.8 L945.7 657.5 L946.2 657.3 L946.7 657.0 L947.2 656.8 L947.7 656.6 L948.2 656.4 L948.7 656.2 L949.2 656.0 L949.7 655.8 L950.2 655.6 L950.7 655.4 L951.2 655.2 L951.7 655.0 L952.2 654.9 L952.7 654.7 L953.2 654.6 L953.7 654.4 L954.2 654.3 L954.7 654.1 L955.2 654.0 L955.7 653.9 L956.2 653.7 L956.7 653.6 L957.2 653.5 L957.7 653.4 L958.2 653.3 L958.7 653.2 L959.2 653.1 L959.7 653.0 L960.2 652.9 L960.7 652.8 L961.2 652.7 L961.7 652.6 L962.2 652.5 L962.7 652.4 L963.2 652.3 L963.7 652.3 L964.2 652.2 L964.7 652.1 L965.2 652.1 L965.7 652.0 L966.2 651.9 L966.7 651.9 L967.2 651.8 L967.7 651.7 L968.2 651.7 L968.7 651.6 L969.2 651.6 L969.7 651.5 L970.2 651.5 L970.7 651.4 L971.2 651.4 L971.7 651.3 L972.2 651.3 L972.7 651.2 L973.2 651.2 L973.7 651.2 L974.2 651.1 L974.7 651.1 L975.2 651.1 L975.7 651.0 L976.2 651.0 L976.7 651.0 L977.2 650.9 L977.7 650.9 L978.2 650.9 L978.7 650.8 L979.2 650.8 L979.7 650.8 L980.2 650.8 L980.7 650.7 L981.2 650.7 L981.7 650.7 L982.2 650.7 L982.7 650.6 L983.2 650.6 L983.7 650.6 L984.2 650.6 L984.7 650.6 L985.2 650.5 L985.7 650.5 L986.2 650.5 L986.7 650.5 L987.2 650.5 L987.7 650.5 L988.2 650.4 L988.7 650.4 L989.2 650.4 L989.7 650.4 L990.2 650.4 L990.7 650.4 L991.2 650.4 L991.7 650.4 L992.2 650.3" stroke="#d42424" stroke-width="2.0" fill="none" stroke-dasharray="3.5 1.5" stroke-linejoin="round"/><text x="911.3" y="677.9" font-size="17" font-weight="normal" fill="#000" >0</text><text x="921.7" y="747.7" font-size="17" font-weight="normal" fill="#000" >1</text><path d="M1095.6 650.0 L1095.6 634.0 L1096.6 650.0 L1097.1 665.4 L1097.6 677.3 L1098.1 686.4 L1098.6 693.1 L1099.1 698.1 L1099.6 701.6 L1100.1 703.9 L1100.6 705.3 L1101.1 705.9 L1101.6 706.0 L1102.1 705.6 L1102.6 704.9 L1103.1 703.9 L1103.6 702.8 L1104.1 701.5 L1104.6 700.0 L1105.1 698.5 L1105.6 697.0 L1106.1 695.5 L1106.6 693.9 L1107.1 692.3 L1107.6 690.8 L1108.1 689.3 L1108.6 687.8 L1109.1 686.4 L1109.6 685.0 L1110.1 683.6 L1110.6 682.3 L1111.1 681.0 L1111.6 679.8 L1112.1 678.6 L1112.6 677.5 L1113.1 676.4 L1113.6 675.3 L1114.1 674.3 L1114.6 673.3 L1115.1 672.4 L1115.6 671.5 L1116.1 670.6 L1116.6 669.8 L1117.1 669.0 L1117.6 668.2 L1118.1 667.4 L1118.6 666.7 L1119.1 666.1 L1119.6 665.4 L1120.1 664.8 L1120.6 664.2 L1121.1 663.6 L1121.6 663.0 L1122.1 662.5 L1122.6 662.0 L1123.1 661.5 L1123.6 661.0 L1124.1 660.6 L1124.6 660.2 L1125.1 659.7 L1125.6 659.3 L1126.1 659.0 L1126.6 658.6 L1127.1 658.2 L1127.6 657.9 L1128.1 657.6 L1128.6 657.3 L1129.1 657.0 L1129.6 656.7 L1130.1 656.4 L1130.6 656.2 L1131.1 655.9 L1131.6 655.7 L1132.1 655.4 L1132.6 655.2 L1133.1 655.0 L1133.6 654.8 L1134.1 654.6 L1134.6 654.4 L1135.1 654.2 L1135.6 654.1 L1136.1 653.9 L1136.6 653.7 L1137.1 653.6 L1137.6 653.4 L1138.1 653.3 L1138.6 653.2 L1139.1 653.0 L1139.6 652.9 L1140.1 652.8 L1140.6 652.7 L1141.1 652.6 L1141.6 652.5 L1142.1 652.4 L1142.6 652.3 L1143.1 652.2 L1143.6 652.1 L1144.1 652.0 L1144.6 651.9 L1145.1 651.8 L1145.6 651.8 L1146.1 651.7 L1146.6 651.6 L1147.1 651.6 L1147.6 651.5 L1148.1 651.4 L1148.6 651.4 L1149.1 651.3 L1149.6 651.3 L1150.1 651.2 L1150.6 651.2 L1151.1 651.1 L1151.6 651.1 L1152.1 651.0 L1152.6 651.0 L1153.1 650.9 L1153.6 650.9 L1154.1 650.9 L1154.6 650.8 L1155.1 650.8 L1155.6 650.8 L1156.1 650.7 L1156.6 650.7 L1157.1 650.7 L1157.6 650.6 L1158.1 650.6 L1158.6 650.6 L1159.1 650.6 L1159.6 650.5 L1160.1 650.5 L1160.6 650.5 L1161.1 650.5 L1161.6 650.5 L1162.1 650.4 L1162.6 650.4 L1163.1 650.4 L1163.6 650.4 L1164.1 650.4 L1164.6 650.4 L1165.1 650.3 L1165.6 650.3 L1166.1 650.3 L1166.6 650.3 L1167.1 650.3 L1167.6 650.3 L1168.1 650.3 L1168.6 650.3 L1169.1 650.2 L1169.6 650.2 L1170.1 650.2 L1170.6 650.2 L1171.1 650.2 L1171.6 650.2 L1172.1 650.2 L1172.6 650.2 L1173.1 650.2 L1173.6 650.2 L1174.1 650.2 L1174.6 650.2 L1175.1 650.2 L1175.6 650.1 L1176.1 650.1 L1176.6 650.1 L1177.1 650.1 L1177.6 650.1 L1178.1 650.1 L1178.6 650.1 L1179.1 650.1 L1179.6 650.1 L1180.1 650.1 L1180.6 650.1 L1181.1 650.1 L1181.6 650.1 L1182.1 650.1 L1182.6 650.1 L1183.1 650.1 L1183.6 650.1 L1184.1 650.1 L1184.6 650.1 L1185.1 650.1 L1185.6 650.1 L1186.1 650.1 L1186.6 650.1 L1187.1 650.1 L1187.6 650.1 L1188.1 650.1 L1188.6 650.0 L1189.1 650.0 L1189.6 650.0 L1190.1 650.0 L1190.6 650.0 L1191.1 650.0 L1191.6 650.0 L1192.1 650.0 L1192.6 650.0 L1193.1 650.0 L1193.6 650.0" stroke="#8c8c8c" stroke-width="2.4" fill="none" stroke-linejoin="round"/><path d="M1095.6 650.0 L1095.6 634.0 L1096.6 650.0 L1097.1 672.9 L1097.6 691.5 L1098.1 706.6 L1098.6 718.7 L1099.1 728.2 L1099.6 735.7 L1100.1 741.4 L1100.6 745.6 L1101.1 748.6 L1101.6 750.5 L1102.1 751.6 L1102.6 752.0 L1103.1 751.8 L1103.6 751.2 L1104.1 750.1 L1104.6 748.8 L1105.1 747.2 L1105.6 745.4 L1106.1 743.4 L1106.6 741.3 L1107.1 739.2 L1107.6 737.0 L1108.1 734.7 L1108.6 732.5 L1109.1 730.2 L1109.6 727.9 L1110.1 725.7 L1110.6 723.5 L1111.1 721.3 L1111.6 719.2 L1112.1 717.1 L1112.6 715.0 L1113.1 713.0 L1113.6 711.0 L1114.1 709.1 L1114.6 707.2 L1115.1 705.4 L1115.6 703.6 L1116.1 701.9 L1116.6 700.3 L1117.1 698.7 L1117.6 697.1 L1118.1 695.6 L1118.6 694.1 L1119.1 692.7 L1119.6 691.3 L1120.1 689.9 L1120.6 688.6 L1121.1 687.4 L1121.6 686.2 L1122.1 685.0 L1122.6 683.8 L1123.1 682.7 L1123.6 681.7 L1124.1 680.6 L1124.6 679.6 L1125.1 678.7 L1125.6 677.7 L1126.1 676.8 L1126.6 675.9 L1127.1 675.1 L1127.6 674.3 L1128.1 673.5 L1128.6 672.7 L1129.1 672.0 L1129.6 671.2 L1130.1 670.5 L1130.6 669.9 L1131.1 669.2 L1131.6 668.6 L1132.1 668.0 L1132.6 667.4 L1133.1 666.8 L1133.6 666.3 L1134.1 665.7 L1134.6 665.2 L1135.1 664.7 L1135.6 664.2 L1136.1 663.8 L1136.6 663.3 L1137.1 662.9 L1137.6 662.5 L1138.1 662.1 L1138.6 661.7 L1139.1 661.3 L1139.6 660.9 L1140.1 660.5 L1140.6 660.2 L1141.1 659.9 L1141.6 659.5 L1142.1 659.2 L1142.6 658.9 L1143.1 658.6 L1143.6 658.4 L1144.1 658.1 L1144.6 657.8 L1145.1 657.6 L1145.6 657.3 L1146.1 657.1 L1146.6 656.8 L1147.1 656.6 L1147.6 656.4 L1148.1 656.2 L1148.6 656.0 L1149.1 655.8 L1149.6 655.6 L1150.1 655.4 L1150.6 655.2 L1151.1 655.1 L1151.6 654.9 L1152.1 654.7 L1152.6 654.6 L1153.1 654.4 L1153.6 654.3 L1154.1 654.1 L1154.6 654.0 L1155.1 653.9 L1155.6 653.8 L1156.1 653.6 L1156.6 653.5 L1157.1 653.4 L1157.6 653.3 L1158.1 653.2 L1158.6 653.1 L1159.1 653.0 L1159.6 652.9 L1160.1 652.8 L1160.6 652.7 L1161.1 652.6 L1161.6 652.5 L1162.1 652.4 L1162.6 652.4 L1163.1 652.3 L1163.6 652.2 L1164.1 652.1 L1164.6 652.1 L1165.1 652.0 L1165.6 651.9 L1166.1 651.9 L1166.6 651.8 L1167.1 651.7 L1167.6 651.7 L1168.1 651.6 L1168.6 651.6 L1169.1 651.5 L1169.6 651.5 L1170.1 651.4 L1170.6 651.4 L1171.1 651.3 L1171.6 651.3 L1172.1 651.2 L1172.6 651.2 L1173.1 651.2 L1173.6 651.1 L1174.1 651.1 L1174.6 651.1 L1175.1 651.0 L1175.6 651.0 L1176.1 651.0 L1176.6 650.9 L1177.1 650.9 L1177.6 650.9 L1178.1 650.8 L1178.6 650.8 L1179.1 650.8 L1179.6 650.8 L1180.1 650.7 L1180.6 650.7 L1181.1 650.7 L1181.6 650.7 L1182.1 650.6 L1182.6 650.6 L1183.1 650.6 L1183.6 650.6 L1184.1 650.6 L1184.6 650.5 L1185.1 650.5 L1185.6 650.5 L1186.1 650.5 L1186.6 650.5 L1187.1 650.5 L1187.6 650.4 L1188.1 650.4 L1188.6 650.4 L1189.1 650.4 L1189.6 650.4 L1190.1 650.4 L1190.6 650.4 L1191.1 650.4 L1191.6 650.3 L1192.1 650.3 L1192.6 650.3 L1193.1 650.3 L1193.6 650.3" stroke="#d42424" stroke-width="2.0" fill="none" stroke-dasharray="3.5 1.5" stroke-linejoin="round"/><text x="1112.8" y="676.7" font-size="17" font-weight="normal" fill="#000" >0</text><text x="1123.7" y="744.7" font-size="17" font-weight="normal" fill="#000" >1</text><path d="M900.5 833.0 L900.5 817.0 L901.5 833.0 L902.0 851.2 L902.5 865.2 L903.0 875.9 L903.5 883.8 L904.0 889.7 L904.5 893.8 L905.0 896.5 L905.5 898.1 L906.0 898.9 L906.5 899.0 L907.0 898.6 L907.5 897.7 L908.0 896.6 L908.5 895.2 L909.0 893.6 L909.5 892.0 L910.0 890.2 L910.5 888.4 L911.0 886.6 L911.5 884.7 L912.0 882.9 L912.5 881.1 L913.0 879.3 L913.5 877.6 L914.0 875.9 L914.5 874.2 L915.0 872.6 L915.5 871.1 L916.0 869.6 L916.5 868.1 L917.0 866.7 L917.5 865.4 L918.0 864.1 L918.5 862.8 L919.0 861.6 L919.5 860.5 L920.0 859.4 L920.5 858.3 L921.0 857.3 L921.5 856.3 L922.0 855.3 L922.5 854.4 L923.0 853.6 L923.5 852.7 L924.0 851.9 L924.5 851.1 L925.0 850.4 L925.5 849.7 L926.0 849.0 L926.5 848.4 L927.0 847.7 L927.5 847.1 L928.0 846.6 L928.5 846.0 L929.0 845.5 L929.5 845.0 L930.0 844.5 L930.5 844.0 L931.0 843.6 L931.5 843.1 L932.0 842.7 L932.5 842.3 L933.0 841.9 L933.5 841.6 L934.0 841.2 L934.5 840.9 L935.0 840.6 L935.5 840.3 L936.0 840.0 L936.5 839.7 L937.0 839.4 L937.5 839.1 L938.0 838.9 L938.5 838.7 L939.0 838.4 L939.5 838.2 L940.0 838.0 L940.5 837.8 L941.0 837.6 L941.5 837.4 L942.0 837.2 L942.5 837.1 L943.0 836.9 L943.5 836.7 L944.0 836.6 L944.5 836.4 L945.0 836.3 L945.5 836.2 L946.0 836.0 L946.5 835.9 L947.0 835.8 L947.5 835.7 L948.0 835.6 L948.5 835.5 L949.0 835.4 L949.5 835.3 L950.0 835.2 L950.5 835.1 L951.0 835.0 L951.5 834.9 L952.0 834.8 L952.5 834.8 L953.0 834.7 L953.5 834.6 L954.0 834.6 L954.5 834.5 L955.0 834.4 L955.5 834.4 L956.0 834.3 L956.5 834.3 L957.0 834.2 L957.5 834.2 L958.0 834.1 L958.5 834.1 L959.0 834.0 L959.5 834.0 L960.0 833.9 L960.5 833.9 L961.0 833.9 L961.5 833.8 L962.0 833.8 L962.5 833.8 L963.0 833.7 L963.5 833.7 L964.0 833.7 L964.5 833.6 L965.0 833.6 L965.5 833.6 L966.0 833.6 L966.5 833.5 L967.0 833.5 L967.5 833.5 L968.0 833.5 L968.5 833.5 L969.0 833.4 L969.5 833.4 L970.0 833.4 L970.5 833.4 L971.0 833.4 L971.5 833.4 L972.0 833.3 L972.5 833.3 L973.0 833.3 L973.5 833.3 L974.0 833.3 L974.5 833.3 L975.0 833.3 L975.5 833.3 L976.0 833.2 L976.5 833.2 L977.0 833.2 L977.5 833.2 L978.0 833.2 L978.5 833.2 L979.0 833.2 L979.5 833.2 L980.0 833.2 L980.5 833.2 L981.0 833.2 L981.5 833.2 L982.0 833.2 L982.5 833.1 L983.0 833.1 L983.5 833.1 L984.0 833.1 L984.5 833.1 L985.0 833.1 L985.5 833.1 L986.0 833.1 L986.5 833.1 L987.0 833.1 L987.5 833.1 L988.0 833.1 L988.5 833.1 L989.0 833.1 L989.5 833.1 L990.0 833.1 L990.5 833.1 L991.0 833.1 L991.5 833.1 L992.0 833.1 L992.5 833.1 L993.0 833.1 L993.5 833.1 L994.0 833.1 L994.5 833.1 L995.0 833.1 L995.5 833.0 L996.0 833.0 L996.5 833.0 L997.0 833.0 L997.5 833.0 L998.0 833.0 L998.5 833.0 L999.0 833.0 L999.5 833.0 L1000.0 833.0 L1000.5 833.0" stroke="#8c8c8c" stroke-width="2.4" fill="none" stroke-linejoin="round"/><path d="M900.5 833.0 L900.5 817.0 L901.5 833.0 L902.0 856.1 L902.5 874.9 L903.0 890.1 L903.5 902.3 L904.0 912.0 L904.5 919.5 L905.0 925.3 L905.5 929.5 L906.0 932.5 L906.5 934.5 L907.0 935.6 L907.5 936.0 L908.0 935.8 L908.5 935.1 L909.0 934.1 L909.5 932.7 L910.0 931.1 L910.5 929.3 L911.0 927.3 L911.5 925.2 L912.0 923.1 L912.5 920.8 L913.0 918.6 L913.5 916.3 L914.0 914.0 L914.5 911.7 L915.0 909.4 L915.5 907.2 L916.0 905.0 L916.5 902.8 L917.0 900.7 L917.5 898.6 L918.0 896.6 L918.5 894.6 L919.0 892.7 L919.5 890.8 L920.0 889.0 L920.5 887.2 L921.0 885.4 L921.5 883.8 L922.0 882.1 L922.5 880.5 L923.0 879.0 L923.5 877.5 L924.0 876.1 L924.5 874.7 L925.0 873.3 L925.5 872.0 L926.0 870.7 L926.5 869.5 L927.0 868.3 L927.5 867.2 L928.0 866.1 L928.5 865.0 L929.0 863.9 L929.5 862.9 L930.0 861.9 L930.5 861.0 L931.0 860.1 L931.5 859.2 L932.0 858.3 L932.5 857.5 L933.0 856.7 L933.5 855.9 L934.0 855.2 L934.5 854.4 L935.0 853.7 L935.5 853.1 L936.0 852.4 L936.5 851.8 L937.0 851.2 L937.5 850.6 L938.0 850.0 L938.5 849.4 L939.0 848.9 L939.5 848.4 L940.0 847.9 L940.5 847.4 L941.0 846.9 L941.5 846.4 L942.0 846.0 L942.5 845.6 L943.0 845.2 L943.5 844.8 L944.0 844.4 L944.5 844.0 L945.0 843.7 L945.5 843.3 L946.0 843.0 L946.5 842.6 L947.0 842.3 L947.5 842.0 L948.0 841.7 L948.5 841.4 L949.0 841.2 L949.5 840.9 L950.0 840.6 L950.5 840.4 L951.0 840.1 L951.5 839.9 L952.0 839.7 L952.5 839.5 L953.0 839.2 L953.5 839.0 L954.0 838.8 L954.5 838.7 L955.0 838.5 L955.5 838.3 L956.0 838.1 L956.5 837.9 L957.0 837.8 L957.5 837.6 L958.0 837.5 L958.5 837.3 L959.0 837.2 L959.5 837.1 L960.0 836.9 L960.5 836.8 L961.0 836.7 L961.5 836.5 L962.0 836.4 L962.5 836.3 L963.0 836.2 L963.5 836.1 L964.0 836.0 L964.5 835.9 L965.0 835.8 L965.5 835.7 L966.0 835.6 L966.5 835.5 L967.0 835.5 L967.5 835.4 L968.0 835.3 L968.5 835.2 L969.0 835.2 L969.5 835.1 L970.0 835.0 L970.5 834.9 L971.0 834.9 L971.5 834.8 L972.0 834.8 L972.5 834.7 L973.0 834.6 L973.5 834.6 L974.0 834.5 L974.5 834.5 L975.0 834.4 L975.5 834.4 L976.0 834.3 L976.5 834.3 L977.0 834.3 L977.5 834.2 L978.0 834.2 L978.5 834.1 L979.0 834.1 L979.5 834.1 L980.0 834.0 L980.5 834.0 L981.0 834.0 L981.5 833.9 L982.0 833.9 L982.5 833.9 L983.0 833.8 L983.5 833.8 L984.0 833.8 L984.5 833.8 L985.0 833.7 L985.5 833.7 L986.0 833.7 L986.5 833.7 L987.0 833.6 L987.5 833.6 L988.0 833.6 L988.5 833.6 L989.0 833.6 L989.5 833.5 L990.0 833.5 L990.5 833.5 L991.0 833.5 L991.5 833.5 L992.0 833.5 L992.5 833.4 L993.0 833.4 L993.5 833.4 L994.0 833.4 L994.5 833.4 L995.0 833.4 L995.5 833.4 L996.0 833.4 L996.5 833.3 L997.0 833.3 L997.5 833.3 L998.0 833.3 L998.5 833.3 L999.0 833.3 L999.5 833.3 L1000.0 833.3 L1000.5 833.3" stroke="#d42424" stroke-width="2.0" fill="none" stroke-dasharray="3.5 1.5" stroke-linejoin="round"/><text x="917.7" y="861.9" font-size="17" font-weight="normal" fill="#000" >0</text><text x="931.7" y="912.3" font-size="17" font-weight="normal" fill="#000" >1</text><path d="M1100.5 833.0 L1100.5 817.0 L1101.5 833.0 L1102.0 846.4 L1102.5 857.4 L1103.0 866.3 L1103.5 873.4 L1104.0 879.0 L1104.5 883.4 L1105.0 886.7 L1105.5 889.2 L1106.0 891.0 L1106.5 892.1 L1107.0 892.8 L1107.5 893.0 L1108.0 892.9 L1108.5 892.5 L1109.0 891.9 L1109.5 891.1 L1110.0 890.1 L1110.5 889.1 L1111.0 887.9 L1111.5 886.7 L1112.0 885.5 L1112.5 884.2 L1113.0 882.8 L1113.5 881.5 L1114.0 880.2 L1114.5 878.8 L1115.0 877.5 L1115.5 876.2 L1116.0 874.9 L1116.5 873.7 L1117.0 872.4 L1117.5 871.2 L1118.0 870.0 L1118.5 868.9 L1119.0 867.8 L1119.5 866.7 L1120.0 865.6 L1120.5 864.6 L1121.0 863.5 L1121.5 862.6 L1122.0 861.6 L1122.5 860.7 L1123.0 859.8 L1123.5 858.9 L1124.0 858.1 L1124.5 857.3 L1125.0 856.5 L1125.5 855.7 L1126.0 855.0 L1126.5 854.3 L1127.0 853.6 L1127.5 852.9 L1128.0 852.3 L1128.5 851.6 L1129.0 851.0 L1129.5 850.4 L1130.0 849.9 L1130.5 849.3 L1131.0 848.8 L1131.5 848.3 L1132.0 847.8 L1132.5 847.3 L1133.0 846.8 L1133.5 846.4 L1134.0 845.9 L1134.5 845.5 L1135.0 845.1 L1135.5 844.7 L1136.0 844.3 L1136.5 843.9 L1137.0 843.6 L1137.5 843.2 L1138.0 842.9 L1138.5 842.6 L1139.0 842.3 L1139.5 842.0 L1140.0 841.7 L1140.5 841.4 L1141.0 841.1 L1141.5 840.8 L1142.0 840.6 L1142.5 840.3 L1143.0 840.1 L1143.5 839.9 L1144.0 839.6 L1144.5 839.4 L1145.0 839.2 L1145.5 839.0 L1146.0 838.8 L1146.5 838.6 L1147.0 838.4 L1147.5 838.3 L1148.0 838.1 L1148.5 837.9 L1149.0 837.8 L1149.5 837.6 L1150.0 837.4 L1150.5 837.3 L1151.0 837.2 L1151.5 837.0 L1152.0 836.9 L1152.5 836.8 L1153.0 836.6 L1153.5 836.5 L1154.0 836.4 L1154.5 836.3 L1155.0 836.2 L1155.5 836.1 L1156.0 836.0 L1156.5 835.9 L1157.0 835.8 L1157.5 835.7 L1158.0 835.6 L1158.5 835.5 L1159.0 835.4 L1159.5 835.4 L1160.0 835.3 L1160.5 835.2 L1161.0 835.1 L1161.5 835.1 L1162.0 835.0 L1162.5 834.9 L1163.0 834.9 L1163.5 834.8 L1164.0 834.7 L1164.5 834.7 L1165.0 834.6 L1165.5 834.6 L1166.0 834.5 L1166.5 834.5 L1167.0 834.4 L1167.5 834.4 L1168.0 834.3 L1168.5 834.3 L1169.0 834.3 L1169.5 834.2 L1170.0 834.2 L1170.5 834.1 L1171.0 834.1 L1171.5 834.1 L1172.0 834.0 L1172.5 834.0 L1173.0 834.0 L1173.5 833.9 L1174.0 833.9 L1174.5 833.9 L1175.0 833.8 L1175.5 833.8 L1176.0 833.8 L1176.5 833.8 L1177.0 833.7 L1177.5 833.7 L1178.0 833.7 L1178.5 833.7 L1179.0 833.6 L1179.5 833.6 L1180.0 833.6 L1180.5 833.6 L1181.0 833.6 L1181.5 833.5 L1182.0 833.5 L1182.5 833.5 L1183.0 833.5 L1183.5 833.5 L1184.0 833.5 L1184.5 833.4 L1185.0 833.4 L1185.5 833.4 L1186.0 833.4 L1186.5 833.4 L1187.0 833.4 L1187.5 833.4 L1188.0 833.4 L1188.5 833.3 L1189.0 833.3 L1189.5 833.3 L1190.0 833.3 L1190.5 833.3 L1191.0 833.3" stroke="#d42424" stroke-width="2.0" fill="none" stroke-dasharray="3.5 1.5" stroke-linejoin="round"/><text x="1114.3" y="861.9" font-size="17" font-weight="normal" fill="#000" >0</text><text x="1123.7" y="891.1" font-size="17" font-weight="normal" fill="#000" >1</text><path d="M1181.8 869 V934.7 H1116.8" stroke="#000" stroke-width="6.5" fill="none"/><text x="1118.8" y="958.1" font-size="19.5" font-weight="bold" fill="#000" >100 ms</text><text x="1180.1" y="912.2" font-size="19.5" font-weight="bold" fill="#000" transform="rotate(-90 1204.0 905.5)">1 mV</text><path d="M772.2 1033V1229.9H1166.5" stroke="#000" stroke-width="3" fill="none"/><line x1="772.2" y1="1034.6" x2="780.2" y2="1034.6" stroke="#000" stroke-width="3" /><text x="725.7" y="1042.8" font-size="24" font-weight="bold" fill="#000">360</text><line x1="772.2" y1="1099.9" x2="780.2" y2="1099.9" stroke="#000" stroke-width="3" /><text x="725.7" y="1108.2" font-size="24" font-weight="bold" fill="#000">240</text><line x1="772.2" y1="1165.0" x2="780.2" y2="1165.0" stroke="#000" stroke-width="3" /><text x="725.7" y="1173.3" font-size="24" font-weight="bold" fill="#000">120</text><text x="765.6" y="1260.0" font-size="24" font-weight="bold" fill="#000">0</text><line x1="850.7" y1="1222.9" x2="850.7" y2="1229.9" stroke="#000" stroke-width="3" /><text x="837.1" y="1260.0" font-size="24" font-weight="bold" fill="#000">10</text><line x1="929.2" y1="1222.9" x2="929.2" y2="1229.9" stroke="#000" stroke-width="3" /><text x="916.0" y="1260.0" font-size="24" font-weight="bold" fill="#000">20</text><line x1="1007.7" y1="1222.9" x2="1007.7" y2="1229.9" stroke="#000" stroke-width="3" /><text x="994.6" y="1260.0" font-size="24" font-weight="bold" fill="#000">30</text><line x1="1086.2" y1="1222.9" x2="1086.2" y2="1229.9" stroke="#000" stroke-width="3" /><text x="1073.2" y="1260.0" font-size="24" font-weight="bold" fill="#000">40</text><line x1="1164.7" y1="1222.9" x2="1164.7" y2="1229.9" stroke="#000" stroke-width="3" /><text x="1151.5" y="1260.0" font-size="24" font-weight="bold" fill="#000">50</text><text x="909.2" y="1290.8" font-size="23.5" font-weight="bold" fill="#000">Time (min)</text><text x="610.4" y="1132.8" font-size="23.5" font-weight="bold" fill="#000" transform="rotate(-90 704.0 1126.8)">EPSPs slope (%)</text><path d="M780.1 1168.9V1172.5M776.8 1168.9h6.6M776.8 1172.5h6.6M787.9 1171.4V1177.2M784.6 1171.4h6.6M784.6 1177.2h6.6M795.8 1173.0V1177.3M792.5 1173.0h6.6M792.5 1177.3h6.6M803.6 1169.8V1174.7M800.3 1169.8h6.6M800.3 1174.7h6.6M811.5 1172.5V1177.4M808.2 1172.5h6.6M808.2 1177.4h6.6M819.3 1169.7V1175.6M816.0 1169.7h6.6M816.0 1175.6h6.6M827.2 1172.5V1178.9M823.9 1172.5h6.6M823.9 1178.9h6.6M835.0 1171.9V1177.6M831.7 1171.9h6.6M831.7 1177.6h6.6M842.9 1169.7V1175.5M839.6 1169.7h6.6M839.6 1175.5h6.6M850.7 1172.9V1176.5M847.4 1172.9h6.6M847.4 1176.5h6.6M858.6 1082.8V1103.9M855.3 1082.8h6.6M855.3 1103.9h6.6M866.4 1091.3V1104.9M863.1 1091.3h6.6M863.1 1104.9h6.6M874.2 1099.5V1111.5M871.0 1099.5h6.6M871.0 1111.5h6.6M882.1 1101.6V1119.8M878.8 1101.6h6.6M878.8 1119.8h6.6M890.0 1104.2V1124.3M886.7 1104.2h6.6M886.7 1124.3h6.6M897.8 1109.0V1130.9M894.5 1109.0h6.6M894.5 1130.9h6.6M905.7 1109.3V1129.9M902.4 1109.3h6.6M902.4 1129.9h6.6M913.5 1112.8V1134.8M910.2 1112.8h6.6M910.2 1134.8h6.6M921.4 1121.0V1137.9M918.1 1121.0h6.6M918.1 1137.9h6.6M929.2 1125.3V1138.6M925.9 1125.3h6.6M925.9 1138.6h6.6M937.1 1128.4V1135.9M933.8 1128.4h6.6M933.8 1135.9h6.6M944.9 1127.8V1141.1M941.6 1127.8h6.6M941.6 1141.1h6.6M952.8 1131.9V1139.5M949.5 1131.9h6.6M949.5 1139.5h6.6M960.6 1132.0V1139.0M957.3 1132.0h6.6M957.3 1139.0h6.6M968.5 1129.7V1144.8M965.2 1129.7h6.6M965.2 1144.8h6.6M976.3 1131.4V1146.2M973.0 1131.4h6.6M973.0 1146.2h6.6M984.2 1136.6V1145.0M980.9 1136.6h6.6M980.9 1145.0h6.6M992.0 1135.5V1148.4M988.7 1135.5h6.6M988.7 1148.4h6.6M999.9 1136.5V1146.4M996.6 1136.5h6.6M996.6 1146.4h6.6M1007.7 1138.0V1144.8M1004.4 1138.0h6.6M1004.4 1144.8h6.6M1015.6 1140.6V1147.4M1012.3 1140.6h6.6M1012.3 1147.4h6.6M1023.4 1137.6V1152.7M1020.1 1137.6h6.6M1020.1 1152.7h6.6M1031.2 1139.1V1154.2M1028.0 1139.1h6.6M1028.0 1154.2h6.6M1039.1 1137.4V1149.9M1035.8 1137.4h6.6M1035.8 1149.9h6.6M1047.0 1142.4V1153.1M1043.7 1142.4h6.6M1043.7 1153.1h6.6M1054.8 1141.6V1149.0M1051.5 1141.6h6.6M1051.5 1149.0h6.6M1062.7 1143.7V1151.0M1059.4 1143.7h6.6M1059.4 1151.0h6.6M1070.5 1138.0V1152.5M1067.2 1138.0h6.6M1067.2 1152.5h6.6M1078.3 1138.6V1151.6M1075.0 1138.6h6.6M1075.0 1151.6h6.6M1086.2 1143.3V1150.4M1082.9 1143.3h6.6M1082.9 1150.4h6.6M1094.0 1140.8V1154.0M1090.8 1140.8h6.6M1090.8 1154.0h6.6M1101.9 1143.0V1149.8M1098.6 1143.0h6.6M1098.6 1149.8h6.6M1109.8 1146.1V1153.4M1106.5 1146.1h6.6M1106.5 1153.4h6.6M1117.6 1142.1V1149.7M1114.3 1142.1h6.6M1114.3 1149.7h6.6M1125.5 1143.0V1153.7M1122.2 1143.0h6.6M1122.2 1153.7h6.6M1133.3 1142.4V1150.1M1130.0 1142.4h6.6M1130.0 1150.1h6.6M1141.2 1142.4V1155.7M1137.9 1142.4h6.6M1137.9 1155.7h6.6M1149.0 1145.9V1153.9M1145.7 1145.9h6.6M1145.7 1153.9h6.6M1156.8 1142.8V1157.7M1153.5 1142.8h6.6M1153.5 1157.7h6.6M1164.7 1143.9V1154.8M1161.4 1143.9h6.6M1161.4 1154.8h6.6" stroke="#a9d9a6" stroke-width="1.6" fill="none"/><path d="M780.1 1170.7h0M787.9 1174.3h0M795.8 1175.1h0M803.6 1172.2h0M811.5 1174.9h0M819.3 1172.6h0M827.2 1175.7h0M835.0 1174.8h0M842.9 1172.6h0M850.7 1174.7h0M858.6 1093.3h0M866.4 1098.1h0M874.2 1105.5h0M882.1 1110.7h0M890.0 1114.3h0M897.8 1119.9h0M905.7 1119.6h0M913.5 1123.8h0M921.4 1129.4h0M929.2 1132.0h0M937.1 1132.1h0M944.9 1134.5h0M952.8 1135.7h0M960.6 1135.5h0M968.5 1137.2h0M976.3 1138.8h0M984.2 1140.8h0M992.0 1142.0h0M999.9 1141.5h0M1007.7 1141.4h0M1015.6 1144.0h0M1023.4 1145.1h0M1031.2 1146.7h0M1039.1 1143.7h0M1047.0 1147.8h0M1054.8 1145.3h0M1062.7 1147.3h0M1070.5 1145.2h0M1078.3 1145.1h0M1086.2 1146.8h0M1094.0 1147.4h0M1101.9 1146.4h0M1109.8 1149.8h0M1117.6 1145.9h0M1125.5 1148.3h0M1133.3 1146.3h0M1141.2 1149.1h0M1149.0 1149.9h0M1156.8 1150.2h0M1164.7 1149.4h0" stroke="#a9d9a6" stroke-width="6.0" stroke-linecap="round" fill="none" /><path d="M780.1 1170.2V1176.6M776.8 1170.2h6.6M776.8 1176.6h6.6M787.9 1168.8V1173.6M784.6 1168.8h6.6M784.6 1173.6h6.6M795.8 1171.0V1174.4M792.5 1171.0h6.6M792.5 1174.4h6.6M803.6 1169.1V1171.7M800.3 1169.1h6.6M800.3 1171.7h6.6M811.5 1170.1V1173.6M808.2 1170.1h6.6M808.2 1173.6h6.6M819.3 1172.0V1176.2M816.0 1172.0h6.6M816.0 1176.2h6.6M827.2 1172.3V1177.0M823.9 1172.3h6.6M823.9 1177.0h6.6M835.0 1174.3V1176.5M831.7 1174.3h6.6M831.7 1176.5h6.6M842.9 1173.7V1176.2M839.6 1173.7h6.6M839.6 1176.2h6.6M850.7 1167.9V1172.3M847.4 1167.9h6.6M847.4 1172.3h6.6M858.6 1093.8V1114.9M855.3 1093.8h6.6M855.3 1114.9h6.6M866.4 1101.0V1124.3M863.1 1101.0h6.6M863.1 1124.3h6.6M874.2 1108.3V1125.2M871.0 1108.3h6.6M871.0 1125.2h6.6M882.1 1110.6V1130.6M878.8 1110.6h6.6M878.8 1130.6h6.6M890.0 1116.3V1129.7M886.7 1116.3h6.6M886.7 1129.7h6.6M897.8 1117.6V1134.1M894.5 1117.6h6.6M894.5 1134.1h6.6M905.7 1119.9V1142.1M902.4 1119.9h6.6M902.4 1142.1h6.6M913.5 1119.5V1141.5M910.2 1119.5h6.6M910.2 1141.5h6.6M921.4 1123.3V1146.2M918.1 1123.3h6.6M918.1 1146.2h6.6M929.2 1126.9V1141.9M925.9 1126.9h6.6M925.9 1141.9h6.6M937.1 1128.2V1143.4M933.8 1128.2h6.6M933.8 1143.4h6.6M944.9 1131.6V1144.7M941.6 1131.6h6.6M941.6 1144.7h6.6M952.8 1132.2V1143.3M949.5 1132.2h6.6M949.5 1143.3h6.6M960.6 1134.8V1144.8M957.3 1134.8h6.6M957.3 1144.8h6.6M968.5 1134.0V1143.8M965.2 1134.0h6.6M965.2 1143.8h6.6M976.3 1134.3V1145.7M973.0 1134.3h6.6M973.0 1145.7h6.6M984.2 1136.1V1145.3M980.9 1136.1h6.6M980.9 1145.3h6.6M992.0 1137.6V1150.0M988.7 1137.6h6.6M988.7 1150.0h6.6M999.9 1139.1V1148.7M996.6 1139.1h6.6M996.6 1148.7h6.6M1007.7 1138.0V1144.9M1004.4 1138.0h6.6M1004.4 1144.9h6.6M1015.6 1135.3V1147.0M1012.3 1135.3h6.6M1012.3 1147.0h6.6M1023.4 1136.7V1149.1M1020.1 1136.7h6.6M1020.1 1149.1h6.6M1031.2 1141.9V1148.6M1028.0 1141.9h6.6M1028.0 1148.6h6.6M1039.1 1136.7V1148.3M1035.8 1136.7h6.6M1035.8 1148.3h6.6M1047.0 1136.1V1149.8M1043.7 1136.1h6.6M1043.7 1149.8h6.6M1054.8 1140.7V1148.7M1051.5 1140.7h6.6M1051.5 1148.7h6.6M1062.7 1138.2V1145.3M1059.4 1138.2h6.6M1059.4 1145.3h6.6M1070.5 1137.8V1149.8M1067.2 1137.8h6.6M1067.2 1149.8h6.6M1078.3 1138.3V1145.6M1075.0 1138.3h6.6M1075.0 1145.6h6.6M1086.2 1139.5V1146.7M1082.9 1139.5h6.6M1082.9 1146.7h6.6M1094.0 1138.3V1150.2M1090.8 1138.3h6.6M1090.8 1150.2h6.6M1101.9 1139.1V1146.0M1098.6 1139.1h6.6M1098.6 1146.0h6.6M1109.8 1139.1V1147.0M1106.5 1139.1h6.6M1106.5 1147.0h6.6M1117.6 1137.0V1152.1M1114.3 1137.0h6.6M1114.3 1152.1h6.6M1125.5 1139.1V1146.3M1122.2 1139.1h6.6M1122.2 1146.3h6.6M1133.3 1143.0V1149.8M1130.0 1143.0h6.6M1130.0 1149.8h6.6M1141.2 1139.6V1146.4M1137.9 1139.6h6.6M1137.9 1146.4h6.6M1149.0 1136.2V1149.8M1145.7 1136.2h6.6M1145.7 1149.8h6.6M1156.8 1135.5V1150.2M1153.5 1135.5h6.6M1153.5 1150.2h6.6M1164.7 1136.8V1150.5M1161.4 1136.8h6.6M1161.4 1150.5h6.6" stroke="#f3a9a9" stroke-width="1.6" fill="none"/><path d="M780.1 1173.4h0M787.9 1171.2h0M795.8 1172.7h0M803.6 1170.4h0M811.5 1171.8h0M819.3 1174.1h0M827.2 1174.6h0M835.0 1175.4h0M842.9 1175.0h0M850.7 1170.1h0M858.6 1104.4h0M866.4 1112.6h0M874.2 1116.7h0M882.1 1120.6h0M890.0 1123.0h0M897.8 1125.9h0M905.7 1131.0h0M913.5 1130.5h0M921.4 1134.8h0M929.2 1134.4h0M937.1 1135.8h0M944.9 1138.1h0M952.8 1137.8h0M960.6 1139.8h0M968.5 1138.9h0M976.3 1140.0h0M984.2 1140.7h0M992.0 1143.8h0M999.9 1143.9h0M1007.7 1141.4h0M1015.6 1141.1h0M1023.4 1142.9h0M1031.2 1145.2h0M1039.1 1142.5h0M1047.0 1143.0h0M1054.8 1144.7h0M1062.7 1141.8h0M1070.5 1143.8h0M1078.3 1142.0h0M1086.2 1143.1h0M1094.0 1144.3h0M1101.9 1142.6h0M1109.8 1143.0h0M1117.6 1144.6h0M1125.5 1142.7h0M1133.3 1146.4h0M1141.2 1143.0h0M1149.0 1143.0h0M1156.8 1142.9h0M1164.7 1143.7h0" stroke="#f3a9a9" stroke-width="6.0" stroke-linecap="round" fill="none" /><path d="M780.1 1169.8V1174.9M776.8 1169.8h6.6M776.8 1174.9h6.6M787.9 1173.1V1177.7M784.6 1173.1h6.6M784.6 1177.7h6.6M795.8 1167.5V1171.3M792.5 1167.5h6.6M792.5 1171.3h6.6M803.6 1169.7V1172.7M800.3 1169.7h6.6M800.3 1172.7h6.6M811.5 1170.5V1175.0M808.2 1170.5h6.6M808.2 1175.0h6.6M819.3 1169.1V1172.6M816.0 1169.1h6.6M816.0 1172.6h6.6M827.2 1171.3V1174.3M823.9 1171.3h6.6M823.9 1174.3h6.6M835.0 1169.0V1175.2M831.7 1169.0h6.6M831.7 1175.2h6.6M842.9 1170.8V1175.9M839.6 1170.8h6.6M839.6 1175.9h6.6M850.7 1170.7V1173.8M847.4 1170.7h6.6M847.4 1173.8h6.6M858.6 1067.5V1081.2M855.3 1067.5h6.6M855.3 1081.2h6.6M866.4 1070.0V1093.9M863.1 1070.0h6.6M863.1 1093.9h6.6M874.2 1080.0V1099.6M871.0 1080.0h6.6M871.0 1099.6h6.6M882.1 1085.8V1105.1M878.8 1085.8h6.6M878.8 1105.1h6.6M890.0 1092.6V1110.1M886.7 1092.6h6.6M886.7 1110.1h6.6M897.8 1096.6V1110.3M894.5 1096.6h6.6M894.5 1110.3h6.6M905.7 1102.5V1116.4M902.4 1102.5h6.6M902.4 1116.4h6.6M913.5 1104.2V1123.9M910.2 1104.2h6.6M910.2 1123.9h6.6M921.4 1105.6V1123.3M918.1 1105.6h6.6M918.1 1123.3h6.6M929.2 1114.5V1123.7M925.9 1114.5h6.6M925.9 1123.7h6.6M937.1 1115.3V1130.1M933.8 1115.3h6.6M933.8 1130.1h6.6M944.9 1117.8V1130.3M941.6 1117.8h6.6M941.6 1130.3h6.6M952.8 1123.0V1131.1M949.5 1123.0h6.6M949.5 1131.1h6.6M960.6 1125.6V1134.7M957.3 1125.6h6.6M957.3 1134.7h6.6M968.5 1124.5V1135.6M965.2 1124.5h6.6M965.2 1135.6h6.6M976.3 1124.5V1137.0M973.0 1124.5h6.6M973.0 1137.0h6.6M984.2 1124.2V1137.8M980.9 1124.2h6.6M980.9 1137.8h6.6M992.0 1126.3V1139.8M988.7 1126.3h6.6M988.7 1139.8h6.6M999.9 1129.5V1140.1M996.6 1129.5h6.6M996.6 1140.1h6.6M1007.7 1127.0V1141.3M1004.4 1127.0h6.6M1004.4 1141.3h6.6M1015.6 1130.3V1144.4M1012.3 1130.3h6.6M1012.3 1144.4h6.6M1023.4 1131.4V1144.5M1020.1 1131.4h6.6M1020.1 1144.5h6.6M1031.2 1134.5V1146.2M1028.0 1134.5h6.6M1028.0 1146.2h6.6M1039.1 1131.8V1142.2M1035.8 1131.8h6.6M1035.8 1142.2h6.6M1047.0 1131.7V1144.1M1043.7 1131.7h6.6M1043.7 1144.1h6.6M1054.8 1138.5V1145.7M1051.5 1138.5h6.6M1051.5 1145.7h6.6M1062.7 1133.7V1148.7M1059.4 1133.7h6.6M1059.4 1148.7h6.6M1070.5 1134.3V1146.1M1067.2 1134.3h6.6M1067.2 1146.1h6.6M1078.3 1134.9V1144.5M1075.0 1134.9h6.6M1075.0 1144.5h6.6M1086.2 1137.9V1148.3M1082.9 1137.9h6.6M1082.9 1148.3h6.6M1094.0 1136.1V1144.1M1090.8 1136.1h6.6M1090.8 1144.1h6.6M1101.9 1137.6V1146.7M1098.6 1137.6h6.6M1098.6 1146.7h6.6M1109.8 1139.3V1146.6M1106.5 1139.3h6.6M1106.5 1146.6h6.6M1117.6 1136.4V1145.2M1114.3 1136.4h6.6M1114.3 1145.2h6.6M1125.5 1137.5V1145.5M1122.2 1137.5h6.6M1122.2 1145.5h6.6M1133.3 1139.9V1146.6M1130.0 1139.9h6.6M1130.0 1146.6h6.6M1141.2 1137.2V1148.1M1137.9 1137.2h6.6M1137.9 1148.1h6.6M1149.0 1139.3V1147.6M1145.7 1139.3h6.6M1145.7 1147.6h6.6M1156.8 1139.3V1146.1M1153.5 1139.3h6.6M1153.5 1146.1h6.6M1164.7 1136.2V1146.9M1161.4 1136.2h6.6M1161.4 1146.9h6.6" stroke="#8fb7ea" stroke-width="1.6" fill="none"/><path d="M780.1 1172.3h0M787.9 1175.4h0M795.8 1169.4h0M803.6 1171.2h0M811.5 1172.7h0M819.3 1170.9h0M827.2 1172.8h0M835.0 1172.1h0M842.9 1173.4h0M850.7 1172.2h0M858.6 1074.3h0M866.4 1082.0h0M874.2 1089.8h0M882.1 1095.5h0M890.0 1101.3h0M897.8 1103.4h0M905.7 1109.5h0M913.5 1114.1h0M921.4 1114.5h0M929.2 1119.1h0M937.1 1122.7h0M944.9 1124.0h0M952.8 1127.1h0M960.6 1130.2h0M968.5 1130.1h0M976.3 1130.8h0M984.2 1131.0h0M992.0 1133.0h0M999.9 1134.8h0M1007.7 1134.1h0M1015.6 1137.3h0M1023.4 1137.9h0M1031.2 1140.4h0M1039.1 1137.0h0M1047.0 1137.9h0M1054.8 1142.1h0M1062.7 1141.2h0M1070.5 1140.2h0M1078.3 1139.7h0M1086.2 1143.1h0M1094.0 1140.1h0M1101.9 1142.1h0M1109.8 1143.0h0M1117.6 1140.8h0M1125.5 1141.5h0M1133.3 1143.2h0M1141.2 1142.7h0M1149.0 1143.5h0M1156.8 1142.7h0M1164.7 1141.5h0" stroke="#8fb7ea" stroke-width="6.0" stroke-linecap="round" fill="none" /><path d="M780.1 1169.9V1173.9M776.8 1169.9h6.6M776.8 1173.9h6.6M787.9 1174.6V1176.9M784.6 1174.6h6.6M784.6 1176.9h6.6M795.8 1169.0V1173.3M792.5 1169.0h6.6M792.5 1173.3h6.6M803.6 1171.8V1176.3M800.3 1171.8h6.6M800.3 1176.3h6.6M811.5 1168.0V1172.4M808.2 1168.0h6.6M808.2 1172.4h6.6M819.3 1170.1V1174.9M816.0 1170.1h6.6M816.0 1174.9h6.6M827.2 1169.0V1171.3M823.9 1169.0h6.6M823.9 1171.3h6.6M835.0 1169.2V1173.9M831.7 1169.2h6.6M831.7 1173.9h6.6M842.9 1169.8V1172.6M839.6 1169.8h6.6M839.6 1172.6h6.6M850.7 1167.7V1173.3M847.4 1167.7h6.6M847.4 1173.3h6.6M858.6 1086.1V1109.3M855.3 1086.1h6.6M855.3 1109.3h6.6M866.4 1094.9V1112.9M863.1 1094.9h6.6M863.1 1112.9h6.6M874.2 1108.0V1121.3M871.0 1108.0h6.6M871.0 1121.3h6.6M882.1 1111.0V1131.1M878.8 1111.0h6.6M878.8 1131.1h6.6M890.0 1118.8V1132.9M886.7 1118.8h6.6M886.7 1132.9h6.6M897.8 1123.8V1140.6M894.5 1123.8h6.6M894.5 1140.6h6.6M905.7 1131.1V1147.4M902.4 1131.1h6.6M902.4 1147.4h6.6M913.5 1135.5V1151.2M910.2 1135.5h6.6M910.2 1151.2h6.6M921.4 1141.2V1158.6M918.1 1141.2h6.6M918.1 1158.6h6.6M929.2 1144.8V1158.3M925.9 1144.8h6.6M925.9 1158.3h6.6M937.1 1150.5V1163.5M933.8 1150.5h6.6M933.8 1163.5h6.6M944.9 1159.1V1169.8M941.6 1159.1h6.6M941.6 1169.8h6.6M952.8 1161.0V1169.6M949.5 1161.0h6.6M949.5 1169.6h6.6M960.6 1162.7V1169.7M957.3 1162.7h6.6M957.3 1169.7h6.6M968.5 1160.8V1172.2M965.2 1160.8h6.6M965.2 1172.2h6.6M976.3 1162.0V1173.8M973.0 1162.0h6.6M973.0 1173.8h6.6M984.2 1163.2V1173.5M980.9 1163.2h6.6M980.9 1173.5h6.6M992.0 1167.3V1175.7M988.7 1167.3h6.6M988.7 1175.7h6.6M999.9 1162.5V1177.6M996.6 1162.5h6.6M996.6 1177.6h6.6M1007.7 1167.0V1177.8M1004.4 1167.0h6.6M1004.4 1177.8h6.6M1015.6 1162.8V1171.9M1012.3 1162.8h6.6M1012.3 1171.9h6.6M1023.4 1163.1V1176.3M1020.1 1163.1h6.6M1020.1 1176.3h6.6M1031.2 1165.9V1175.3M1028.0 1165.9h6.6M1028.0 1175.3h6.6M1039.1 1164.2V1175.0M1035.8 1164.2h6.6M1035.8 1175.0h6.6M1047.0 1163.6V1174.3M1043.7 1163.6h6.6M1043.7 1174.3h6.6M1054.8 1166.7V1174.8M1051.5 1166.7h6.6M1051.5 1174.8h6.6M1062.7 1165.9V1172.9M1059.4 1165.9h6.6M1059.4 1172.9h6.6M1070.5 1167.2V1176.9M1067.2 1167.2h6.6M1067.2 1176.9h6.6M1078.3 1165.1V1173.8M1075.0 1165.1h6.6M1075.0 1173.8h6.6M1086.2 1166.9V1174.2M1082.9 1166.9h6.6M1082.9 1174.2h6.6M1094.0 1164.2V1178.9M1090.8 1164.2h6.6M1090.8 1178.9h6.6M1101.9 1166.5V1173.8M1098.6 1166.5h6.6M1098.6 1173.8h6.6M1109.8 1165.0V1175.6M1106.5 1165.0h6.6M1106.5 1175.6h6.6M1117.6 1168.5V1178.2M1114.3 1168.5h6.6M1114.3 1178.2h6.6M1125.5 1167.0V1175.2M1122.2 1167.0h6.6M1122.2 1175.2h6.6M1133.3 1164.5V1179.2M1130.0 1164.5h6.6M1130.0 1179.2h6.6M1141.2 1164.9V1178.0M1137.9 1164.9h6.6M1137.9 1178.0h6.6M1149.0 1167.8V1175.3M1145.7 1167.8h6.6M1145.7 1175.3h6.6M1156.8 1165.0V1179.9M1153.5 1165.0h6.6M1153.5 1179.9h6.6M1164.7 1169.8V1176.4M1161.4 1169.8h6.6M1161.4 1176.4h6.6" stroke="#8888e6" stroke-width="1.6" fill="none"/><path d="M780.1 1171.9h0M787.9 1175.7h0M795.8 1171.1h0M803.6 1174.1h0M811.5 1170.2h0M819.3 1172.5h0M827.2 1170.2h0M835.0 1171.5h0M842.9 1171.2h0M850.7 1170.5h0M858.6 1097.7h0M866.4 1103.9h0M874.2 1114.6h0M882.1 1121.0h0M890.0 1125.9h0M897.8 1132.2h0M905.7 1139.3h0M913.5 1143.4h0M921.4 1149.9h0M929.2 1151.6h0M937.1 1157.0h0M944.9 1164.5h0M952.8 1165.3h0M960.6 1166.2h0M968.5 1166.5h0M976.3 1167.9h0M984.2 1168.3h0M992.0 1171.5h0M999.9 1170.0h0M1007.7 1172.4h0M1015.6 1167.3h0M1023.4 1169.7h0M1031.2 1170.6h0M1039.1 1169.6h0M1047.0 1169.0h0M1054.8 1170.7h0M1062.7 1169.4h0M1070.5 1172.0h0M1078.3 1169.4h0M1086.2 1170.5h0M1094.0 1171.6h0M1101.9 1170.1h0M1109.8 1170.3h0M1117.6 1173.4h0M1125.5 1171.1h0M1133.3 1171.9h0M1141.2 1171.5h0M1149.0 1171.6h0M1156.8 1172.4h0M1164.7 1173.1h0" stroke="#8888e6" stroke-width="6.0" stroke-linecap="round" fill="none" /><path d="M835.6 1009.7 L852.8 1022 L870 1009.7 L852.8 1042.8Z" fill="#1496d8"/><path d="M852.8 1010 V1036" stroke="#1496d8" stroke-width="4"/><circle cx="967.3" cy="981" r="3.5" fill="#8fb7ea"/><text x="994.7" y="987.7" font-size="22.5" font-weight="bold" fill="#000" >WT-Cyst-C</text><circle cx="967.3" cy="1015.4" r="3.5" fill="#a9d9a6"/><text x="994.7" y="1022.1" font-size="22.5" font-weight="bold" fill="#000">WT-Cyst-C<tspan font-size="16.3" dy="-9">L68Q</tspan></text><circle cx="967.3" cy="1048" r="3.5" fill="#f3a9a9"/><text x="994.0" y="1054.7" font-size="22.5" font-weight="bold" fill="#000" >5×FAD-Cyst-C</text><circle cx="967.3" cy="1082.6" r="3.5" fill="#8888e6"/><text x="994.0" y="1089.3" font-size="22.5" font-weight="bold" fill="#000">5×FAD-Cyst-C<tspan font-size="16.3" dy="-9">L68Q</tspan></text><path d="M1181.7 1141 H1190.5 V1177.6 H1181.7" stroke="#000" stroke-width="2" fill="none"/><text x="1188.2" y="1171.2" font-size="22" font-weight="normal" fill="#000" transform="rotate(90 1201.0 1160.0)">***</text><text x="25.3" y="1365.8" font-size="23" font-weight="bold" fill="#000" >E</text><path d="M94.5 1422V1550.6H299.2" stroke="#000" stroke-width="3" fill="none"/><text x="61.3" y="1430.9" font-size="24" font-weight="bold" fill="#000">60</text><text x="61.3" y="1473.8" font-size="24" font-weight="bold" fill="#000">40</text><text x="61.3" y="1516.3" font-size="24" font-weight="bold" fill="#000">20</text><text x="74.6" y="1558.9" font-size="24" font-weight="bold" fill="#000">0</text><line x1="110.6" y1="1543.5" x2="110.6" y2="1550.6" stroke="#000" stroke-width="3" /><line x1="153.5" y1="1543.5" x2="153.5" y2="1550.6" stroke="#000" stroke-width="3" /><line x1="196.4" y1="1543.5" x2="196.4" y2="1550.6" stroke="#000" stroke-width="3" /><line x1="238.8" y1="1543.5" x2="238.8" y2="1550.6" stroke="#000" stroke-width="3" /><line x1="281.2" y1="1543.5" x2="281.2" y2="1550.6" stroke="#000" stroke-width="3" /><line x1="94.5" y1="1422.6" x2="101.5" y2="1422.6" stroke="#000" stroke-width="3" /><line x1="94.5" y1="1465.5" x2="101.5" y2="1465.5" stroke="#000" stroke-width="3" /><line x1="94.5" y1="1508.0" x2="101.5" y2="1508.0" stroke="#000" stroke-width="3" /><path d="M110.6 1434.0 L153.5 1465.5 L196.4 1483.0 L238.8 1491.0 L281.2 1491.0" stroke="#2020a0" stroke-width="1.5" fill="none"/><path d="M110.6 1430V1438M107.6 1430h6M107.6 1438h6" stroke="#2020a0" stroke-width="1.5"/><circle cx="110.6" cy="1434" r="3.6" fill="#2020a0"/><path d="M153.5 1461.5V1469.5M150.5 1461.5h6M150.5 1469.5h6" stroke="#2020a0" stroke-width="1.5"/><circle cx="153.5" cy="1465.5" r="3.6" fill="#2020a0"/><path d="M196.4 1478V1488M193.4 1478h6M193.4 1488h6" stroke="#2020a0" stroke-width="1.5"/><circle cx="196.4" cy="1483" r="3.6" fill="#2020a0"/><path d="M238.8 1488V1494M235.8 1488h6M235.8 1494h6" stroke="#2020a0" stroke-width="1.5"/><circle cx="238.8" cy="1491" r="3.6" fill="#2020a0"/><path d="M281.2 1488V1494M278.2 1488h6M278.2 1494h6" stroke="#2020a0" stroke-width="1.5"/><circle cx="281.2" cy="1491" r="3.6" fill="#2020a0"/><path d="M110.6 1437.3 L153.5 1473.0 L196.4 1491.0 L238.8 1501.0 L281.2 1506.6" stroke="#1f8a1f" stroke-width="1.5" fill="none"/><path d="M110.6 1433.3V1441.3M107.6 1433.3h6M107.6 1441.3h6" stroke="#1f8a1f" stroke-width="1.5"/><circle cx="110.6" cy="1437.3" r="3.6" fill="#1f8a1f"/><path d="M153.5 1470V1476M150.5 1470h6M150.5 1476h6" stroke="#1f8a1f" stroke-width="1.5"/><circle cx="153.5" cy="1473" r="3.6" fill="#1f8a1f"/><path d="M196.4 1486V1496M193.4 1486h6M193.4 1496h6" stroke="#1f8a1f" stroke-width="1.5"/><circle cx="196.4" cy="1491" r="3.6" fill="#1f8a1f"/><path d="M238.8 1497V1505M235.8 1497h6M235.8 1505h6" stroke="#1f8a1f" stroke-width="1.5"/><circle cx="238.8" cy="1501" r="3.6" fill="#1f8a1f"/><path d="M281.2 1504.6V1508.6M278.2 1504.6h6M278.2 1508.6h6" stroke="#1f8a1f" stroke-width="1.5"/><circle cx="281.2" cy="1506.6" r="3.6" fill="#1f8a1f"/><path d="M110.6 1441.4 L153.5 1465.0 L196.4 1481.0 L238.8 1484.8 L281.2 1491.0" stroke="#e0202a" stroke-width="1.5" fill="none"/><path d="M110.6 1437.4V1445.4M107.6 1437.4h6M107.6 1445.4h6" stroke="#e0202a" stroke-width="1.5"/><circle cx="110.6" cy="1441.4" r="3.6" fill="#e0202a"/><path d="M153.5 1460V1470M150.5 1460h6M150.5 1470h6" stroke="#e0202a" stroke-width="1.5"/><circle cx="153.5" cy="1465" r="3.6" fill="#e0202a"/><path d="M196.4 1476V1486M193.4 1476h6M193.4 1486h6" stroke="#e0202a" stroke-width="1.5"/><circle cx="196.4" cy="1481" r="3.6" fill="#e0202a"/><path d="M238.8 1480.8V1488.8M235.8 1480.8h6M235.8 1488.8h6" stroke="#e0202a" stroke-width="1.5"/><circle cx="238.8" cy="1484.8" r="3.6" fill="#e0202a"/><path d="M281.2 1488V1494M278.2 1488h6M278.2 1494h6" stroke="#e0202a" stroke-width="1.5"/><circle cx="281.2" cy="1491" r="3.6" fill="#e0202a"/><text x="234.1" y="1485.3" font-size="24" font-weight="normal" fill="#000">*</text><text x="276.5" y="1490.3" font-size="24" font-weight="normal" fill="#000">*</text><path d="M94.5 1569V1696.3H300.5" stroke="#000" stroke-width="3" fill="none"/><line x1="94.5" y1="1569.6" x2="101.5" y2="1569.6" stroke="#000" stroke-width="3" /><text x="50.4" y="1577.3" font-size="22.5" font-weight="bold" fill="#000">900</text><line x1="94.5" y1="1611.8" x2="101.5" y2="1611.8" stroke="#000" stroke-width="3" /><text x="50.4" y="1619.5" font-size="22.5" font-weight="bold" fill="#000">600</text><line x1="94.5" y1="1654.2" x2="101.5" y2="1654.2" stroke="#000" stroke-width="3" /><text x="50.4" y="1661.9" font-size="22.5" font-weight="bold" fill="#000">300</text><text x="75.3" y="1704.0" font-size="22.5" font-weight="bold" fill="#000">0</text><line x1="110.6" y1="1689.0" x2="110.6" y2="1696.3" stroke="#000" stroke-width="3" /><line x1="153.5" y1="1689.0" x2="153.5" y2="1696.3" stroke="#000" stroke-width="3" /><line x1="196.4" y1="1689.0" x2="196.4" y2="1696.3" stroke="#000" stroke-width="3" /><line x1="238.8" y1="1689.0" x2="238.8" y2="1696.3" stroke="#000" stroke-width="3" /><line x1="281.2" y1="1689.0" x2="281.2" y2="1696.3" stroke="#000" stroke-width="3" /><path d="M110.6 1586.3 L153.5 1605.0 L196.4 1627.9 L238.8 1638.6 L281.2 1642.6" stroke="#2020a0" stroke-width="1.5" fill="none"/><path d="M110.6 1581.3V1591.3M107.6 1581.3h6M107.6 1591.3h6" stroke="#2020a0" stroke-width="1.5"/><circle cx="110.6" cy="1586.3" r="3.6" fill="#2020a0"/><path d="M153.5 1601V1609M150.5 1601h6M150.5 1609h6" stroke="#2020a0" stroke-width="1.5"/><circle cx="153.5" cy="1605" r="3.6" fill="#2020a0"/><path d="M196.4 1622.9V1632.9M193.4 1622.9h6M193.4 1632.9h6" stroke="#2020a0" stroke-width="1.5"/><circle cx="196.4" cy="1627.9" r="3.6" fill="#2020a0"/><path d="M238.8 1634.6V1642.6M235.8 1634.6h6M235.8 1642.6h6" stroke="#2020a0" stroke-width="1.5"/><circle cx="238.8" cy="1638.6" r="3.6" fill="#2020a0"/><path d="M281.2 1638.6V1646.6M278.2 1638.6h6M278.2 1646.6h6" stroke="#2020a0" stroke-width="1.5"/><circle cx="281.2" cy="1642.6" r="3.6" fill="#2020a0"/><path d="M110.6 1589.0 L153.5 1622.5 L196.4 1646.6 L238.8 1654.2 L281.2 1658.0" stroke="#1f8a1f" stroke-width="1.5" fill="none"/><path d="M110.6 1584V1594M107.6 1584h6M107.6 1594h6" stroke="#1f8a1f" stroke-width="1.5"/><circle cx="110.6" cy="1589" r="3.6" fill="#1f8a1f"/><path d="M153.5 1619.5V1625.5M150.5 1619.5h6M150.5 1625.5h6" stroke="#1f8a1f" stroke-width="1.5"/><circle cx="153.5" cy="1622.5" r="3.6" fill="#1f8a1f"/><path d="M196.4 1642.6V1650.6M193.4 1642.6h6M193.4 1650.6h6" stroke="#1f8a1f" stroke-width="1.5"/><circle cx="196.4" cy="1646.6" r="3.6" fill="#1f8a1f"/><path d="M238.8 1652.2V1656.2M235.8 1652.2h6M235.8 1656.2h6" stroke="#1f8a1f" stroke-width="1.5"/><circle cx="238.8" cy="1654.2" r="3.6" fill="#1f8a1f"/><path d="M281.2 1656V1660M278.2 1656h6M278.2 1660h6" stroke="#1f8a1f" stroke-width="1.5"/><circle cx="281.2" cy="1658" r="3.6" fill="#1f8a1f"/><path d="M110.6 1576.3 L153.5 1614.0 L196.4 1632.0 L238.8 1638.6 L281.2 1640.7" stroke="#e0202a" stroke-width="1.5" fill="none"/><path d="M110.6 1571.3V1581.3M107.6 1571.3h6M107.6 1581.3h6" stroke="#e0202a" stroke-width="1.5"/><circle cx="110.6" cy="1576.3" r="3.6" fill="#e0202a"/><path d="M153.5 1609V1619M150.5 1609h6M150.5 1619h6" stroke="#e0202a" stroke-width="1.5"/><circle cx="153.5" cy="1614" r="3.6" fill="#e0202a"/><path d="M196.4 1627V1637M193.4 1627h6M193.4 1637h6" stroke="#e0202a" stroke-width="1.5"/><circle cx="196.4" cy="1632" r="3.6" fill="#e0202a"/><path d="M238.8 1634.6V1642.6M235.8 1634.6h6M235.8 1642.6h6" stroke="#e0202a" stroke-width="1.5"/><circle cx="238.8" cy="1638.6" r="3.6" fill="#e0202a"/><path d="M281.2 1636.7V1644.7M278.2 1636.7h6M278.2 1644.7h6" stroke="#e0202a" stroke-width="1.5"/><circle cx="281.2" cy="1640.7" r="3.6" fill="#e0202a"/><text x="276.5" y="1636.3" font-size="24" font-weight="normal" fill="#000">*</text><text x="103.5" y="1723.3" font-size="24" font-weight="bold" fill="#000">1</text><text x="146.9" y="1723.5" font-size="24" font-weight="bold" fill="#000">2</text><text x="189.9" y="1723.3" font-size="24" font-weight="bold" fill="#000">3</text><text x="232.0" y="1723.3" font-size="24" font-weight="bold" fill="#000">4</text><text x="274.5" y="1723.2" font-size="24" font-weight="bold" fill="#000">5</text><text x="170.0" y="1738.9" font-size="22.5" font-weight="bold" fill="#000">Days</text><text x="-10.0" y="1489.4" font-size="22.5" font-weight="bold" fill="#000" transform="rotate(-90 49.6 1483.6)">Latency (s)</text><text x="-22.3" y="1634.6" font-size="21.8" font-weight="bold" fill="#000" transform="rotate(-90 40.3 1629.0)">Length (cm)</text><line x1="170.4" y1="1382.9" x2="194.6" y2="1382.9" stroke="#e0202a" stroke-width="1.5" /><circle cx="182.5" cy="1382.9" r="3.6" fill="#e0202a"/><line x1="170.4" y1="1406.0" x2="194.6" y2="1406.0" stroke="#1f8a1f" stroke-width="1.5" /><circle cx="182.5" cy="1406" r="3.6" fill="#1f8a1f"/><line x1="170.4" y1="1429.3" x2="194.6" y2="1429.3" stroke="#2020a0" stroke-width="1.5" /><circle cx="182.5" cy="1429.3" r="3.6" fill="#2020a0"/><text x="207.9" y="1390.8" font-size="21" font-weight="bold" fill="#000" >Control</text><text x="207.9" y="1413.4" font-size="21" font-weight="bold" fill="#000" >Cyst-C</text><text x="207.9" y="1436.7" font-size="21" font-weight="bold" fill="#000">Cyst-C<tspan font-size="15" dy="-8.5">L68Q</tspan></text><clipPath id="m20"><rect x="349.1" y="1357.0" width="123.6" height="122.4"/></clipPath><g clip-path="url(#m20)"><rect x="349.1" y="1357.0" width="123.6" height="122.4" fill="#020a78" /><g stroke="#8a80e8" stroke-width="1" fill="none"><circle cx="410.9" cy="1417.8" r="59.9"/><circle cx="410.9" cy="1417.8" r="39.6"/><circle cx="410.9" cy="1417.8" r="19.8"/></g><g stroke="#c8c8ff" stroke-width="1"><line x1="410.9" y1="1357" x2="410.9" y2="1479.4"/><line x1="349.1" y1="1417.8" x2="472.70000000000005" y2="1417.8"/></g><path d="M415.7 1435.4h0M412.6 1433.9h0M409.7 1432.1h0M406.3 1432.8h0M403.2 1434.4h0M400.0 1436.0h0M396.8 1437.2h0M393.4 1437.7h0M390.0 1437.9h0M386.4 1437.6h0M382.9 1436.9h0M379.5 1435.8h0M376.2 1434.2h0M373.1 1432.4h0M370.3 1430.3h0M367.6 1428.0h0M365.2 1425.3h0M363.2 1422.4h0M362.0 1419.2h0M361.3 1415.7h0M361.7 1412.1h0M362.5 1408.6h0M363.7 1405.4h0M365.9 1402.5h0M368.2 1399.9h0M370.6 1397.3h0M373.2 1395.0h0M376.1 1393.2h0M379.1 1391.4h0M382.2 1389.9h0M385.4 1388.7h0M388.7 1387.8h0M392.2 1387.8h0M395.6 1388.6h0M398.3 1390.7h0M400.5 1393.4h0M401.7 1396.6h0M401.6 1400.0h0M404.4 1397.9h0M407.1 1395.6h0M409.9 1393.6h0M412.8 1391.6h0M415.9 1390.2h0M419.1 1389.2h0M422.7 1388.5h0M426.2 1388.6h0M429.4 1389.7h0M432.3 1391.6h0M435.0 1394.0h0M437.3 1396.4h0M439.4 1399.2h0M441.3 1402.3h0M443.0 1405.4h0M444.5 1408.5h0M445.5 1411.8h0M446.2 1415.2h0M446.7 1418.7h0M446.8 1422.3h0M446.2 1425.7h0M445.2 1429.0h0M443.8 1432.2h0M441.9 1435.1h0M439.3 1437.6h0M436.3 1439.3h0M432.8 1440.3h0M429.3 1440.8h0M425.8 1440.8h0M422.3 1440.7h0M418.7 1440.3h0M415.2 1439.2h0M412.0 1438.0h0M408.8 1436.5h0M405.9 1434.6h0M403.0 1432.6h0M399.8 1431.3h0M396.7 1432.8h0M395.2 1435.8h0M392.8 1438.4h0M390.2 1440.7h0M387.3 1442.7h0M384.1 1444.1h0M380.9 1445.4h0M377.6 1446.6h0M374.2 1447.6h0M370.9 1448.6h0M367.3 1448.9h0M363.9 1448.8h0M361.6 1446.3h0M359.9 1443.2h0M358.4 1440.0h0M357.2 1436.7h0M356.1 1433.3h0M355.2 1429.8h0M354.6 1426.4h0M354.2 1423.1h0M355.1 1419.6h0M356.9 1416.4h0M359.0 1413.5h0M361.2 1410.9h0M363.8 1408.5h0M366.5 1406.1h0M369.4 1404.0h0M372.6 1402.3h0M375.8 1401.0h0M379.1 1399.9h0M382.4 1399.1h0M385.7 1398.0h0M389.1 1397.2h0M392.4 1396.3h0M395.7 1397.1h0M398.7 1398.8h0M402.0 1397.7h0M404.2 1395.1h0M406.3 1392.2h0M408.5 1389.4h0M410.6 1386.5h0M412.8 1383.9h0M415.1 1381.3h0M417.4 1378.7h0M419.9 1376.3h0M422.9 1374.2h0M426.2 1372.7h0M429.6 1372.0h0M433.2 1372.1h0M436.6 1372.6h0M439.9 1373.7h0M442.8 1375.4h0M445.4 1377.7h0M447.6 1380.5h0M449.4 1383.6h0M450.8 1386.7h0M452.0 1389.9h0M453.0 1393.2h0M453.6 1396.7h0M454.3 1400.2h0M454.9 1403.8h0M455.5 1407.1h0M455.7 1410.7h0M455.4 1414.1h0M454.6 1417.4h0M453.5 1420.6h0M451.9 1423.7h0M449.7 1426.3h0M447.2 1428.7h0M444.4 1430.9h0M441.3 1432.5h0M438.0 1433.8h0M434.6 1434.5h0M431.0 1435.1h0M427.6 1435.7h0M424.3 1436.4h0M421.5 1438.5h0M422.2 1441.9h0M423.0 1445.2h0M423.5 1448.7h0M423.3 1452.3h0M422.8 1455.8h0M422.0 1459.2h0M421.0 1462.5h0M419.3 1465.7h0M417.2 1468.5h0M414.7 1471.0h0M412.4 1473.5h0M409.1 1474.8h0M405.7 1474.5h0M402.2 1474.1h0M398.8 1473.5h0M395.4 1472.6h0M392.1 1471.6h0M388.9 1470.3h0M385.7 1468.9h0M382.5 1467.2h0M379.6 1465.4h0M378.6 1462.1h0M378.1 1458.6h0M378.4 1455.2h0M379.3 1451.7h0M380.5 1448.4h0M382.2 1445.3h0M384.0 1442.1h0M385.6 1439.1h0M387.6 1436.0h0M389.6 1433.0h0M391.7 1430.3h0M393.9 1427.6h0M396.1 1425.0h0M398.3 1422.3h0M400.3 1419.5h0M400.7 1416.1h0M402.0 1412.9h0M403.5 1409.8h0M404.7 1406.6h0M405.7 1403.3h0M406.6 1399.9h0M406.8 1396.4h0M407.1 1392.9h0M407.2 1389.5h0M407.5 1386.0h0M407.9 1382.4h0M408.5 1379.0h0M409.4 1375.7h0M410.7 1372.3h0M412.1 1369.1h0M413.8 1365.8h0M415.6 1362.8h0M418.7 1361.4h0M422.2 1362.0h0M425.5 1362.8h0M428.9 1363.8h0M432.2 1365.0h0M435.3 1366.4h0M438.4 1368.0h0M441.4 1369.8h0M444.3 1371.7h0M447.0 1373.8h0M449.6 1376.1h0M452.0 1378.5h0M451.4 1381.8h0M450.2 1385.0h0M448.2 1387.9h0M445.6 1390.2h0M442.8 1392.3h0M442.9 1395.7h0M446.1 1397.2h0M449.1 1399.0h0M452.0 1401.3h0M454.4 1403.9h0M456.3 1406.8h0M457.7 1410.0h0M458.7 1413.5h0M459.0 1416.9h0M458.9 1420.4h0M458.3 1424.0h0M457.1 1427.4h0M455.2 1430.4h0M452.8 1433.1h0M449.8 1435.1h0M446.7 1436.6h0M443.4 1437.7h0M440.0 1438.5h0M436.5 1439.3h0M433.0 1439.9h0M429.6 1440.3h0M426.2 1440.5h0M422.7 1440.5h0M419.1 1440.4h0M415.5 1440.0h0M412.2 1439.2h0M409.0 1437.6h0M406.1 1435.4h0M403.8 1432.8h0M402.3 1429.6h0M401.3 1426.1h0M400.8 1422.7h0M400.9 1419.1h0M401.1 1415.7h0M401.6 1412.0h0M402.4 1408.6h0M403.9 1405.4h0M405.8 1402.5h0M408.0 1399.8h0M406.4 1396.8h0M403.0 1395.8h0M399.7 1394.5h0M396.7 1392.8h0M394.0 1390.5h0M391.4 1388.1h0M389.3 1385.2h0M387.8 1382.1h0M386.4 1378.9h0M385.3 1375.5h0M384.6 1372.0h0M384.4 1368.4h0M387.0 1366.1h0M390.2 1364.8h0M393.4 1363.6h0M396.7 1362.7h0M400.2 1361.9h0M403.6 1361.4h0M407.1 1361.0h0M410.6 1360.9h0M414.0 1361.0h0M417.5 1361.3h0M420.9 1361.8h0M424.4 1362.5h0M427.8 1363.5h0M431.1 1364.6h0M433.5 1367.2h0M434.4 1370.5h0M436.0 1373.6h0M438.0 1376.5h0M440.8 1378.4h0M443.6 1380.5h0M446.3 1382.5h0M449.7 1382.5h0M453.2 1382.7h0M456.5 1383.7h0M458.6 1386.6h0M460.4 1389.6h0M462.1 1392.8h0M463.5 1396.1h0M464.8 1399.4h0M465.9 1402.9h0M466.7 1406.3h0M467.3 1409.8h0M467.7 1413.3h0M467.8 1416.8h0M467.8 1420.3h0M467.5 1423.8h0M467.1 1427.3h0M466.4 1430.6h0M465.5 1433.9h0M462.9 1436.2h0M459.5 1436.4h0M456.1 1436.4h0M452.6 1436.0h0M449.2 1435.5h0M446.0 1434.4h0M442.9 1432.6h0M440.3 1430.4h0M437.9 1427.9h0M436.3 1424.8h0M435.0 1421.5h0M433.5 1418.4h0M431.8 1415.4h0M429.5 1412.9h0M426.0 1412.1h0M422.6 1412.6h0M419.1 1413.5h0M415.7 1414.5h0M412.2 1415.1h0M408.7 1415.5h0M405.1 1415.7h0M401.7 1415.5h0M398.2 1415.0h0M394.8 1414.4h0M391.3 1413.6h0" stroke="#3a9cff" stroke-width="2.5" stroke-linecap="round" fill="none" /><path d="M370.2 1398.1h0M374.0 1394.8h0M376.8 1393.7h0M386.4 1388.5h0M397.8 1390.0h0M399.9 1392.5h0M402.1 1396.4h0M400.9 1399.0h0M405.4 1398.2h0M406.6 1395.2h0M410.8 1393.9h0M413.2 1390.9h0M418.4 1389.4h0M429.3 1388.8h0M431.6 1391.7h0M437.8 1396.5h0M439.1 1374.3h0M441.9 1375.2h0M446.0 1376.7h0M448.3 1380.7h0M448.5 1383.1h0M453.4 1393.3h0M452.7 1395.7h0M454.5 1399.3h0M455.8 1403.5h0M455.3 1410.6h0M456.4 1413.2h0M454.7 1418.0h0M446.9 1429.2h0M445.3 1430.3h0M441.4 1432.9h0M431.1 1435.5h0M428.3 1435.9h0M451.8 1402.1h0M455.4 1404.8h0M456.8 1406.0h0M457.0 1409.5h0M457.9 1412.5h0M458.6 1416.6h0M459.7 1421.3h0M457.4 1424.3h0M454.2 1430.5h0M452.4 1433.6h0M450.0 1435.0h0M446.5 1437.6h0M443.6 1438.0h0M440.9 1438.9h0M437.0 1439.5h0M433.7 1439.5h0M426.2 1439.7h0M412.7 1438.4h0M408.6 1436.8h0M405.8 1434.6h0M429.3 1413.3h0M426.6 1413.1h0M423.1 1411.9h0M418.2 1412.6h0M412.3 1414.7h0M408.6 1414.5h0M405.4 1415.4h0M401.5 1416.3h0M397.9 1415.7h0M394.1 1413.9h0M390.8 1413.3h0" stroke="#7af0a0" stroke-width="2.8" stroke-linecap="round" fill="none" /><path d="M409.7 1432.1h0M408.8 1436.5h0M384.1 1444.1h0M426.2 1372.7h0M414.7 1471.0h0M403.5 1409.8h0" stroke="#f0e040" stroke-width="3.0" stroke-linecap="round" fill="none" /></g><clipPath id="m21"><rect x="349.1" y="1484.0" width="123.6" height="122.3"/></clipPath><g clip-path="url(#m21)"><rect x="349.1" y="1484.0" width="123.6" height="122.3" fill="#020a78" /><g stroke="#8a80e8" stroke-width="1" fill="none"><circle cx="410.9" cy="1544.8" r="59.9"/><circle cx="410.9" cy="1544.8" r="39.6"/><circle cx="410.9" cy="1544.8" r="19.8"/></g><g stroke="#c8c8ff" stroke-width="1"><line x1="410.9" y1="1484" x2="410.9" y2="1606.3"/><line x1="349.1" y1="1544.8" x2="472.70000000000005" y2="1544.8"/></g><path d="M394.2 1574.5h0M392.8 1571.4h0M392.1 1567.9h0M392.3 1564.4h0M393.1 1561.0h0M394.5 1557.8h0M396.3 1554.7h0M398.3 1551.9h0M399.8 1548.8h0M398.7 1545.5h0M395.4 1544.3h0M392.2 1542.8h0M389.1 1541.1h0M386.0 1539.2h0M383.3 1537.1h0M380.7 1534.8h0M379.0 1531.8h0M378.3 1528.4h0M378.5 1524.9h0M379.6 1521.6h0M381.6 1518.8h0M383.8 1516.0h0M386.1 1513.3h0M388.5 1510.7h0M390.9 1508.0h0M393.4 1505.5h0M396.0 1503.2h0M398.9 1501.2h0M401.8 1499.1h0M404.8 1497.4h0M407.9 1495.7h0M411.2 1494.6h0M414.6 1493.9h0M418.2 1493.6h0M421.7 1493.7h0M425.2 1494.3h0M428.5 1495.2h0M431.6 1496.6h0M434.8 1498.4h0M437.7 1500.6h0M440.3 1503.1h0M442.6 1505.7h0M444.6 1508.6h0M446.1 1511.8h0M447.3 1515.0h0M447.6 1518.5h0M447.4 1521.9h0M447.4 1525.5h0M446.7 1528.9h0M445.5 1532.1h0M444.0 1535.2h0M441.9 1537.9h0M439.2 1540.1h0M436.2 1542.0h0M433.2 1543.6h0M430.3 1545.5h0M427.2 1547.0h0M424.2 1548.7h0M425.3 1552.0h0M426.6 1555.2h0M426.9 1558.7h0M426.3 1562.1h0M425.3 1565.4h0M422.7 1567.7h0M419.6 1569.1h0M416.3 1570.3h0M413.0 1571.3h0M409.8 1572.6h0M406.6 1574.1h0M403.4 1575.7h0M400.2 1576.8h0M396.8 1577.4h0M393.3 1577.7h0M389.8 1577.6h0M386.4 1576.7h0M383.0 1575.4h0M380.1 1573.5h0M377.4 1571.1h0M375.4 1568.3h0M374.1 1564.9h0M373.4 1561.4h0M373.2 1557.8h0M373.4 1554.3h0M373.7 1550.9h0M373.8 1547.3h0M374.3 1543.9h0M374.5 1540.5h0M374.7 1536.9h0M375.3 1533.5h0M376.8 1530.3h0M378.5 1527.3h0M381.1 1524.8h0M383.9 1522.7h0M387.0 1521.1h0M390.2 1519.7h0M393.4 1518.3h0M396.5 1516.8h0M399.0 1514.4h0M399.0 1511.0h0M397.8 1507.7h0M397.1 1504.3h0M396.6 1500.8h0M396.6 1497.2h0M397.1 1493.8h0M397.9 1490.4h0M400.9 1488.7h0M404.3 1488.2h0M407.8 1487.9h0M411.3 1487.8h0M414.7 1488.0h0M418.1 1488.3h0M421.5 1488.8h0M424.9 1489.6h0M428.2 1490.5h0M431.5 1491.7h0M434.8 1493.1h0M438.0 1494.7h0M441.0 1496.4h0M443.9 1498.3h0M446.7 1500.5h0M447.4 1504.0h0M447.2 1507.5h0M446.7 1511.0h0M446.1 1514.3h0M445.4 1517.7h0M444.7 1521.1h0M443.8 1524.4h0M442.7 1527.7h0M441.3 1530.9h0M439.6 1533.9h0M437.4 1536.5h0M434.2 1538.1h0M430.8 1538.1h0M427.5 1537.1h0M424.3 1535.8h0M423.3 1539.1h0M423.8 1542.6h0M423.8 1546.0h0M423.6 1549.4h0M422.2 1552.5h0M420.0 1555.2h0M417.3 1557.4h0M414.2 1559.0h0M410.7 1559.7h0M407.2 1559.4h0M403.8 1558.4h0M400.4 1557.6h0M397.0 1556.7h0M393.8 1555.6h0M390.4 1554.4h0M387.0 1553.3h0M383.7 1551.9h0M380.6 1550.2h0M377.8 1548.2h0M375.3 1545.8h0M373.2 1543.0h0M371.4 1539.9h0M370.1 1536.5h0M369.3 1533.1h0M369.4 1529.6h0M370.1 1526.1h0M371.7 1522.9h0M374.0 1520.2h0M376.5 1517.8h0M379.2 1515.8h0M382.2 1514.1h0M385.3 1512.4h0M388.3 1510.7h0M391.5 1509.4h0M394.9 1508.4h0M398.2 1507.5h0M401.7 1506.9h0M405.2 1506.7h0M408.6 1507.2h0M411.8 1508.4h0M414.8 1510.1h0M417.4 1512.4h0M419.3 1515.2h0M422.2 1513.3h0M425.1 1511.4h0M428.5 1510.5h0M432.0 1510.6h0M435.3 1511.3h0M438.4 1512.6h0M441.5 1514.1h0M444.4 1516.1h0M447.2 1518.2h0M449.7 1520.7h0M452.0 1523.3h0M454.2 1526.2h0M456.4 1528.9h0M458.6 1531.8h0M460.6 1534.6h0M462.5 1537.7h0M464.2 1540.9h0M465.5 1544.0h0M466.5 1547.4h0M466.8 1550.9h0M466.2 1554.3h0M464.8 1557.6h0M462.8 1560.5h0M460.0 1562.7h0M456.9 1564.3h0M453.6 1565.7h0M450.4 1567.1h0M447.1 1568.0h0M443.8 1569.0h0M440.4 1570.0h0M437.1 1571.0h0M433.9 1572.1h0M430.6 1573.2h0M427.2 1574.1h0M423.7 1574.5h0M420.3 1574.6h0M416.7 1574.3h0M413.3 1573.5h0M410.2 1572.2h0M407.1 1570.4h0M404.4 1568.2h0M401.9 1565.8h0M399.7 1563.0h0M397.8 1560.2h0M395.3 1557.8h0M391.9 1558.4h0M388.4 1559.1h0M384.9 1559.4h0M381.5 1559.3h0M378.0 1558.7h0M374.6 1558.1h0M371.2 1557.0h0M368.2 1555.3h0M365.5 1552.9h0M363.4 1550.1h0M361.2 1547.2h0M359.4 1544.2h0M357.8 1541.1h0M356.7 1537.9h0M355.6 1534.6h0M355.6 1531.1h0M356.6 1527.7h0M357.7 1524.4h0M359.1 1521.2h0M360.6 1518.1h0M362.3 1515.1h0M364.2 1512.2h0M366.2 1509.5h0M368.4 1506.8h0M370.9 1504.3h0M374.1 1503.1h0M377.4 1504.5h0M380.6 1506.0h0M383.7 1507.5h0M387.0 1508.6h0M390.4 1509.6h0M393.6 1511.0h0M395.8 1513.7h0M397.0 1516.9h0M397.4 1520.4h0M397.0 1523.8h0M395.8 1527.1h0M399.2 1527.1h0M402.6 1526.2h0M406.0 1525.5h0M409.6 1525.1h0M413.0 1525.0h0M416.6 1525.3h0M419.9 1526.5h0M423.0 1528.3h0M425.9 1530.3h0M428.6 1532.3h0M431.3 1534.5h0M434.0 1536.7h0M436.2 1539.5h0M438.1 1542.4h0M440.1 1545.4h0M441.8 1548.6h0M443.1 1551.9h0M444.5 1555.2h0M445.9 1558.4h0M447.3 1561.5h0M448.2 1564.8h0M448.7 1568.4h0M448.5 1571.9h0M447.1 1575.2h0M444.7 1577.8h0M441.6 1579.2h0M438.2 1579.8h0M434.7 1579.6h0M431.3 1578.6h0M428.1 1577.2h0M425.2 1575.4h0M422.4 1573.2h0M419.7 1571.0h0M416.8 1569.0h0M414.0 1566.9h0M411.8 1564.2h0M409.9 1561.4h0M408.2 1558.4h0M406.9 1555.2h0M406.6 1551.7h0M407.0 1548.3h0M408.5 1545.3h0M408.5 1541.8h0M405.5 1540.0h0M402.4 1538.6h0M399.5 1536.7h0M396.9 1534.5h0M394.6 1532.0h0M392.5 1529.1h0" stroke="#3a9cff" stroke-width="2.5" stroke-linecap="round" fill="none" /><path d="M393.0 1506.4h0M395.1 1502.4h0M399.6 1500.6h0M401.4 1498.4h0M404.6 1497.2h0M410.8 1493.8h0M418.0 1493.8h0M421.4 1494.1h0M425.2 1494.4h0M429.1 1495.9h0M432.2 1496.2h0M434.4 1498.2h0M438.4 1500.3h0M441.9 1505.3h0M445.5 1507.9h0M445.5 1511.8h0M448.4 1518.2h0M447.3 1525.4h0M445.4 1532.2h0M445.6 1520.2h0M444.5 1524.3h0M443.0 1527.0h0M439.8 1534.7h0M437.9 1535.8h0M434.8 1537.4h0M430.2 1537.8h0M427.7 1537.9h0M424.5 1536.6h0M423.3 1546.7h0M423.5 1550.1h0M421.5 1552.6h0M420.8 1554.4h0M410.6 1560.5h0M407.9 1560.1h0M403.0 1559.2h0M401.3 1557.6h0M396.3 1557.3h0M392.8 1556.3h0M390.3 1554.3h0M384.5 1559.8h0M382.0 1559.3h0M373.8 1558.0h0M368.9 1555.3h0M365.6 1552.4h0M362.4 1550.8h0M361.1 1547.2h0M360.1 1543.3h0M358.2 1541.4h0M357.2 1528.1h0M357.7 1524.0h0M359.4 1521.6h0M363.3 1515.9h0M365.2 1511.6h0M365.7 1509.9h0M369.3 1506.5h0M370.4 1505.1h0M373.9 1502.6h0M377.0 1504.1h0" stroke="#7af0a0" stroke-width="2.8" stroke-linecap="round" fill="none" /><path d="M386.1 1513.3h0M393.4 1505.5h0M386.4 1576.7h0M442.7 1527.7h0M373.2 1543.0h0M391.5 1509.4h0M433.9 1572.1h0" stroke="#f0e040" stroke-width="3.0" stroke-linecap="round" fill="none" /></g><clipPath id="m22"><rect x="349.1" y="1613.3" width="123.6" height="122.2"/></clipPath><g clip-path="url(#m22)"><rect x="349.1" y="1613.3" width="123.6" height="122.2" fill="#020a78" /><g stroke="#8a80e8" stroke-width="1" fill="none"><circle cx="410.9" cy="1674.0" r="59.9"/><circle cx="410.9" cy="1674.0" r="39.6"/><circle cx="410.9" cy="1674.0" r="19.8"/></g><g stroke="#c8c8ff" stroke-width="1"><line x1="410.9" y1="1613.3" x2="410.9" y2="1735.5"/><line x1="349.1" y1="1674.0" x2="472.70000000000005" y2="1674.0"/></g><path d="M427.2 1727.5h0M424.3 1729.4h0M420.9 1730.1h0M417.5 1730.6h0M413.9 1730.9h0M410.5 1731.0h0M406.9 1730.8h0M403.5 1730.5h0M400.9 1728.3h0M399.1 1725.4h0M397.8 1722.0h0M396.9 1718.6h0M396.3 1715.2h0M395.7 1711.7h0M395.4 1708.3h0M395.4 1704.9h0M395.4 1701.3h0M395.4 1697.8h0M395.2 1694.4h0M395.7 1690.9h0M396.7 1687.6h0M398.3 1684.4h0M400.5 1681.7h0M402.8 1679.2h0M406.0 1677.8h0M403.1 1676.0h0M400.2 1673.8h0M397.6 1671.4h0M395.2 1668.7h0M393.1 1665.9h0M391.5 1662.7h0M390.4 1659.4h0M390.0 1655.9h0M390.4 1652.5h0M391.2 1649.1h0M392.9 1646.0h0M395.3 1643.5h0M398.3 1641.7h0M401.4 1640.1h0M404.5 1638.4h0M407.3 1636.4h0M410.0 1634.2h0M413.2 1632.6h0M416.7 1631.9h0M420.3 1631.8h0M423.8 1632.4h0M427.1 1633.5h0M430.1 1635.4h0M432.7 1637.7h0M435.0 1640.3h0M436.6 1643.3h0M437.7 1646.7h0M438.2 1650.0h0M438.2 1653.5h0M438.0 1657.2h0M437.8 1660.7h0M437.1 1664.2h0M436.5 1667.6h0M435.7 1671.0h0M434.9 1674.3h0M437.0 1677.0h0M439.9 1679.0h0M442.0 1681.6h0M444.0 1684.5h0M446.2 1687.3h0M448.3 1690.2h0M450.0 1693.2h0M451.4 1696.4h0M452.3 1699.9h0M452.8 1703.3h0M453.2 1707.0h0M453.5 1710.4h0M451.9 1713.5h0M449.5 1715.9h0M446.8 1718.2h0M444.1 1720.3h0M441.2 1722.2h0M438.2 1724.0h0M435.2 1725.6h0M432.0 1726.9h0M428.7 1728.1h0M425.4 1728.7h0M422.1 1727.5h0M419.1 1725.8h0M416.3 1723.8h0M413.6 1721.6h0M411.8 1718.8h0M411.0 1715.3h0M410.6 1711.8h0M411.0 1708.4h0M412.3 1705.1h0M413.9 1702.0h0M415.8 1698.9h0M417.6 1696.1h0M419.6 1693.2h0M421.8 1690.4h0M424.2 1688.0h0M426.3 1685.3h0M425.8 1681.9h0M425.4 1678.4h0M425.8 1675.0h0M426.7 1671.7h0M427.9 1668.4h0M429.1 1665.2h0M429.9 1661.8h0M430.2 1658.3h0M430.2 1654.8h0M430.4 1651.3h0M431.1 1647.8h0M432.1 1644.5h0M433.3 1641.3h0M434.7 1638.0h0M436.8 1635.2h0M439.5 1633.1h0M442.5 1631.5h0M445.8 1630.3h0M449.1 1631.8h0M451.6 1634.2h0M453.9 1636.7h0M456.1 1639.4h0M458.1 1642.2h0M460.0 1645.1h0M461.7 1648.3h0M463.2 1651.6h0M464.5 1654.9h0M465.6 1658.3h0M466.5 1661.6h0M467.1 1665.1h0M467.6 1668.6h0M467.8 1672.0h0M467.8 1675.5h0M467.6 1678.9h0M467.2 1682.4h0M466.6 1685.8h0M465.8 1689.3h0M464.7 1692.7h0M463.5 1696.0h0M462.0 1699.1h0M460.4 1702.1h0M458.6 1705.1h0M456.7 1707.9h0M454.6 1710.6h0M452.2 1713.2h0M449.8 1715.7h0M447.1 1718.0h0M444.4 1720.1h0M441.5 1722.0h0M438.6 1723.8h0M435.5 1725.4h0M432.3 1726.8h0M429.0 1728.0h0M425.7 1729.0h0M422.3 1729.8h0M418.9 1730.4h0M415.5 1730.8h0M412.1 1731.0h0M408.6 1730.9h0M405.1 1730.7h0M403.1 1727.6h0M402.7 1724.2h0M402.4 1720.7h0M402.3 1717.3h0M402.4 1713.9h0M402.5 1710.2h0M402.6 1706.6h0M402.9 1703.1h0M402.9 1699.5h0M402.8 1695.9h0M402.4 1692.5h0M402.1 1689.1h0M402.2 1685.6h0M403.0 1682.2h0M403.6 1678.8h0M405.1 1675.6h0M406.5 1672.4h0M407.4 1669.1h0M407.2 1665.7h0M406.7 1662.3h0M406.2 1658.9h0M405.8 1655.4h0M405.5 1651.9h0M405.5 1648.3h0M405.6 1644.7h0M406.0 1641.0h0M406.9 1637.7h0M408.1 1634.4h0M409.8 1631.1h0M411.7 1628.0h0M413.9 1625.2h0M416.3 1622.7h0M419.4 1620.7h0M422.7 1619.3h0M426.1 1619.2h0M429.4 1620.2h0M432.7 1621.4h0M435.8 1622.8h0M438.9 1624.5h0M441.9 1626.3h0M444.9 1628.3h0M447.6 1630.5h0M450.1 1632.7h0M452.5 1635.2h0M454.8 1637.8h0M456.9 1640.5h0M458.9 1643.4h0M460.7 1646.4h0M462.3 1649.6h0M461.8 1653.0h0M459.6 1655.9h0M457.1 1658.5h0M454.4 1660.7h0M451.5 1662.6h0M448.4 1664.2h0M445.2 1665.5h0M442.3 1667.4h0M440.3 1670.2h0M440.0 1673.7h0M440.0 1677.2h0M438.5 1680.3h0M436.6 1683.1h0M434.5 1686.0h0M432.8 1689.0h0M431.4 1692.2h0M430.6 1695.6h0M430.2 1699.1h0M429.2 1702.5h0M427.8 1705.7h0M426.5 1708.8h0M424.9 1712.1h0M423.2 1715.3h0M421.1 1718.3h0M419.0 1721.2h0M416.7 1724.0h0M414.1 1726.6h0M411.2 1728.8h0M408.1 1730.6h0M404.5 1730.6h0M401.1 1730.1h0M397.7 1729.4h0M394.2 1728.5h0M390.8 1727.3h0M387.5 1725.9h0M384.3 1724.4h0M381.2 1722.6h0M378.2 1720.7h0M375.4 1718.6h0M372.8 1716.4h0M370.2 1713.9h0M367.9 1711.3h0M365.7 1708.7h0M363.7 1705.8h0M361.8 1702.9h0M360.4 1699.7h0M360.9 1696.1h0M362.2 1692.8h0M364.2 1689.9h0M366.7 1687.3h0M369.6 1685.5h0M372.7 1684.0h0M375.9 1682.3h0M379.2 1681.0h0M382.2 1679.2h0M383.3 1675.9h0M382.0 1672.7h0M380.3 1669.7h0M379.1 1666.5h0M378.4 1663.2h0M377.7 1659.7h0M377.4 1656.3h0M377.6 1652.9h0M378.6 1649.6h0M380.9 1647.0h0M383.9 1645.2h0M386.8 1643.4h0M389.9 1641.7h0M393.0 1640.2h0M396.3 1638.6h0M399.7 1637.4h0M403.2 1636.4h0M406.6 1635.5h0M409.9 1634.8h0M413.5 1634.2h0M416.9 1633.8h0M420.5 1633.6h0M424.2 1633.7h0M427.8 1634.3h0M431.2 1635.5h0M434.4 1637.1h0M437.5 1639.1h0M440.4 1641.2h0M443.1 1643.5h0M445.4 1646.1h0M447.2 1649.1h0M448.8 1652.4h0M450.1 1655.8h0M451.1 1659.1h0M451.9 1662.5h0M452.7 1665.9h0M453.4 1669.3h0M454.2 1672.6h0M455.3 1676.0h0M456.4 1679.3h0M457.0 1682.8h0M457.3 1686.2h0M456.8 1689.7h0M455.7 1693.0h0M452.7 1694.7h0M449.3 1694.2h0M451.5 1696.7h0M453.1 1699.9h0M454.3 1703.3h0M455.1 1706.7h0M455.0 1710.1h0M452.7 1712.7h0M450.2 1715.2h0M447.7 1717.5h0M444.9 1719.7h0M442.1 1721.7h0M439.1 1723.5h0M435.9 1725.2h0M432.7 1726.7h0M429.4 1727.9h0M426.1 1728.9h0M422.8 1729.7h0M419.3 1730.4h0M415.8 1730.8h0M412.4 1731.0h0M408.9 1730.9h0M405.3 1730.7h0M401.9 1730.3h0M399.4 1727.9h0M397.4 1724.9h0M396.2 1721.5h0M395.3 1717.9h0" stroke="#3a9cff" stroke-width="2.5" stroke-linecap="round" fill="none" /><path d="M403.6 1676.4h0M401.0 1674.7h0M397.5 1671.9h0M390.5 1662.8h0M390.6 1655.8h0M389.9 1651.6h0M392.2 1648.9h0M392.8 1647.0h0M395.6 1644.3h0M400.7 1639.3h0M405.5 1639.0h0M406.3 1636.9h0M410.5 1634.0h0M412.4 1631.9h0M416.7 1631.2h0M420.6 1632.1h0M423.6 1631.8h0M426.1 1632.6h0M465.7 1662.6h0M467.1 1665.7h0M468.2 1668.2h0M468.4 1676.2h0M467.9 1678.5h0M464.8 1688.5h0M465.4 1692.4h0M463.8 1695.6h0M461.7 1699.4h0M461.2 1701.6h0M459.1 1704.7h0M456.4 1708.9h0M455.0 1709.9h0M449.5 1716.6h0M446.8 1717.5h0M444.6 1720.9h0M434.7 1726.2h0M431.7 1726.1h0M430.0 1702.1h0M426.5 1709.0h0M424.4 1712.1h0M423.9 1715.5h0M418.7 1721.0h0M414.1 1726.7h0M407.7 1730.3h0M403.6 1731.4h0M400.8 1730.4h0M395.0 1727.8h0M389.9 1726.4h0M387.3 1725.9h0M384.8 1725.0h0M381.3 1723.3h0M375.9 1719.2h0M372.7 1716.7h0M371.2 1714.3h0M367.6 1711.1h0M414.9 1730.1h0M412.2 1731.2h0M408.0 1730.2h0M398.5 1727.3h0M397.3 1724.4h0" stroke="#7af0a0" stroke-width="2.8" stroke-linecap="round" fill="none" /><path d="M400.2 1673.8h0M397.6 1671.4h0M390.4 1659.4h0M435.7 1671.0h0M428.7 1728.1h0M447.1 1718.0h0M406.5 1672.4h0M406.2 1658.9h0M406.0 1641.0h0M411.7 1628.0h0M438.5 1680.3h0M416.7 1724.0h0M404.5 1730.6h0M453.4 1669.3h0M456.8 1689.7h0M426.1 1728.9h0M396.2 1721.5h0" stroke="#f0e040" stroke-width="3.0" stroke-linecap="round" fill="none" /></g><text x="392.2" y="1473.7" font-size="21" font-weight="bold" fill="#fff">Control</text><text x="398.3" y="1600.7" font-size="21" font-weight="bold" fill="#fff">Cyst-C</text><text x="367.8" y="1728.0" font-size="20" font-weight="bold" fill="#fff">Cyst-C<tspan font-size="13.5" dy="-7.5">L68Q</tspan></text><path d="M563.4 1413V1639.2H696.3" stroke="#000" stroke-width="3" fill="none"/><line x1="563.4" y1="1413.9" x2="570.4" y2="1413.9" stroke="#000" stroke-width="3" /><text x="531.9" y="1421.7" font-size="22.5" font-weight="bold" fill="#000">60</text><line x1="563.4" y1="1489.3" x2="570.4" y2="1489.3" stroke="#000" stroke-width="3" /><text x="531.9" y="1497.0" font-size="22.5" font-weight="bold" fill="#000">40</text><line x1="563.4" y1="1564.0" x2="570.4" y2="1564.0" stroke="#000" stroke-width="3" /><text x="531.9" y="1571.8" font-size="22.5" font-weight="bold" fill="#000">20</text><text x="544.4" y="1647.0" font-size="22.5" font-weight="bold" fill="#000">0</text><rect x="578.8" y="1518.6" width="27.2" height="120.6" fill="#fcd9dc" stroke="#d42a2e" stroke-width="2"/><path d="M592.4 1519.6V1511.6M585.9 1511.6H598.9" stroke="#d42a2e" stroke-width="2" fill="none"/><g fill="#d83040"><circle cx="589.5" cy="1476.0" r="1.5"/><circle cx="590.1" cy="1494.0" r="1.5"/><circle cx="591.8" cy="1505.0" r="1.5"/><circle cx="593.5" cy="1516.0" r="1.5"/><circle cx="590.2" cy="1525.0" r="1.5"/><circle cx="590.1" cy="1548.0" r="1.5"/><circle cx="590.8" cy="1552.0" r="1.5"/><circle cx="593.9" cy="1556.0" r="1.5"/></g><rect x="623.4" y="1491.8" width="26.6" height="147.4" fill="#c4f1c2" stroke="#1d7a22" stroke-width="2"/><path d="M636.7 1492.8V1482.8M630.2 1482.8H643.2" stroke="#1d7a22" stroke-width="2" fill="none"/><g fill="#1f7a22"><circle cx="633.3" cy="1460.0" r="1.5"/><circle cx="634.4" cy="1465.0" r="1.5"/><circle cx="635.1" cy="1470.0" r="1.5"/><circle cx="639.9" cy="1478.0" r="1.5"/><circle cx="636.7" cy="1500.0" r="1.5"/><circle cx="638.5" cy="1505.0" r="1.5"/><circle cx="633.5" cy="1513.0" r="1.5"/><circle cx="636.8" cy="1530.0" r="1.5"/></g><rect x="668.0" y="1514.3" width="26.7" height="124.9" fill="#bbbbf7" stroke="#1c1c8e" stroke-width="2"/><path d="M681.3 1515.3V1508.3M674.8 1508.3H687.8" stroke="#1c1c8e" stroke-width="2" fill="none"/><g fill="#1f1f90"><circle cx="681.9" cy="1492.0" r="1.5"/><circle cx="682.4" cy="1494.0" r="1.5"/><circle cx="683.8" cy="1510.0" r="1.5"/><circle cx="679.5" cy="1520.0" r="1.5"/><circle cx="682.5" cy="1525.0" r="1.5"/><circle cx="684.4" cy="1530.0" r="1.5"/></g><path d="M590.0 1417.0V1409.3H681.0V1417.0" stroke="#111" stroke-width="2.4" fill="none"/><text x="614.9" y="1406.5" font-size="26.5" font-weight="normal" fill="#000">n.s.</text><path d="M590.0 1446.0V1438.0H637.2V1446.0" stroke="#111" stroke-width="2.4" fill="none"/><text x="609.2" y="1445.2" font-size="22" font-weight="normal" fill="#000">*</text><text x="400.2" y="1530.2" font-size="21.6" font-weight="bold" fill="#000" transform="rotate(-90 517.8 1524.7)">Time in target zone (%)</text><text x="530.6" y="1687.6" font-size="21" font-weight="bold" fill="#000" transform="rotate(-45 567.6 1680.1)">Control</text><text x="580.0" y="1682.2" font-size="21" font-weight="bold" fill="#000" transform="rotate(-45 614.0 1677.0)">Cyst-C</text><text x="589.8" y="1698.2" font-size="21" font-weight="bold" fill="#000" transform="rotate(-45 642.5 1690.9)">Cyst-C<tspan font-size="15" dy="-8.5">L68Q</tspan></text><defs><radialGradient id="hot"><stop offset="0" stop-color="#8a0000"/><stop offset="0.2" stop-color="#e00000"/><stop offset="0.34" stop-color="#ff9000"/><stop offset="0.45" stop-color="#f0f020"/><stop offset="0.58" stop-color="#40f0d0"/><stop offset="0.75" stop-color="#0090ff" stop-opacity="0.7"/><stop offset="1" stop-color="#0412a0" stop-opacity="0"/></radialGradient></defs><text x="768.1" y="1364.2" font-size="23" font-weight="bold" fill="#000" >F</text><clipPath id="m23"><rect x="831.6" y="1346.5" width="123.8" height="123.0"/></clipPath><g clip-path="url(#m23)"><rect x="831.6" y="1346.5" width="123.8" height="123.0" fill="#0412a0" /><line x1="899.7" y1="1398.2" x2="844.0" y2="1365.0" stroke="#2060f0" stroke-width="12" opacity="0.6" filter="url(#blur3)"/><path d="M903.3 1392.1L847.6 1358.9L840.4 1371.0L896.1 1404.2Z" stroke="#5a78e0" stroke-width="0.7" fill="none" opacity="0.8"/><line x1="899.7" y1="1398.2" x2="949.2" y2="1358.8" stroke="#2060f0" stroke-width="12" opacity="0.6" filter="url(#blur3)"/><path d="M904.0 1403.6L953.6 1364.3L944.9 1353.3L895.3 1392.7Z" stroke="#5a78e0" stroke-width="0.7" fill="none" opacity="0.8"/><line x1="899.7" y1="1398.2" x2="897.2" y2="1469.5" stroke="#2060f0" stroke-width="12" opacity="0.6" filter="url(#blur3)"/><path d="M892.7 1397.9L890.2 1469.3L904.2 1469.7L906.7 1398.4Z" stroke="#5a78e0" stroke-width="0.7" fill="none" opacity="0.8"/><circle cx="876.2" cy="1383.4" r="7" fill="#30b0ff" opacity="0.85" filter="url(#blur3)"/><circle cx="896.0" cy="1398.2" r="7" fill="#30b0ff" opacity="0.85" filter="url(#blur3)"/><circle cx="897.2" cy="1454.7" r="6" fill="#30b0ff" opacity="0.85" filter="url(#blur3)"/><circle cx="857.6" cy="1371.1" r="12.5" fill="url(#hot)"/><circle cx="930.6" cy="1368.6" r="12.5" fill="url(#hot)"/></g><clipPath id="m24"><rect x="969.0" y="1346.5" width="123.8" height="123.0"/></clipPath><g clip-path="url(#m24)"><rect x="969.0" y="1346.5" width="123.8" height="123.0" fill="#0412a0" /><line x1="1037.1" y1="1398.2" x2="981.4" y2="1365.0" stroke="#2060f0" stroke-width="12" opacity="0.6" filter="url(#blur3)"/><path d="M1040.7 1392.1L985.0 1358.9L977.8 1371.0L1033.5 1404.2Z" stroke="#5a78e0" stroke-width="0.7" fill="none" opacity="0.8"/><line x1="1037.1" y1="1398.2" x2="1086.6" y2="1358.8" stroke="#2060f0" stroke-width="12" opacity="0.6" filter="url(#blur3)"/><path d="M1041.4 1403.6L1091.0 1364.3L1082.3 1353.3L1032.7 1392.7Z" stroke="#5a78e0" stroke-width="0.7" fill="none" opacity="0.8"/><line x1="1037.1" y1="1398.2" x2="1034.6" y2="1469.5" stroke="#2060f0" stroke-width="12" opacity="0.6" filter="url(#blur3)"/><path d="M1030.1 1397.9L1027.6 1469.3L1041.6 1469.7L1044.1 1398.4Z" stroke="#5a78e0" stroke-width="0.7" fill="none" opacity="0.8"/><circle cx="985.1" cy="1367.4" r="8" fill="#30b0ff" opacity="0.85" filter="url(#blur3)"/><circle cx="1049.5" cy="1383.4" r="8" fill="#30b0ff" opacity="0.85" filter="url(#blur3)"/><circle cx="1030.9" cy="1398.2" r="7" fill="#30b0ff" opacity="0.85" filter="url(#blur3)"/><circle cx="1033.4" cy="1420.3" r="6" fill="#30b0ff" opacity="0.85" filter="url(#blur3)"/><circle cx="1030.9" cy="1460.9" r="9" fill="#30b0ff" opacity="0.85" filter="url(#blur3)"/><circle cx="1075.5" cy="1362.5" r="13" fill="url(#hot)"/></g><clipPath id="m25"><rect x="1104.4" y="1346.5" width="123.8" height="123.0"/></clipPath><g clip-path="url(#m25)"><rect x="1104.4" y="1346.5" width="123.8" height="123.0" fill="#0412a0" /><line x1="1172.5" y1="1398.2" x2="1116.8" y2="1365.0" stroke="#2060f0" stroke-width="12" opacity="0.6" filter="url(#blur3)"/><path d="M1176.1 1392.1L1120.4 1358.9L1113.2 1371.0L1168.9 1404.2Z" stroke="#5a78e0" stroke-width="0.7" fill="none" opacity="0.8"/><line x1="1172.5" y1="1398.2" x2="1222.0" y2="1358.8" stroke="#2060f0" stroke-width="12" opacity="0.6" filter="url(#blur3)"/><path d="M1176.8 1403.6L1226.4 1364.3L1217.7 1353.3L1168.1 1392.7Z" stroke="#5a78e0" stroke-width="0.7" fill="none" opacity="0.8"/><line x1="1172.5" y1="1398.2" x2="1170.0" y2="1469.5" stroke="#2060f0" stroke-width="12" opacity="0.6" filter="url(#blur3)"/><path d="M1165.5 1397.9L1163.0 1469.3L1177.0 1469.7L1179.5 1398.4Z" stroke="#5a78e0" stroke-width="0.7" fill="none" opacity="0.8"/><circle cx="1166.3" cy="1401.8" r="6" fill="#30b0ff" opacity="0.85" filter="url(#blur3)"/><circle cx="1129.2" cy="1377.2" r="11" fill="url(#hot)"/><circle cx="1205.9" cy="1372.3" r="11" fill="url(#hot)"/><circle cx="1166.3" cy="1392.0" r="14" fill="url(#hot)"/></g><text x="882.9" y="1463.7" font-size="19.5" font-weight="bold" fill="#fff">Control</text><text x="1025.8" y="1463.2" font-size="19.5" font-weight="bold" fill="#fff">Cyst-C</text><text x="1131.7" y="1463.2" font-size="19.5" font-weight="bold" fill="#fff">Cyst-C<tspan font-size="12" dy="-7">L68Q</tspan></text><path d="M861.2 1505V1661.3H995" stroke="#000" stroke-width="3" fill="none"/><line x1="861.2" y1="1505.5" x2="868.2" y2="1505.5" stroke="#000" stroke-width="3" /><text x="830.3" y="1513.2" font-size="22.5" font-weight="bold" fill="#000">30</text><line x1="861.2" y1="1557.3" x2="868.2" y2="1557.3" stroke="#000" stroke-width="3" /><text x="830.3" y="1565.0" font-size="22.5" font-weight="bold" fill="#000">20</text><line x1="861.2" y1="1609.5" x2="868.2" y2="1609.5" stroke="#000" stroke-width="3" /><text x="830.3" y="1617.2" font-size="22.5" font-weight="bold" fill="#000">10</text><text x="842.8" y="1669.0" font-size="22.5" font-weight="bold" fill="#000">0</text><rect x="877.5" y="1603.6" width="26.5" height="57.7" fill="#fcd9dc" stroke="#d42a2e" stroke-width="2"/><path d="M890.8 1604.6V1597.6M884.2 1597.6H897.2" stroke="#d42a2e" stroke-width="2" fill="none"/><g fill="#d83040"><circle cx="889.8" cy="1578.0" r="1.5"/><circle cx="888.6" cy="1588.0" r="1.5"/><circle cx="888.1" cy="1592.0" r="1.5"/><circle cx="894.1" cy="1596.0" r="1.5"/><circle cx="891.4" cy="1610.0" r="1.5"/><circle cx="892.3" cy="1618.0" r="1.5"/><circle cx="891.2" cy="1622.0" r="1.5"/><circle cx="889.8" cy="1625.0" r="1.5"/></g><rect x="921.9" y="1603.0" width="26.6" height="58.3" fill="#c4f1c2" stroke="#1d7a22" stroke-width="2"/><path d="M935.2 1604.0V1597.0M928.7 1597.0H941.7" stroke="#1d7a22" stroke-width="2" fill="none"/><g fill="#1f7a22"><circle cx="936.3" cy="1578.0" r="1.5"/><circle cx="931.4" cy="1590.0" r="1.5"/><circle cx="933.4" cy="1595.0" r="1.5"/><circle cx="933.0" cy="1604.0" r="1.5"/><circle cx="937.1" cy="1610.0" r="1.5"/><circle cx="936.6" cy="1615.0" r="1.5"/></g><rect x="966.6" y="1607.0" width="26.4" height="54.3" fill="#bbbbf7" stroke="#1c1c8e" stroke-width="2"/><path d="M979.8 1608.0V1600.0M973.3 1600.0H986.3" stroke="#1c1c8e" stroke-width="2" fill="none"/><g fill="#1f1f90"><circle cx="976.1" cy="1578.0" r="1.5"/><circle cx="981.4" cy="1588.0" r="1.5"/><circle cx="977.0" cy="1595.0" r="1.5"/><circle cx="979.5" cy="1612.0" r="1.5"/><circle cx="981.2" cy="1625.0" r="1.5"/><circle cx="982.1" cy="1635.0" r="1.5"/></g><path d="M888.0 1513.6V1505.5H979.7V1513.6" stroke="#111" stroke-width="2.4" fill="none"/><text x="912.8" y="1502.0" font-size="26.5" font-weight="normal" fill="#000">n.s.</text><path d="M888.0 1544.0V1535.0H934.8V1544.0" stroke="#111" stroke-width="2.4" fill="none"/><text x="890.3" y="1533.0" font-size="26.5" font-weight="normal" fill="#000">n.s.</text><text x="735.8" y="1588.0" font-size="22.5" font-weight="bold" fill="#000" transform="rotate(-90 792.8 1580.0)">Number of</text><text x="726.8" y="1587.6" font-size="21.8" font-weight="bold" fill="#000" transform="rotate(-90 817.3 1579.8)">novel arm entries</text><text x="829.9" y="1709.9" font-size="21" font-weight="bold" fill="#000" transform="rotate(-45 866.9 1702.4)">Control</text><text x="877.2" y="1705.5" font-size="21" font-weight="bold" fill="#000" transform="rotate(-45 911.2 1700.3)">Cyst-C</text><text x="889.1" y="1718.7" font-size="21" font-weight="bold" fill="#000" transform="rotate(-45 941.8 1711.4)">Cyst-C<tspan font-size="15" dy="-8.5">L68Q</tspan></text><path d="M1107.6 1505V1661.3H1241.5" stroke="#000" stroke-width="3" fill="none"/><line x1="1107.6" y1="1505.5" x2="1114.6" y2="1505.5" stroke="#000" stroke-width="3" /><text x="1076.3" y="1513.2" font-size="22.5" font-weight="bold" fill="#000">45</text><line x1="1107.6" y1="1557.3" x2="1114.6" y2="1557.3" stroke="#000" stroke-width="3" /><text x="1076.6" y="1565.0" font-size="22.5" font-weight="bold" fill="#000">30</text><line x1="1107.6" y1="1609.5" x2="1114.6" y2="1609.5" stroke="#000" stroke-width="3" /><text x="1076.3" y="1617.2" font-size="22.5" font-weight="bold" fill="#000">15</text><text x="1089.1" y="1669.0" font-size="22.5" font-weight="bold" fill="#000">0</text><rect x="1123.3" y="1607.2" width="26.7" height="54.1" fill="#fcd9dc" stroke="#d42a2e" stroke-width="2"/><path d="M1136.7 1608.2V1600.2M1130.2 1600.2H1143.2" stroke="#d42a2e" stroke-width="2" fill="none"/><g fill="#d83040"><circle cx="1135.7" cy="1585.0" r="1.5"/><circle cx="1134.5" cy="1595.0" r="1.5"/><circle cx="1134.0" cy="1600.0" r="1.5"/><circle cx="1140.0" cy="1610.0" r="1.5"/><circle cx="1137.3" cy="1620.0" r="1.5"/><circle cx="1138.2" cy="1630.0" r="1.5"/></g><rect x="1168.7" y="1578.7" width="26.0" height="82.6" fill="#c4f1c2" stroke="#1d7a22" stroke-width="2"/><path d="M1181.7 1579.7V1571.7M1175.2 1571.7H1188.2" stroke="#1d7a22" stroke-width="2" fill="none"/><g fill="#1f7a22"><circle cx="1182.8" cy="1555.0" r="1.5"/><circle cx="1177.9" cy="1565.0" r="1.5"/><circle cx="1179.9" cy="1570.0" r="1.5"/><circle cx="1179.5" cy="1590.0" r="1.5"/><circle cx="1183.6" cy="1598.0" r="1.5"/><circle cx="1183.1" cy="1602.0" r="1.5"/></g><rect x="1213.0" y="1605.2" width="26.5" height="56.1" fill="#bbbbf7" stroke="#1c1c8e" stroke-width="2"/><path d="M1226.2 1606.2V1598.2M1219.8 1598.2H1232.8" stroke="#1c1c8e" stroke-width="2" fill="none"/><g fill="#1f1f90"><circle cx="1222.6" cy="1580.0" r="1.5"/><circle cx="1227.8" cy="1585.0" r="1.5"/><circle cx="1223.4" cy="1592.0" r="1.5"/><circle cx="1226.0" cy="1605.0" r="1.5"/><circle cx="1227.6" cy="1615.0" r="1.5"/><circle cx="1228.6" cy="1625.0" r="1.5"/></g><path d="M1133.6 1507.5V1498.5H1225.4V1507.5" stroke="#111" stroke-width="2.4" fill="none"/><text x="1158.4" y="1496.0" font-size="26.5" font-weight="normal" fill="#000">n.s.</text><path d="M1133.6 1538.0V1528.7H1180.5V1538.0" stroke="#111" stroke-width="2.4" fill="none"/><text x="1148.5" y="1534.2" font-size="22" font-weight="normal" fill="#000">**</text><text x="999.7" y="1586.8" font-size="22.2" font-weight="bold" fill="#000" transform="rotate(-90 1037.7 1578.8)">Time in</text><text x="988.0" y="1584.7" font-size="22.5" font-weight="bold" fill="#000" transform="rotate(-90 1062.0 1578.9)">novel arm (%)</text><text x="1075.2" y="1709.9" font-size="21" font-weight="bold" fill="#000" transform="rotate(-45 1112.2 1702.4)">Control</text><text x="1124.0" y="1706.5" font-size="21" font-weight="bold" fill="#000" transform="rotate(-45 1158.0 1701.3)">Cyst-C</text><text x="1133.9" y="1717.7" font-size="21" font-weight="bold" fill="#000" transform="rotate(-45 1186.6 1710.4)">Cyst-C<tspan font-size="15" dy="-8.5">L68Q</tspan></text>
</svg></body></html>
